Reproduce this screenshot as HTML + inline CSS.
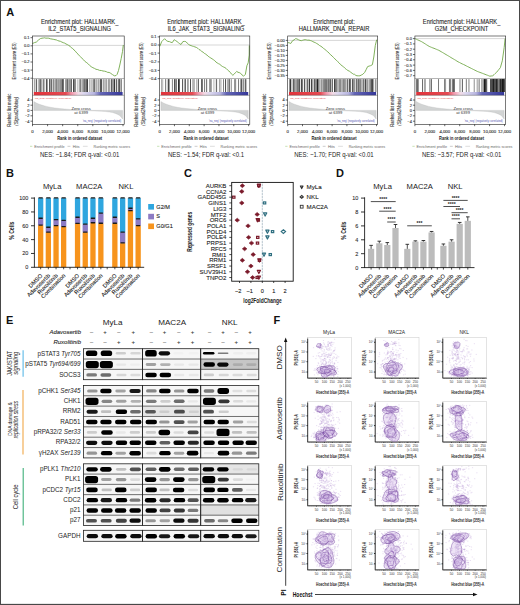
<!DOCTYPE html>
<html><head><meta charset="utf-8"><style>
html,body{margin:0;padding:0;background:#fff;width:520px;height:605px;overflow:hidden}
svg{display:block;font-family:"Liberation Sans", sans-serif}
</style></head><body>
<svg width="520" height="605" viewBox="0 0 520 605" font-family='"Liberation Sans", sans-serif'>
<rect width="520" height="605" fill="#fff"/>
<text x="6.30" y="15.70" font-size="11" text-anchor="start" fill="#111" font-weight="bold" >A</text>
<defs><linearGradient id="rb" x1="0" x2="1" y1="0" y2="0"><stop offset="0" stop-color="#e2323a"/><stop offset="0.36" stop-color="#e64a52"/><stop offset="0.43" stop-color="#f09aae"/><stop offset="0.5" stop-color="#f3dbe6"/><stop offset="0.56" stop-color="#dcd8ef"/><stop offset="0.68" stop-color="#b8b6e0"/><stop offset="0.75" stop-color="#6466b6"/><stop offset="1" stop-color="#35379a"/></linearGradient><filter id="hb" x="-5%" y="-5%" width="110%" height="110%"><feGaussianBlur stdDeviation="0.35"/></filter></defs>
<text x="79.65" y="24.20" font-size="6.6" text-anchor="middle" fill="#222" textLength="77.5" lengthAdjust="spacingAndGlyphs" stroke="#222" stroke-width="0.1" >Enrichment plot: HALLMARK_</text>
<text x="79.65" y="30.90" font-size="6.6" text-anchor="middle" fill="#222" textLength="62.9" lengthAdjust="spacingAndGlyphs" stroke="#222" stroke-width="0.1" >IL2_STAT5_SIGNALING</text>
<line x1="32.50" y1="45.40" x2="124.20" y2="45.40" stroke="#9a9a9a" stroke-width="0.4" />
<line x1="30.50" y1="37.70" x2="32.50" y2="37.70" stroke="#000" stroke-width="0.6" />
<text x="29.50" y="39.10" font-size="4.0" text-anchor="end" fill="#333" stroke="#333" stroke-width="0.1">0.1</text>
<line x1="30.50" y1="45.80" x2="32.50" y2="45.80" stroke="#000" stroke-width="0.6" />
<text x="29.50" y="47.20" font-size="4.0" text-anchor="end" fill="#333" stroke="#333" stroke-width="0.1">0.0</text>
<line x1="30.50" y1="53.90" x2="32.50" y2="53.90" stroke="#000" stroke-width="0.6" />
<text x="29.50" y="55.30" font-size="4.0" text-anchor="end" fill="#333" stroke="#333" stroke-width="0.1">−0.1</text>
<line x1="30.50" y1="62.00" x2="32.50" y2="62.00" stroke="#000" stroke-width="0.6" />
<text x="29.50" y="63.40" font-size="4.0" text-anchor="end" fill="#333" stroke="#333" stroke-width="0.1">−0.2</text>
<line x1="30.50" y1="70.10" x2="32.50" y2="70.10" stroke="#000" stroke-width="0.6" />
<text x="29.50" y="71.50" font-size="4.0" text-anchor="end" fill="#333" stroke="#333" stroke-width="0.1">−0.3</text>
<line x1="30.50" y1="78.20" x2="32.50" y2="78.20" stroke="#000" stroke-width="0.6" />
<text x="29.50" y="79.60" font-size="4.0" text-anchor="end" fill="#333" stroke="#333" stroke-width="0.1">−0.4</text>
<polyline points="32.5,43.5 34.5,42.6 36.3,42.1 38.5,40.0 40.4,38.6 42.0,38.2 43.5,38.0 44.7,37.8 45.9,38.2 47.1,38.1 48.8,38.2 50.5,38.8 52.1,39.1 53.8,39.4 55.0,39.7 56.3,39.9 57.5,40.5 59.0,41.0 60.4,41.3 61.9,42.1 63.3,42.7 64.6,43.1 66.0,44.0 67.3,44.5 68.7,45.4 70.0,46.2 71.3,47.7 72.7,48.5 74.0,50.0 75.4,51.2 76.7,52.9 78.1,54.2 79.4,55.8 80.7,57.0 82.0,58.3 83.4,59.6 84.8,61.3 86.2,62.3 87.8,63.5 89.5,65.3 91.2,66.7 92.9,67.7 94.5,68.4 96.0,69.3 97.8,69.6 99.6,70.4 101.3,70.5 103.0,71.0 104.7,71.2 106.4,71.7 107.7,72.4 109.1,72.4 110.4,73.1 112.5,74.6 114.4,75.8 116.0,75.6 117.1,74.4 118.5,70.5 119.8,65.0 121.2,58.5 122.5,51.5 123.3,45.0" fill="none" stroke="#72a848" stroke-width="0.9" stroke-linejoin="round"/>
<g filter="url(#hb)">
<rect x="33.90" y="79.10" width="0.71" height="12.90" fill="rgb(131,131,131)" stroke="none" stroke-width="0.6" />
<rect x="34.66" y="79.10" width="0.64" height="12.90" fill="rgb(141,141,141)" stroke="none" stroke-width="0.6" />
<rect x="35.96" y="79.10" width="0.90" height="12.90" fill="rgb(76,76,76)" stroke="none" stroke-width="0.6" />
<rect x="37.87" y="79.10" width="0.79" height="12.90" fill="rgb(149,149,149)" stroke="none" stroke-width="0.6" />
<rect x="39.29" y="79.10" width="0.82" height="12.90" fill="rgb(108,108,108)" stroke="none" stroke-width="0.6" />
<rect x="40.22" y="79.10" width="1.02" height="12.90" fill="rgb(73,73,73)" stroke="none" stroke-width="0.6" />
<rect x="41.56" y="79.10" width="0.78" height="12.90" fill="rgb(123,123,123)" stroke="none" stroke-width="0.6" />
<rect x="43.21" y="79.10" width="1.04" height="12.90" fill="rgb(93,93,93)" stroke="none" stroke-width="0.6" />
<rect x="44.31" y="79.10" width="0.64" height="12.90" fill="rgb(175,175,175)" stroke="none" stroke-width="0.6" />
<rect x="45.92" y="79.10" width="1.05" height="12.90" fill="rgb(71,71,71)" stroke="none" stroke-width="0.6" />
<rect x="46.83" y="79.10" width="0.85" height="12.90" fill="rgb(112,112,112)" stroke="none" stroke-width="0.6" />
<rect x="49.16" y="79.10" width="1.06" height="12.90" fill="rgb(59,59,59)" stroke="none" stroke-width="0.6" />
<rect x="50.03" y="79.10" width="1.09" height="12.90" fill="rgb(162,162,162)" stroke="none" stroke-width="0.6" />
<rect x="51.10" y="79.10" width="0.96" height="12.90" fill="rgb(94,94,94)" stroke="none" stroke-width="0.6" />
<rect x="52.73" y="79.10" width="0.64" height="12.90" fill="rgb(108,108,108)" stroke="none" stroke-width="0.6" />
<rect x="53.49" y="79.10" width="0.88" height="12.90" fill="rgb(84,84,84)" stroke="none" stroke-width="0.6" />
<rect x="55.53" y="79.10" width="1.04" height="12.90" fill="rgb(57,57,57)" stroke="none" stroke-width="0.6" />
<rect x="56.44" y="79.10" width="1.20" height="12.90" fill="rgb(123,123,123)" stroke="none" stroke-width="0.6" />
<rect x="58.41" y="79.10" width="1.03" height="12.90" fill="rgb(86,86,86)" stroke="none" stroke-width="0.6" />
<rect x="59.83" y="79.10" width="0.61" height="12.90" fill="rgb(94,94,94)" stroke="none" stroke-width="0.6" />
<rect x="60.66" y="79.10" width="0.97" height="12.90" fill="rgb(71,71,71)" stroke="none" stroke-width="0.6" />
<rect x="62.05" y="79.10" width="1.06" height="12.90" fill="rgb(77,77,77)" stroke="none" stroke-width="0.6" />
<rect x="62.95" y="79.10" width="0.84" height="12.90" fill="rgb(81,81,81)" stroke="none" stroke-width="0.6" />
<rect x="65.25" y="79.10" width="0.65" height="12.90" fill="rgb(113,113,113)" stroke="none" stroke-width="0.6" />
<rect x="66.03" y="79.10" width="0.77" height="12.90" fill="rgb(120,120,120)" stroke="none" stroke-width="0.6" />
<rect x="67.00" y="79.10" width="1.12" height="12.90" fill="rgb(105,105,105)" stroke="none" stroke-width="0.6" />
<rect x="68.51" y="79.10" width="1.19" height="12.90" fill="rgb(103,103,103)" stroke="none" stroke-width="0.6" />
<rect x="70.35" y="79.10" width="1.17" height="12.90" fill="rgb(98,98,98)" stroke="none" stroke-width="0.6" />
<rect x="71.05" y="79.10" width="0.69" height="12.90" fill="rgb(72,72,72)" stroke="none" stroke-width="0.6" />
<rect x="73.01" y="79.10" width="0.89" height="12.90" fill="rgb(51,51,51)" stroke="none" stroke-width="0.6" />
<rect x="74.27" y="79.10" width="0.77" height="12.90" fill="rgb(83,83,83)" stroke="none" stroke-width="0.6" />
<rect x="75.08" y="79.10" width="0.82" height="12.90" fill="rgb(118,118,118)" stroke="none" stroke-width="0.6" />
<rect x="76.93" y="79.10" width="0.68" height="12.90" fill="rgb(171,171,171)" stroke="none" stroke-width="0.6" />
<rect x="78.63" y="79.10" width="0.97" height="12.90" fill="rgb(171,171,171)" stroke="none" stroke-width="0.6" />
<rect x="79.76" y="79.10" width="0.87" height="12.90" fill="rgb(56,56,56)" stroke="none" stroke-width="0.6" />
<rect x="81.34" y="79.10" width="1.12" height="12.90" fill="rgb(171,171,171)" stroke="none" stroke-width="0.6" />
<rect x="82.60" y="79.10" width="0.84" height="12.90" fill="rgb(100,100,100)" stroke="none" stroke-width="0.6" />
<rect x="83.45" y="79.10" width="0.98" height="12.90" fill="rgb(111,111,111)" stroke="none" stroke-width="0.6" />
<rect x="84.40" y="79.10" width="1.19" height="12.90" fill="rgb(58,58,58)" stroke="none" stroke-width="0.6" />
<rect x="86.20" y="79.10" width="0.80" height="12.90" fill="rgb(64,64,64)" stroke="none" stroke-width="0.6" />
<rect x="87.08" y="79.10" width="0.94" height="12.90" fill="rgb(50,50,50)" stroke="none" stroke-width="0.6" />
<rect x="89.01" y="79.10" width="0.82" height="12.90" fill="rgb(171,171,171)" stroke="none" stroke-width="0.6" />
<rect x="89.73" y="79.10" width="0.72" height="12.90" fill="rgb(161,161,161)" stroke="none" stroke-width="0.6" />
<rect x="91.50" y="79.10" width="0.75" height="12.90" fill="rgb(131,131,131)" stroke="none" stroke-width="0.6" />
<rect x="92.82" y="79.10" width="0.88" height="12.90" fill="rgb(96,96,96)" stroke="none" stroke-width="0.6" />
<rect x="93.88" y="79.10" width="1.20" height="12.90" fill="rgb(112,112,112)" stroke="none" stroke-width="0.6" />
<rect x="95.65" y="79.10" width="0.79" height="12.90" fill="rgb(111,111,111)" stroke="none" stroke-width="0.6" />
<rect x="96.61" y="79.10" width="0.81" height="12.90" fill="rgb(145,145,145)" stroke="none" stroke-width="0.6" />
<rect x="98.10" y="79.10" width="1.02" height="12.90" fill="rgb(156,156,156)" stroke="none" stroke-width="0.6" />
<rect x="99.75" y="79.10" width="1.17" height="12.90" fill="rgb(76,76,76)" stroke="none" stroke-width="0.6" />
<rect x="101.11" y="79.10" width="1.01" height="12.90" fill="rgb(68,68,68)" stroke="none" stroke-width="0.6" />
<rect x="102.92" y="79.10" width="0.92" height="12.90" fill="rgb(147,147,147)" stroke="none" stroke-width="0.6" />
<rect x="104.34" y="79.10" width="0.65" height="12.90" fill="rgb(160,160,160)" stroke="none" stroke-width="0.6" />
<rect x="105.53" y="79.10" width="0.82" height="12.90" fill="rgb(116,116,116)" stroke="none" stroke-width="0.6" />
<rect x="106.05" y="79.10" width="0.73" height="12.90" fill="rgb(148,148,148)" stroke="none" stroke-width="0.6" />
<rect x="107.85" y="79.10" width="0.80" height="12.90" fill="rgb(114,114,114)" stroke="none" stroke-width="0.6" />
<rect x="108.81" y="79.10" width="1.07" height="12.90" fill="rgb(153,153,153)" stroke="none" stroke-width="0.6" />
<rect x="110.80" y="79.10" width="1.08" height="12.90" fill="rgb(74,74,74)" stroke="none" stroke-width="0.6" />
<rect x="112.22" y="79.10" width="1.08" height="12.90" fill="rgb(144,144,144)" stroke="none" stroke-width="0.6" />
<rect x="112.82" y="79.10" width="0.81" height="12.90" fill="rgb(113,113,113)" stroke="none" stroke-width="0.6" />
<rect x="113.96" y="79.10" width="1.07" height="12.90" fill="rgb(53,53,53)" stroke="none" stroke-width="0.6" />
<rect x="115.84" y="79.10" width="1.02" height="12.90" fill="rgb(74,74,74)" stroke="none" stroke-width="0.6" />
<rect x="117.77" y="79.10" width="1.09" height="12.90" fill="rgb(107,107,107)" stroke="none" stroke-width="0.6" />
<rect x="118.83" y="79.10" width="1.17" height="12.90" fill="rgb(94,94,94)" stroke="none" stroke-width="0.6" />
<rect x="119.75" y="79.10" width="0.66" height="12.90" fill="rgb(78,78,78)" stroke="none" stroke-width="0.6" />
<rect x="121.22" y="79.10" width="0.72" height="12.90" fill="rgb(93,93,93)" stroke="none" stroke-width="0.6" />
</g>
<rect x="33.80" y="92.00" width="88.80" height="3.30" fill="url(#rb)" stroke="none" stroke-width="0.6" />
<text x="34.80" y="98.50" font-size="2.2" text-anchor="start" fill="#d33" textLength="36.68" lengthAdjust="spacingAndGlyphs" >'na_pos' (positively correlated)</text>
<path d="M33.8,110.4 L33.8,101.5 C39.8,105.5 50.8,108.0 64.6,109.0 L81.4,110.4 L101.3,111.2 C113.2,112 119.6,113.5 122.6,119.0 L122.6,110.4 Z" fill="#d2d4d4" stroke="#b4b4b4" stroke-width="0.3"/>
<text x="81.15" y="109.60" font-size="4.1" text-anchor="middle" fill="#333" >Zero cross</text>
<text x="81.15" y="114.40" font-size="4.1" text-anchor="middle" fill="#333" >at 6399</text>
<text x="121.20" y="122.00" font-size="2.6" text-anchor="end" fill="#5050b0" textLength="38.514" lengthAdjust="spacingAndGlyphs" >'na_neg' (negatively correlated)</text>
<line x1="30.50" y1="100.00" x2="32.50" y2="100.00" stroke="#000" stroke-width="0.6" />
<text x="29.50" y="101.40" font-size="4.0" text-anchor="end" fill="#333" stroke="#333" stroke-width="0.1">4</text>
<line x1="30.50" y1="105.20" x2="32.50" y2="105.20" stroke="#000" stroke-width="0.6" />
<text x="29.50" y="106.60" font-size="4.0" text-anchor="end" fill="#333" stroke="#333" stroke-width="0.1">2</text>
<line x1="30.50" y1="110.40" x2="32.50" y2="110.40" stroke="#000" stroke-width="0.6" />
<text x="29.50" y="111.80" font-size="4.0" text-anchor="end" fill="#333" stroke="#333" stroke-width="0.1">0</text>
<line x1="30.50" y1="115.80" x2="32.50" y2="115.80" stroke="#000" stroke-width="0.6" />
<text x="29.50" y="117.20" font-size="4.0" text-anchor="end" fill="#333" stroke="#333" stroke-width="0.1">−2</text>
<line x1="30.50" y1="121.20" x2="32.50" y2="121.20" stroke="#000" stroke-width="0.6" />
<text x="29.50" y="122.60" font-size="4.0" text-anchor="end" fill="#333" stroke="#333" stroke-width="0.1">−4</text>
<rect x="32.50" y="36.00" width="91.70" height="88.40" fill="none" stroke="#222" stroke-width="0.6" />
<line x1="32.50" y1="78.50" x2="124.20" y2="78.50" stroke="#444" stroke-width="0.4" />
<line x1="32.50" y1="95.30" x2="124.20" y2="95.30" stroke="#444" stroke-width="0.4" />
<line x1="32.50" y1="124.40" x2="32.50" y2="126.20" stroke="#000" stroke-width="0.6" />
<text x="32.50" y="132.60" font-size="4.3" text-anchor="middle" fill="#333" stroke="#333" stroke-width="0.12">0</text>
<line x1="47.58" y1="124.40" x2="47.58" y2="126.20" stroke="#000" stroke-width="0.6" />
<text x="47.58" y="132.60" font-size="4.3" text-anchor="middle" fill="#333" stroke="#333" stroke-width="0.12">2,000</text>
<line x1="62.67" y1="124.40" x2="62.67" y2="126.20" stroke="#000" stroke-width="0.6" />
<text x="62.67" y="132.60" font-size="4.3" text-anchor="middle" fill="#333" stroke="#333" stroke-width="0.12">4,000</text>
<line x1="77.75" y1="124.40" x2="77.75" y2="126.20" stroke="#000" stroke-width="0.6" />
<text x="77.75" y="132.60" font-size="4.3" text-anchor="middle" fill="#333" stroke="#333" stroke-width="0.12">6,000</text>
<line x1="92.84" y1="124.40" x2="92.84" y2="126.20" stroke="#000" stroke-width="0.6" />
<text x="92.84" y="132.60" font-size="4.3" text-anchor="middle" fill="#333" stroke="#333" stroke-width="0.12">8,000</text>
<line x1="107.92" y1="124.40" x2="107.92" y2="126.20" stroke="#000" stroke-width="0.6" />
<text x="107.92" y="132.60" font-size="4.3" text-anchor="middle" fill="#333" stroke="#333" stroke-width="0.12">10,000</text>
<line x1="123.01" y1="124.40" x2="123.01" y2="126.20" stroke="#000" stroke-width="0.6" />
<text x="123.01" y="132.60" font-size="4.3" text-anchor="middle" fill="#333" stroke="#333" stroke-width="0.12">12,000</text>
<text x="79.65" y="139.60" font-size="6.0" text-anchor="middle" fill="#222" font-weight="bold" textLength="45" lengthAdjust="spacingAndGlyphs" >Rank in ordered dataset</text>
<text x="16.20" y="61.00" font-size="5.6" text-anchor="middle" fill="#333" textLength="37" lengthAdjust="spacingAndGlyphs" transform="rotate(-90 16.20 61.00)" stroke="#333" stroke-width="0.1" >Enrichment score (ES)</text>
<text x="11.20" y="110.20" font-size="5.6" text-anchor="middle" fill="#333" textLength="33" lengthAdjust="spacingAndGlyphs" transform="rotate(-90 11.20 110.20)" stroke="#333" stroke-width="0.1" >Ranked list metric</text>
<text x="18.20" y="111.30" font-size="5.4" text-anchor="middle" fill="#333" font-style="italic" textLength="29" lengthAdjust="spacingAndGlyphs" transform="rotate(-90 18.20 111.30)" stroke="#333" stroke-width="0.1" >(Signal2Noise)</text>
<line x1="30.00" y1="146.30" x2="32.30" y2="146.30" stroke="#8cc46a" stroke-width="0.5" />
<text x="34.20" y="147.50" font-size="3.6" text-anchor="start" fill="#666" textLength="30.4" lengthAdjust="spacingAndGlyphs" >Enrichment profile</text>
<line x1="67.50" y1="146.30" x2="70.40" y2="146.30" stroke="#999" stroke-width="0.5" />
<text x="72.70" y="147.50" font-size="3.6" text-anchor="start" fill="#666" textLength="6.9" lengthAdjust="spacingAndGlyphs" >Hits</text>
<line x1="82.90" y1="146.30" x2="87.70" y2="146.30" stroke="#bbb" stroke-width="0.5" />
<text x="93.50" y="147.50" font-size="3.6" text-anchor="start" fill="#666" textLength="36.5" lengthAdjust="spacingAndGlyphs" >Ranking metric scores</text>
<text x="79.65" y="157.00" font-size="7.0" text-anchor="middle" fill="#222" textLength="79.4" lengthAdjust="spacingAndGlyphs" >NES: −1.84; FDR q-val: &lt;0.01</text>
<text x="206.00" y="24.20" font-size="6.6" text-anchor="middle" fill="#222" textLength="77.5" lengthAdjust="spacingAndGlyphs" stroke="#222" stroke-width="0.1" >Enrichment plot: HALLMARK_</text>
<text x="206.00" y="30.90" font-size="6.6" text-anchor="middle" fill="#222" textLength="76.7" lengthAdjust="spacingAndGlyphs" stroke="#222" stroke-width="0.1" >IL6_JAK_STAT3_SIGNALING</text>
<line x1="159.60" y1="45.00" x2="249.80" y2="45.00" stroke="#9a9a9a" stroke-width="0.4" />
<line x1="157.60" y1="36.90" x2="159.60" y2="36.90" stroke="#000" stroke-width="0.6" />
<text x="156.60" y="38.30" font-size="4.0" text-anchor="end" fill="#333" stroke="#333" stroke-width="0.1">0.1</text>
<line x1="157.60" y1="45.00" x2="159.60" y2="45.00" stroke="#000" stroke-width="0.6" />
<text x="156.60" y="46.40" font-size="4.0" text-anchor="end" fill="#333" stroke="#333" stroke-width="0.1">0.0</text>
<line x1="157.60" y1="53.10" x2="159.60" y2="53.10" stroke="#000" stroke-width="0.6" />
<text x="156.60" y="54.50" font-size="4.0" text-anchor="end" fill="#333" stroke="#333" stroke-width="0.1">−0.1</text>
<line x1="157.60" y1="61.90" x2="159.60" y2="61.90" stroke="#000" stroke-width="0.6" />
<text x="156.60" y="63.30" font-size="4.0" text-anchor="end" fill="#333" stroke="#333" stroke-width="0.1">−0.2</text>
<line x1="157.60" y1="70.40" x2="159.60" y2="70.40" stroke="#000" stroke-width="0.6" />
<text x="156.60" y="71.80" font-size="4.0" text-anchor="end" fill="#333" stroke="#333" stroke-width="0.1">−0.3</text>
<line x1="157.60" y1="78.70" x2="159.60" y2="78.70" stroke="#000" stroke-width="0.6" />
<text x="156.60" y="80.10" font-size="4.0" text-anchor="end" fill="#333" stroke="#333" stroke-width="0.1">−0.4</text>
<polyline points="159.8,46.4 161.7,41.6 163.1,40.2 164.6,38.7 166.5,40.7 167.9,41.4 169.4,41.6 170.9,42.3 172.3,42.6 174.2,39.7 175.6,40.6 177.1,41.6 178.4,42.7 179.7,43.7 181.0,44.5 182.9,41.6 184.4,41.4 185.8,41.6 187.2,43.1 188.7,44.5 189.9,45.2 191.1,45.6 192.3,46.1 193.5,46.4 194.9,46.9 196.3,47.4 197.7,48.2 199.0,49.5 200.4,50.2 201.7,51.4 203.1,52.2 204.4,53.4 205.7,54.1 206.9,55.0 208.2,56.3 209.5,57.2 210.8,58.0 212.1,58.8 213.4,59.7 214.7,60.6 215.9,62.0 217.2,62.9 218.5,63.7 219.8,64.3 221.1,65.5 222.3,66.4 223.6,67.0 224.9,67.6 226.2,68.5 227.5,69.9 228.9,71.0 230.2,72.3 231.6,74.2 232.9,75.3 234.2,74.1 235.4,72.7 236.7,71.4 238.0,72.3 239.3,72.6 240.6,73.3 242.1,75.0 243.5,76.2 245.4,74.3 246.9,65.7 248.2,62.8 249.2,55.1 249.3,45.5" fill="none" stroke="#72a848" stroke-width="0.9" stroke-linejoin="round"/>
<g filter="url(#hb)">
<rect x="161.51" y="79.10" width="0.62" height="12.90" fill="rgb(89,89,89)" stroke="none" stroke-width="0.6" />
<rect x="162.44" y="79.10" width="0.74" height="12.90" fill="rgb(163,163,163)" stroke="none" stroke-width="0.6" />
<rect x="165.22" y="79.10" width="0.93" height="12.90" fill="rgb(101,101,101)" stroke="none" stroke-width="0.6" />
<rect x="167.76" y="79.10" width="1.15" height="12.90" fill="rgb(50,50,50)" stroke="none" stroke-width="0.6" />
<rect x="168.94" y="79.10" width="1.00" height="12.90" fill="rgb(152,152,152)" stroke="none" stroke-width="0.6" />
<rect x="171.88" y="79.10" width="1.10" height="12.90" fill="rgb(142,142,142)" stroke="none" stroke-width="0.6" />
<rect x="174.08" y="79.10" width="0.92" height="12.90" fill="rgb(68,68,68)" stroke="none" stroke-width="0.6" />
<rect x="175.49" y="79.10" width="1.12" height="12.90" fill="rgb(39,39,39)" stroke="none" stroke-width="0.6" />
<rect x="178.05" y="79.10" width="1.07" height="12.90" fill="rgb(36,36,36)" stroke="none" stroke-width="0.6" />
<rect x="178.95" y="79.10" width="0.88" height="12.90" fill="rgb(71,71,71)" stroke="none" stroke-width="0.6" />
<rect x="182.11" y="79.10" width="0.80" height="12.90" fill="rgb(50,50,50)" stroke="none" stroke-width="0.6" />
<rect x="183.80" y="79.10" width="1.07" height="12.90" fill="rgb(158,158,158)" stroke="none" stroke-width="0.6" />
<rect x="185.11" y="79.10" width="0.75" height="12.90" fill="rgb(49,49,49)" stroke="none" stroke-width="0.6" />
<rect x="187.50" y="79.10" width="0.90" height="12.90" fill="rgb(60,60,60)" stroke="none" stroke-width="0.6" />
<rect x="190.12" y="79.10" width="0.87" height="12.90" fill="rgb(51,51,51)" stroke="none" stroke-width="0.6" />
<rect x="192.29" y="79.10" width="0.96" height="12.90" fill="rgb(164,164,164)" stroke="none" stroke-width="0.6" />
<rect x="193.59" y="79.10" width="0.87" height="12.90" fill="rgb(105,105,105)" stroke="none" stroke-width="0.6" />
<rect x="196.30" y="79.10" width="0.90" height="12.90" fill="rgb(157,157,157)" stroke="none" stroke-width="0.6" />
<rect x="197.84" y="79.10" width="1.15" height="12.90" fill="rgb(101,101,101)" stroke="none" stroke-width="0.6" />
<rect x="201.13" y="79.10" width="1.10" height="12.90" fill="rgb(86,86,86)" stroke="none" stroke-width="0.6" />
<rect x="201.79" y="79.10" width="0.84" height="12.90" fill="rgb(66,66,66)" stroke="none" stroke-width="0.6" />
<rect x="204.21" y="79.10" width="0.86" height="12.90" fill="rgb(96,96,96)" stroke="none" stroke-width="0.6" />
<rect x="206.09" y="79.10" width="1.07" height="12.90" fill="rgb(112,112,112)" stroke="none" stroke-width="0.6" />
<rect x="209.45" y="79.10" width="1.16" height="12.90" fill="rgb(74,74,74)" stroke="none" stroke-width="0.6" />
<rect x="211.05" y="79.10" width="0.69" height="12.90" fill="rgb(128,128,128)" stroke="none" stroke-width="0.6" />
<rect x="213.58" y="79.10" width="0.73" height="12.90" fill="rgb(154,154,154)" stroke="none" stroke-width="0.6" />
<rect x="215.79" y="79.10" width="1.13" height="12.90" fill="rgb(136,136,136)" stroke="none" stroke-width="0.6" />
<rect x="216.39" y="79.10" width="0.70" height="12.90" fill="rgb(92,92,92)" stroke="none" stroke-width="0.6" />
<rect x="218.97" y="79.10" width="0.80" height="12.90" fill="rgb(138,138,138)" stroke="none" stroke-width="0.6" />
<rect x="220.61" y="79.10" width="0.66" height="12.90" fill="rgb(116,116,116)" stroke="none" stroke-width="0.6" />
<rect x="223.01" y="79.10" width="0.93" height="12.90" fill="rgb(121,121,121)" stroke="none" stroke-width="0.6" />
<rect x="225.22" y="79.10" width="0.83" height="12.90" fill="rgb(39,39,39)" stroke="none" stroke-width="0.6" />
<rect x="227.45" y="79.10" width="0.91" height="12.90" fill="rgb(110,110,110)" stroke="none" stroke-width="0.6" />
<rect x="228.68" y="79.10" width="1.18" height="12.90" fill="rgb(93,93,93)" stroke="none" stroke-width="0.6" />
<rect x="230.83" y="79.10" width="0.76" height="12.90" fill="rgb(102,102,102)" stroke="none" stroke-width="0.6" />
<rect x="234.41" y="79.10" width="0.76" height="12.90" fill="rgb(81,81,81)" stroke="none" stroke-width="0.6" />
<rect x="235.04" y="79.10" width="1.11" height="12.90" fill="rgb(143,143,143)" stroke="none" stroke-width="0.6" />
<rect x="238.14" y="79.10" width="0.84" height="12.90" fill="rgb(101,101,101)" stroke="none" stroke-width="0.6" />
<rect x="239.95" y="79.10" width="1.02" height="12.90" fill="rgb(161,161,161)" stroke="none" stroke-width="0.6" />
<rect x="241.20" y="79.10" width="1.08" height="12.90" fill="rgb(49,49,49)" stroke="none" stroke-width="0.6" />
<rect x="243.45" y="79.10" width="0.76" height="12.90" fill="rgb(53,53,53)" stroke="none" stroke-width="0.6" />
<rect x="245.22" y="79.10" width="1.08" height="12.90" fill="rgb(57,57,57)" stroke="none" stroke-width="0.6" />
</g>
<rect x="160.90" y="92.00" width="87.30" height="3.30" fill="url(#rb)" stroke="none" stroke-width="0.6" />
<text x="161.90" y="98.50" font-size="2.2" text-anchor="start" fill="#d33" textLength="36.080000000000005" lengthAdjust="spacingAndGlyphs" >'na_pos' (positively correlated)</text>
<path d="M160.9,110.4 L160.9,101.5 C166.8,105.5 177.6,108.0 191.2,109.0 L207.7,110.4 L227.2,111.2 C239.0,112 245.3,113.5 248.2,119.0 L248.2,110.4 Z" fill="#d2d4d4" stroke="#b4b4b4" stroke-width="0.3"/>
<text x="207.50" y="109.60" font-size="4.1" text-anchor="middle" fill="#333" >Zero cross</text>
<text x="207.50" y="114.40" font-size="4.1" text-anchor="middle" fill="#333" >at 6399</text>
<text x="246.80" y="122.00" font-size="2.6" text-anchor="end" fill="#5050b0" textLength="37.88400000000001" lengthAdjust="spacingAndGlyphs" >'na_neg' (negatively correlated)</text>
<line x1="157.60" y1="100.00" x2="159.60" y2="100.00" stroke="#000" stroke-width="0.6" />
<text x="156.60" y="101.40" font-size="4.0" text-anchor="end" fill="#333" stroke="#333" stroke-width="0.1">4</text>
<line x1="157.60" y1="105.20" x2="159.60" y2="105.20" stroke="#000" stroke-width="0.6" />
<text x="156.60" y="106.60" font-size="4.0" text-anchor="end" fill="#333" stroke="#333" stroke-width="0.1">2</text>
<line x1="157.60" y1="110.40" x2="159.60" y2="110.40" stroke="#000" stroke-width="0.6" />
<text x="156.60" y="111.80" font-size="4.0" text-anchor="end" fill="#333" stroke="#333" stroke-width="0.1">0</text>
<line x1="157.60" y1="115.80" x2="159.60" y2="115.80" stroke="#000" stroke-width="0.6" />
<text x="156.60" y="117.20" font-size="4.0" text-anchor="end" fill="#333" stroke="#333" stroke-width="0.1">−2</text>
<line x1="157.60" y1="121.20" x2="159.60" y2="121.20" stroke="#000" stroke-width="0.6" />
<text x="156.60" y="122.60" font-size="4.0" text-anchor="end" fill="#333" stroke="#333" stroke-width="0.1">−4</text>
<rect x="159.60" y="36.00" width="90.20" height="88.40" fill="none" stroke="#222" stroke-width="0.6" />
<line x1="159.60" y1="78.50" x2="249.80" y2="78.50" stroke="#444" stroke-width="0.4" />
<line x1="159.60" y1="95.30" x2="249.80" y2="95.30" stroke="#444" stroke-width="0.4" />
<line x1="159.60" y1="124.40" x2="159.60" y2="126.20" stroke="#000" stroke-width="0.6" />
<text x="159.60" y="132.60" font-size="4.3" text-anchor="middle" fill="#333" stroke="#333" stroke-width="0.12">0</text>
<line x1="174.44" y1="124.40" x2="174.44" y2="126.20" stroke="#000" stroke-width="0.6" />
<text x="174.44" y="132.60" font-size="4.3" text-anchor="middle" fill="#333" stroke="#333" stroke-width="0.12">2,000</text>
<line x1="189.28" y1="124.40" x2="189.28" y2="126.20" stroke="#000" stroke-width="0.6" />
<text x="189.28" y="132.60" font-size="4.3" text-anchor="middle" fill="#333" stroke="#333" stroke-width="0.12">4,000</text>
<line x1="204.11" y1="124.40" x2="204.11" y2="126.20" stroke="#000" stroke-width="0.6" />
<text x="204.11" y="132.60" font-size="4.3" text-anchor="middle" fill="#333" stroke="#333" stroke-width="0.12">6,000</text>
<line x1="218.95" y1="124.40" x2="218.95" y2="126.20" stroke="#000" stroke-width="0.6" />
<text x="218.95" y="132.60" font-size="4.3" text-anchor="middle" fill="#333" stroke="#333" stroke-width="0.12">8,000</text>
<line x1="233.79" y1="124.40" x2="233.79" y2="126.20" stroke="#000" stroke-width="0.6" />
<text x="233.79" y="132.60" font-size="4.3" text-anchor="middle" fill="#333" stroke="#333" stroke-width="0.12">10,000</text>
<line x1="248.63" y1="124.40" x2="248.63" y2="126.20" stroke="#000" stroke-width="0.6" />
<text x="248.63" y="132.60" font-size="4.3" text-anchor="middle" fill="#333" stroke="#333" stroke-width="0.12">12,000</text>
<text x="206.00" y="139.60" font-size="6.0" text-anchor="middle" fill="#222" font-weight="bold" textLength="45" lengthAdjust="spacingAndGlyphs" >Rank in ordered dataset</text>
<text x="143.30" y="61.00" font-size="5.6" text-anchor="middle" fill="#333" textLength="37" lengthAdjust="spacingAndGlyphs" transform="rotate(-90 143.30 61.00)" stroke="#333" stroke-width="0.1" >Enrichment score (ES)</text>
<text x="138.30" y="110.20" font-size="5.6" text-anchor="middle" fill="#333" textLength="33" lengthAdjust="spacingAndGlyphs" transform="rotate(-90 138.30 110.20)" stroke="#333" stroke-width="0.1" >Ranked list metric</text>
<text x="145.30" y="111.30" font-size="5.4" text-anchor="middle" fill="#333" font-style="italic" textLength="29" lengthAdjust="spacingAndGlyphs" transform="rotate(-90 145.30 111.30)" stroke="#333" stroke-width="0.1" >(Signal2Noise)</text>
<line x1="157.10" y1="146.30" x2="159.40" y2="146.30" stroke="#8cc46a" stroke-width="0.5" />
<text x="161.30" y="147.50" font-size="3.6" text-anchor="start" fill="#666" textLength="30.4" lengthAdjust="spacingAndGlyphs" >Enrichment profile</text>
<line x1="194.60" y1="146.30" x2="197.50" y2="146.30" stroke="#999" stroke-width="0.5" />
<text x="199.80" y="147.50" font-size="3.6" text-anchor="start" fill="#666" textLength="6.9" lengthAdjust="spacingAndGlyphs" >Hits</text>
<line x1="210.00" y1="146.30" x2="214.80" y2="146.30" stroke="#bbb" stroke-width="0.5" />
<text x="220.60" y="147.50" font-size="3.6" text-anchor="start" fill="#666" textLength="36.5" lengthAdjust="spacingAndGlyphs" >Ranking metric scores</text>
<text x="206.00" y="157.00" font-size="7.0" text-anchor="middle" fill="#222" textLength="76.1" lengthAdjust="spacingAndGlyphs" >NES: −1.54; FDR q-val: &lt;0.1</text>
<text x="334.00" y="24.20" font-size="6.6" text-anchor="middle" fill="#222" textLength="41.6" lengthAdjust="spacingAndGlyphs" stroke="#222" stroke-width="0.1" >Enrichment plot:</text>
<text x="334.00" y="30.90" font-size="6.6" text-anchor="middle" fill="#222" textLength="70.7" lengthAdjust="spacingAndGlyphs" stroke="#222" stroke-width="0.1" >HALLMARK_DNA_REPAIR</text>
<line x1="287.70" y1="40.40" x2="377.70" y2="40.40" stroke="#9a9a9a" stroke-width="0.4" />
<line x1="285.70" y1="40.40" x2="287.70" y2="40.40" stroke="#000" stroke-width="0.6" />
<text x="284.70" y="41.80" font-size="4.0" text-anchor="end" fill="#333" stroke="#333" stroke-width="0.1">0.00</text>
<line x1="285.70" y1="45.40" x2="287.70" y2="45.40" stroke="#000" stroke-width="0.6" />
<text x="284.70" y="46.80" font-size="4.0" text-anchor="end" fill="#333" stroke="#333" stroke-width="0.1">−0.05</text>
<line x1="285.70" y1="50.40" x2="287.70" y2="50.40" stroke="#000" stroke-width="0.6" />
<text x="284.70" y="51.80" font-size="4.0" text-anchor="end" fill="#333" stroke="#333" stroke-width="0.1">−0.10</text>
<line x1="285.70" y1="55.40" x2="287.70" y2="55.40" stroke="#000" stroke-width="0.6" />
<text x="284.70" y="56.80" font-size="4.0" text-anchor="end" fill="#333" stroke="#333" stroke-width="0.1">−0.15</text>
<line x1="285.70" y1="60.40" x2="287.70" y2="60.40" stroke="#000" stroke-width="0.6" />
<text x="284.70" y="61.80" font-size="4.0" text-anchor="end" fill="#333" stroke="#333" stroke-width="0.1">−0.20</text>
<line x1="285.70" y1="65.40" x2="287.70" y2="65.40" stroke="#000" stroke-width="0.6" />
<text x="284.70" y="66.80" font-size="4.0" text-anchor="end" fill="#333" stroke="#333" stroke-width="0.1">−0.25</text>
<line x1="285.70" y1="70.40" x2="287.70" y2="70.40" stroke="#000" stroke-width="0.6" />
<text x="284.70" y="71.80" font-size="4.0" text-anchor="end" fill="#333" stroke="#333" stroke-width="0.1">−0.30</text>
<line x1="285.70" y1="75.40" x2="287.70" y2="75.40" stroke="#000" stroke-width="0.6" />
<text x="284.70" y="76.80" font-size="4.0" text-anchor="end" fill="#333" stroke="#333" stroke-width="0.1">−0.35</text>
<polyline points="287.8,42.6 289.2,42.8 290.7,43.5 292.6,40.7 294.1,39.9 295.5,38.7 296.9,38.9 298.4,39.7 299.9,40.4 301.3,40.7 302.6,40.3 303.8,39.9 305.1,39.7 306.4,39.9 307.7,40.2 309.0,40.1 310.3,40.5 311.5,40.9 312.8,41.6 314.1,42.2 315.4,42.7 316.7,43.5 318.1,44.3 319.5,45.5 320.8,46.2 322.1,47.1 323.4,48.3 324.8,49.3 326.3,50.6 327.8,51.9 329.2,53.2 330.6,54.8 332.0,55.9 333.5,57.5 334.9,58.9 336.3,60.2 337.8,61.7 339.2,63.0 340.7,64.7 342.1,65.8 343.6,66.8 345.1,68.4 346.5,69.5 347.9,70.5 349.4,71.2 350.8,72.3 352.2,73.3 353.4,74.2 354.6,74.3 355.8,75.4 357.0,75.8 358.4,75.8 359.9,75.8 361.4,75.0 362.8,74.3 364.7,72.4 366.1,69.7 367.6,66.6 369.1,66.1 370.5,65.7 372.4,64.7 373.8,57.0 375.3,45.5 376.7,39.7" fill="none" stroke="#72a848" stroke-width="0.9" stroke-linejoin="round"/>
<g filter="url(#hb)">
<rect x="289.01" y="79.10" width="0.73" height="12.90" fill="rgb(118,118,118)" stroke="none" stroke-width="0.6" />
<rect x="289.92" y="79.10" width="1.10" height="12.90" fill="rgb(55,55,55)" stroke="none" stroke-width="0.6" />
<rect x="291.64" y="79.10" width="0.68" height="12.90" fill="rgb(111,111,111)" stroke="none" stroke-width="0.6" />
<rect x="293.16" y="79.10" width="1.10" height="12.90" fill="rgb(36,36,36)" stroke="none" stroke-width="0.6" />
<rect x="293.31" y="79.10" width="1.04" height="12.90" fill="rgb(110,110,110)" stroke="none" stroke-width="0.6" />
<rect x="294.78" y="79.10" width="0.63" height="12.90" fill="rgb(50,50,50)" stroke="none" stroke-width="0.6" />
<rect x="296.44" y="79.10" width="1.12" height="12.90" fill="rgb(78,78,78)" stroke="none" stroke-width="0.6" />
<rect x="297.65" y="79.10" width="0.96" height="12.90" fill="rgb(66,66,66)" stroke="none" stroke-width="0.6" />
<rect x="298.89" y="79.10" width="0.88" height="12.90" fill="rgb(35,35,35)" stroke="none" stroke-width="0.6" />
<rect x="299.51" y="79.10" width="0.60" height="12.90" fill="rgb(87,87,87)" stroke="none" stroke-width="0.6" />
<rect x="300.95" y="79.10" width="1.18" height="12.90" fill="rgb(72,72,72)" stroke="none" stroke-width="0.6" />
<rect x="302.36" y="79.10" width="0.62" height="12.90" fill="rgb(61,61,61)" stroke="none" stroke-width="0.6" />
<rect x="303.93" y="79.10" width="0.81" height="12.90" fill="rgb(57,57,57)" stroke="none" stroke-width="0.6" />
<rect x="304.18" y="79.10" width="0.65" height="12.90" fill="rgb(78,78,78)" stroke="none" stroke-width="0.6" />
<rect x="305.70" y="79.10" width="0.72" height="12.90" fill="rgb(113,113,113)" stroke="none" stroke-width="0.6" />
<rect x="307.15" y="79.10" width="0.65" height="12.90" fill="rgb(30,30,30)" stroke="none" stroke-width="0.6" />
<rect x="308.70" y="79.10" width="0.84" height="12.90" fill="rgb(48,48,48)" stroke="none" stroke-width="0.6" />
<rect x="309.07" y="79.10" width="0.78" height="12.90" fill="rgb(32,32,32)" stroke="none" stroke-width="0.6" />
<rect x="310.92" y="79.10" width="0.95" height="12.90" fill="rgb(40,40,40)" stroke="none" stroke-width="0.6" />
<rect x="312.02" y="79.10" width="0.69" height="12.90" fill="rgb(126,126,126)" stroke="none" stroke-width="0.6" />
<rect x="313.62" y="79.10" width="1.13" height="12.90" fill="rgb(130,130,130)" stroke="none" stroke-width="0.6" />
<rect x="314.28" y="79.10" width="1.03" height="12.90" fill="rgb(71,71,71)" stroke="none" stroke-width="0.6" />
<rect x="315.61" y="79.10" width="1.03" height="12.90" fill="rgb(66,66,66)" stroke="none" stroke-width="0.6" />
<rect x="316.98" y="79.10" width="1.09" height="12.90" fill="rgb(35,35,35)" stroke="none" stroke-width="0.6" />
<rect x="318.27" y="79.10" width="0.98" height="12.90" fill="rgb(95,95,95)" stroke="none" stroke-width="0.6" />
<rect x="319.50" y="79.10" width="0.90" height="12.90" fill="rgb(133,133,133)" stroke="none" stroke-width="0.6" />
<rect x="320.90" y="79.10" width="0.90" height="12.90" fill="rgb(126,126,126)" stroke="none" stroke-width="0.6" />
<rect x="322.03" y="79.10" width="0.61" height="12.90" fill="rgb(132,132,132)" stroke="none" stroke-width="0.6" />
<rect x="323.08" y="79.10" width="1.14" height="12.90" fill="rgb(132,132,132)" stroke="none" stroke-width="0.6" />
<rect x="324.28" y="79.10" width="0.99" height="12.90" fill="rgb(118,118,118)" stroke="none" stroke-width="0.6" />
<rect x="324.84" y="79.10" width="0.68" height="12.90" fill="rgb(35,35,35)" stroke="none" stroke-width="0.6" />
<rect x="326.35" y="79.10" width="0.83" height="12.90" fill="rgb(43,43,43)" stroke="none" stroke-width="0.6" />
<rect x="327.66" y="79.10" width="0.98" height="12.90" fill="rgb(36,36,36)" stroke="none" stroke-width="0.6" />
<rect x="329.06" y="79.10" width="0.75" height="12.90" fill="rgb(117,117,117)" stroke="none" stroke-width="0.6" />
<rect x="329.87" y="79.10" width="1.08" height="12.90" fill="rgb(88,88,88)" stroke="none" stroke-width="0.6" />
<rect x="331.61" y="79.10" width="1.14" height="12.90" fill="rgb(94,94,94)" stroke="none" stroke-width="0.6" />
<rect x="332.11" y="79.10" width="0.64" height="12.90" fill="rgb(97,97,97)" stroke="none" stroke-width="0.6" />
<rect x="334.02" y="79.10" width="1.09" height="12.90" fill="rgb(62,62,62)" stroke="none" stroke-width="0.6" />
<rect x="335.35" y="79.10" width="1.04" height="12.90" fill="rgb(60,60,60)" stroke="none" stroke-width="0.6" />
<rect x="335.86" y="79.10" width="0.99" height="12.90" fill="rgb(124,124,124)" stroke="none" stroke-width="0.6" />
<rect x="337.35" y="79.10" width="0.83" height="12.90" fill="rgb(138,138,138)" stroke="none" stroke-width="0.6" />
<rect x="338.58" y="79.10" width="0.77" height="12.90" fill="rgb(117,117,117)" stroke="none" stroke-width="0.6" />
<rect x="339.31" y="79.10" width="0.99" height="12.90" fill="rgb(110,110,110)" stroke="none" stroke-width="0.6" />
<rect x="340.56" y="79.10" width="0.80" height="12.90" fill="rgb(48,48,48)" stroke="none" stroke-width="0.6" />
<rect x="342.39" y="79.10" width="0.78" height="12.90" fill="rgb(118,118,118)" stroke="none" stroke-width="0.6" />
<rect x="343.51" y="79.10" width="0.89" height="12.90" fill="rgb(31,31,31)" stroke="none" stroke-width="0.6" />
<rect x="344.63" y="79.10" width="0.66" height="12.90" fill="rgb(116,116,116)" stroke="none" stroke-width="0.6" />
<rect x="345.55" y="79.10" width="0.77" height="12.90" fill="rgb(92,92,92)" stroke="none" stroke-width="0.6" />
<rect x="347.08" y="79.10" width="0.88" height="12.90" fill="rgb(89,89,89)" stroke="none" stroke-width="0.6" />
<rect x="348.57" y="79.10" width="0.93" height="12.90" fill="rgb(144,144,144)" stroke="none" stroke-width="0.6" />
<rect x="349.28" y="79.10" width="1.16" height="12.90" fill="rgb(40,40,40)" stroke="none" stroke-width="0.6" />
<rect x="350.17" y="79.10" width="0.65" height="12.90" fill="rgb(88,88,88)" stroke="none" stroke-width="0.6" />
<rect x="351.91" y="79.10" width="1.20" height="12.90" fill="rgb(87,87,87)" stroke="none" stroke-width="0.6" />
<rect x="352.99" y="79.10" width="1.17" height="12.90" fill="rgb(147,147,147)" stroke="none" stroke-width="0.6" />
<rect x="354.01" y="79.10" width="0.65" height="12.90" fill="rgb(104,104,104)" stroke="none" stroke-width="0.6" />
<rect x="355.80" y="79.10" width="1.17" height="12.90" fill="rgb(63,63,63)" stroke="none" stroke-width="0.6" />
<rect x="356.34" y="79.10" width="0.98" height="12.90" fill="rgb(134,134,134)" stroke="none" stroke-width="0.6" />
<rect x="357.71" y="79.10" width="1.02" height="12.90" fill="rgb(44,44,44)" stroke="none" stroke-width="0.6" />
<rect x="358.87" y="79.10" width="1.13" height="12.90" fill="rgb(144,144,144)" stroke="none" stroke-width="0.6" />
<rect x="360.26" y="79.10" width="0.60" height="12.90" fill="rgb(50,50,50)" stroke="none" stroke-width="0.6" />
<rect x="361.57" y="79.10" width="0.84" height="12.90" fill="rgb(87,87,87)" stroke="none" stroke-width="0.6" />
<rect x="363.04" y="79.10" width="0.81" height="12.90" fill="rgb(83,83,83)" stroke="none" stroke-width="0.6" />
<rect x="363.80" y="79.10" width="0.80" height="12.90" fill="rgb(137,137,137)" stroke="none" stroke-width="0.6" />
<rect x="365.02" y="79.10" width="1.10" height="12.90" fill="rgb(73,73,73)" stroke="none" stroke-width="0.6" />
<rect x="366.01" y="79.10" width="0.72" height="12.90" fill="rgb(148,148,148)" stroke="none" stroke-width="0.6" />
<rect x="367.10" y="79.10" width="0.77" height="12.90" fill="rgb(124,124,124)" stroke="none" stroke-width="0.6" />
<rect x="368.70" y="79.10" width="0.83" height="12.90" fill="rgb(80,80,80)" stroke="none" stroke-width="0.6" />
<rect x="370.45" y="79.10" width="0.82" height="12.90" fill="rgb(39,39,39)" stroke="none" stroke-width="0.6" />
<rect x="371.18" y="79.10" width="1.11" height="12.90" fill="rgb(65,65,65)" stroke="none" stroke-width="0.6" />
<rect x="372.23" y="79.10" width="1.10" height="12.90" fill="rgb(36,36,36)" stroke="none" stroke-width="0.6" />
<rect x="373.45" y="79.10" width="0.69" height="12.90" fill="rgb(149,149,149)" stroke="none" stroke-width="0.6" />
<rect x="375.40" y="79.10" width="0.91" height="12.90" fill="rgb(85,85,85)" stroke="none" stroke-width="0.6" />
</g>
<rect x="289.00" y="92.00" width="87.10" height="3.30" fill="url(#rb)" stroke="none" stroke-width="0.6" />
<text x="290.00" y="98.50" font-size="2.2" text-anchor="start" fill="#d33" textLength="36.0" lengthAdjust="spacingAndGlyphs" >'na_pos' (positively correlated)</text>
<path d="M289.0,110.4 L289.0,101.5 C294.9,105.5 305.7,108.0 319.2,109.0 L335.7,110.4 L355.2,111.2 C366.9,112 373.2,113.5 376.1,119.0 L376.1,110.4 Z" fill="#d2d4d4" stroke="#b4b4b4" stroke-width="0.3"/>
<text x="335.50" y="109.60" font-size="4.1" text-anchor="middle" fill="#333" >Zero cross</text>
<text x="335.50" y="114.40" font-size="4.1" text-anchor="middle" fill="#333" >at 6399</text>
<text x="374.70" y="122.00" font-size="2.6" text-anchor="end" fill="#5050b0" textLength="37.8" lengthAdjust="spacingAndGlyphs" >'na_neg' (negatively correlated)</text>
<line x1="285.70" y1="100.00" x2="287.70" y2="100.00" stroke="#000" stroke-width="0.6" />
<text x="284.70" y="101.40" font-size="4.0" text-anchor="end" fill="#333" stroke="#333" stroke-width="0.1">4</text>
<line x1="285.70" y1="105.20" x2="287.70" y2="105.20" stroke="#000" stroke-width="0.6" />
<text x="284.70" y="106.60" font-size="4.0" text-anchor="end" fill="#333" stroke="#333" stroke-width="0.1">2</text>
<line x1="285.70" y1="110.40" x2="287.70" y2="110.40" stroke="#000" stroke-width="0.6" />
<text x="284.70" y="111.80" font-size="4.0" text-anchor="end" fill="#333" stroke="#333" stroke-width="0.1">0</text>
<line x1="285.70" y1="115.80" x2="287.70" y2="115.80" stroke="#000" stroke-width="0.6" />
<text x="284.70" y="117.20" font-size="4.0" text-anchor="end" fill="#333" stroke="#333" stroke-width="0.1">−2</text>
<line x1="285.70" y1="121.20" x2="287.70" y2="121.20" stroke="#000" stroke-width="0.6" />
<text x="284.70" y="122.60" font-size="4.0" text-anchor="end" fill="#333" stroke="#333" stroke-width="0.1">−4</text>
<rect x="287.70" y="36.00" width="90.00" height="88.40" fill="none" stroke="#222" stroke-width="0.6" />
<line x1="287.70" y1="78.50" x2="377.70" y2="78.50" stroke="#444" stroke-width="0.4" />
<line x1="287.70" y1="95.30" x2="377.70" y2="95.30" stroke="#444" stroke-width="0.4" />
<line x1="287.70" y1="124.40" x2="287.70" y2="126.20" stroke="#000" stroke-width="0.6" />
<text x="287.70" y="132.60" font-size="4.3" text-anchor="middle" fill="#333" stroke="#333" stroke-width="0.12">0</text>
<line x1="302.50" y1="124.40" x2="302.50" y2="126.20" stroke="#000" stroke-width="0.6" />
<text x="302.50" y="132.60" font-size="4.3" text-anchor="middle" fill="#333" stroke="#333" stroke-width="0.12">2,000</text>
<line x1="317.31" y1="124.40" x2="317.31" y2="126.20" stroke="#000" stroke-width="0.6" />
<text x="317.31" y="132.60" font-size="4.3" text-anchor="middle" fill="#333" stroke="#333" stroke-width="0.12">4,000</text>
<line x1="332.12" y1="124.40" x2="332.12" y2="126.20" stroke="#000" stroke-width="0.6" />
<text x="332.12" y="132.60" font-size="4.3" text-anchor="middle" fill="#333" stroke="#333" stroke-width="0.12">6,000</text>
<line x1="346.92" y1="124.40" x2="346.92" y2="126.20" stroke="#000" stroke-width="0.6" />
<text x="346.92" y="132.60" font-size="4.3" text-anchor="middle" fill="#333" stroke="#333" stroke-width="0.12">8,000</text>
<line x1="361.73" y1="124.40" x2="361.73" y2="126.20" stroke="#000" stroke-width="0.6" />
<text x="361.73" y="132.60" font-size="4.3" text-anchor="middle" fill="#333" stroke="#333" stroke-width="0.12">10,000</text>
<line x1="376.53" y1="124.40" x2="376.53" y2="126.20" stroke="#000" stroke-width="0.6" />
<text x="376.53" y="132.60" font-size="4.3" text-anchor="middle" fill="#333" stroke="#333" stroke-width="0.12">12,000</text>
<text x="334.00" y="139.60" font-size="6.0" text-anchor="middle" fill="#222" font-weight="bold" textLength="45" lengthAdjust="spacingAndGlyphs" >Rank in ordered dataset</text>
<text x="271.40" y="61.00" font-size="5.6" text-anchor="middle" fill="#333" textLength="37" lengthAdjust="spacingAndGlyphs" transform="rotate(-90 271.40 61.00)" stroke="#333" stroke-width="0.1" >Enrichment score (ES)</text>
<text x="266.40" y="110.20" font-size="5.6" text-anchor="middle" fill="#333" textLength="33" lengthAdjust="spacingAndGlyphs" transform="rotate(-90 266.40 110.20)" stroke="#333" stroke-width="0.1" >Ranked list metric</text>
<text x="273.40" y="111.30" font-size="5.4" text-anchor="middle" fill="#333" font-style="italic" textLength="29" lengthAdjust="spacingAndGlyphs" transform="rotate(-90 273.40 111.30)" stroke="#333" stroke-width="0.1" >(Signal2Noise)</text>
<line x1="285.20" y1="146.30" x2="287.50" y2="146.30" stroke="#8cc46a" stroke-width="0.5" />
<text x="289.40" y="147.50" font-size="3.6" text-anchor="start" fill="#666" textLength="30.4" lengthAdjust="spacingAndGlyphs" >Enrichment profile</text>
<line x1="322.70" y1="146.30" x2="325.60" y2="146.30" stroke="#999" stroke-width="0.5" />
<text x="327.90" y="147.50" font-size="3.6" text-anchor="start" fill="#666" textLength="6.9" lengthAdjust="spacingAndGlyphs" >Hits</text>
<line x1="338.10" y1="146.30" x2="342.90" y2="146.30" stroke="#bbb" stroke-width="0.5" />
<text x="348.70" y="147.50" font-size="3.6" text-anchor="start" fill="#666" textLength="36.5" lengthAdjust="spacingAndGlyphs" >Ranking metric scores</text>
<text x="334.00" y="157.00" font-size="7.0" text-anchor="middle" fill="#222" textLength="79.4" lengthAdjust="spacingAndGlyphs" >NES: −1.70; FDR q-val: &lt;0.01</text>
<text x="461.60" y="24.20" font-size="6.6" text-anchor="middle" fill="#222" textLength="77.5" lengthAdjust="spacingAndGlyphs" stroke="#222" stroke-width="0.1" >Enrichment plot: HALLMARK_</text>
<text x="461.60" y="30.90" font-size="6.6" text-anchor="middle" fill="#222" textLength="53.5" lengthAdjust="spacingAndGlyphs" stroke="#222" stroke-width="0.1" >G2M_CHECKPOINT</text>
<line x1="414.90" y1="38.60" x2="505.70" y2="38.60" stroke="#9a9a9a" stroke-width="0.4" />
<line x1="412.90" y1="38.60" x2="414.90" y2="38.60" stroke="#000" stroke-width="0.6" />
<text x="411.90" y="40.00" font-size="4.0" text-anchor="end" fill="#333" stroke="#333" stroke-width="0.1">0.0</text>
<line x1="412.90" y1="43.90" x2="414.90" y2="43.90" stroke="#000" stroke-width="0.6" />
<text x="411.90" y="45.30" font-size="4.0" text-anchor="end" fill="#333" stroke="#333" stroke-width="0.1">−0.1</text>
<line x1="412.90" y1="49.20" x2="414.90" y2="49.20" stroke="#000" stroke-width="0.6" />
<text x="411.90" y="50.60" font-size="4.0" text-anchor="end" fill="#333" stroke="#333" stroke-width="0.1">−0.2</text>
<line x1="412.90" y1="54.50" x2="414.90" y2="54.50" stroke="#000" stroke-width="0.6" />
<text x="411.90" y="55.90" font-size="4.0" text-anchor="end" fill="#333" stroke="#333" stroke-width="0.1">−0.3</text>
<line x1="412.90" y1="59.80" x2="414.90" y2="59.80" stroke="#000" stroke-width="0.6" />
<text x="411.90" y="61.20" font-size="4.0" text-anchor="end" fill="#333" stroke="#333" stroke-width="0.1">−0.4</text>
<line x1="412.90" y1="65.10" x2="414.90" y2="65.10" stroke="#000" stroke-width="0.6" />
<text x="411.90" y="66.50" font-size="4.0" text-anchor="end" fill="#333" stroke="#333" stroke-width="0.1">−0.5</text>
<line x1="412.90" y1="70.40" x2="414.90" y2="70.40" stroke="#000" stroke-width="0.6" />
<text x="411.90" y="71.80" font-size="4.0" text-anchor="end" fill="#333" stroke="#333" stroke-width="0.1">−0.6</text>
<line x1="412.90" y1="75.70" x2="414.90" y2="75.70" stroke="#000" stroke-width="0.6" />
<text x="411.90" y="77.10" font-size="4.0" text-anchor="end" fill="#333" stroke="#333" stroke-width="0.1">−0.7</text>
<polyline points="415.2,38.7 416.5,39.3 417.7,39.9 419.0,40.4 420.2,41.0 421.5,41.6 422.8,42.4 424.1,43.2 425.4,44.0 426.6,44.8 427.9,45.6 429.2,46.4 430.4,46.9 431.6,47.4 432.8,47.9 434.0,48.3 435.2,48.8 436.4,49.3 437.6,49.8 438.8,50.3 440.0,51.0 441.2,51.7 442.4,52.4 443.6,53.1 444.9,53.9 446.1,54.6 447.3,55.3 448.5,56.0 449.7,56.7 450.9,57.5 452.1,58.2 453.3,58.9 454.5,59.6 455.7,60.3 456.9,61.1 458.1,61.8 459.5,62.5 460.8,63.2 462.2,63.9 463.6,64.5 465.0,65.2 466.3,65.9 467.7,66.6 468.9,67.2 470.1,67.8 471.3,68.4 472.5,69.0 473.7,69.6 474.9,70.2 476.1,70.8 477.3,71.4 478.6,71.9 479.9,72.4 481.1,72.8 482.4,73.3 483.7,73.8 485.0,74.3 486.2,74.8 487.4,75.2 488.6,75.7 489.8,76.2 491.2,76.0 492.7,75.8 494.0,74.7 495.2,73.5 496.5,72.4 497.8,70.8 499.1,69.2 500.4,67.6 502.3,60.8 504.2,47.4 505.1,38.7" fill="none" stroke="#72a848" stroke-width="0.9" stroke-linejoin="round"/>
<g filter="url(#hb)">
<rect x="448.94" y="79.10" width="1.07" height="12.90" fill="rgb(120,120,120)" stroke="none" stroke-width="0.6" />
<rect x="422.22" y="79.10" width="0.83" height="12.90" fill="rgb(71,71,71)" stroke="none" stroke-width="0.6" />
<rect x="444.29" y="79.10" width="1.11" height="12.90" fill="rgb(79,79,79)" stroke="none" stroke-width="0.6" />
<rect x="417.62" y="79.10" width="0.86" height="12.90" fill="rgb(44,44,44)" stroke="none" stroke-width="0.6" />
<rect x="468.51" y="79.10" width="0.89" height="12.90" fill="rgb(115,115,115)" stroke="none" stroke-width="0.6" />
<rect x="476.71" y="79.10" width="0.92" height="12.90" fill="rgb(145,145,145)" stroke="none" stroke-width="0.6" />
<rect x="445.40" y="79.10" width="0.67" height="12.90" fill="rgb(140,140,140)" stroke="none" stroke-width="0.6" />
<rect x="450.18" y="79.10" width="0.67" height="12.90" fill="rgb(127,127,127)" stroke="none" stroke-width="0.6" />
<rect x="461.80" y="79.10" width="1.06" height="12.90" fill="rgb(148,148,148)" stroke="none" stroke-width="0.6" />
<rect x="452.07" y="79.10" width="0.60" height="12.90" fill="rgb(45,45,45)" stroke="none" stroke-width="0.6" />
<rect x="453.24" y="79.10" width="0.99" height="12.90" fill="rgb(44,44,44)" stroke="none" stroke-width="0.6" />
<rect x="424.52" y="79.10" width="0.92" height="12.90" fill="rgb(72,72,72)" stroke="none" stroke-width="0.6" />
<rect x="465.89" y="79.10" width="0.64" height="12.90" fill="rgb(52,52,52)" stroke="none" stroke-width="0.6" />
<rect x="454.11" y="79.10" width="0.76" height="12.90" fill="rgb(89,89,89)" stroke="none" stroke-width="0.6" />
<rect x="416.27" y="79.10" width="0.78" height="12.90" fill="rgb(108,108,108)" stroke="none" stroke-width="0.6" />
<rect x="478.58" y="79.10" width="1.10" height="12.90" fill="rgb(122,122,122)" stroke="none" stroke-width="0.6" />
<rect x="450.43" y="79.10" width="0.75" height="12.90" fill="rgb(110,110,110)" stroke="none" stroke-width="0.6" />
<rect x="462.03" y="79.10" width="0.63" height="12.90" fill="rgb(79,79,79)" stroke="none" stroke-width="0.6" />
<rect x="473.76" y="79.10" width="0.85" height="12.90" fill="rgb(122,122,122)" stroke="none" stroke-width="0.6" />
<rect x="459.61" y="79.10" width="0.74" height="12.90" fill="rgb(87,87,87)" stroke="none" stroke-width="0.6" />
<rect x="438.19" y="79.10" width="0.82" height="12.90" fill="rgb(93,93,93)" stroke="none" stroke-width="0.6" />
<rect x="416.64" y="79.10" width="1.04" height="12.90" fill="rgb(77,77,77)" stroke="none" stroke-width="0.6" />
<rect x="429.55" y="79.10" width="0.79" height="12.90" fill="rgb(65,65,65)" stroke="none" stroke-width="0.6" />
<rect x="431.21" y="79.10" width="0.76" height="12.90" fill="rgb(68,68,68)" stroke="none" stroke-width="0.6" />
<rect x="502.30" y="79.10" width="1.17" height="12.90" fill="rgb(13,13,13)" stroke="none" stroke-width="0.6" />
<rect x="495.23" y="79.10" width="1.14" height="12.90" fill="rgb(23,23,23)" stroke="none" stroke-width="0.6" />
<rect x="495.02" y="79.10" width="0.63" height="12.90" fill="rgb(85,85,85)" stroke="none" stroke-width="0.6" />
<rect x="497.13" y="79.10" width="0.63" height="12.90" fill="rgb(50,50,50)" stroke="none" stroke-width="0.6" />
<rect x="482.91" y="79.10" width="0.69" height="12.90" fill="rgb(76,76,76)" stroke="none" stroke-width="0.6" />
<rect x="484.12" y="79.10" width="0.71" height="12.90" fill="rgb(7,7,7)" stroke="none" stroke-width="0.6" />
<rect x="494.31" y="79.10" width="1.13" height="12.90" fill="rgb(91,91,91)" stroke="none" stroke-width="0.6" />
<rect x="499.63" y="79.10" width="1.16" height="12.90" fill="rgb(10,10,10)" stroke="none" stroke-width="0.6" />
<rect x="491.75" y="79.10" width="0.99" height="12.90" fill="rgb(23,23,23)" stroke="none" stroke-width="0.6" />
<rect x="495.80" y="79.10" width="0.62" height="12.90" fill="rgb(59,59,59)" stroke="none" stroke-width="0.6" />
<rect x="498.41" y="79.10" width="1.10" height="12.90" fill="rgb(48,48,48)" stroke="none" stroke-width="0.6" />
<rect x="503.86" y="79.10" width="0.70" height="12.90" fill="rgb(56,56,56)" stroke="none" stroke-width="0.6" />
<rect x="481.63" y="79.10" width="0.65" height="12.90" fill="rgb(35,35,35)" stroke="none" stroke-width="0.6" />
<rect x="493.70" y="79.10" width="0.94" height="12.90" fill="rgb(15,15,15)" stroke="none" stroke-width="0.6" />
<rect x="500.08" y="79.10" width="0.81" height="12.90" fill="rgb(48,48,48)" stroke="none" stroke-width="0.6" />
<rect x="501.16" y="79.10" width="1.08" height="12.90" fill="rgb(105,105,105)" stroke="none" stroke-width="0.6" />
<rect x="485.41" y="79.10" width="0.88" height="12.90" fill="rgb(90,90,90)" stroke="none" stroke-width="0.6" />
<rect x="492.70" y="79.10" width="0.72" height="12.90" fill="rgb(57,57,57)" stroke="none" stroke-width="0.6" />
<rect x="492.52" y="79.10" width="0.62" height="12.90" fill="rgb(60,60,60)" stroke="none" stroke-width="0.6" />
<rect x="493.51" y="79.10" width="0.98" height="12.90" fill="rgb(103,103,103)" stroke="none" stroke-width="0.6" />
<rect x="493.38" y="79.10" width="0.62" height="12.90" fill="rgb(48,48,48)" stroke="none" stroke-width="0.6" />
<rect x="484.53" y="79.10" width="0.75" height="12.90" fill="rgb(7,7,7)" stroke="none" stroke-width="0.6" />
<rect x="499.88" y="79.10" width="0.80" height="12.90" fill="rgb(77,77,77)" stroke="none" stroke-width="0.6" />
<rect x="490.44" y="79.10" width="0.63" height="12.90" fill="rgb(78,78,78)" stroke="none" stroke-width="0.6" />
<rect x="499.87" y="79.10" width="0.79" height="12.90" fill="rgb(88,88,88)" stroke="none" stroke-width="0.6" />
<rect x="490.52" y="79.10" width="1.03" height="12.90" fill="rgb(0,0,0)" stroke="none" stroke-width="0.6" />
<rect x="497.15" y="79.10" width="0.98" height="12.90" fill="rgb(103,103,103)" stroke="none" stroke-width="0.6" />
<rect x="503.18" y="79.10" width="1.10" height="12.90" fill="rgb(3,3,3)" stroke="none" stroke-width="0.6" />
<rect x="486.04" y="79.10" width="1.17" height="12.90" fill="rgb(91,91,91)" stroke="none" stroke-width="0.6" />
<rect x="503.36" y="79.10" width="1.07" height="12.90" fill="rgb(49,49,49)" stroke="none" stroke-width="0.6" />
<rect x="502.70" y="79.10" width="0.90" height="12.90" fill="rgb(104,104,104)" stroke="none" stroke-width="0.6" />
<rect x="502.94" y="79.10" width="0.61" height="12.90" fill="rgb(23,23,23)" stroke="none" stroke-width="0.6" />
<rect x="502.99" y="79.10" width="1.09" height="12.90" fill="rgb(38,38,38)" stroke="none" stroke-width="0.6" />
<rect x="500.33" y="79.10" width="0.74" height="12.90" fill="rgb(77,77,77)" stroke="none" stroke-width="0.6" />
<rect x="501.83" y="79.10" width="0.82" height="12.90" fill="rgb(58,58,58)" stroke="none" stroke-width="0.6" />
<rect x="500.49" y="79.10" width="0.91" height="12.90" fill="rgb(10,10,10)" stroke="none" stroke-width="0.6" />
<rect x="493.10" y="79.10" width="0.75" height="12.90" fill="rgb(20,20,20)" stroke="none" stroke-width="0.6" />
<rect x="484.61" y="79.10" width="0.89" height="12.90" fill="rgb(4,4,4)" stroke="none" stroke-width="0.6" />
<rect x="496.18" y="79.10" width="1.19" height="12.90" fill="rgb(20,20,20)" stroke="none" stroke-width="0.6" />
<rect x="502.20" y="79.10" width="0.76" height="12.90" fill="rgb(9,9,9)" stroke="none" stroke-width="0.6" />
</g>
<rect x="416.20" y="92.00" width="87.90" height="3.30" fill="url(#rb)" stroke="none" stroke-width="0.6" />
<text x="417.20" y="98.50" font-size="2.2" text-anchor="start" fill="#d33" textLength="36.32000000000001" lengthAdjust="spacingAndGlyphs" >'na_pos' (positively correlated)</text>
<path d="M416.2,110.4 L416.2,101.5 C422.2,105.5 433.1,108.0 446.7,109.0 L463.3,110.4 L483.0,111.2 C494.8,112 501.2,113.5 504.1,119.0 L504.1,110.4 Z" fill="#d2d4d4" stroke="#b4b4b4" stroke-width="0.3"/>
<text x="463.10" y="109.60" font-size="4.1" text-anchor="middle" fill="#333" >Zero cross</text>
<text x="463.10" y="114.40" font-size="4.1" text-anchor="middle" fill="#333" >at 6399</text>
<text x="502.70" y="122.00" font-size="2.6" text-anchor="end" fill="#5050b0" textLength="38.136" lengthAdjust="spacingAndGlyphs" >'na_neg' (negatively correlated)</text>
<line x1="412.90" y1="100.00" x2="414.90" y2="100.00" stroke="#000" stroke-width="0.6" />
<text x="411.90" y="101.40" font-size="4.0" text-anchor="end" fill="#333" stroke="#333" stroke-width="0.1">4</text>
<line x1="412.90" y1="105.20" x2="414.90" y2="105.20" stroke="#000" stroke-width="0.6" />
<text x="411.90" y="106.60" font-size="4.0" text-anchor="end" fill="#333" stroke="#333" stroke-width="0.1">2</text>
<line x1="412.90" y1="110.40" x2="414.90" y2="110.40" stroke="#000" stroke-width="0.6" />
<text x="411.90" y="111.80" font-size="4.0" text-anchor="end" fill="#333" stroke="#333" stroke-width="0.1">0</text>
<line x1="412.90" y1="115.80" x2="414.90" y2="115.80" stroke="#000" stroke-width="0.6" />
<text x="411.90" y="117.20" font-size="4.0" text-anchor="end" fill="#333" stroke="#333" stroke-width="0.1">−2</text>
<line x1="412.90" y1="121.20" x2="414.90" y2="121.20" stroke="#000" stroke-width="0.6" />
<text x="411.90" y="122.60" font-size="4.0" text-anchor="end" fill="#333" stroke="#333" stroke-width="0.1">−4</text>
<rect x="414.90" y="36.00" width="90.80" height="88.40" fill="none" stroke="#222" stroke-width="0.6" />
<line x1="414.90" y1="78.50" x2="505.70" y2="78.50" stroke="#444" stroke-width="0.4" />
<line x1="414.90" y1="95.30" x2="505.70" y2="95.30" stroke="#444" stroke-width="0.4" />
<line x1="414.90" y1="124.40" x2="414.90" y2="126.20" stroke="#000" stroke-width="0.6" />
<text x="414.90" y="132.60" font-size="4.3" text-anchor="middle" fill="#333" stroke="#333" stroke-width="0.12">0</text>
<line x1="429.84" y1="124.40" x2="429.84" y2="126.20" stroke="#000" stroke-width="0.6" />
<text x="429.84" y="132.60" font-size="4.3" text-anchor="middle" fill="#333" stroke="#333" stroke-width="0.12">2,000</text>
<line x1="444.77" y1="124.40" x2="444.77" y2="126.20" stroke="#000" stroke-width="0.6" />
<text x="444.77" y="132.60" font-size="4.3" text-anchor="middle" fill="#333" stroke="#333" stroke-width="0.12">4,000</text>
<line x1="459.71" y1="124.40" x2="459.71" y2="126.20" stroke="#000" stroke-width="0.6" />
<text x="459.71" y="132.60" font-size="4.3" text-anchor="middle" fill="#333" stroke="#333" stroke-width="0.12">6,000</text>
<line x1="474.65" y1="124.40" x2="474.65" y2="126.20" stroke="#000" stroke-width="0.6" />
<text x="474.65" y="132.60" font-size="4.3" text-anchor="middle" fill="#333" stroke="#333" stroke-width="0.12">8,000</text>
<line x1="489.58" y1="124.40" x2="489.58" y2="126.20" stroke="#000" stroke-width="0.6" />
<text x="489.58" y="132.60" font-size="4.3" text-anchor="middle" fill="#333" stroke="#333" stroke-width="0.12">10,000</text>
<line x1="504.52" y1="124.40" x2="504.52" y2="126.20" stroke="#000" stroke-width="0.6" />
<text x="504.52" y="132.60" font-size="4.3" text-anchor="middle" fill="#333" stroke="#333" stroke-width="0.12">12,000</text>
<text x="461.60" y="139.60" font-size="6.0" text-anchor="middle" fill="#222" font-weight="bold" textLength="45" lengthAdjust="spacingAndGlyphs" >Rank in ordered dataset</text>
<text x="398.60" y="61.00" font-size="5.6" text-anchor="middle" fill="#333" textLength="37" lengthAdjust="spacingAndGlyphs" transform="rotate(-90 398.60 61.00)" stroke="#333" stroke-width="0.1" >Enrichment score (ES)</text>
<text x="393.60" y="110.20" font-size="5.6" text-anchor="middle" fill="#333" textLength="33" lengthAdjust="spacingAndGlyphs" transform="rotate(-90 393.60 110.20)" stroke="#333" stroke-width="0.1" >Ranked list metric</text>
<text x="400.60" y="111.30" font-size="5.4" text-anchor="middle" fill="#333" font-style="italic" textLength="29" lengthAdjust="spacingAndGlyphs" transform="rotate(-90 400.60 111.30)" stroke="#333" stroke-width="0.1" >(Signal2Noise)</text>
<line x1="412.40" y1="146.30" x2="414.70" y2="146.30" stroke="#8cc46a" stroke-width="0.5" />
<text x="416.60" y="147.50" font-size="3.6" text-anchor="start" fill="#666" textLength="30.4" lengthAdjust="spacingAndGlyphs" >Enrichment profile</text>
<line x1="449.90" y1="146.30" x2="452.80" y2="146.30" stroke="#999" stroke-width="0.5" />
<text x="455.10" y="147.50" font-size="3.6" text-anchor="start" fill="#666" textLength="6.9" lengthAdjust="spacingAndGlyphs" >Hits</text>
<line x1="465.30" y1="146.30" x2="470.10" y2="146.30" stroke="#bbb" stroke-width="0.5" />
<text x="475.90" y="147.50" font-size="3.6" text-anchor="start" fill="#666" textLength="36.5" lengthAdjust="spacingAndGlyphs" >Ranking metric scores</text>
<text x="461.60" y="157.00" font-size="7.0" text-anchor="middle" fill="#222" textLength="79.4" lengthAdjust="spacingAndGlyphs" >NES: −3.57; FDR q-val: &lt;0.01</text>
<text x="6.10" y="176.60" font-size="11" text-anchor="start" fill="#111" font-weight="bold" >B</text>
<text x="52.30" y="188.80" font-size="7.6" text-anchor="middle" fill="#1a1a1a" >MyLa</text>
<text x="89.20" y="188.80" font-size="7.6" text-anchor="middle" fill="#1a1a1a" >MAC2A</text>
<text x="126.00" y="188.80" font-size="7.6" text-anchor="middle" fill="#1a1a1a" >NKL</text>
<line x1="34.40" y1="197.30" x2="34.40" y2="267.60" stroke="#000" stroke-width="0.8" />
<line x1="31.00" y1="267.30" x2="34.40" y2="267.30" stroke="#000" stroke-width="0.8" />
<text x="28.40" y="269.20" font-size="5.5" text-anchor="end" fill="#333" stroke="#333" stroke-width="0.1" >0</text>
<line x1="31.00" y1="253.46" x2="34.40" y2="253.46" stroke="#000" stroke-width="0.8" />
<text x="28.40" y="255.36" font-size="5.5" text-anchor="end" fill="#333" stroke="#333" stroke-width="0.1" >20</text>
<line x1="31.00" y1="239.62" x2="34.40" y2="239.62" stroke="#000" stroke-width="0.8" />
<text x="28.40" y="241.52" font-size="5.5" text-anchor="end" fill="#333" stroke="#333" stroke-width="0.1" >40</text>
<line x1="31.00" y1="225.78" x2="34.40" y2="225.78" stroke="#000" stroke-width="0.8" />
<text x="28.40" y="227.68" font-size="5.5" text-anchor="end" fill="#333" stroke="#333" stroke-width="0.1" >60</text>
<line x1="31.00" y1="211.94" x2="34.40" y2="211.94" stroke="#000" stroke-width="0.8" />
<text x="28.40" y="213.84" font-size="5.5" text-anchor="end" fill="#333" stroke="#333" stroke-width="0.1" >80</text>
<line x1="31.00" y1="198.10" x2="34.40" y2="198.10" stroke="#000" stroke-width="0.8" />
<text x="28.40" y="200.00" font-size="5.5" text-anchor="end" fill="#333" stroke="#333" stroke-width="0.1" >100</text>
<text x="14.20" y="230.70" font-size="7.0" text-anchor="middle" fill="#222" font-weight="bold" textLength="18.3" lengthAdjust="spacingAndGlyphs" transform="rotate(-90 14.20 230.70)" >% Cells</text>
<rect x="38.00" y="198.10" width="5.30" height="20.41" fill="#2fa6df" stroke="none" stroke-width="0.6" />
<rect x="38.00" y="218.51" width="5.30" height="6.78" fill="#8c7bc4" stroke="none" stroke-width="0.6" />
<rect x="38.00" y="225.30" width="5.30" height="42.00" fill="#f7941d" stroke="none" stroke-width="0.6" />
<rect x="38.40" y="197.20" width="4.50" height="1.30" fill="#1a1a1a" stroke="none" stroke-width="0.6" rx="0.6"/>
<rect x="38.40" y="217.61" width="4.50" height="1.30" fill="#1a1a1a" stroke="none" stroke-width="0.6" rx="0.6"/>
<rect x="38.40" y="224.40" width="4.50" height="1.30" fill="#1a1a1a" stroke="none" stroke-width="0.6" rx="0.6"/>
<rect x="45.70" y="198.10" width="5.30" height="29.41" fill="#2fa6df" stroke="none" stroke-width="0.6" />
<rect x="45.70" y="227.51" width="5.30" height="4.91" fill="#8c7bc4" stroke="none" stroke-width="0.6" />
<rect x="45.70" y="232.42" width="5.30" height="34.88" fill="#f7941d" stroke="none" stroke-width="0.6" />
<rect x="46.10" y="197.20" width="4.50" height="1.30" fill="#1a1a1a" stroke="none" stroke-width="0.6" rx="0.6"/>
<rect x="46.10" y="226.61" width="4.50" height="1.30" fill="#1a1a1a" stroke="none" stroke-width="0.6" rx="0.6"/>
<rect x="46.10" y="231.52" width="4.50" height="1.30" fill="#1a1a1a" stroke="none" stroke-width="0.6" rx="0.6"/>
<rect x="53.40" y="198.10" width="5.30" height="21.80" fill="#2fa6df" stroke="none" stroke-width="0.6" />
<rect x="53.40" y="219.90" width="5.30" height="5.88" fill="#8c7bc4" stroke="none" stroke-width="0.6" />
<rect x="53.40" y="225.78" width="5.30" height="41.52" fill="#f7941d" stroke="none" stroke-width="0.6" />
<rect x="53.80" y="197.20" width="4.50" height="1.30" fill="#1a1a1a" stroke="none" stroke-width="0.6" rx="0.6"/>
<rect x="53.80" y="219.00" width="4.50" height="1.30" fill="#1a1a1a" stroke="none" stroke-width="0.6" rx="0.6"/>
<rect x="53.80" y="224.88" width="4.50" height="1.30" fill="#1a1a1a" stroke="none" stroke-width="0.6" rx="0.6"/>
<rect x="61.00" y="198.10" width="5.30" height="22.49" fill="#2fa6df" stroke="none" stroke-width="0.6" />
<rect x="61.00" y="220.59" width="5.30" height="6.23" fill="#8c7bc4" stroke="none" stroke-width="0.6" />
<rect x="61.00" y="226.82" width="5.30" height="40.48" fill="#f7941d" stroke="none" stroke-width="0.6" />
<rect x="61.40" y="197.20" width="4.50" height="1.30" fill="#1a1a1a" stroke="none" stroke-width="0.6" rx="0.6"/>
<rect x="61.40" y="219.69" width="4.50" height="1.30" fill="#1a1a1a" stroke="none" stroke-width="0.6" rx="0.6"/>
<rect x="61.40" y="225.92" width="4.50" height="1.30" fill="#1a1a1a" stroke="none" stroke-width="0.6" rx="0.6"/>
<rect x="74.90" y="198.10" width="5.30" height="19.38" fill="#2fa6df" stroke="none" stroke-width="0.6" />
<rect x="74.90" y="217.48" width="5.30" height="6.23" fill="#8c7bc4" stroke="none" stroke-width="0.6" />
<rect x="74.90" y="223.70" width="5.30" height="43.60" fill="#f7941d" stroke="none" stroke-width="0.6" />
<rect x="75.30" y="197.20" width="4.50" height="1.30" fill="#1a1a1a" stroke="none" stroke-width="0.6" rx="0.6"/>
<rect x="75.30" y="216.58" width="4.50" height="1.30" fill="#1a1a1a" stroke="none" stroke-width="0.6" rx="0.6"/>
<rect x="75.30" y="222.80" width="4.50" height="1.30" fill="#1a1a1a" stroke="none" stroke-width="0.6" rx="0.6"/>
<rect x="82.60" y="198.10" width="5.30" height="26.30" fill="#2fa6df" stroke="none" stroke-width="0.6" />
<rect x="82.60" y="224.40" width="5.30" height="8.03" fill="#8c7bc4" stroke="none" stroke-width="0.6" />
<rect x="82.60" y="232.42" width="5.30" height="34.88" fill="#f7941d" stroke="none" stroke-width="0.6" />
<rect x="83.00" y="197.20" width="4.50" height="1.30" fill="#1a1a1a" stroke="none" stroke-width="0.6" rx="0.6"/>
<rect x="83.00" y="223.50" width="4.50" height="1.30" fill="#1a1a1a" stroke="none" stroke-width="0.6" rx="0.6"/>
<rect x="83.00" y="231.52" width="4.50" height="1.30" fill="#1a1a1a" stroke="none" stroke-width="0.6" rx="0.6"/>
<rect x="90.30" y="198.10" width="5.30" height="20.41" fill="#2fa6df" stroke="none" stroke-width="0.6" />
<rect x="90.30" y="218.51" width="5.30" height="4.50" fill="#8c7bc4" stroke="none" stroke-width="0.6" />
<rect x="90.30" y="223.01" width="5.30" height="44.29" fill="#f7941d" stroke="none" stroke-width="0.6" />
<rect x="90.70" y="197.20" width="4.50" height="1.30" fill="#1a1a1a" stroke="none" stroke-width="0.6" rx="0.6"/>
<rect x="90.70" y="217.61" width="4.50" height="1.30" fill="#1a1a1a" stroke="none" stroke-width="0.6" rx="0.6"/>
<rect x="90.70" y="222.11" width="4.50" height="1.30" fill="#1a1a1a" stroke="none" stroke-width="0.6" rx="0.6"/>
<rect x="98.20" y="198.10" width="5.30" height="15.22" fill="#2fa6df" stroke="none" stroke-width="0.6" />
<rect x="98.20" y="213.32" width="5.30" height="10.17" fill="#8c7bc4" stroke="none" stroke-width="0.6" />
<rect x="98.20" y="223.50" width="5.30" height="43.80" fill="#f7941d" stroke="none" stroke-width="0.6" />
<rect x="98.60" y="197.20" width="4.50" height="1.30" fill="#1a1a1a" stroke="none" stroke-width="0.6" rx="0.6"/>
<rect x="98.60" y="212.42" width="4.50" height="1.30" fill="#1a1a1a" stroke="none" stroke-width="0.6" rx="0.6"/>
<rect x="98.60" y="222.60" width="4.50" height="1.30" fill="#1a1a1a" stroke="none" stroke-width="0.6" rx="0.6"/>
<rect x="112.20" y="198.10" width="5.30" height="19.38" fill="#2fa6df" stroke="none" stroke-width="0.6" />
<rect x="112.20" y="217.48" width="5.30" height="6.02" fill="#8c7bc4" stroke="none" stroke-width="0.6" />
<rect x="112.20" y="223.50" width="5.30" height="43.80" fill="#f7941d" stroke="none" stroke-width="0.6" />
<rect x="112.60" y="197.20" width="4.50" height="1.30" fill="#1a1a1a" stroke="none" stroke-width="0.6" rx="0.6"/>
<rect x="112.60" y="216.58" width="4.50" height="1.30" fill="#1a1a1a" stroke="none" stroke-width="0.6" rx="0.6"/>
<rect x="112.60" y="222.60" width="4.50" height="1.30" fill="#1a1a1a" stroke="none" stroke-width="0.6" rx="0.6"/>
<rect x="120.00" y="198.10" width="5.30" height="34.32" fill="#2fa6df" stroke="none" stroke-width="0.6" />
<rect x="120.00" y="232.42" width="5.30" height="10.80" fill="#8c7bc4" stroke="none" stroke-width="0.6" />
<rect x="120.00" y="243.22" width="5.30" height="24.08" fill="#f7941d" stroke="none" stroke-width="0.6" />
<rect x="120.40" y="197.20" width="4.50" height="1.30" fill="#1a1a1a" stroke="none" stroke-width="0.6" rx="0.6"/>
<rect x="120.40" y="231.52" width="4.50" height="1.30" fill="#1a1a1a" stroke="none" stroke-width="0.6" rx="0.6"/>
<rect x="120.40" y="242.32" width="4.50" height="1.30" fill="#1a1a1a" stroke="none" stroke-width="0.6" rx="0.6"/>
<rect x="127.80" y="198.10" width="5.30" height="10.38" fill="#2fa6df" stroke="none" stroke-width="0.6" />
<rect x="127.80" y="208.48" width="5.30" height="2.35" fill="#8c7bc4" stroke="none" stroke-width="0.6" />
<rect x="127.80" y="210.83" width="5.30" height="56.47" fill="#f7941d" stroke="none" stroke-width="0.6" />
<rect x="128.20" y="197.20" width="4.50" height="1.30" fill="#1a1a1a" stroke="none" stroke-width="0.6" rx="0.6"/>
<rect x="128.20" y="207.58" width="4.50" height="1.30" fill="#1a1a1a" stroke="none" stroke-width="0.6" rx="0.6"/>
<rect x="128.20" y="209.93" width="4.50" height="1.30" fill="#1a1a1a" stroke="none" stroke-width="0.6" rx="0.6"/>
<rect x="135.50" y="198.10" width="5.30" height="21.11" fill="#2fa6df" stroke="none" stroke-width="0.6" />
<rect x="135.50" y="219.21" width="5.30" height="6.57" fill="#8c7bc4" stroke="none" stroke-width="0.6" />
<rect x="135.50" y="225.78" width="5.30" height="41.52" fill="#f7941d" stroke="none" stroke-width="0.6" />
<rect x="135.90" y="197.20" width="4.50" height="1.30" fill="#1a1a1a" stroke="none" stroke-width="0.6" rx="0.6"/>
<rect x="135.90" y="218.31" width="4.50" height="1.30" fill="#1a1a1a" stroke="none" stroke-width="0.6" rx="0.6"/>
<rect x="135.90" y="224.88" width="4.50" height="1.30" fill="#1a1a1a" stroke="none" stroke-width="0.6" rx="0.6"/>
<line x1="34.40" y1="267.30" x2="144.20" y2="267.30" stroke="#000" stroke-width="0.8" />
<line x1="40.65" y1="267.30" x2="40.65" y2="269.30" stroke="#000" stroke-width="0.7" />
<line x1="48.35" y1="267.30" x2="48.35" y2="269.30" stroke="#000" stroke-width="0.7" />
<line x1="56.05" y1="267.30" x2="56.05" y2="269.30" stroke="#000" stroke-width="0.7" />
<line x1="63.65" y1="267.30" x2="63.65" y2="269.30" stroke="#000" stroke-width="0.7" />
<line x1="77.55" y1="267.30" x2="77.55" y2="269.30" stroke="#000" stroke-width="0.7" />
<line x1="85.25" y1="267.30" x2="85.25" y2="269.30" stroke="#000" stroke-width="0.7" />
<line x1="92.95" y1="267.30" x2="92.95" y2="269.30" stroke="#000" stroke-width="0.7" />
<line x1="100.85" y1="267.30" x2="100.85" y2="269.30" stroke="#000" stroke-width="0.7" />
<line x1="114.85" y1="267.30" x2="114.85" y2="269.30" stroke="#000" stroke-width="0.7" />
<line x1="122.65" y1="267.30" x2="122.65" y2="269.30" stroke="#000" stroke-width="0.7" />
<line x1="130.45" y1="267.30" x2="130.45" y2="269.30" stroke="#000" stroke-width="0.7" />
<line x1="138.15" y1="267.30" x2="138.15" y2="269.30" stroke="#000" stroke-width="0.7" />
<line x1="70.00" y1="267.30" x2="70.00" y2="269.30" stroke="#000" stroke-width="0.7" />
<line x1="107.20" y1="267.30" x2="107.20" y2="269.30" stroke="#000" stroke-width="0.7" />
<text x="42.85" y="276.10" font-size="5.7" text-anchor="end" fill="#222" transform="rotate(-45 42.85 276.10)" stroke="#222" stroke-width="0.1" >DMSO</text>
<text x="50.55" y="276.10" font-size="5.7" text-anchor="end" fill="#222" transform="rotate(-45 50.55 276.10)" stroke="#222" stroke-width="0.1" >Adavosertib</text>
<text x="58.25" y="276.10" font-size="5.7" text-anchor="end" fill="#222" transform="rotate(-45 58.25 276.10)" stroke="#222" stroke-width="0.1" >Ruxolitinib</text>
<text x="65.85" y="276.10" font-size="5.7" text-anchor="end" fill="#222" transform="rotate(-45 65.85 276.10)" stroke="#222" stroke-width="0.1" >Combination</text>
<text x="79.75" y="276.10" font-size="5.7" text-anchor="end" fill="#222" transform="rotate(-45 79.75 276.10)" stroke="#222" stroke-width="0.1" >DMSO</text>
<text x="87.45" y="276.10" font-size="5.7" text-anchor="end" fill="#222" transform="rotate(-45 87.45 276.10)" stroke="#222" stroke-width="0.1" >Adavosertib</text>
<text x="95.15" y="276.10" font-size="5.7" text-anchor="end" fill="#222" transform="rotate(-45 95.15 276.10)" stroke="#222" stroke-width="0.1" >Ruxolitinib</text>
<text x="103.05" y="276.10" font-size="5.7" text-anchor="end" fill="#222" transform="rotate(-45 103.05 276.10)" stroke="#222" stroke-width="0.1" >Combination</text>
<text x="117.05" y="276.10" font-size="5.7" text-anchor="end" fill="#222" transform="rotate(-45 117.05 276.10)" stroke="#222" stroke-width="0.1" >DMSO</text>
<text x="124.85" y="276.10" font-size="5.7" text-anchor="end" fill="#222" transform="rotate(-45 124.85 276.10)" stroke="#222" stroke-width="0.1" >Adavosertib</text>
<text x="132.65" y="276.10" font-size="5.7" text-anchor="end" fill="#222" transform="rotate(-45 132.65 276.10)" stroke="#222" stroke-width="0.1" >Ruxolitinib</text>
<text x="140.35" y="276.10" font-size="5.7" text-anchor="end" fill="#222" transform="rotate(-45 140.35 276.10)" stroke="#222" stroke-width="0.1" >Combination</text>
<rect x="148.20" y="204.00" width="5.80" height="5.60" fill="#2fa6df" stroke="none" stroke-width="0.6" />
<text x="156.30" y="208.60" font-size="5.6" text-anchor="start" fill="#222" stroke="#222" stroke-width="0.1" >G2/M</text>
<rect x="148.20" y="213.80" width="5.80" height="5.60" fill="#8c7bc4" stroke="none" stroke-width="0.6" />
<text x="156.30" y="218.40" font-size="5.6" text-anchor="start" fill="#222" stroke="#222" stroke-width="0.1" >S</text>
<rect x="148.20" y="223.50" width="5.80" height="5.60" fill="#f7941d" stroke="none" stroke-width="0.6" />
<text x="156.30" y="228.10" font-size="5.6" text-anchor="start" fill="#222" stroke="#222" stroke-width="0.1" >G0/G1</text>
<text x="184.00" y="176.60" font-size="11" text-anchor="start" fill="#111" font-weight="bold" >C</text>
<line x1="262.30" y1="182.40" x2="262.30" y2="281.20" stroke="#3b5f78" stroke-width="0.6" stroke-dasharray="0.7,0.8"/>
<line x1="229.30" y1="185.70" x2="231.70" y2="185.70" stroke="#000" stroke-width="0.7" />
<text x="226.30" y="187.80" font-size="6.0" text-anchor="end" fill="#222" stroke="#222" stroke-width="0.1" >AURKB</text>
<line x1="229.30" y1="191.44" x2="231.70" y2="191.44" stroke="#000" stroke-width="0.7" />
<text x="226.30" y="193.54" font-size="6.0" text-anchor="end" fill="#222" stroke="#222" stroke-width="0.1" >CCNA2</text>
<line x1="229.30" y1="197.18" x2="231.70" y2="197.18" stroke="#000" stroke-width="0.7" />
<text x="226.30" y="199.28" font-size="6.0" text-anchor="end" fill="#222" stroke="#222" stroke-width="0.1" >GADD45G</text>
<line x1="229.30" y1="202.92" x2="231.70" y2="202.92" stroke="#000" stroke-width="0.7" />
<text x="226.30" y="205.02" font-size="6.0" text-anchor="end" fill="#222" stroke="#222" stroke-width="0.1" >GINS1</text>
<line x1="229.30" y1="208.66" x2="231.70" y2="208.66" stroke="#000" stroke-width="0.7" />
<text x="226.30" y="210.76" font-size="6.0" text-anchor="end" fill="#222" stroke="#222" stroke-width="0.1" >LIG3</text>
<line x1="229.30" y1="214.40" x2="231.70" y2="214.40" stroke="#000" stroke-width="0.7" />
<text x="226.30" y="216.50" font-size="6.0" text-anchor="end" fill="#222" stroke="#222" stroke-width="0.1" >MTF2</text>
<line x1="229.30" y1="220.14" x2="231.70" y2="220.14" stroke="#000" stroke-width="0.7" />
<text x="226.30" y="222.24" font-size="6.0" text-anchor="end" fill="#222" stroke="#222" stroke-width="0.1" >ORC6</text>
<line x1="229.30" y1="225.88" x2="231.70" y2="225.88" stroke="#000" stroke-width="0.7" />
<text x="226.30" y="227.98" font-size="6.0" text-anchor="end" fill="#222" stroke="#222" stroke-width="0.1" >POLA1</text>
<line x1="229.30" y1="231.62" x2="231.70" y2="231.62" stroke="#000" stroke-width="0.7" />
<text x="226.30" y="233.72" font-size="6.0" text-anchor="end" fill="#222" stroke="#222" stroke-width="0.1" >POLD4</text>
<line x1="229.30" y1="237.36" x2="231.70" y2="237.36" stroke="#000" stroke-width="0.7" />
<text x="226.30" y="239.46" font-size="6.0" text-anchor="end" fill="#222" stroke="#222" stroke-width="0.1" >POLE4</text>
<line x1="229.30" y1="243.10" x2="231.70" y2="243.10" stroke="#000" stroke-width="0.7" />
<text x="226.30" y="245.20" font-size="6.0" text-anchor="end" fill="#222" stroke="#222" stroke-width="0.1" >PRPS1</text>
<line x1="229.30" y1="248.84" x2="231.70" y2="248.84" stroke="#000" stroke-width="0.7" />
<text x="226.30" y="250.94" font-size="6.0" text-anchor="end" fill="#222" stroke="#222" stroke-width="0.1" >RFC5</text>
<line x1="229.30" y1="254.58" x2="231.70" y2="254.58" stroke="#000" stroke-width="0.7" />
<text x="226.30" y="256.68" font-size="6.0" text-anchor="end" fill="#222" stroke="#222" stroke-width="0.1" >RMI1</text>
<line x1="229.30" y1="260.32" x2="231.70" y2="260.32" stroke="#000" stroke-width="0.7" />
<text x="226.30" y="262.42" font-size="6.0" text-anchor="end" fill="#222" stroke="#222" stroke-width="0.1" >RRM1</text>
<line x1="229.30" y1="266.06" x2="231.70" y2="266.06" stroke="#000" stroke-width="0.7" />
<text x="226.30" y="268.16" font-size="6.0" text-anchor="end" fill="#222" stroke="#222" stroke-width="0.1" >SRSF1</text>
<line x1="229.30" y1="271.80" x2="231.70" y2="271.80" stroke="#000" stroke-width="0.7" />
<text x="226.30" y="273.90" font-size="6.0" text-anchor="end" fill="#222" stroke="#222" stroke-width="0.1" >SUV39H1</text>
<line x1="229.30" y1="277.54" x2="231.70" y2="277.54" stroke="#000" stroke-width="0.7" />
<text x="226.30" y="279.64" font-size="6.0" text-anchor="end" fill="#222" stroke="#222" stroke-width="0.1" >TNPO2</text>
<path d="M242.35,183.74 L244.65,185.70 L242.35,187.66 L240.05,185.70 Z" fill="#7a1a2a" stroke="#7a1a2a" stroke-width="0.6"/>
<path d="M257.28,184.20 L260.48,184.20 L258.88,187.40 Z" fill="none" stroke="#7a1a2a" stroke-width="1.2" stroke-linejoin="round"/>
<rect x="257.73" y="184.70" width="2.30" height="2.00" fill="none" stroke="#7a1a2a" stroke-width="1.2"/>
<path d="M241.78,189.48 L244.08,191.44 L241.78,193.40 L239.48,191.44 Z" fill="#7a1a2a" stroke="#7a1a2a" stroke-width="0.6"/>
<rect x="232.65" y="196.18" width="2.30" height="2.00" fill="none" stroke="#7a1a2a" stroke-width="1.2"/>
<path d="M241.78,200.96 L244.08,202.92 L241.78,204.88 L239.48,202.92 Z" fill="#7a1a2a" stroke="#7a1a2a" stroke-width="0.6"/>
<rect x="263.43" y="201.92" width="2.30" height="2.00" fill="none" stroke="#2f6f80" stroke-width="1.2"/>
<path d="M257.17,212.44 L259.47,214.40 L257.17,216.35 L254.87,214.40 Z" fill="#7a1a2a" stroke="#7a1a2a" stroke-width="0.6"/>
<path d="M263.55,212.90 L266.75,212.90 L265.15,216.10 Z" fill="none" stroke="#2f6f80" stroke-width="1.2" stroke-linejoin="round"/>
<path d="M237.22,218.18 L239.52,220.14 L237.22,222.09 L234.92,220.14 Z" fill="#7a1a2a" stroke="#7a1a2a" stroke-width="0.6"/>
<path d="M256.14,218.64 L259.34,218.64 L257.74,221.84 Z" fill="none" stroke="#7a1a2a" stroke-width="1.2" stroke-linejoin="round"/>
<rect x="257.16" y="219.14" width="2.30" height="2.00" fill="none" stroke="#7a1a2a" stroke-width="1.2"/>
<path d="M248.05,223.92 L250.35,225.88 L248.05,227.84 L245.75,225.88 Z" fill="#7a1a2a" stroke="#7a1a2a" stroke-width="0.6"/>
<path d="M265.83,230.12 L269.03,230.12 L267.43,233.32 Z" fill="none" stroke="#2f6f80" stroke-width="1.2" stroke-linejoin="round"/>
<rect x="271.41" y="230.62" width="2.30" height="2.00" fill="none" stroke="#2f6f80" stroke-width="1.2"/>
<path d="M283.39,229.75 L285.59,231.62 L283.39,233.49 L281.19,231.62 Z" fill="none" stroke="#2f6f80" stroke-width="1.1"/>
<path d="M248.62,235.40 L250.92,237.36 L248.62,239.31 L246.32,237.36 Z" fill="#7a1a2a" stroke="#7a1a2a" stroke-width="0.6"/>
<rect x="256.59" y="236.36" width="2.30" height="2.00" fill="none" stroke="#7a1a2a" stroke-width="1.2"/>
<path d="M265.83,235.86 L269.03,235.86 L267.43,239.06 Z" fill="none" stroke="#2f6f80" stroke-width="1.2" stroke-linejoin="round"/>
<path d="M251.47,241.14 L253.77,243.10 L251.47,245.06 L249.17,243.10 Z" fill="#7a1a2a" stroke="#7a1a2a" stroke-width="0.6"/>
<rect x="256.36" y="242.10" width="2.30" height="2.00" fill="none" stroke="#7a1a2a" stroke-width="1.2"/>
<path d="M244.63,246.88 L246.93,248.84 L244.63,250.79 L242.33,248.84 Z" fill="#7a1a2a" stroke="#7a1a2a" stroke-width="0.6"/>
<path d="M253.18,252.62 L255.48,254.58 L253.18,256.53 L250.88,254.58 Z" fill="#7a1a2a" stroke="#7a1a2a" stroke-width="0.6"/>
<path d="M262.41,253.08 L265.61,253.08 L264.01,256.28 Z" fill="none" stroke="#2f6f80" stroke-width="1.2" stroke-linejoin="round"/>
<rect x="269.13" y="253.58" width="2.30" height="2.00" fill="none" stroke="#2f6f80" stroke-width="1.2"/>
<path d="M242.35,258.37 L244.65,260.32 L242.35,262.27 L240.05,260.32 Z" fill="#7a1a2a" stroke="#7a1a2a" stroke-width="0.6"/>
<path d="M257.85,258.82 L261.05,258.82 L259.45,262.02 Z" fill="none" stroke="#7a1a2a" stroke-width="1.2" stroke-linejoin="round"/>
<rect x="258.30" y="259.32" width="2.30" height="2.00" fill="none" stroke="#7a1a2a" stroke-width="1.2"/>
<path d="M250.90,264.11 L253.20,266.06 L250.90,268.01 L248.60,266.06 Z" fill="#7a1a2a" stroke="#7a1a2a" stroke-width="0.6"/>
<path d="M247.48,269.85 L249.78,271.80 L247.48,273.75 L245.18,271.80 Z" fill="#7a1a2a" stroke="#7a1a2a" stroke-width="0.6"/>
<path d="M257.28,270.30 L260.48,270.30 L258.88,273.50 Z" fill="none" stroke="#7a1a2a" stroke-width="1.2" stroke-linejoin="round"/>
<path d="M252.61,275.58 L254.91,277.54 L252.61,279.49 L250.31,277.54 Z" fill="#7a1a2a" stroke="#7a1a2a" stroke-width="0.6"/>
<rect x="256.02" y="276.54" width="2.30" height="2.00" fill="none" stroke="#7a1a2a" stroke-width="1.2"/>
<path d="M257.28,276.04 L260.48,276.04 L258.88,279.24 Z" fill="none" stroke="#7a1a2a" stroke-width="1.2" stroke-linejoin="round"/>
<rect x="231.70" y="182.40" width="61.50" height="98.80" fill="none" stroke="#111" stroke-width="0.9" />
<line x1="239.50" y1="281.20" x2="239.50" y2="283.00" stroke="#000" stroke-width="0.7" />
<text x="238.30" y="292.60" font-size="5.6" text-anchor="middle" fill="#222" stroke="#222" stroke-width="0.1" >−2</text>
<line x1="250.90" y1="281.20" x2="250.90" y2="283.00" stroke="#000" stroke-width="0.7" />
<text x="249.70" y="292.60" font-size="5.6" text-anchor="middle" fill="#222" stroke="#222" stroke-width="0.1" >−1</text>
<line x1="262.30" y1="281.20" x2="262.30" y2="283.00" stroke="#000" stroke-width="0.7" />
<text x="262.30" y="292.60" font-size="5.6" text-anchor="middle" fill="#222" stroke="#222" stroke-width="0.1" >0</text>
<line x1="273.70" y1="281.20" x2="273.70" y2="283.00" stroke="#000" stroke-width="0.7" />
<text x="273.70" y="292.60" font-size="5.6" text-anchor="middle" fill="#222" stroke="#222" stroke-width="0.1" >1</text>
<line x1="285.10" y1="281.20" x2="285.10" y2="283.00" stroke="#000" stroke-width="0.7" />
<text x="285.10" y="292.60" font-size="5.6" text-anchor="middle" fill="#222" stroke="#222" stroke-width="0.1" >2</text>
<text x="262.50" y="303.20" font-size="7.0" text-anchor="middle" fill="#222" font-weight="bold" textLength="38.4" lengthAdjust="spacingAndGlyphs" >log2FoldChange</text>
<text x="191.80" y="231.80" font-size="7.2" text-anchor="middle" fill="#222" font-weight="bold" textLength="40" lengthAdjust="spacingAndGlyphs" transform="rotate(-90 191.80 231.80)" >Repressed genes</text>
<path d="M300.40,186.00 L303.00,186.00 L301.70,188.60 Z" fill="none" stroke="#333" stroke-width="1.2" stroke-linejoin="round"/>
<text x="306.60" y="189.00" font-size="6.2" text-anchor="start" fill="#222" stroke="#222" stroke-width="0.1" >MyLa</text>
<path d="M301.70,195.54 L303.30,196.90 L301.70,198.26 L300.10,196.90 Z" fill="none" stroke="#333" stroke-width="1.1"/>
<text x="306.60" y="198.80" font-size="6.2" text-anchor="start" fill="#222" stroke="#222" stroke-width="0.1" >NKL</text>
<rect x="300.30" y="205.30" width="2.8" height="2.8" fill="none" stroke="#333" stroke-width="0.9"/>
<text x="306.60" y="208.60" font-size="6.2" text-anchor="start" fill="#222" stroke="#222" stroke-width="0.1" >MAC2A</text>
<text x="336.00" y="176.50" font-size="11" text-anchor="start" fill="#111" font-weight="bold" >D</text>
<text x="382.60" y="188.90" font-size="7.6" text-anchor="middle" fill="#1a1a1a" >MyLa</text>
<text x="419.70" y="188.90" font-size="7.6" text-anchor="middle" fill="#1a1a1a" >MAC2A</text>
<text x="455.20" y="188.90" font-size="7.6" text-anchor="middle" fill="#1a1a1a" >NKL</text>
<line x1="364.60" y1="197.30" x2="364.60" y2="267.90" stroke="#000" stroke-width="0.8" />
<line x1="361.00" y1="267.60" x2="364.60" y2="267.60" stroke="#000" stroke-width="0.8" />
<text x="358.30" y="269.50" font-size="5.5" text-anchor="end" fill="#333" stroke="#333" stroke-width="0.1" >0</text>
<line x1="361.00" y1="253.70" x2="364.60" y2="253.70" stroke="#000" stroke-width="0.8" />
<text x="358.30" y="255.60" font-size="5.5" text-anchor="end" fill="#333" stroke="#333" stroke-width="0.1" >2</text>
<line x1="361.00" y1="239.80" x2="364.60" y2="239.80" stroke="#000" stroke-width="0.8" />
<text x="358.30" y="241.70" font-size="5.5" text-anchor="end" fill="#333" stroke="#333" stroke-width="0.1" >4</text>
<line x1="361.00" y1="225.90" x2="364.60" y2="225.90" stroke="#000" stroke-width="0.8" />
<text x="358.30" y="227.80" font-size="5.5" text-anchor="end" fill="#333" stroke="#333" stroke-width="0.1" >6</text>
<line x1="361.00" y1="212.00" x2="364.60" y2="212.00" stroke="#000" stroke-width="0.8" />
<text x="358.30" y="213.90" font-size="5.5" text-anchor="end" fill="#333" stroke="#333" stroke-width="0.1" >8</text>
<line x1="361.00" y1="198.10" x2="364.60" y2="198.10" stroke="#000" stroke-width="0.8" />
<text x="358.30" y="200.00" font-size="5.5" text-anchor="end" fill="#333" stroke="#333" stroke-width="0.1" >10</text>
<text x="346.00" y="230.70" font-size="7.0" text-anchor="middle" fill="#222" font-weight="bold" textLength="18.3" lengthAdjust="spacingAndGlyphs" transform="rotate(-90 346.00 230.70)" >% Cells</text>
<rect x="368.00" y="248.84" width="6.20" height="18.77" fill="#bcbcbc" stroke="none" stroke-width="0.6" />
<line x1="371.10" y1="248.84" x2="371.10" y2="245.36" stroke="#222" stroke-width="0.8" />
<line x1="369.30" y1="245.36" x2="372.90" y2="245.36" stroke="#222" stroke-width="0.9" />
<rect x="376.20" y="243.28" width="6.20" height="24.33" fill="#bcbcbc" stroke="none" stroke-width="0.6" />
<line x1="379.30" y1="243.28" x2="379.30" y2="241.19" stroke="#222" stroke-width="0.8" />
<line x1="377.50" y1="241.19" x2="381.10" y2="241.19" stroke="#222" stroke-width="0.9" />
<rect x="384.20" y="245.01" width="6.20" height="22.59" fill="#bcbcbc" stroke="none" stroke-width="0.6" />
<line x1="387.30" y1="245.01" x2="387.30" y2="242.58" stroke="#222" stroke-width="0.8" />
<line x1="385.50" y1="242.58" x2="389.10" y2="242.58" stroke="#222" stroke-width="0.9" />
<rect x="392.40" y="227.99" width="6.20" height="39.62" fill="#bcbcbc" stroke="none" stroke-width="0.6" />
<line x1="395.50" y1="227.99" x2="395.50" y2="224.51" stroke="#222" stroke-width="0.8" />
<line x1="393.70" y1="224.51" x2="397.30" y2="224.51" stroke="#222" stroke-width="0.9" />
<rect x="404.20" y="248.84" width="6.20" height="18.77" fill="#bcbcbc" stroke="none" stroke-width="0.6" />
<line x1="407.30" y1="248.84" x2="407.30" y2="244.32" stroke="#222" stroke-width="0.8" />
<line x1="405.50" y1="244.32" x2="409.10" y2="244.32" stroke="#222" stroke-width="0.9" />
<rect x="412.30" y="241.61" width="6.20" height="25.99" fill="#bcbcbc" stroke="none" stroke-width="0.6" />
<line x1="415.40" y1="241.61" x2="415.40" y2="240.84" stroke="#222" stroke-width="0.8" />
<line x1="413.60" y1="240.84" x2="417.20" y2="240.84" stroke="#222" stroke-width="0.9" />
<rect x="420.30" y="241.61" width="6.20" height="25.99" fill="#bcbcbc" stroke="none" stroke-width="0.6" />
<line x1="423.40" y1="241.61" x2="423.40" y2="240.50" stroke="#222" stroke-width="0.8" />
<line x1="421.60" y1="240.50" x2="425.20" y2="240.50" stroke="#222" stroke-width="0.9" />
<rect x="428.50" y="232.43" width="6.20" height="35.17" fill="#bcbcbc" stroke="none" stroke-width="0.6" />
<line x1="431.60" y1="232.43" x2="431.60" y2="231.46" stroke="#222" stroke-width="0.8" />
<line x1="429.80" y1="231.46" x2="433.40" y2="231.46" stroke="#222" stroke-width="0.9" />
<rect x="440.30" y="245.78" width="6.20" height="21.82" fill="#bcbcbc" stroke="none" stroke-width="0.6" />
<line x1="443.40" y1="245.78" x2="443.40" y2="243.97" stroke="#222" stroke-width="0.8" />
<line x1="441.60" y1="243.97" x2="445.20" y2="243.97" stroke="#222" stroke-width="0.9" />
<rect x="448.50" y="241.61" width="6.20" height="25.99" fill="#bcbcbc" stroke="none" stroke-width="0.6" />
<line x1="451.60" y1="241.61" x2="451.60" y2="239.80" stroke="#222" stroke-width="0.8" />
<line x1="449.80" y1="239.80" x2="453.40" y2="239.80" stroke="#222" stroke-width="0.9" />
<rect x="456.60" y="223.88" width="6.20" height="43.72" fill="#bcbcbc" stroke="none" stroke-width="0.6" />
<line x1="459.70" y1="223.88" x2="459.70" y2="222.43" stroke="#222" stroke-width="0.8" />
<line x1="457.90" y1="222.43" x2="461.50" y2="222.43" stroke="#222" stroke-width="0.9" />
<rect x="464.70" y="220.83" width="6.20" height="46.77" fill="#bcbcbc" stroke="none" stroke-width="0.6" />
<line x1="467.80" y1="220.83" x2="467.80" y2="216.87" stroke="#222" stroke-width="0.8" />
<line x1="466.00" y1="216.87" x2="469.60" y2="216.87" stroke="#222" stroke-width="0.9" />
<line x1="364.60" y1="267.60" x2="474.50" y2="267.60" stroke="#000" stroke-width="0.8" />
<line x1="371.10" y1="267.60" x2="371.10" y2="269.60" stroke="#000" stroke-width="0.7" />
<line x1="379.30" y1="267.60" x2="379.30" y2="269.60" stroke="#000" stroke-width="0.7" />
<line x1="387.30" y1="267.60" x2="387.30" y2="269.60" stroke="#000" stroke-width="0.7" />
<line x1="395.50" y1="267.60" x2="395.50" y2="269.60" stroke="#000" stroke-width="0.7" />
<line x1="407.30" y1="267.60" x2="407.30" y2="269.60" stroke="#000" stroke-width="0.7" />
<line x1="415.40" y1="267.60" x2="415.40" y2="269.60" stroke="#000" stroke-width="0.7" />
<line x1="423.40" y1="267.60" x2="423.40" y2="269.60" stroke="#000" stroke-width="0.7" />
<line x1="431.60" y1="267.60" x2="431.60" y2="269.60" stroke="#000" stroke-width="0.7" />
<line x1="443.40" y1="267.60" x2="443.40" y2="269.60" stroke="#000" stroke-width="0.7" />
<line x1="451.60" y1="267.60" x2="451.60" y2="269.60" stroke="#000" stroke-width="0.7" />
<line x1="459.70" y1="267.60" x2="459.70" y2="269.60" stroke="#000" stroke-width="0.7" />
<line x1="467.80" y1="267.60" x2="467.80" y2="269.60" stroke="#000" stroke-width="0.7" />
<line x1="401.20" y1="267.60" x2="401.20" y2="269.60" stroke="#000" stroke-width="0.7" />
<line x1="437.30" y1="267.60" x2="437.30" y2="269.60" stroke="#000" stroke-width="0.7" />
<text x="373.30" y="276.40" font-size="5.7" text-anchor="end" fill="#222" transform="rotate(-45 373.30 276.40)" stroke="#222" stroke-width="0.1" >DMSO</text>
<text x="381.50" y="276.40" font-size="5.7" text-anchor="end" fill="#222" transform="rotate(-45 381.50 276.40)" stroke="#222" stroke-width="0.1" >Adavosertib</text>
<text x="389.50" y="276.40" font-size="5.7" text-anchor="end" fill="#222" transform="rotate(-45 389.50 276.40)" stroke="#222" stroke-width="0.1" >Ruxolitinib</text>
<text x="397.70" y="276.40" font-size="5.7" text-anchor="end" fill="#222" transform="rotate(-45 397.70 276.40)" stroke="#222" stroke-width="0.1" >Combination</text>
<text x="409.50" y="276.40" font-size="5.7" text-anchor="end" fill="#222" transform="rotate(-45 409.50 276.40)" stroke="#222" stroke-width="0.1" >DMSO</text>
<text x="417.60" y="276.40" font-size="5.7" text-anchor="end" fill="#222" transform="rotate(-45 417.60 276.40)" stroke="#222" stroke-width="0.1" >Adavosertib</text>
<text x="425.60" y="276.40" font-size="5.7" text-anchor="end" fill="#222" transform="rotate(-45 425.60 276.40)" stroke="#222" stroke-width="0.1" >Ruxolitinib</text>
<text x="433.80" y="276.40" font-size="5.7" text-anchor="end" fill="#222" transform="rotate(-45 433.80 276.40)" stroke="#222" stroke-width="0.1" >Combination</text>
<text x="445.60" y="276.40" font-size="5.7" text-anchor="end" fill="#222" transform="rotate(-45 445.60 276.40)" stroke="#222" stroke-width="0.1" >DMSO</text>
<text x="453.80" y="276.40" font-size="5.7" text-anchor="end" fill="#222" transform="rotate(-45 453.80 276.40)" stroke="#222" stroke-width="0.1" >Adavosertib</text>
<text x="461.90" y="276.40" font-size="5.7" text-anchor="end" fill="#222" transform="rotate(-45 461.90 276.40)" stroke="#222" stroke-width="0.1" >Ruxolitinib</text>
<text x="470.00" y="276.40" font-size="5.7" text-anchor="end" fill="#222" transform="rotate(-45 470.00 276.40)" stroke="#222" stroke-width="0.1" >Combination</text>
<line x1="370.80" y1="201.60" x2="395.70" y2="201.60" stroke="#222" stroke-width="0.8" />
<text x="383.25" y="201.00" font-size="5.0" text-anchor="middle" fill="#222" font-weight="bold" >****</text>
<line x1="379.20" y1="211.20" x2="395.70" y2="211.20" stroke="#222" stroke-width="0.8" />
<text x="387.45" y="210.60" font-size="5.0" text-anchor="middle" fill="#222" font-weight="bold" >****</text>
<line x1="387.20" y1="222.00" x2="395.70" y2="222.00" stroke="#222" stroke-width="0.8" />
<text x="391.45" y="221.40" font-size="5.0" text-anchor="middle" fill="#222" font-weight="bold" >****</text>
<line x1="407.20" y1="225.80" x2="431.80" y2="225.80" stroke="#222" stroke-width="0.8" />
<text x="419.50" y="225.20" font-size="5.0" text-anchor="middle" fill="#222" font-weight="bold" >***</text>
<line x1="443.40" y1="200.40" x2="467.70" y2="200.40" stroke="#222" stroke-width="0.8" />
<text x="455.55" y="199.80" font-size="5.0" text-anchor="middle" fill="#222" font-weight="bold" >****</text>
<line x1="443.40" y1="206.50" x2="460.00" y2="206.50" stroke="#222" stroke-width="0.8" />
<text x="451.70" y="205.90" font-size="5.0" text-anchor="middle" fill="#222" font-weight="bold" >****</text>
<line x1="451.50" y1="212.70" x2="467.70" y2="212.70" stroke="#222" stroke-width="0.8" />
<text x="459.60" y="212.10" font-size="5.0" text-anchor="middle" fill="#222" font-weight="bold" >****</text>
<line x1="451.50" y1="218.80" x2="460.00" y2="218.80" stroke="#222" stroke-width="0.8" />
<text x="455.75" y="218.20" font-size="5.0" text-anchor="middle" fill="#222" font-weight="bold" >****</text>
<text x="6.10" y="323.70" font-size="11" text-anchor="start" fill="#111" font-weight="bold" >E</text>
<text x="112.60" y="324.60" font-size="8.1" text-anchor="middle" fill="#1a1a1a" >MyLa</text>
<text x="172.10" y="324.60" font-size="8.1" text-anchor="middle" fill="#1a1a1a" >MAC2A</text>
<text x="229.70" y="324.60" font-size="8.1" text-anchor="middle" fill="#1a1a1a" >NKL</text>
<text x="81.00" y="334.30" font-size="6.0" text-anchor="end" fill="#222" font-style="italic" textLength="31.5" lengthAdjust="spacingAndGlyphs" stroke="#222" stroke-width="0.1" >Adavosertib</text>
<text x="81.00" y="343.80" font-size="6.0" text-anchor="end" fill="#222" font-style="italic" textLength="27.5" lengthAdjust="spacingAndGlyphs" stroke="#222" stroke-width="0.1" >Ruxolitinib</text>
<text x="91.50" y="334.00" font-size="5.6" text-anchor="middle" fill="#333" stroke="#333" stroke-width="0.1" >–</text>
<text x="91.50" y="343.50" font-size="5.6" text-anchor="middle" fill="#333" stroke="#333" stroke-width="0.1" >–</text>
<text x="105.00" y="334.00" font-size="6.0" text-anchor="middle" fill="#333" stroke="#333" stroke-width="0.1" >+</text>
<text x="105.00" y="343.50" font-size="5.6" text-anchor="middle" fill="#333" stroke="#333" stroke-width="0.1" >–</text>
<text x="118.80" y="334.00" font-size="5.6" text-anchor="middle" fill="#333" stroke="#333" stroke-width="0.1" >–</text>
<text x="118.80" y="343.50" font-size="6.0" text-anchor="middle" fill="#333" stroke="#333" stroke-width="0.1" >+</text>
<text x="133.30" y="334.00" font-size="6.0" text-anchor="middle" fill="#333" stroke="#333" stroke-width="0.1" >+</text>
<text x="133.30" y="343.50" font-size="6.0" text-anchor="middle" fill="#333" stroke="#333" stroke-width="0.1" >+</text>
<text x="151.20" y="334.00" font-size="5.6" text-anchor="middle" fill="#333" stroke="#333" stroke-width="0.1" >–</text>
<text x="151.20" y="343.50" font-size="5.6" text-anchor="middle" fill="#333" stroke="#333" stroke-width="0.1" >–</text>
<text x="164.50" y="334.00" font-size="6.0" text-anchor="middle" fill="#333" stroke="#333" stroke-width="0.1" >+</text>
<text x="164.50" y="343.50" font-size="5.6" text-anchor="middle" fill="#333" stroke="#333" stroke-width="0.1" >–</text>
<text x="178.70" y="334.00" font-size="5.6" text-anchor="middle" fill="#333" stroke="#333" stroke-width="0.1" >–</text>
<text x="178.70" y="343.50" font-size="6.0" text-anchor="middle" fill="#333" stroke="#333" stroke-width="0.1" >+</text>
<text x="192.50" y="334.00" font-size="6.0" text-anchor="middle" fill="#333" stroke="#333" stroke-width="0.1" >+</text>
<text x="192.50" y="343.50" font-size="6.0" text-anchor="middle" fill="#333" stroke="#333" stroke-width="0.1" >+</text>
<text x="209.50" y="334.00" font-size="5.6" text-anchor="middle" fill="#333" stroke="#333" stroke-width="0.1" >–</text>
<text x="209.50" y="343.50" font-size="5.6" text-anchor="middle" fill="#333" stroke="#333" stroke-width="0.1" >–</text>
<text x="223.00" y="334.00" font-size="6.0" text-anchor="middle" fill="#333" stroke="#333" stroke-width="0.1" >+</text>
<text x="223.00" y="343.50" font-size="5.6" text-anchor="middle" fill="#333" stroke="#333" stroke-width="0.1" >–</text>
<text x="236.20" y="334.00" font-size="5.6" text-anchor="middle" fill="#333" stroke="#333" stroke-width="0.1" >–</text>
<text x="236.20" y="343.50" font-size="6.0" text-anchor="middle" fill="#333" stroke="#333" stroke-width="0.1" >+</text>
<text x="250.00" y="334.00" font-size="6.0" text-anchor="middle" fill="#333" stroke="#333" stroke-width="0.1" >+</text>
<text x="250.00" y="343.50" font-size="6.0" text-anchor="middle" fill="#333" stroke="#333" stroke-width="0.1" >+</text>
<defs><filter id="bl" x="-30%" y="-60%" width="160%" height="220%"><feGaussianBlur stdDeviation="0.65"/></filter><filter id="bl2" x="-30%" y="-60%" width="160%" height="220%"><feGaussianBlur stdDeviation="1.1"/></filter></defs>
<rect x="83.50" y="348.70" width="59.10" height="10.33" fill="rgb(246,246,246)" stroke="none" stroke-width="0.6" />
<rect x="142.60" y="348.70" width="58.10" height="10.33" fill="rgb(246,246,246)" stroke="none" stroke-width="0.6" />
<rect x="200.70" y="348.70" width="58.10" height="10.33" fill="rgb(246,246,246)" stroke="none" stroke-width="0.6" />
<rect x="83.50" y="359.03" width="59.10" height="10.33" fill="rgb(246,246,246)" stroke="none" stroke-width="0.6" />
<rect x="142.60" y="359.03" width="58.10" height="10.33" fill="rgb(246,246,246)" stroke="none" stroke-width="0.6" />
<rect x="200.70" y="359.03" width="58.10" height="10.33" fill="rgb(198,198,198)" stroke="none" stroke-width="0.6" />
<rect x="83.50" y="369.36" width="59.10" height="10.33" fill="rgb(246,246,246)" stroke="none" stroke-width="0.6" />
<rect x="142.60" y="369.36" width="58.10" height="10.33" fill="rgb(246,246,246)" stroke="none" stroke-width="0.6" />
<rect x="200.70" y="369.36" width="58.10" height="10.33" fill="rgb(246,246,246)" stroke="none" stroke-width="0.6" />
<g filter="url(#bl)">
<rect x="85.87" y="350.42" width="11.44" height="5.68" rx="2.60" fill="#000" opacity="1.00"/>
<rect x="100.73" y="350.42" width="11.44" height="5.68" rx="2.60" fill="#000" opacity="1.00"/>
<rect x="115.72" y="351.94" width="10.24" height="2.64" rx="1.32" fill="#000" opacity="0.17"/>
<rect x="130.43" y="351.98" width="10.19" height="2.58" rx="1.29" fill="#000" opacity="0.13"/>
<rect x="145.15" y="350.04" width="11.60" height="6.44" rx="2.60" fill="#000" opacity="1.00"/>
<rect x="158.70" y="351.14" width="11.36" height="4.25" rx="2.13" fill="#000" opacity="0.95"/>
<rect x="173.40" y="352.09" width="10.03" height="2.35" rx="1.17" fill="#000" opacity="0.02"/>
<rect x="188.59" y="352.09" width="10.03" height="2.35" rx="1.17" fill="#000" opacity="0.02"/>
<rect x="202.99" y="351.95" width="11.44" height="2.62" rx="1.31" fill="#000" opacity="1.00"/>
<rect x="217.72" y="352.43" width="10.72" height="1.67" rx="0.83" fill="#000" opacity="0.50"/>
<rect x="233.17" y="352.08" width="10.05" height="2.37" rx="1.18" fill="#000" opacity="0.03"/>
<rect x="246.14" y="352.08" width="10.05" height="2.37" rx="1.18" fill="#000" opacity="0.03"/>
<rect x="85.80" y="360.99" width="13.00" height="7.20" rx="2.60" fill="#000" opacity="1.00"/>
<rect x="99.87" y="360.99" width="13.00" height="7.20" rx="2.60" fill="#000" opacity="1.00"/>
<rect x="116.13" y="363.39" width="10.08" height="2.42" rx="1.21" fill="#000" opacity="0.06"/>
<rect x="129.96" y="363.41" width="10.05" height="2.37" rx="1.18" fill="#000" opacity="0.03"/>
<rect x="145.72" y="363.10" width="10.48" height="2.99" rx="1.49" fill="#000" opacity="0.34"/>
<rect x="160.14" y="363.16" width="10.40" height="2.88" rx="1.44" fill="#000" opacity="0.28"/>
<rect x="173.99" y="363.39" width="10.08" height="2.42" rx="1.21" fill="#000" opacity="0.06"/>
<rect x="188.45" y="363.39" width="10.08" height="2.42" rx="1.21" fill="#000" opacity="0.06"/>
<rect x="203.45" y="362.35" width="11.52" height="4.48" rx="2.24" fill="#000" opacity="1.00"/>
<rect x="217.20" y="362.47" width="11.36" height="4.25" rx="2.13" fill="#000" opacity="0.95"/>
<rect x="232.81" y="363.31" width="10.19" height="2.58" rx="1.29" fill="#000" opacity="0.13"/>
<rect x="246.21" y="363.31" width="10.19" height="2.58" rx="1.29" fill="#000" opacity="0.13"/>
<rect x="86.30" y="373.26" width="10.72" height="3.33" rx="1.67" fill="#000" opacity="0.50"/>
<rect x="100.44" y="373.20" width="10.80" height="3.45" rx="1.72" fill="#000" opacity="0.56"/>
<rect x="116.34" y="373.64" width="10.19" height="2.58" rx="1.29" fill="#000" opacity="0.13"/>
<rect x="130.29" y="373.66" width="10.16" height="2.53" rx="1.26" fill="#000" opacity="0.11"/>
<rect x="145.30" y="372.68" width="11.52" height="4.48" rx="2.24" fill="#000" opacity="1.00"/>
<rect x="159.59" y="372.68" width="11.52" height="4.48" rx="2.24" fill="#000" opacity="1.00"/>
<rect x="174.22" y="373.72" width="10.08" height="2.42" rx="1.21" fill="#000" opacity="0.06"/>
<rect x="188.67" y="373.72" width="10.08" height="2.42" rx="1.21" fill="#000" opacity="0.06"/>
<rect x="203.75" y="373.60" width="10.24" height="2.64" rx="1.32" fill="#000" opacity="0.17"/>
<rect x="218.67" y="373.64" width="10.19" height="2.58" rx="1.29" fill="#000" opacity="0.13"/>
<rect x="232.45" y="373.66" width="10.16" height="2.53" rx="1.26" fill="#000" opacity="0.11"/>
<rect x="246.64" y="373.66" width="10.16" height="2.53" rx="1.26" fill="#000" opacity="0.11"/>
</g>
<rect x="83.50" y="348.70" width="59.10" height="30.99" fill="none" stroke="#222" stroke-width="0.8" />
<line x1="83.50" y1="359.03" x2="142.60" y2="359.03" stroke="#333" stroke-width="0.7" />
<line x1="83.50" y1="369.36" x2="142.60" y2="369.36" stroke="#333" stroke-width="0.7" />
<rect x="142.60" y="348.70" width="58.10" height="30.99" fill="none" stroke="#222" stroke-width="0.8" />
<line x1="142.60" y1="359.03" x2="200.70" y2="359.03" stroke="#333" stroke-width="0.7" />
<line x1="142.60" y1="369.36" x2="200.70" y2="369.36" stroke="#333" stroke-width="0.7" />
<rect x="200.70" y="348.70" width="58.10" height="30.99" fill="none" stroke="#222" stroke-width="0.8" />
<line x1="200.70" y1="359.03" x2="258.80" y2="359.03" stroke="#333" stroke-width="0.7" />
<line x1="200.70" y1="369.36" x2="258.80" y2="369.36" stroke="#333" stroke-width="0.7" />
<text x="80.5" y="355.97" font-size="6.3" text-anchor="end" fill="#262626">pSTAT3 <tspan font-style="italic">Tyr705</tspan></text>
<text x="80.5" y="366.30" font-size="6.3" text-anchor="end" fill="#262626">pSTAT5 <tspan font-style="italic">Tyr694/699</tspan></text>
<text x="80.50" y="376.63" font-size="6.3" text-anchor="end" fill="#262626" >SOCS3</text>
<rect x="83.50" y="385.40" width="59.10" height="10.36" fill="rgb(246,246,246)" stroke="none" stroke-width="0.6" />
<rect x="142.60" y="385.40" width="58.10" height="10.36" fill="rgb(246,246,246)" stroke="none" stroke-width="0.6" />
<rect x="200.70" y="385.40" width="58.10" height="10.36" fill="rgb(246,246,246)" stroke="none" stroke-width="0.6" />
<rect x="83.50" y="395.76" width="59.10" height="10.36" fill="rgb(246,246,246)" stroke="none" stroke-width="0.6" />
<rect x="142.60" y="395.76" width="58.10" height="10.36" fill="rgb(246,246,246)" stroke="none" stroke-width="0.6" />
<rect x="200.70" y="395.76" width="58.10" height="10.36" fill="rgb(246,246,246)" stroke="none" stroke-width="0.6" />
<rect x="83.50" y="406.12" width="59.10" height="10.36" fill="rgb(246,246,246)" stroke="none" stroke-width="0.6" />
<rect x="142.60" y="406.12" width="58.10" height="10.36" fill="rgb(229,229,229)" stroke="none" stroke-width="0.6" />
<rect x="200.70" y="406.12" width="58.10" height="10.36" fill="rgb(246,246,246)" stroke="none" stroke-width="0.6" />
<rect x="83.50" y="416.48" width="59.10" height="10.36" fill="rgb(246,246,246)" stroke="none" stroke-width="0.6" />
<rect x="142.60" y="416.48" width="58.10" height="10.36" fill="rgb(246,246,246)" stroke="none" stroke-width="0.6" />
<rect x="200.70" y="416.48" width="58.10" height="10.36" fill="rgb(246,246,246)" stroke="none" stroke-width="0.6" />
<rect x="83.50" y="426.84" width="59.10" height="10.36" fill="rgb(246,246,246)" stroke="none" stroke-width="0.6" />
<rect x="142.60" y="426.84" width="58.10" height="10.36" fill="rgb(246,246,246)" stroke="none" stroke-width="0.6" />
<rect x="200.70" y="426.84" width="58.10" height="10.36" fill="rgb(246,246,246)" stroke="none" stroke-width="0.6" />
<rect x="83.50" y="437.20" width="59.10" height="10.36" fill="rgb(246,246,246)" stroke="none" stroke-width="0.6" />
<rect x="142.60" y="437.20" width="58.10" height="10.36" fill="rgb(246,246,246)" stroke="none" stroke-width="0.6" />
<rect x="200.70" y="437.20" width="58.10" height="10.36" fill="rgb(246,246,246)" stroke="none" stroke-width="0.6" />
<rect x="83.50" y="447.56" width="59.10" height="10.36" fill="rgb(246,246,246)" stroke="none" stroke-width="0.6" />
<rect x="142.60" y="447.56" width="58.10" height="10.36" fill="rgb(246,246,246)" stroke="none" stroke-width="0.6" />
<rect x="200.70" y="447.56" width="58.10" height="10.36" fill="rgb(246,246,246)" stroke="none" stroke-width="0.6" />
<g filter="url(#bl)">
<rect x="87.07" y="389.43" width="10.56" height="3.10" rx="1.55" fill="#000" opacity="0.39"/>
<rect x="100.20" y="388.79" width="11.44" height="4.37" rx="2.18" fill="#000" opacity="1.00"/>
<rect x="115.32" y="389.48" width="10.48" height="2.99" rx="1.49" fill="#000" opacity="0.34"/>
<rect x="129.42" y="388.91" width="11.28" height="4.14" rx="2.07" fill="#000" opacity="0.90"/>
<rect x="146.04" y="389.37" width="10.64" height="3.22" rx="1.61" fill="#000" opacity="0.45"/>
<rect x="159.02" y="388.68" width="11.60" height="4.60" rx="2.30" fill="#000" opacity="1.00"/>
<rect x="173.87" y="389.43" width="10.56" height="3.10" rx="1.55" fill="#000" opacity="0.39"/>
<rect x="187.16" y="388.68" width="11.60" height="4.60" rx="2.30" fill="#000" opacity="1.00"/>
<rect x="203.65" y="389.31" width="10.72" height="3.33" rx="1.67" fill="#000" opacity="0.50"/>
<rect x="217.46" y="387.99" width="11.60" height="5.98" rx="2.60" fill="#000" opacity="1.00"/>
<rect x="232.36" y="389.74" width="10.13" height="2.48" rx="1.24" fill="#000" opacity="0.09"/>
<rect x="246.22" y="389.71" width="10.16" height="2.53" rx="1.26" fill="#000" opacity="0.11"/>
<rect x="85.50" y="397.74" width="13.00" height="7.20" rx="2.60" fill="#000" opacity="1.00"/>
<rect x="101.57" y="399.73" width="10.64" height="3.22" rx="1.61" fill="#000" opacity="0.45"/>
<rect x="115.98" y="399.84" width="10.48" height="2.99" rx="1.49" fill="#000" opacity="0.34"/>
<rect x="130.71" y="399.90" width="10.40" height="2.88" rx="1.44" fill="#000" opacity="0.28"/>
<rect x="145.87" y="399.67" width="10.72" height="3.33" rx="1.67" fill="#000" opacity="0.50"/>
<rect x="160.37" y="400.02" width="10.24" height="2.64" rx="1.32" fill="#000" opacity="0.17"/>
<rect x="173.81" y="399.61" width="10.80" height="3.45" rx="1.72" fill="#000" opacity="0.56"/>
<rect x="187.76" y="400.13" width="10.08" height="2.42" rx="1.21" fill="#000" opacity="0.06"/>
<rect x="202.97" y="397.80" width="12.92" height="7.08" rx="2.60" fill="#000" opacity="1.00"/>
<rect x="218.40" y="399.38" width="11.12" height="3.91" rx="1.95" fill="#000" opacity="0.78"/>
<rect x="233.01" y="400.07" width="10.16" height="2.53" rx="1.26" fill="#000" opacity="0.11"/>
<rect x="246.24" y="400.13" width="10.08" height="2.42" rx="1.21" fill="#000" opacity="0.06"/>
<rect x="86.52" y="409.63" width="11.28" height="4.14" rx="2.07" fill="#000" opacity="0.90"/>
<rect x="100.89" y="410.32" width="10.32" height="2.76" rx="1.38" fill="#000" opacity="0.22"/>
<rect x="115.68" y="409.51" width="11.44" height="4.37" rx="2.18" fill="#000" opacity="1.00"/>
<rect x="130.09" y="409.97" width="10.80" height="3.45" rx="1.72" fill="#000" opacity="0.56"/>
<rect x="145.10" y="409.92" width="10.88" height="3.56" rx="1.78" fill="#000" opacity="0.62"/>
<rect x="159.30" y="410.44" width="10.16" height="2.53" rx="1.26" fill="#000" opacity="0.11"/>
<rect x="173.94" y="409.86" width="10.96" height="3.68" rx="1.84" fill="#000" opacity="0.67"/>
<rect x="188.72" y="410.46" width="10.13" height="2.48" rx="1.24" fill="#000" opacity="0.09"/>
<rect x="203.03" y="409.86" width="10.96" height="3.68" rx="1.84" fill="#000" opacity="0.67"/>
<rect x="218.64" y="410.38" width="10.24" height="2.64" rx="1.32" fill="#000" opacity="0.17"/>
<rect x="86.03" y="419.82" width="11.52" height="4.48" rx="2.24" fill="#000" opacity="1.00"/>
<rect x="100.26" y="419.87" width="11.44" height="4.37" rx="2.18" fill="#000" opacity="1.00"/>
<rect x="114.99" y="419.82" width="11.52" height="4.48" rx="2.24" fill="#000" opacity="1.00"/>
<rect x="129.96" y="419.82" width="11.52" height="4.48" rx="2.24" fill="#000" opacity="1.00"/>
<rect x="145.49" y="419.82" width="11.52" height="4.48" rx="2.24" fill="#000" opacity="1.00"/>
<rect x="159.07" y="420.51" width="10.56" height="3.10" rx="1.55" fill="#000" opacity="0.39"/>
<rect x="173.66" y="420.22" width="10.96" height="3.68" rx="1.84" fill="#000" opacity="0.67"/>
<rect x="187.41" y="420.56" width="10.48" height="2.99" rx="1.49" fill="#000" opacity="0.34"/>
<rect x="203.50" y="419.82" width="11.52" height="4.48" rx="2.24" fill="#000" opacity="1.00"/>
<rect x="217.48" y="419.87" width="11.44" height="4.37" rx="2.18" fill="#000" opacity="1.00"/>
<rect x="232.82" y="420.56" width="10.48" height="2.99" rx="1.49" fill="#000" opacity="0.34"/>
<rect x="246.70" y="420.79" width="10.16" height="2.53" rx="1.26" fill="#000" opacity="0.11"/>
<rect x="86.79" y="431.10" width="10.24" height="2.64" rx="1.32" fill="#000" opacity="0.17"/>
<rect x="101.24" y="430.18" width="11.52" height="4.48" rx="2.24" fill="#000" opacity="1.00"/>
<rect x="115.73" y="431.21" width="10.08" height="2.42" rx="1.21" fill="#000" opacity="0.06"/>
<rect x="129.77" y="431.10" width="10.24" height="2.64" rx="1.32" fill="#000" opacity="0.17"/>
<rect x="145.80" y="431.10" width="10.24" height="2.64" rx="1.32" fill="#000" opacity="0.17"/>
<rect x="158.54" y="429.66" width="11.60" height="5.52" rx="2.60" fill="#000" opacity="1.00"/>
<rect x="173.56" y="431.15" width="10.16" height="2.53" rx="1.26" fill="#000" opacity="0.11"/>
<rect x="187.57" y="430.52" width="11.04" height="3.79" rx="1.90" fill="#000" opacity="0.73"/>
<rect x="204.05" y="431.15" width="10.16" height="2.53" rx="1.26" fill="#000" opacity="0.11"/>
<rect x="216.49" y="428.82" width="13.00" height="7.20" rx="2.60" fill="#000" opacity="1.00"/>
<rect x="231.89" y="431.04" width="10.32" height="2.76" rx="1.38" fill="#000" opacity="0.22"/>
<rect x="246.48" y="431.04" width="10.32" height="2.76" rx="1.38" fill="#000" opacity="0.22"/>
<rect x="86.00" y="440.65" width="11.36" height="4.25" rx="2.13" fill="#000" opacity="0.95"/>
<rect x="101.27" y="440.65" width="11.36" height="4.25" rx="2.13" fill="#000" opacity="0.95"/>
<rect x="115.76" y="440.59" width="11.44" height="4.37" rx="2.18" fill="#000" opacity="1.00"/>
<rect x="129.53" y="440.59" width="11.44" height="4.37" rx="2.18" fill="#000" opacity="1.00"/>
<rect x="144.99" y="440.54" width="11.52" height="4.48" rx="2.24" fill="#000" opacity="1.00"/>
<rect x="159.48" y="441.00" width="10.88" height="3.56" rx="1.78" fill="#000" opacity="0.62"/>
<rect x="173.41" y="440.54" width="11.52" height="4.48" rx="2.24" fill="#000" opacity="1.00"/>
<rect x="187.71" y="440.77" width="11.20" height="4.02" rx="2.01" fill="#000" opacity="0.84"/>
<rect x="203.31" y="440.54" width="11.52" height="4.48" rx="2.24" fill="#000" opacity="1.00"/>
<rect x="217.82" y="440.59" width="11.44" height="4.37" rx="2.18" fill="#000" opacity="1.00"/>
<rect x="232.41" y="440.59" width="11.44" height="4.37" rx="2.18" fill="#000" opacity="1.00"/>
<rect x="245.49" y="440.59" width="11.44" height="4.37" rx="2.18" fill="#000" opacity="1.00"/>
<rect x="86.54" y="451.59" width="10.56" height="3.10" rx="1.55" fill="#000" opacity="0.39"/>
<rect x="100.94" y="450.95" width="11.44" height="4.37" rx="2.18" fill="#000" opacity="1.00"/>
<rect x="115.45" y="451.64" width="10.48" height="2.99" rx="1.49" fill="#000" opacity="0.34"/>
<rect x="129.40" y="450.90" width="11.52" height="4.48" rx="2.24" fill="#000" opacity="1.00"/>
<rect x="146.29" y="451.87" width="10.16" height="2.53" rx="1.26" fill="#000" opacity="0.11"/>
<rect x="159.21" y="450.95" width="11.44" height="4.37" rx="2.18" fill="#000" opacity="1.00"/>
<rect x="173.82" y="451.64" width="10.48" height="2.99" rx="1.49" fill="#000" opacity="0.34"/>
<rect x="186.81" y="450.84" width="11.60" height="4.60" rx="2.30" fill="#000" opacity="1.00"/>
<rect x="203.86" y="451.93" width="10.08" height="2.42" rx="1.21" fill="#000" opacity="0.06"/>
<rect x="217.70" y="450.84" width="11.60" height="4.60" rx="2.30" fill="#000" opacity="1.00"/>
<rect x="231.74" y="451.59" width="10.56" height="3.10" rx="1.55" fill="#000" opacity="0.39"/>
<rect x="245.98" y="451.47" width="10.72" height="3.33" rx="1.67" fill="#000" opacity="0.50"/>
</g>
<rect x="83.50" y="385.40" width="59.10" height="72.52" fill="none" stroke="#222" stroke-width="0.8" />
<line x1="83.50" y1="395.76" x2="142.60" y2="395.76" stroke="#333" stroke-width="0.7" />
<line x1="83.50" y1="406.12" x2="142.60" y2="406.12" stroke="#333" stroke-width="0.7" />
<line x1="83.50" y1="416.48" x2="142.60" y2="416.48" stroke="#333" stroke-width="0.7" />
<line x1="83.50" y1="426.84" x2="142.60" y2="426.84" stroke="#333" stroke-width="0.7" />
<line x1="83.50" y1="437.20" x2="142.60" y2="437.20" stroke="#333" stroke-width="0.7" />
<line x1="83.50" y1="447.56" x2="142.60" y2="447.56" stroke="#333" stroke-width="0.7" />
<rect x="142.60" y="385.40" width="58.10" height="72.52" fill="none" stroke="#222" stroke-width="0.8" />
<line x1="142.60" y1="395.76" x2="200.70" y2="395.76" stroke="#333" stroke-width="0.7" />
<line x1="142.60" y1="406.12" x2="200.70" y2="406.12" stroke="#333" stroke-width="0.7" />
<line x1="142.60" y1="416.48" x2="200.70" y2="416.48" stroke="#333" stroke-width="0.7" />
<line x1="142.60" y1="426.84" x2="200.70" y2="426.84" stroke="#333" stroke-width="0.7" />
<line x1="142.60" y1="437.20" x2="200.70" y2="437.20" stroke="#333" stroke-width="0.7" />
<line x1="142.60" y1="447.56" x2="200.70" y2="447.56" stroke="#333" stroke-width="0.7" />
<rect x="200.70" y="385.40" width="58.10" height="72.52" fill="none" stroke="#222" stroke-width="0.8" />
<line x1="200.70" y1="395.76" x2="258.80" y2="395.76" stroke="#333" stroke-width="0.7" />
<line x1="200.70" y1="406.12" x2="258.80" y2="406.12" stroke="#333" stroke-width="0.7" />
<line x1="200.70" y1="416.48" x2="258.80" y2="416.48" stroke="#333" stroke-width="0.7" />
<line x1="200.70" y1="426.84" x2="258.80" y2="426.84" stroke="#333" stroke-width="0.7" />
<line x1="200.70" y1="437.20" x2="258.80" y2="437.20" stroke="#333" stroke-width="0.7" />
<line x1="200.70" y1="447.56" x2="258.80" y2="447.56" stroke="#333" stroke-width="0.7" />
<text x="80.5" y="392.68" font-size="6.3" text-anchor="end" fill="#262626">pCHK1 <tspan font-style="italic">Ser345</tspan></text>
<text x="80.50" y="403.04" font-size="6.3" text-anchor="end" fill="#262626" >CHK1</text>
<text x="80.50" y="413.40" font-size="6.3" text-anchor="end" fill="#262626" >RRM2</text>
<text x="80.50" y="423.76" font-size="6.3" text-anchor="end" fill="#262626" >RAD51</text>
<text x="80.5" y="434.12" font-size="6.3" text-anchor="end" fill="#262626">pRPA32/2 <tspan font-style="italic">Ser33</tspan></text>
<text x="80.50" y="444.48" font-size="6.3" text-anchor="end" fill="#262626" >RPA32/2</text>
<text x="80.5" y="454.84" font-size="6.3" text-anchor="end" fill="#262626">γH2AX <tspan font-style="italic">Ser139</tspan></text>
<rect x="83.50" y="463.80" width="59.10" height="10.28" fill="rgb(246,246,246)" stroke="none" stroke-width="0.6" />
<rect x="142.60" y="463.80" width="58.10" height="10.28" fill="rgb(246,246,246)" stroke="none" stroke-width="0.6" />
<rect x="200.70" y="463.80" width="58.10" height="10.28" fill="rgb(229,229,229)" stroke="none" stroke-width="0.6" />
<rect x="83.50" y="474.08" width="59.10" height="10.28" fill="rgb(246,246,246)" stroke="none" stroke-width="0.6" />
<rect x="142.60" y="474.08" width="58.10" height="10.28" fill="rgb(246,246,246)" stroke="none" stroke-width="0.6" />
<rect x="200.70" y="474.08" width="58.10" height="10.28" fill="rgb(246,246,246)" stroke="none" stroke-width="0.6" />
<rect x="83.50" y="484.36" width="59.10" height="10.28" fill="rgb(246,246,246)" stroke="none" stroke-width="0.6" />
<rect x="142.60" y="484.36" width="58.10" height="10.28" fill="rgb(246,246,246)" stroke="none" stroke-width="0.6" />
<rect x="200.70" y="484.36" width="58.10" height="10.28" fill="rgb(246,246,246)" stroke="none" stroke-width="0.6" />
<rect x="83.50" y="494.64" width="59.10" height="10.28" fill="rgb(246,246,246)" stroke="none" stroke-width="0.6" />
<rect x="142.60" y="494.64" width="58.10" height="10.28" fill="rgb(246,246,246)" stroke="none" stroke-width="0.6" />
<rect x="200.70" y="494.64" width="58.10" height="10.28" fill="rgb(246,246,246)" stroke="none" stroke-width="0.6" />
<rect x="83.50" y="504.92" width="59.10" height="10.28" fill="rgb(246,246,246)" stroke="none" stroke-width="0.6" />
<rect x="142.60" y="504.92" width="58.10" height="10.28" fill="rgb(246,246,246)" stroke="none" stroke-width="0.6" />
<rect x="200.70" y="504.92" width="58.10" height="10.28" fill="rgb(224,224,224)" stroke="none" stroke-width="0.6" />
<rect x="83.50" y="515.20" width="59.10" height="10.28" fill="rgb(246,246,246)" stroke="none" stroke-width="0.6" />
<rect x="142.60" y="515.20" width="58.10" height="10.28" fill="rgb(246,246,246)" stroke="none" stroke-width="0.6" />
<rect x="200.70" y="515.20" width="58.10" height="10.28" fill="rgb(246,246,246)" stroke="none" stroke-width="0.6" />
<g filter="url(#bl)">
<rect x="86.34" y="467.15" width="11.44" height="4.37" rx="2.18" fill="#000" opacity="1.00"/>
<rect x="100.07" y="467.04" width="11.60" height="4.60" rx="2.30" fill="#000" opacity="1.00"/>
<rect x="115.99" y="467.96" width="10.32" height="2.76" rx="1.38" fill="#000" opacity="0.22"/>
<rect x="129.88" y="467.50" width="10.96" height="3.68" rx="1.84" fill="#000" opacity="0.67"/>
<rect x="145.58" y="467.56" width="10.88" height="3.56" rx="1.78" fill="#000" opacity="0.62"/>
<rect x="158.92" y="467.04" width="11.60" height="4.60" rx="2.30" fill="#000" opacity="1.00"/>
<rect x="173.85" y="467.61" width="10.80" height="3.45" rx="1.72" fill="#000" opacity="0.56"/>
<rect x="188.05" y="467.56" width="10.88" height="3.56" rx="1.78" fill="#000" opacity="0.62"/>
<rect x="202.71" y="467.15" width="11.44" height="4.37" rx="2.18" fill="#000" opacity="1.00"/>
<rect x="217.15" y="467.15" width="11.44" height="4.37" rx="2.18" fill="#000" opacity="1.00"/>
<rect x="232.77" y="468.13" width="10.08" height="2.42" rx="1.21" fill="#000" opacity="0.06"/>
<rect x="246.72" y="468.13" width="10.08" height="2.42" rx="1.21" fill="#000" opacity="0.06"/>
<rect x="85.10" y="476.02" width="13.00" height="7.20" rx="2.60" fill="#000" opacity="1.00"/>
<rect x="101.11" y="478.12" width="10.48" height="2.99" rx="1.49" fill="#000" opacity="0.34"/>
<rect x="115.83" y="478.07" width="10.56" height="3.10" rx="1.55" fill="#000" opacity="0.39"/>
<rect x="130.10" y="478.35" width="10.16" height="2.53" rx="1.26" fill="#000" opacity="0.11"/>
<rect x="144.84" y="477.32" width="11.60" height="4.60" rx="2.30" fill="#000" opacity="1.00"/>
<rect x="159.40" y="478.07" width="10.56" height="3.10" rx="1.55" fill="#000" opacity="0.39"/>
<rect x="173.04" y="477.32" width="11.60" height="4.60" rx="2.30" fill="#000" opacity="1.00"/>
<rect x="188.03" y="478.07" width="10.56" height="3.10" rx="1.55" fill="#000" opacity="0.39"/>
<rect x="202.26" y="476.02" width="13.00" height="7.20" rx="2.60" fill="#000" opacity="1.00"/>
<rect x="217.69" y="477.66" width="11.12" height="3.91" rx="1.95" fill="#000" opacity="0.78"/>
<rect x="232.85" y="478.35" width="10.16" height="2.53" rx="1.26" fill="#000" opacity="0.11"/>
<rect x="245.62" y="478.45" width="10.03" height="2.35" rx="1.17" fill="#000" opacity="0.02"/>
<rect x="86.18" y="487.60" width="11.60" height="4.60" rx="2.30" fill="#000" opacity="1.00"/>
<rect x="101.52" y="488.52" width="10.32" height="2.76" rx="1.38" fill="#000" opacity="0.22"/>
<rect x="114.97" y="487.60" width="11.60" height="4.60" rx="2.30" fill="#000" opacity="1.00"/>
<rect x="129.95" y="488.58" width="10.24" height="2.64" rx="1.32" fill="#000" opacity="0.17"/>
<rect x="145.36" y="487.60" width="11.60" height="4.60" rx="2.30" fill="#000" opacity="1.00"/>
<rect x="159.43" y="488.52" width="10.32" height="2.76" rx="1.38" fill="#000" opacity="0.22"/>
<rect x="172.86" y="487.66" width="11.52" height="4.48" rx="2.24" fill="#000" opacity="1.00"/>
<rect x="188.04" y="488.63" width="10.16" height="2.53" rx="1.26" fill="#000" opacity="0.11"/>
<rect x="203.44" y="487.60" width="11.60" height="4.60" rx="2.30" fill="#000" opacity="1.00"/>
<rect x="217.20" y="487.71" width="11.44" height="4.37" rx="2.18" fill="#000" opacity="1.00"/>
<rect x="231.95" y="488.12" width="10.88" height="3.56" rx="1.78" fill="#000" opacity="0.62"/>
<rect x="245.96" y="488.69" width="10.08" height="2.42" rx="1.21" fill="#000" opacity="0.06"/>
<rect x="86.58" y="497.99" width="11.44" height="4.37" rx="2.18" fill="#000" opacity="1.00"/>
<rect x="100.69" y="498.11" width="11.28" height="4.14" rx="2.07" fill="#000" opacity="0.90"/>
<rect x="115.71" y="497.99" width="11.44" height="4.37" rx="2.18" fill="#000" opacity="1.00"/>
<rect x="129.64" y="498.51" width="10.72" height="3.33" rx="1.67" fill="#000" opacity="0.50"/>
<rect x="144.84" y="497.94" width="11.52" height="4.48" rx="2.24" fill="#000" opacity="1.00"/>
<rect x="159.48" y="498.17" width="11.20" height="4.02" rx="2.01" fill="#000" opacity="0.84"/>
<rect x="173.74" y="497.99" width="11.44" height="4.37" rx="2.18" fill="#000" opacity="1.00"/>
<rect x="187.66" y="498.34" width="10.96" height="3.68" rx="1.84" fill="#000" opacity="0.67"/>
<rect x="202.91" y="497.94" width="11.52" height="4.48" rx="2.24" fill="#000" opacity="1.00"/>
<rect x="217.19" y="497.94" width="11.52" height="4.48" rx="2.24" fill="#000" opacity="1.00"/>
<rect x="231.92" y="497.99" width="11.44" height="4.37" rx="2.18" fill="#000" opacity="1.00"/>
<rect x="245.19" y="498.11" width="11.28" height="4.14" rx="2.07" fill="#000" opacity="0.90"/>
<rect x="86.51" y="508.22" width="11.52" height="4.48" rx="2.24" fill="#000" opacity="1.00"/>
<rect x="101.01" y="508.16" width="11.60" height="4.60" rx="2.30" fill="#000" opacity="1.00"/>
<rect x="114.90" y="508.27" width="11.44" height="4.37" rx="2.18" fill="#000" opacity="1.00"/>
<rect x="129.41" y="508.27" width="11.44" height="4.37" rx="2.18" fill="#000" opacity="1.00"/>
<rect x="145.45" y="508.27" width="11.44" height="4.37" rx="2.18" fill="#000" opacity="1.00"/>
<rect x="159.55" y="508.56" width="11.04" height="3.79" rx="1.90" fill="#000" opacity="0.73"/>
<rect x="173.81" y="508.50" width="11.12" height="3.91" rx="1.95" fill="#000" opacity="0.78"/>
<rect x="187.65" y="508.79" width="10.72" height="3.33" rx="1.67" fill="#000" opacity="0.50"/>
<rect x="85.98" y="518.90" width="10.96" height="3.68" rx="1.84" fill="#000" opacity="0.67"/>
<rect x="100.67" y="518.90" width="10.96" height="3.68" rx="1.84" fill="#000" opacity="0.67"/>
<rect x="115.83" y="518.84" width="11.04" height="3.79" rx="1.90" fill="#000" opacity="0.73"/>
<rect x="129.45" y="518.61" width="11.36" height="4.25" rx="2.13" fill="#000" opacity="0.95"/>
<rect x="145.34" y="519.19" width="10.56" height="3.10" rx="1.55" fill="#000" opacity="0.39"/>
<rect x="159.56" y="519.25" width="10.48" height="2.99" rx="1.49" fill="#000" opacity="0.34"/>
<rect x="173.22" y="518.61" width="11.36" height="4.25" rx="2.13" fill="#000" opacity="0.95"/>
<rect x="187.53" y="518.78" width="11.12" height="3.91" rx="1.95" fill="#000" opacity="0.78"/>
<rect x="204.10" y="519.01" width="10.80" height="3.45" rx="1.72" fill="#000" opacity="0.56"/>
<rect x="217.67" y="519.13" width="10.64" height="3.22" rx="1.61" fill="#000" opacity="0.45"/>
<rect x="231.29" y="518.56" width="11.44" height="4.37" rx="2.18" fill="#000" opacity="1.00"/>
<rect x="246.01" y="518.56" width="11.44" height="4.37" rx="2.18" fill="#000" opacity="1.00"/>
</g>
<rect x="83.50" y="463.80" width="59.10" height="61.68" fill="none" stroke="#222" stroke-width="0.8" />
<line x1="83.50" y1="474.08" x2="142.60" y2="474.08" stroke="#333" stroke-width="0.7" />
<line x1="83.50" y1="484.36" x2="142.60" y2="484.36" stroke="#333" stroke-width="0.7" />
<line x1="83.50" y1="494.64" x2="142.60" y2="494.64" stroke="#333" stroke-width="0.7" />
<line x1="83.50" y1="504.92" x2="142.60" y2="504.92" stroke="#333" stroke-width="0.7" />
<line x1="83.50" y1="515.20" x2="142.60" y2="515.20" stroke="#333" stroke-width="0.7" />
<rect x="142.60" y="463.80" width="58.10" height="61.68" fill="none" stroke="#222" stroke-width="0.8" />
<line x1="142.60" y1="474.08" x2="200.70" y2="474.08" stroke="#333" stroke-width="0.7" />
<line x1="142.60" y1="484.36" x2="200.70" y2="484.36" stroke="#333" stroke-width="0.7" />
<line x1="142.60" y1="494.64" x2="200.70" y2="494.64" stroke="#333" stroke-width="0.7" />
<line x1="142.60" y1="504.92" x2="200.70" y2="504.92" stroke="#333" stroke-width="0.7" />
<line x1="142.60" y1="515.20" x2="200.70" y2="515.20" stroke="#333" stroke-width="0.7" />
<rect x="200.70" y="463.80" width="58.10" height="61.68" fill="none" stroke="#222" stroke-width="0.8" />
<line x1="200.70" y1="474.08" x2="258.80" y2="474.08" stroke="#333" stroke-width="0.7" />
<line x1="200.70" y1="484.36" x2="258.80" y2="484.36" stroke="#333" stroke-width="0.7" />
<line x1="200.70" y1="494.64" x2="258.80" y2="494.64" stroke="#333" stroke-width="0.7" />
<line x1="200.70" y1="504.92" x2="258.80" y2="504.92" stroke="#333" stroke-width="0.7" />
<line x1="200.70" y1="515.20" x2="258.80" y2="515.20" stroke="#333" stroke-width="0.7" />
<text x="80.5" y="471.04" font-size="6.3" text-anchor="end" fill="#262626">pPLK1 <tspan font-style="italic">Thr210</tspan></text>
<text x="80.50" y="481.32" font-size="6.3" text-anchor="end" fill="#262626" >PLK1</text>
<text x="80.5" y="491.60" font-size="6.3" text-anchor="end" fill="#262626">pCDC2 <tspan font-style="italic">Tyr15</tspan></text>
<text x="80.50" y="501.88" font-size="6.3" text-anchor="end" fill="#262626" >CDC2</text>
<text x="80.50" y="512.16" font-size="6.3" text-anchor="end" fill="#262626" >p21</text>
<text x="80.50" y="522.44" font-size="6.3" text-anchor="end" fill="#262626" >p27</text>
<rect x="83.50" y="530.30" width="59.10" height="11.00" fill="rgb(246,246,246)" stroke="none" stroke-width="0.6" />
<rect x="142.60" y="530.30" width="58.10" height="11.00" fill="rgb(246,246,246)" stroke="none" stroke-width="0.6" />
<rect x="200.70" y="530.30" width="58.10" height="11.00" fill="rgb(246,246,246)" stroke="none" stroke-width="0.6" />
<g filter="url(#bl)">
<rect x="86.68" y="534.07" width="11.36" height="4.25" rx="2.13" fill="#000" opacity="0.95"/>
<rect x="101.30" y="534.07" width="11.36" height="4.25" rx="2.13" fill="#000" opacity="0.95"/>
<rect x="115.20" y="534.01" width="11.44" height="4.37" rx="2.18" fill="#000" opacity="1.00"/>
<rect x="130.26" y="534.07" width="11.36" height="4.25" rx="2.13" fill="#000" opacity="0.95"/>
<rect x="145.59" y="534.01" width="11.44" height="4.37" rx="2.18" fill="#000" opacity="1.00"/>
<rect x="158.93" y="534.13" width="11.28" height="4.14" rx="2.07" fill="#000" opacity="0.90"/>
<rect x="173.57" y="534.01" width="11.44" height="4.37" rx="2.18" fill="#000" opacity="1.00"/>
<rect x="187.96" y="534.13" width="11.28" height="4.14" rx="2.07" fill="#000" opacity="0.90"/>
<rect x="203.52" y="534.07" width="11.36" height="4.25" rx="2.13" fill="#000" opacity="0.95"/>
<rect x="217.74" y="534.07" width="11.36" height="4.25" rx="2.13" fill="#000" opacity="0.95"/>
<rect x="231.67" y="534.07" width="11.36" height="4.25" rx="2.13" fill="#000" opacity="0.95"/>
<rect x="245.37" y="534.13" width="11.28" height="4.14" rx="2.07" fill="#000" opacity="0.90"/>
</g>
<rect x="83.50" y="530.30" width="59.10" height="11.00" fill="none" stroke="#222" stroke-width="0.8" />
<rect x="142.60" y="530.30" width="58.10" height="11.00" fill="none" stroke="#222" stroke-width="0.8" />
<rect x="200.70" y="530.30" width="58.10" height="11.00" fill="none" stroke="#222" stroke-width="0.8" />
<text x="80.50" y="537.90" font-size="6.3" text-anchor="end" fill="#262626" >GAPDH</text>
<line x1="23.10" y1="350.30" x2="23.10" y2="376.70" stroke="#5bb8e6" stroke-width="1.1" />
<line x1="23.00" y1="389.90" x2="23.00" y2="454.60" stroke="#f0a848" stroke-width="1.1" />
<line x1="23.20" y1="468.00" x2="23.20" y2="525.60" stroke="#3fb07a" stroke-width="1.1" />
<text x="12.20" y="363.30" font-size="6.6" text-anchor="middle" fill="#262626" textLength="24.8" lengthAdjust="spacingAndGlyphs" transform="rotate(-90 12.20 363.30)" >JAK/STAT</text>
<text x="18.40" y="363.30" font-size="6.3" text-anchor="middle" fill="#262626" font-style="italic" textLength="22.8" lengthAdjust="spacingAndGlyphs" transform="rotate(-90 18.40 363.30)" >signaling</text>
<text x="11.80" y="419.00" font-size="6.2" text-anchor="middle" fill="#262626" textLength="33.5" lengthAdjust="spacingAndGlyphs" transform="rotate(-90 11.80 419.00)" >DNA damage &amp;</text>
<text x="17.80" y="419.70" font-size="6.6" text-anchor="middle" fill="#262626" font-style="italic" textLength="37.3" lengthAdjust="spacingAndGlyphs" transform="rotate(-90 17.80 419.70)" >replication stress</text>
<text x="18.40" y="496.80" font-size="6.3" text-anchor="middle" fill="#262626" textLength="24.8" lengthAdjust="spacingAndGlyphs" transform="rotate(-90 18.40 496.80)" >Cell cycle</text>
<text x="273.40" y="323.70" font-size="11" text-anchor="start" fill="#111" font-weight="bold" >F</text>
<text x="329.10" y="334.30" font-size="4.9" text-anchor="middle" fill="#222" >MyLa</text>
<text x="396.60" y="334.30" font-size="4.9" text-anchor="middle" fill="#222" >MAC2A</text>
<text x="464.20" y="334.30" font-size="4.9" text-anchor="middle" fill="#222" >NKL</text>
<text x="282.50" y="357.45" font-size="8.1" text-anchor="middle" fill="#222" transform="rotate(-90 282.50 357.45)" >DMSO</text>
<text x="282.50" y="418.55" font-size="8.1" text-anchor="middle" fill="#222" transform="rotate(-90 282.50 418.55)" >Adavosertib</text>
<text x="282.50" y="482.25" font-size="8.1" text-anchor="middle" fill="#222" transform="rotate(-90 282.50 482.25)" >Ruxolitinib</text>
<text x="282.50" y="549.65" font-size="8.1" text-anchor="middle" fill="#222" transform="rotate(-90 282.50 549.65)" >Combination</text>
<line x1="285.70" y1="340.50" x2="285.70" y2="585.80" stroke="#111" stroke-width="0.8" />
<path d="M285.7,337.5 L284.0,342.0 L287.4,342.0 Z" fill="#111"/>
<line x1="315.00" y1="594.50" x2="474.00" y2="594.50" stroke="#111" stroke-width="0.8" />
<path d="M477.5,594.5 L473.0,592.8 L473.0,596.2 Z" fill="#111"/>
<text x="292.80" y="596.50" font-size="7.4" text-anchor="start" fill="#111" font-weight="bold" textLength="19.5" lengthAdjust="spacingAndGlyphs" >Hoechst</text>
<text x="285.80" y="592.50" font-size="6.6" text-anchor="middle" fill="#111" font-weight="bold" transform="rotate(-90 285.80 592.50)" >PI</text>
<rect x="307.70" y="337.60" width="43.80" height="40.50" fill="none" stroke="#c8c8c8" stroke-width="0.5" />
<line x1="307.70" y1="338.60" x2="307.70" y2="378.10" stroke="#222" stroke-width="0.9" />
<line x1="307.70" y1="378.10" x2="351.50" y2="378.10" stroke="#222" stroke-width="0.9" />
<line x1="306.50" y1="342.26" x2="307.70" y2="342.26" stroke="#000" stroke-width="0.8" />
<text x="305.90" y="343.26" font-size="3.0" text-anchor="end" fill="#333" >10⁶</text>
<line x1="306.50" y1="351.98" x2="307.70" y2="351.98" stroke="#000" stroke-width="0.8" />
<text x="305.90" y="352.98" font-size="3.0" text-anchor="end" fill="#333" >10⁵</text>
<line x1="306.50" y1="361.70" x2="307.70" y2="361.70" stroke="#000" stroke-width="0.8" />
<text x="305.90" y="362.70" font-size="3.0" text-anchor="end" fill="#333" >10⁴</text>
<line x1="306.50" y1="372.03" x2="307.70" y2="372.03" stroke="#000" stroke-width="0.8" />
<text x="305.90" y="373.03" font-size="3.0" text-anchor="end" fill="#333" >10³</text>
<line x1="316.46" y1="378.10" x2="316.46" y2="379.00" stroke="#000" stroke-width="0.5" />
<text x="316.46" y="383.30" font-size="3.2" text-anchor="middle" fill="#333" >50</text>
<line x1="324.34" y1="378.10" x2="324.34" y2="379.00" stroke="#000" stroke-width="0.5" />
<text x="324.34" y="383.30" font-size="3.2" text-anchor="middle" fill="#333" >100</text>
<line x1="332.23" y1="378.10" x2="332.23" y2="379.00" stroke="#000" stroke-width="0.5" />
<text x="332.23" y="383.30" font-size="3.2" text-anchor="middle" fill="#333" >150</text>
<line x1="340.11" y1="378.10" x2="340.11" y2="379.00" stroke="#000" stroke-width="0.5" />
<text x="340.11" y="383.30" font-size="3.2" text-anchor="middle" fill="#333" >200</text>
<line x1="348.00" y1="378.10" x2="348.00" y2="379.00" stroke="#000" stroke-width="0.5" />
<text x="348.00" y="383.30" font-size="3.2" text-anchor="middle" fill="#333" >250</text>
<line x1="307.70" y1="378.10" x2="307.70" y2="378.70" stroke="#000" stroke-width="0.3" />
<line x1="309.79" y1="378.10" x2="309.79" y2="378.70" stroke="#000" stroke-width="0.3" />
<line x1="311.87" y1="378.10" x2="311.87" y2="378.70" stroke="#000" stroke-width="0.3" />
<line x1="313.96" y1="378.10" x2="313.96" y2="378.70" stroke="#000" stroke-width="0.3" />
<line x1="316.04" y1="378.10" x2="316.04" y2="378.70" stroke="#000" stroke-width="0.3" />
<line x1="318.13" y1="378.10" x2="318.13" y2="378.70" stroke="#000" stroke-width="0.3" />
<line x1="320.21" y1="378.10" x2="320.21" y2="378.70" stroke="#000" stroke-width="0.3" />
<line x1="322.30" y1="378.10" x2="322.30" y2="378.70" stroke="#000" stroke-width="0.3" />
<line x1="324.39" y1="378.10" x2="324.39" y2="378.70" stroke="#000" stroke-width="0.3" />
<line x1="326.47" y1="378.10" x2="326.47" y2="378.70" stroke="#000" stroke-width="0.3" />
<line x1="328.56" y1="378.10" x2="328.56" y2="378.70" stroke="#000" stroke-width="0.3" />
<line x1="330.64" y1="378.10" x2="330.64" y2="378.70" stroke="#000" stroke-width="0.3" />
<line x1="332.73" y1="378.10" x2="332.73" y2="378.70" stroke="#000" stroke-width="0.3" />
<line x1="334.81" y1="378.10" x2="334.81" y2="378.70" stroke="#000" stroke-width="0.3" />
<line x1="336.90" y1="378.10" x2="336.90" y2="378.70" stroke="#000" stroke-width="0.3" />
<line x1="338.99" y1="378.10" x2="338.99" y2="378.70" stroke="#000" stroke-width="0.3" />
<line x1="341.07" y1="378.10" x2="341.07" y2="378.70" stroke="#000" stroke-width="0.3" />
<line x1="343.16" y1="378.10" x2="343.16" y2="378.70" stroke="#000" stroke-width="0.3" />
<line x1="345.24" y1="378.10" x2="345.24" y2="378.70" stroke="#000" stroke-width="0.3" />
<line x1="347.33" y1="378.10" x2="347.33" y2="378.70" stroke="#000" stroke-width="0.3" />
<line x1="349.41" y1="378.10" x2="349.41" y2="378.70" stroke="#000" stroke-width="0.3" />
<line x1="351.50" y1="378.10" x2="351.50" y2="378.70" stroke="#000" stroke-width="0.3" />
<text x="351.00" y="386.60" font-size="2.9" text-anchor="end" fill="#333" >(x 1,000)</text>
<text x="332.60" y="393.90" font-size="4.6" text-anchor="middle" fill="#222" font-weight="bold" textLength="33" lengthAdjust="spacingAndGlyphs" >Hoechst blue (355)-A</text>
<text x="298.30" y="357.85" font-size="4.6" text-anchor="middle" fill="#222" font-weight="bold" textLength="15.5" lengthAdjust="spacingAndGlyphs" transform="rotate(-90 298.30 357.85)" >PI (561)-A</text>
<polygon points="334.8,370.8 336.3,372.0 336.7,373.5 335.5,374.6 333.3,375.1 330.8,374.8 329.3,375.1 328.0,376.1 326.0,377.2 323.6,377.3 321.9,376.4 321.3,374.8 321.3,373.4 320.8,372.6 319.2,371.9 317.7,370.8 316.6,369.5 317.6,368.2 318.9,367.2 321.1,366.7 323.2,366.6 324.6,366.2 326.3,366.1 328.0,365.6 330.0,365.4 331.9,365.7 334.0,366.1 335.1,367.3 334.6,368.8 334.4,369.9" fill="#eee4f6" stroke="none"/>
<polygon points="320.7,345.6 320.6,345.9 320.7,346.3 320.7,346.8 320.7,347.4 320.3,347.8 319.7,347.9 319.2,347.8 318.7,347.4 318.4,347.2 318.0,347.1 317.6,346.9 317.0,346.9 316.6,346.6 316.4,346.1 316.5,345.6 316.8,345.2 317.0,344.8 317.2,344.4 317.5,344.1 317.7,343.7 318.2,343.6 318.7,343.7 319.1,343.8 319.6,343.7 320.2,343.6 320.8,343.7 321.1,344.1 321.1,344.7 321.0,345.2" fill="#eee4f6" stroke="none"/>
<path d="M326.2 370.7h.4M335.3 371.1h.4M334.4 370.0h.4M323.9 369.2h.4M323.8 369.3h.4M323.9 375.3h.4M329.0 374.0h.4M333.1 368.5h.4M338.1 371.6h.4M327.3 369.1h.4M326.2 375.3h.4M329.6 366.4h.4M328.8 371.8h.4M327.5 369.8h.4M327.7 373.0h.4M324.5 373.5h.4M317.2 368.0h.4M334.2 363.8h.4M321.7 368.2h.4M322.9 367.8h.4M316.8 373.2h.4M328.8 373.4h.4M325.8 372.3h.4M325.9 373.5h.4M325.0 371.7h.4M326.8 369.7h.4M326.2 372.4h.4M322.2 369.1h.4M329.3 370.5h.4M332.9 374.1h.4M330.7 369.5h.4M331.8 366.5h.4M323.3 376.4h.4M325.8 372.1h.4M320.9 369.2h.4M321.6 375.6h.4M327.6 369.1h.4M331.1 373.1h.4M331.1 371.3h.4M325.4 368.9h.4M329.9 374.2h.4M332.1 361.2h.4M334.7 373.7h.4M327.7 372.8h.4M324.7 371.6h.4M322.5 369.7h.4M334.7 367.9h.4M325.7 368.4h.4M329.7 371.8h.4M333.5 370.6h.4M328.3 372.4h.4M333.9 374.6h.4M327.3 370.0h.4M317.9 369.7h.4M328.4 374.2h.4M326.2 375.2h.4M335.9 370.5h.4M324.8 369.5h.4M321.7 371.4h.4M327.7 369.3h.4M321.5 368.5h.4M319.6 368.8h.4M320.9 372.4h.4M321.8 364.5h.4M335.9 360.6h.4M319.5 365.7h.4M314.8 368.6h.4M334.7 370.9h.4M326.4 367.8h.4M323.7 374.2h.4M331.6 367.5h.4M329.4 373.2h.4M324.3 375.5h.4M317.3 371.7h.4M314.9 369.9h.4M329.1 371.3h.4M323.8 375.8h.4M316.6 372.7h.4M329.8 364.4h.4M321.6 371.4h.4M321.8 373.3h.4M328.8 370.9h.4M328.3 366.8h.4M324.8 369.8h.4M318.6 373.0h.4M314.3 374.9h.4M334.5 363.4h.4M323.5 369.1h.4M327.2 370.1h.4M333.0 367.1h.4M324.3 374.6h.4M323.5 373.9h.4M325.8 376.6h.4M327.3 367.4h.4M324.2 371.9h.4M330.1 369.7h.4M325.9 367.7h.4M332.2 369.3h.4M333.5 375.9h.4M324.8 369.8h.4M323.5 365.0h.4M325.7 371.3h.4M320.8 371.4h.4M333.9 374.0h.4M333.6 371.2h.4M329.7 372.7h.4M324.2 366.1h.4M329.6 375.9h.4M327.0 369.1h.4M334.1 372.5h.4M317.3 365.6h.4M318.4 363.7h.4M325.5 368.0h.4M334.3 364.0h.4M323.2 372.4h.4M326.2 362.5h.4M329.2 370.4h.4M337.7 362.4h.4M331.6 371.4h.4M324.2 372.1h.4M321.9 374.2h.4M337.4 368.7h.4M330.4 371.2h.4M332.8 371.3h.4M316.8 367.8h.4M327.7 376.2h.4M332.1 367.6h.4M320.1 370.5h.4M313.9 370.3h.4M333.3 376.0h.4M324.6 371.2h.4M328.0 371.3h.4M323.9 371.6h.4M335.5 369.0h.4M321.6 372.0h.4M316.0 370.7h.4M324.7 372.8h.4M324.9 371.9h.4M324.8 367.8h.4M330.9 376.1h.4M327.1 373.7h.4M324.1 369.6h.4M334.2 370.7h.4M325.3 363.7h.4M326.5 367.9h.4M322.0 363.6h.4M326.8 372.4h.4M320.8 371.7h.4M325.5 368.2h.4M330.1 371.0h.4M323.4 377.0h.4M322.1 369.7h.4M324.7 369.9h.4M322.1 370.0h.4M324.4 371.9h.4M329.2 372.2h.4M322.7 370.5h.4M328.6 373.5h.4M321.1 365.1h.4M322.3 368.7h.4M325.7 369.0h.4M324.9 373.8h.4M332.8 368.7h.4M325.1 373.5h.4M326.6 375.2h.4M322.3 367.6h.4M326.0 370.9h.4M337.5 369.0h.4M321.8 371.7h.4M328.7 370.2h.4M327.5 372.0h.4M332.0 373.5h.4M331.2 374.8h.4M329.6 369.7h.4M323.7 371.6h.4M331.2 369.9h.4M321.7 370.2h.4M325.0 369.6h.4M326.7 367.9h.4M329.3 367.5h.4M322.9 371.1h.4M337.5 376.5h.4M324.3 374.8h.4M318.7 373.1h.4M331.7 372.7h.4M332.9 369.6h.4M320.4 373.2h.4M330.7 371.0h.4M326.5 370.5h.4M317.7 374.7h.4M325.1 367.2h.4M326.4 367.6h.4M332.0 367.1h.4M327.3 371.9h.4M330.2 371.7h.4M324.0 370.3h.4M333.6 365.3h.4M326.7 369.4h.4M329.3 368.6h.4M330.8 373.6h.4M327.1 372.1h.4M332.9 369.5h.4M325.9 363.6h.4M325.5 374.1h.4M323.9 369.9h.4M328.4 371.8h.4M321.7 372.7h.4M322.4 369.6h.4M320.7 366.7h.4M327.7 374.3h.4M320.4 370.6h.4M332.0 369.7h.4M330.4 373.6h.4M329.3 369.1h.4M323.3 373.2h.4M336.7 370.3h.4M334.5 370.0h.4M337.7 374.5h.4M331.2 369.1h.4M324.9 371.8h.4M330.7 370.7h.4M323.8 368.5h.4M328.9 369.6h.4M323.5 369.7h.4M318.9 372.7h.4M323.0 372.5h.4M321.7 366.6h.4M333.8 376.7h.4M329.3 372.9h.4M327.4 372.6h.4M321.0 372.3h.4M325.3 364.9h.4M323.2 371.4h.4M323.7 363.8h.4M333.8 371.6h.4M330.0 368.4h.4M326.2 365.7h.4M327.0 373.3h.4M335.6 374.0h.4M326.6 365.0h.4M330.5 368.4h.4M334.2 372.3h.4M322.7 366.6h.4M318.3 369.1h.4M321.3 372.1h.4M326.4 374.3h.4M325.7 371.4h.4M331.1 371.6h.4M326.4 371.0h.4M331.6 371.9h.4M327.8 375.0h.4M323.1 369.8h.4M329.1 374.8h.4M324.8 369.8h.4M323.8 374.3h.4M329.7 369.1h.4M323.2 370.3h.4M321.9 346.9h.4M318.1 347.6h.4M319.5 347.7h.4M319.0 347.1h.4M318.4 346.6h.4M320.2 345.1h.4M319.0 347.1h.4M321.1 345.8h.4M316.8 346.7h.4M318.2 346.4h.4M319.0 345.9h.4M319.7 348.0h.4M321.1 347.8h.4M319.9 347.3h.4M320.2 344.3h.4M320.5 344.9h.4M320.5 345.5h.4M320.0 348.0h.4M319.3 346.8h.4M320.2 345.7h.4M321.0 344.7h.4M320.0 343.8h.4M319.8 344.3h.4M317.7 346.1h.4M319.5 345.9h.4M321.2 348.2h.4M330.0 362.5h.4M329.6 370.5h.4M328.0 355.8h.4M322.0 354.1h.4M332.3 358.0h.4M325.4 375.0h.4M323.9 353.7h.4M326.0 346.9h.4M325.7 367.5h.4M329.0 354.3h.4M325.8 361.9h.4M323.2 361.8h.4M324.9 353.9h.4M333.6 356.7h.4M322.4 363.5h.4M331.5 342.0h.4M329.2 359.6h.4M330.2 355.6h.4M330.6 371.4h.4M318.4 356.1h.4M331.2 354.8h.4M330.0 359.8h.4M322.0 362.4h.4M331.6 362.2h.4M333.7 350.8h.4M334.4 357.4h.4M322.9 356.2h.4M333.9 353.4h.4M333.0 368.6h.4M330.5 344.7h.4M319.5 352.6h.4M329.9 357.7h.4M324.6 358.6h.4M325.6 361.4h.4M330.8 354.1h.4M323.9 366.9h.4M327.4 370.4h.4M323.6 346.5h.4M328.1 362.4h.4M327.9 357.0h.4M325.8 354.7h.4M324.1 350.8h.4M325.5 356.0h.4M327.5 357.0h.4M331.8 353.6h.4M329.5 349.8h.4M325.9 352.4h.4M332.5 352.1h.4M330.3 360.7h.4M322.4 346.3h.4M328.6 348.5h.4M338.5 356.8h.4M318.1 353.1h.4M335.6 354.4h.4M327.8 346.4h.4M336.8 368.4h.4M330.3 363.4h.4M321.8 348.4h.4M331.8 346.3h.4M330.7 344.1h.4M330.1 343.0h.4M333.7 342.7h.4M331.9 342.5h.4M330.8 342.3h.4M329.2 342.4h.4M330.1 343.2h.4M327.7 342.3h.4M329.2 343.4h.4M328.1 345.4h.4M327.8 344.9h.4M331.2 342.8h.4M328.0 345.1h.4M327.6 344.1h.4M331.1 345.4h.4M320.3 371.5h.4M327.1 357.3h.4M321.1 356.5h.4M324.5 358.3h.4M318.5 355.6h.4M327.7 356.8h.4M323.6 360.6h.4M325.0 360.2h.4M325.9 371.3h.4M336.5 357.4h.4M326.7 347.1h.4M317.3 368.9h.4M326.1 362.3h.4M337.1 356.0h.4M330.4 355.5h.4M322.6 348.1h.4M328.7 354.1h.4M328.5 354.1h.4M332.6 344.3h.4M324.4 356.4h.4M329.2 364.7h.4M324.8 365.0h.4M319.9 358.1h.4M322.7 360.1h.4M328.0 346.6h.4M320.9 360.8h.4M335.9 358.7h.4M333.7 350.8h.4M323.6 352.0h.4M324.3 355.6h.4M330.7 355.0h.4M329.7 348.3h.4M334.2 362.8h.4M313.3 347.7h.4M320.9 349.6h.4M321.2 364.2h.4M325.7 359.2h.4M328.1 341.6h.4M325.2 364.6h.4M320.8 356.5h.4M320.8 369.5h.4M323.0 359.9h.4M333.4 358.2h.4M328.2 344.3h.4M327.3 349.2h.4M324.5 358.4h.4M333.5 351.2h.4M329.2 343.5h.4M330.8 352.9h.4M329.7 357.2h.4M328.1 365.7h.4M325.7 356.2h.4M325.4 346.3h.4M326.3 363.5h.4M326.4 348.6h.4M322.1 354.9h.4M323.3 340.5h.4M334.9 347.9h.4M329.3 361.2h.4M324.0 359.0h.4M320.6 361.8h.4M325.2 367.3h.4M326.4 349.5h.4M323.6 364.6h.4M315.7 358.6h.4M327.9 366.4h.4M318.1 362.8h.4M321.7 345.7h.4M329.7 347.3h.4M321.2 367.0h.4M321.5 355.0h.4M328.8 349.8h.4M329.0 355.6h.4M336.8 366.6h.4M324.6 360.4h.4M324.2 344.8h.4M320.9 359.2h.4M334.4 339.3h.4M332.1 359.3h.4M322.0 351.0h.4M328.3 361.8h.4M331.0 349.9h.4M332.8 373.9h.4M334.2 350.4h.4M324.0 343.9h.4M325.2 347.1h.4M330.3 345.6h.4M324.1 349.5h.4M330.8 372.3h.4M327.1 354.5h.4M328.3 364.1h.4M327.8 350.3h.4M323.3 342.8h.4M319.4 356.8h.4M334.8 349.8h.4M322.7 359.5h.4M323.5 353.7h.4M313.1 356.4h.4M329.9 372.6h.4M317.5 347.4h.4M316.5 355.9h.4M328.9 355.3h.4M326.4 354.8h.4M332.5 363.2h.4M336.7 358.1h.4M332.8 365.3h.4" stroke="#b592d4" stroke-width="0.55" stroke-linecap="round" opacity="0.55" fill="none"/>
<polygon points="334.8,370.8 336.3,372.0 336.7,373.5 335.5,374.6 333.3,375.1 330.8,374.8 329.3,375.1 328.0,376.1 326.0,377.2 323.6,377.3 321.9,376.4 321.3,374.8 321.3,373.4 320.8,372.6 319.2,371.9 317.7,370.8 316.6,369.5 317.6,368.2 318.9,367.2 321.1,366.7 323.2,366.6 324.6,366.2 326.3,366.1 328.0,365.6 330.0,365.4 331.9,365.7 334.0,366.1 335.1,367.3 334.6,368.8 334.4,369.9" fill="none" stroke="#6e3f9c" stroke-width="0.5" stroke-opacity="0.85" stroke-linejoin="round"/>
<polygon points="335.3,370.7 335.8,371.9 334.7,372.8 332.4,373.1 330.9,373.4 330.2,374.2 329.4,375.3 327.8,375.6 326.3,374.9 325.5,373.6 324.9,373.0 323.3,373.3 320.6,373.6 318.7,373.0 318.7,371.8 320.2,370.7 320.8,369.9 320.5,368.9 320.3,367.7 321.3,366.8 323.3,366.8 325.2,367.4 326.5,367.8 327.6,367.2 329.4,366.2 331.1,366.3 332.1,367.2 332.0,368.5 332.1,369.3 333.3,369.9" fill="none" stroke="#6e3f9c" stroke-width="0.5" stroke-opacity="0.85" stroke-linejoin="round"/>
<polygon points="331.2,370.0 330.6,370.7 330.5,371.4 329.8,371.9 328.9,372.2 327.9,372.4 326.8,372.1 326.1,372.5 325.1,373.3 323.8,373.7 322.4,373.6 322.0,372.5 322.2,371.6 322.4,370.9 321.8,370.6 320.7,370.0 320.1,369.3 320.5,368.6 322.0,368.4 323.0,368.2 323.3,367.5 324.0,366.9 325.1,366.5 326.3,366.7 327.2,367.3 327.7,367.9 328.2,368.3 329.5,368.4 330.5,368.7 331.1,369.3" fill="none" stroke="#6e3f9c" stroke-width="0.5" stroke-opacity="0.85" stroke-linejoin="round"/>
<polygon points="330.4,371.3 330.1,371.7 329.6,372.0 329.0,372.2 328.5,372.3 328.5,372.8 328.1,373.2 327.4,373.3 326.7,373.1 326.2,372.9 325.6,372.9 324.8,372.9 324.0,372.7 323.8,372.2 324.2,371.7 324.8,371.3 325.0,371.0 324.8,370.7 324.6,370.2 325.0,369.9 325.6,369.8 326.3,369.8 326.7,369.5 327.4,369.2 328.2,369.2 328.8,369.4 329.0,370.0 329.1,370.4 329.3,370.7 329.8,370.9" fill="none" stroke="#6e3f9c" stroke-width="0.5" stroke-opacity="0.85" stroke-linejoin="round"/>
<polygon points="320.7,345.6 320.6,345.9 320.7,346.3 320.7,346.8 320.7,347.4 320.3,347.8 319.7,347.9 319.2,347.8 318.7,347.4 318.4,347.2 318.0,347.1 317.6,346.9 317.0,346.9 316.6,346.6 316.4,346.1 316.5,345.6 316.8,345.2 317.0,344.8 317.2,344.4 317.5,344.1 317.7,343.7 318.2,343.6 318.7,343.7 319.1,343.8 319.6,343.7 320.2,343.6 320.8,343.7 321.1,344.1 321.1,344.7 321.0,345.2" fill="none" stroke="#6e3f9c" stroke-width="0.5" stroke-opacity="0.85" stroke-linejoin="round"/>
<rect x="375.20" y="337.60" width="43.80" height="40.50" fill="none" stroke="#c8c8c8" stroke-width="0.5" />
<line x1="375.20" y1="338.60" x2="375.20" y2="378.10" stroke="#222" stroke-width="0.9" />
<line x1="375.20" y1="378.10" x2="419.00" y2="378.10" stroke="#222" stroke-width="0.9" />
<line x1="374.00" y1="342.26" x2="375.20" y2="342.26" stroke="#000" stroke-width="0.8" />
<text x="373.40" y="343.26" font-size="3.0" text-anchor="end" fill="#333" >10⁶</text>
<line x1="374.00" y1="351.98" x2="375.20" y2="351.98" stroke="#000" stroke-width="0.8" />
<text x="373.40" y="352.98" font-size="3.0" text-anchor="end" fill="#333" >10⁵</text>
<line x1="374.00" y1="361.70" x2="375.20" y2="361.70" stroke="#000" stroke-width="0.8" />
<text x="373.40" y="362.70" font-size="3.0" text-anchor="end" fill="#333" >10⁴</text>
<line x1="374.00" y1="372.03" x2="375.20" y2="372.03" stroke="#000" stroke-width="0.8" />
<text x="373.40" y="373.03" font-size="3.0" text-anchor="end" fill="#333" >10³</text>
<line x1="383.96" y1="378.10" x2="383.96" y2="379.00" stroke="#000" stroke-width="0.5" />
<text x="383.96" y="383.30" font-size="3.2" text-anchor="middle" fill="#333" >50</text>
<line x1="391.84" y1="378.10" x2="391.84" y2="379.00" stroke="#000" stroke-width="0.5" />
<text x="391.84" y="383.30" font-size="3.2" text-anchor="middle" fill="#333" >100</text>
<line x1="399.73" y1="378.10" x2="399.73" y2="379.00" stroke="#000" stroke-width="0.5" />
<text x="399.73" y="383.30" font-size="3.2" text-anchor="middle" fill="#333" >150</text>
<line x1="407.61" y1="378.10" x2="407.61" y2="379.00" stroke="#000" stroke-width="0.5" />
<text x="407.61" y="383.30" font-size="3.2" text-anchor="middle" fill="#333" >200</text>
<line x1="415.50" y1="378.10" x2="415.50" y2="379.00" stroke="#000" stroke-width="0.5" />
<text x="415.50" y="383.30" font-size="3.2" text-anchor="middle" fill="#333" >250</text>
<line x1="375.20" y1="378.10" x2="375.20" y2="378.70" stroke="#000" stroke-width="0.3" />
<line x1="377.29" y1="378.10" x2="377.29" y2="378.70" stroke="#000" stroke-width="0.3" />
<line x1="379.37" y1="378.10" x2="379.37" y2="378.70" stroke="#000" stroke-width="0.3" />
<line x1="381.46" y1="378.10" x2="381.46" y2="378.70" stroke="#000" stroke-width="0.3" />
<line x1="383.54" y1="378.10" x2="383.54" y2="378.70" stroke="#000" stroke-width="0.3" />
<line x1="385.63" y1="378.10" x2="385.63" y2="378.70" stroke="#000" stroke-width="0.3" />
<line x1="387.71" y1="378.10" x2="387.71" y2="378.70" stroke="#000" stroke-width="0.3" />
<line x1="389.80" y1="378.10" x2="389.80" y2="378.70" stroke="#000" stroke-width="0.3" />
<line x1="391.89" y1="378.10" x2="391.89" y2="378.70" stroke="#000" stroke-width="0.3" />
<line x1="393.97" y1="378.10" x2="393.97" y2="378.70" stroke="#000" stroke-width="0.3" />
<line x1="396.06" y1="378.10" x2="396.06" y2="378.70" stroke="#000" stroke-width="0.3" />
<line x1="398.14" y1="378.10" x2="398.14" y2="378.70" stroke="#000" stroke-width="0.3" />
<line x1="400.23" y1="378.10" x2="400.23" y2="378.70" stroke="#000" stroke-width="0.3" />
<line x1="402.31" y1="378.10" x2="402.31" y2="378.70" stroke="#000" stroke-width="0.3" />
<line x1="404.40" y1="378.10" x2="404.40" y2="378.70" stroke="#000" stroke-width="0.3" />
<line x1="406.49" y1="378.10" x2="406.49" y2="378.70" stroke="#000" stroke-width="0.3" />
<line x1="408.57" y1="378.10" x2="408.57" y2="378.70" stroke="#000" stroke-width="0.3" />
<line x1="410.66" y1="378.10" x2="410.66" y2="378.70" stroke="#000" stroke-width="0.3" />
<line x1="412.74" y1="378.10" x2="412.74" y2="378.70" stroke="#000" stroke-width="0.3" />
<line x1="414.83" y1="378.10" x2="414.83" y2="378.70" stroke="#000" stroke-width="0.3" />
<line x1="416.91" y1="378.10" x2="416.91" y2="378.70" stroke="#000" stroke-width="0.3" />
<line x1="419.00" y1="378.10" x2="419.00" y2="378.70" stroke="#000" stroke-width="0.3" />
<text x="418.50" y="386.60" font-size="2.9" text-anchor="end" fill="#333" >(x 1,000)</text>
<text x="400.10" y="393.90" font-size="4.6" text-anchor="middle" fill="#222" font-weight="bold" textLength="33" lengthAdjust="spacingAndGlyphs" >Hoechst blue (355)-A</text>
<text x="365.80" y="357.85" font-size="4.6" text-anchor="middle" fill="#222" font-weight="bold" textLength="15.5" lengthAdjust="spacingAndGlyphs" transform="rotate(-90 365.80 357.85)" >PI (561)-A</text>
<polygon points="401.8,368.6 400.1,370.1 399.5,371.4 399.2,373.0 398.3,374.3 397.3,375.8 395.4,376.1 393.6,375.4 392.1,375.2 390.4,375.4 388.6,375.4 387.4,374.2 386.5,372.8 385.8,371.5 385.2,370.1 384.0,368.6 383.2,366.8 383.8,364.9 385.6,363.8 387.7,363.4 389.4,363.2 390.7,362.6 392.0,362.0 393.6,362.0 395.2,361.8 396.6,362.6 398.3,363.0 399.9,363.9 401.9,364.9 402.5,366.7" fill="#eee4f6" stroke="none"/>
<polygon points="388.6,344.7 388.6,345.0 388.6,345.4 388.6,345.8 388.3,346.1 387.9,346.3 387.4,346.4 387.0,346.4 386.5,346.3 386.1,346.3 385.7,346.2 385.1,346.1 384.7,345.9 384.4,345.5 384.3,345.1 384.3,344.7 384.7,344.4 385.1,344.2 385.5,344.0 385.7,343.8 385.9,343.5 386.1,343.2 386.5,342.9 387.0,342.7 387.6,342.6 388.2,342.9 388.5,343.3 388.7,343.7 388.7,344.1 388.6,344.4" fill="#eee4f6" stroke="none"/>
<path d="M394.6 369.4h.4M395.1 373.6h.4M391.6 372.8h.4M388.4 368.7h.4M390.8 370.6h.4M393.5 361.8h.4M385.7 369.2h.4M392.6 364.9h.4M388.1 371.2h.4M394.8 368.6h.4M393.7 370.3h.4M382.7 363.5h.4M397.5 371.4h.4M381.2 364.4h.4M389.4 371.6h.4M389.7 368.3h.4M393.9 367.5h.4M395.9 369.8h.4M391.4 368.3h.4M384.3 373.1h.4M392.8 366.0h.4M393.5 363.0h.4M394.8 372.9h.4M390.9 366.4h.4M395.0 364.8h.4M400.6 367.0h.4M383.5 366.6h.4M384.8 366.6h.4M390.8 371.6h.4M391.6 369.7h.4M394.6 358.9h.4M391.4 364.9h.4M388.3 371.6h.4M395.9 370.3h.4M387.8 365.9h.4M392.1 376.6h.4M393.8 359.5h.4M395.7 365.1h.4M390.2 371.0h.4M392.9 371.7h.4M386.4 375.1h.4M398.9 372.8h.4M397.4 371.9h.4M390.2 371.5h.4M393.4 368.5h.4M395.4 376.1h.4M382.5 364.0h.4M392.1 370.8h.4M385.4 363.6h.4M394.9 370.5h.4M393.8 364.6h.4M391.9 367.9h.4M400.1 369.2h.4M388.6 372.7h.4M393.5 367.2h.4M392.8 364.9h.4M384.9 368.4h.4M393.2 371.1h.4M398.1 375.7h.4M389.5 375.4h.4M395.4 363.6h.4M394.4 370.9h.4M384.7 366.8h.4M393.7 360.7h.4M386.9 364.1h.4M381.1 365.3h.4M395.3 368.5h.4M390.3 374.1h.4M401.2 371.4h.4M392.2 376.5h.4M389.9 364.4h.4M388.8 370.2h.4M386.5 370.8h.4M401.2 369.4h.4M394.7 373.3h.4M395.1 358.8h.4M393.0 368.7h.4M389.8 363.3h.4M389.9 367.4h.4M395.9 368.4h.4M389.3 367.7h.4M396.8 371.5h.4M393.9 372.3h.4M400.5 362.5h.4M398.3 366.1h.4M392.7 372.6h.4M387.4 358.5h.4M391.1 364.9h.4M386.1 364.2h.4M384.7 359.0h.4M392.6 362.4h.4M388.1 372.7h.4M392.9 365.9h.4M390.8 372.4h.4M389.3 367.9h.4M390.4 364.0h.4M394.2 369.9h.4M387.5 365.5h.4M390.1 370.6h.4M381.8 373.5h.4M390.5 361.1h.4M387.2 368.9h.4M389.0 365.5h.4M395.5 364.2h.4M397.9 368.6h.4M395.2 370.6h.4M398.4 373.1h.4M403.4 374.9h.4M398.6 367.6h.4M399.2 367.4h.4M400.2 373.1h.4M401.7 365.2h.4M383.6 374.7h.4M385.8 371.1h.4M388.7 369.0h.4M386.7 371.1h.4M398.0 365.3h.4M391.2 373.1h.4M380.7 364.7h.4M385.8 367.7h.4M404.8 371.1h.4M392.2 372.2h.4M393.3 371.0h.4M393.3 372.4h.4M392.5 360.4h.4M383.0 371.7h.4M393.9 366.7h.4M388.9 372.4h.4M394.4 370.9h.4M394.4 366.7h.4M395.9 359.8h.4M398.2 369.7h.4M396.1 369.1h.4M388.5 362.4h.4M390.9 367.4h.4M385.9 374.5h.4M385.4 371.4h.4M392.3 364.9h.4M397.5 373.8h.4M388.5 373.3h.4M387.9 374.9h.4M389.9 367.8h.4M396.2 366.6h.4M377.4 363.7h.4M387.0 363.4h.4M391.5 361.6h.4M387.4 365.6h.4M399.1 366.1h.4M399.5 368.2h.4M385.3 370.9h.4M394.0 373.9h.4M389.3 363.5h.4M396.3 368.0h.4M382.6 360.4h.4M388.1 357.7h.4M405.1 374.2h.4M391.8 369.7h.4M391.6 366.2h.4M392.9 364.4h.4M391.7 371.6h.4M399.5 372.2h.4M402.7 369.4h.4M393.5 364.4h.4M390.4 365.3h.4M388.4 369.6h.4M394.8 373.4h.4M391.8 370.8h.4M390.5 367.9h.4M396.8 370.8h.4M396.0 374.8h.4M393.2 370.5h.4M389.5 366.1h.4M390.1 373.9h.4M392.4 372.8h.4M398.8 371.7h.4M398.0 365.3h.4M386.0 369.9h.4M395.9 369.9h.4M390.6 353.9h.4M387.8 367.3h.4M391.8 364.3h.4M387.6 371.8h.4M391.7 374.9h.4M391.3 365.4h.4M389.3 366.7h.4M387.1 361.4h.4M395.4 365.5h.4M402.1 364.3h.4M392.1 372.3h.4M399.1 372.0h.4M396.4 364.5h.4M382.3 363.7h.4M389.3 369.5h.4M393.9 359.5h.4M388.2 370.2h.4M390.1 370.1h.4M394.0 375.3h.4M395.2 370.1h.4M393.5 368.4h.4M392.4 367.9h.4M392.2 362.0h.4M386.2 369.0h.4M390.4 359.6h.4M385.4 371.1h.4M391.0 374.9h.4M393.7 371.6h.4M392.6 373.6h.4M392.1 356.8h.4M392.4 372.4h.4M387.5 367.5h.4M388.5 369.8h.4M389.7 368.8h.4M392.5 370.5h.4M392.6 368.8h.4M382.0 369.9h.4M394.4 365.8h.4M393.0 371.3h.4M395.2 363.0h.4M392.4 367.7h.4M384.6 374.7h.4M386.1 367.3h.4M392.0 370.6h.4M389.7 365.7h.4M398.0 369.3h.4M389.6 368.4h.4M399.7 365.6h.4M389.2 370.0h.4M389.5 368.8h.4M390.4 376.9h.4M393.9 373.3h.4M390.2 371.9h.4M391.6 375.1h.4M392.2 374.7h.4M392.8 366.1h.4M385.3 371.8h.4M383.9 359.8h.4M397.1 365.6h.4M384.7 367.1h.4M381.5 366.5h.4M395.5 370.3h.4M382.2 361.1h.4M394.8 370.0h.4M393.4 369.7h.4M393.5 373.3h.4M398.7 370.6h.4M397.0 366.0h.4M389.9 368.8h.4M391.1 370.9h.4M399.0 370.1h.4M398.5 364.2h.4M396.3 365.9h.4M391.7 365.3h.4M386.1 345.4h.4M385.3 346.4h.4M387.1 344.8h.4M386.1 343.7h.4M385.7 344.8h.4M385.9 344.1h.4M387.0 343.5h.4M387.0 346.7h.4M384.8 344.4h.4M387.3 343.8h.4M387.8 345.8h.4M384.5 344.3h.4M387.1 343.4h.4M385.8 344.5h.4M390.2 344.1h.4M386.1 343.8h.4M385.3 345.1h.4M385.6 344.8h.4M387.2 344.8h.4M386.6 343.3h.4M393.9 343.2h.4M394.6 344.2h.4M394.7 342.9h.4M395.7 343.4h.4M394.6 341.5h.4M393.6 342.5h.4M394.6 343.7h.4M393.5 343.9h.4M392.9 344.0h.4M396.4 343.4h.4M395.3 343.0h.4M392.3 342.9h.4M390.5 360.4h.4M387.7 353.4h.4M396.8 355.2h.4M388.5 359.6h.4M387.9 352.6h.4M389.7 355.8h.4M390.5 360.1h.4M391.7 358.0h.4M391.4 341.5h.4M385.9 348.2h.4M395.8 354.6h.4M390.0 351.8h.4M394.7 359.0h.4M386.2 346.6h.4M391.2 351.7h.4M392.7 349.6h.4M386.3 359.2h.4M393.8 351.7h.4M391.4 351.8h.4M391.8 362.6h.4M392.6 353.2h.4M387.3 357.5h.4M392.5 353.8h.4M389.2 356.1h.4M395.7 341.8h.4M390.2 356.3h.4M387.2 354.6h.4M391.5 354.1h.4M387.4 351.0h.4M387.3 352.8h.4M384.3 370.3h.4M399.4 356.4h.4M388.9 347.6h.4M384.2 353.0h.4M379.4 354.3h.4M388.1 365.5h.4M383.7 340.5h.4M389.8 361.9h.4M398.0 350.7h.4M385.8 354.9h.4M387.7 353.1h.4M398.1 364.9h.4M400.3 369.7h.4M398.2 356.8h.4M400.0 358.4h.4M392.7 355.8h.4M389.2 361.3h.4M388.1 345.4h.4M396.2 358.3h.4M394.1 358.3h.4M393.0 364.9h.4M395.3 345.4h.4M399.9 345.6h.4M385.1 368.2h.4M390.2 358.4h.4M395.9 350.0h.4M401.1 369.1h.4M399.6 355.0h.4M398.3 355.1h.4M389.3 361.3h.4M386.6 374.8h.4M396.1 374.2h.4M399.5 355.0h.4M391.6 359.3h.4M394.5 362.7h.4M393.2 353.7h.4M399.5 370.6h.4M400.8 365.4h.4M393.8 358.5h.4M379.9 367.6h.4M397.7 359.8h.4M391.9 359.2h.4M385.5 341.3h.4M392.7 344.5h.4M398.7 345.2h.4M402.9 357.4h.4M398.4 372.4h.4M393.1 355.2h.4M395.6 370.3h.4M395.7 354.4h.4M384.8 362.2h.4M387.5 358.0h.4M388.1 351.6h.4M398.6 367.8h.4M392.5 352.7h.4M393.1 372.5h.4M400.6 353.5h.4M399.5 348.6h.4M398.6 339.5h.4M395.7 345.8h.4M395.4 354.7h.4M394.1 343.5h.4M386.3 373.1h.4M393.1 354.9h.4M389.9 352.5h.4M395.9 355.5h.4M388.7 357.5h.4M393.7 362.9h.4M393.3 367.0h.4M384.5 343.8h.4M404.5 363.9h.4M378.8 356.6h.4M392.7 368.0h.4M391.1 367.6h.4M385.3 357.9h.4M393.8 363.4h.4M394.2 343.3h.4M387.7 353.1h.4M397.9 366.4h.4M390.3 357.0h.4M395.6 370.0h.4M390.5 358.4h.4M400.8 348.9h.4M395.0 370.3h.4M394.5 355.3h.4M395.0 361.8h.4M386.9 353.8h.4M390.8 351.4h.4M388.6 371.4h.4M398.6 342.9h.4M395.5 372.3h.4M392.0 370.1h.4M396.7 352.4h.4M392.4 349.3h.4M397.7 363.5h.4M403.5 370.3h.4M398.6 367.0h.4M392.1 361.1h.4M398.8 357.8h.4M393.6 368.8h.4M392.0 360.6h.4M398.9 354.0h.4M391.8 344.4h.4M398.1 362.3h.4M406.4 358.8h.4M396.5 356.7h.4M403.2 350.5h.4M393.1 353.3h.4M398.0 354.7h.4M400.4 364.2h.4M392.5 347.8h.4M381.1 368.0h.4M392.2 363.8h.4M392.5 362.4h.4M391.2 355.3h.4M394.4 376.8h.4M393.4 359.6h.4M379.3 352.7h.4" stroke="#b592d4" stroke-width="0.55" stroke-linecap="round" opacity="0.55" fill="none"/>
<polygon points="401.8,368.6 400.1,370.1 399.5,371.4 399.2,373.0 398.3,374.3 397.3,375.8 395.4,376.1 393.6,375.4 392.1,375.2 390.4,375.4 388.6,375.4 387.4,374.2 386.5,372.8 385.8,371.5 385.2,370.1 384.0,368.6 383.2,366.8 383.8,364.9 385.6,363.8 387.7,363.4 389.4,363.2 390.7,362.6 392.0,362.0 393.6,362.0 395.2,361.8 396.6,362.6 398.3,363.0 399.9,363.9 401.9,364.9 402.5,366.7" fill="none" stroke="#6e3f9c" stroke-width="0.5" stroke-opacity="0.85" stroke-linejoin="round"/>
<polygon points="397.7,367.8 397.5,368.9 397.3,369.9 397.1,371.1 396.6,372.3 395.5,373.0 394.2,373.3 392.9,373.7 391.5,374.6 389.7,375.0 388.1,374.4 387.6,372.7 387.8,370.9 387.9,369.6 387.8,368.7 387.0,367.8 386.4,366.7 386.6,365.5 387.4,364.6 388.1,363.5 388.8,362.3 389.8,360.9 391.4,360.4 393.0,361.3 394.1,362.6 395.1,363.3 396.1,363.9 397.7,364.2 398.8,365.2 398.6,366.6" fill="none" stroke="#6e3f9c" stroke-width="0.5" stroke-opacity="0.85" stroke-linejoin="round"/>
<polygon points="396.4,368.9 396.5,369.8 396.4,370.8 395.2,371.2 393.9,371.1 393.4,371.4 393.0,372.4 392.3,373.4 391.2,374.0 390.2,373.4 389.7,372.3 389.2,371.5 388.4,371.1 387.2,370.8 386.2,370.0 386.3,368.9 387.2,368.0 388.2,367.4 388.2,366.5 388.7,365.7 389.3,365.0 390.5,365.3 391.4,365.9 392.1,366.2 392.9,365.6 394.4,364.6 395.8,364.8 396.4,365.8 396.2,367.1 396.0,368.1" fill="none" stroke="#6e3f9c" stroke-width="0.5" stroke-opacity="0.85" stroke-linejoin="round"/>
<polygon points="393.9,369.6 393.5,370.1 393.2,370.4 393.0,370.8 392.8,371.3 392.7,372.0 392.3,372.6 391.6,372.7 390.9,372.1 390.5,371.6 390.2,371.2 389.8,371.1 389.1,371.0 388.3,370.8 388.0,370.2 388.3,369.6 388.7,369.1 388.9,368.6 389.1,368.2 389.4,367.7 389.9,367.4 390.4,367.2 391.0,367.3 391.5,367.3 392.1,367.2 392.6,367.3 393.1,367.7 393.6,368.0 393.8,368.5 394.1,369.0" fill="none" stroke="#6e3f9c" stroke-width="0.5" stroke-opacity="0.85" stroke-linejoin="round"/>
<polygon points="388.6,344.7 388.6,345.0 388.6,345.4 388.6,345.8 388.3,346.1 387.9,346.3 387.4,346.4 387.0,346.4 386.5,346.3 386.1,346.3 385.7,346.2 385.1,346.1 384.7,345.9 384.4,345.5 384.3,345.1 384.3,344.7 384.7,344.4 385.1,344.2 385.5,344.0 385.7,343.8 385.9,343.5 386.1,343.2 386.5,342.9 387.0,342.7 387.6,342.6 388.2,342.9 388.5,343.3 388.7,343.7 388.7,344.1 388.6,344.4" fill="none" stroke="#6e3f9c" stroke-width="0.5" stroke-opacity="0.85" stroke-linejoin="round"/>
<rect x="442.80" y="337.60" width="43.80" height="40.50" fill="none" stroke="#c8c8c8" stroke-width="0.5" />
<line x1="442.80" y1="338.60" x2="442.80" y2="378.10" stroke="#222" stroke-width="0.9" />
<line x1="442.80" y1="378.10" x2="486.60" y2="378.10" stroke="#222" stroke-width="0.9" />
<line x1="441.60" y1="342.26" x2="442.80" y2="342.26" stroke="#000" stroke-width="0.8" />
<text x="441.00" y="343.26" font-size="3.0" text-anchor="end" fill="#333" >10⁶</text>
<line x1="441.60" y1="351.98" x2="442.80" y2="351.98" stroke="#000" stroke-width="0.8" />
<text x="441.00" y="352.98" font-size="3.0" text-anchor="end" fill="#333" >10⁵</text>
<line x1="441.60" y1="361.70" x2="442.80" y2="361.70" stroke="#000" stroke-width="0.8" />
<text x="441.00" y="362.70" font-size="3.0" text-anchor="end" fill="#333" >10⁴</text>
<line x1="441.60" y1="372.03" x2="442.80" y2="372.03" stroke="#000" stroke-width="0.8" />
<text x="441.00" y="373.03" font-size="3.0" text-anchor="end" fill="#333" >10³</text>
<line x1="451.56" y1="378.10" x2="451.56" y2="379.00" stroke="#000" stroke-width="0.5" />
<text x="451.56" y="383.30" font-size="3.2" text-anchor="middle" fill="#333" >50</text>
<line x1="459.44" y1="378.10" x2="459.44" y2="379.00" stroke="#000" stroke-width="0.5" />
<text x="459.44" y="383.30" font-size="3.2" text-anchor="middle" fill="#333" >100</text>
<line x1="467.33" y1="378.10" x2="467.33" y2="379.00" stroke="#000" stroke-width="0.5" />
<text x="467.33" y="383.30" font-size="3.2" text-anchor="middle" fill="#333" >150</text>
<line x1="475.21" y1="378.10" x2="475.21" y2="379.00" stroke="#000" stroke-width="0.5" />
<text x="475.21" y="383.30" font-size="3.2" text-anchor="middle" fill="#333" >200</text>
<line x1="483.10" y1="378.10" x2="483.10" y2="379.00" stroke="#000" stroke-width="0.5" />
<text x="483.10" y="383.30" font-size="3.2" text-anchor="middle" fill="#333" >250</text>
<line x1="442.80" y1="378.10" x2="442.80" y2="378.70" stroke="#000" stroke-width="0.3" />
<line x1="444.89" y1="378.10" x2="444.89" y2="378.70" stroke="#000" stroke-width="0.3" />
<line x1="446.97" y1="378.10" x2="446.97" y2="378.70" stroke="#000" stroke-width="0.3" />
<line x1="449.06" y1="378.10" x2="449.06" y2="378.70" stroke="#000" stroke-width="0.3" />
<line x1="451.14" y1="378.10" x2="451.14" y2="378.70" stroke="#000" stroke-width="0.3" />
<line x1="453.23" y1="378.10" x2="453.23" y2="378.70" stroke="#000" stroke-width="0.3" />
<line x1="455.31" y1="378.10" x2="455.31" y2="378.70" stroke="#000" stroke-width="0.3" />
<line x1="457.40" y1="378.10" x2="457.40" y2="378.70" stroke="#000" stroke-width="0.3" />
<line x1="459.49" y1="378.10" x2="459.49" y2="378.70" stroke="#000" stroke-width="0.3" />
<line x1="461.57" y1="378.10" x2="461.57" y2="378.70" stroke="#000" stroke-width="0.3" />
<line x1="463.66" y1="378.10" x2="463.66" y2="378.70" stroke="#000" stroke-width="0.3" />
<line x1="465.74" y1="378.10" x2="465.74" y2="378.70" stroke="#000" stroke-width="0.3" />
<line x1="467.83" y1="378.10" x2="467.83" y2="378.70" stroke="#000" stroke-width="0.3" />
<line x1="469.91" y1="378.10" x2="469.91" y2="378.70" stroke="#000" stroke-width="0.3" />
<line x1="472.00" y1="378.10" x2="472.00" y2="378.70" stroke="#000" stroke-width="0.3" />
<line x1="474.09" y1="378.10" x2="474.09" y2="378.70" stroke="#000" stroke-width="0.3" />
<line x1="476.17" y1="378.10" x2="476.17" y2="378.70" stroke="#000" stroke-width="0.3" />
<line x1="478.26" y1="378.10" x2="478.26" y2="378.70" stroke="#000" stroke-width="0.3" />
<line x1="480.34" y1="378.10" x2="480.34" y2="378.70" stroke="#000" stroke-width="0.3" />
<line x1="482.43" y1="378.10" x2="482.43" y2="378.70" stroke="#000" stroke-width="0.3" />
<line x1="484.51" y1="378.10" x2="484.51" y2="378.70" stroke="#000" stroke-width="0.3" />
<line x1="486.60" y1="378.10" x2="486.60" y2="378.70" stroke="#000" stroke-width="0.3" />
<text x="486.10" y="386.60" font-size="2.9" text-anchor="end" fill="#333" >(x 1,000)</text>
<text x="467.70" y="393.90" font-size="4.6" text-anchor="middle" fill="#222" font-weight="bold" textLength="33" lengthAdjust="spacingAndGlyphs" >Hoechst blue (355)-A</text>
<text x="433.40" y="357.85" font-size="4.6" text-anchor="middle" fill="#222" font-weight="bold" textLength="15.5" lengthAdjust="spacingAndGlyphs" transform="rotate(-90 433.40 357.85)" >PI (561)-A</text>
<polygon points="468.1,372.2 468.1,373.2 467.5,374.0 466.5,374.8 465.4,375.6 464.0,376.3 462.3,376.8 460.3,376.9 458.3,376.7 456.8,376.1 455.6,375.4 454.1,375.1 452.8,374.6 451.0,374.1 449.6,373.2 449.1,372.2 449.4,371.2 450.9,370.3 452.5,369.7 453.8,369.2 455.3,368.8 456.8,368.4 458.3,367.6 460.3,367.4 462.3,367.5 464.2,368.0 465.5,368.8 466.6,369.6 467.1,370.5 468.1,371.3" fill="#eee4f6" stroke="none"/>
<polygon points="459.8,345.2 459.5,345.9 459.3,346.4 459.3,347.1 458.9,347.7 458.4,348.1 457.9,348.5 457.3,348.7 456.6,348.8 455.9,348.8 455.4,348.3 455.0,347.8 454.7,347.1 454.5,346.5 454.4,345.8 454.0,345.2 453.8,344.4 453.8,343.6 454.2,342.9 454.8,342.4 455.4,342.2 456.1,342.3 456.7,342.3 457.2,342.2 457.8,342.3 458.4,342.2 459.2,342.4 459.6,342.9 460.0,343.6 459.8,344.5" fill="#eee4f6" stroke="none"/>
<path d="M462.1 373.4h.4M459.9 374.3h.4M453.6 372.0h.4M456.7 375.9h.4M467.7 371.5h.4M453.7 373.7h.4M458.0 372.0h.4M453.9 374.0h.4M460.4 373.5h.4M461.1 370.1h.4M447.7 371.7h.4M456.1 371.0h.4M464.5 372.2h.4M467.4 372.9h.4M463.1 373.8h.4M463.7 369.1h.4M465.2 372.7h.4M454.3 374.0h.4M461.3 375.8h.4M463.3 373.4h.4M450.9 376.8h.4M467.3 374.5h.4M461.9 375.6h.4M454.9 374.3h.4M459.6 369.8h.4M461.4 373.4h.4M468.4 374.9h.4M451.0 367.3h.4M459.0 371.9h.4M454.5 368.6h.4M458.4 369.4h.4M455.8 374.7h.4M460.7 370.4h.4M453.5 371.9h.4M468.6 371.1h.4M468.5 370.4h.4M458.3 374.3h.4M455.4 372.6h.4M452.3 374.2h.4M465.5 370.7h.4M460.4 371.4h.4M462.7 374.6h.4M461.5 372.9h.4M471.9 367.6h.4M457.8 371.3h.4M458.3 374.3h.4M455.6 368.9h.4M453.5 373.6h.4M464.4 374.6h.4M467.8 371.1h.4M464.7 374.2h.4M458.6 370.4h.4M464.1 370.6h.4M457.9 369.9h.4M468.6 372.3h.4M456.8 371.8h.4M458.2 372.7h.4M450.5 369.4h.4M462.1 375.3h.4M454.1 372.7h.4M456.4 366.4h.4M457.8 369.6h.4M464.0 371.9h.4M459.2 368.6h.4M460.2 367.3h.4M460.6 376.1h.4M453.1 374.7h.4M466.8 371.9h.4M465.3 372.6h.4M456.8 367.1h.4M453.8 368.5h.4M472.0 373.1h.4M458.5 368.9h.4M468.5 369.4h.4M467.2 375.3h.4M459.8 370.7h.4M459.2 368.9h.4M462.9 376.9h.4M464.1 375.2h.4M455.8 373.2h.4M454.0 371.2h.4M459.8 372.5h.4M449.5 372.9h.4M454.6 368.7h.4M451.6 372.8h.4M457.3 374.2h.4M458.2 372.4h.4M467.2 374.5h.4M463.5 376.3h.4M460.6 369.8h.4M455.2 368.3h.4M461.3 371.4h.4M462.1 374.6h.4M455.2 372.9h.4M466.1 372.6h.4M464.4 371.9h.4M454.4 371.8h.4M449.5 374.3h.4M456.7 376.0h.4M452.9 372.8h.4M461.2 371.9h.4M461.5 370.4h.4M453.8 368.7h.4M456.4 370.3h.4M460.7 371.5h.4M455.9 370.5h.4M449.4 371.5h.4M461.6 368.9h.4M458.1 374.2h.4M455.8 372.9h.4M466.9 375.6h.4M455.8 374.2h.4M458.6 373.4h.4M456.4 372.9h.4M455.4 373.2h.4M468.8 368.8h.4M452.4 373.8h.4M463.7 371.4h.4M462.6 373.6h.4M462.4 376.1h.4M456.0 374.2h.4M460.5 370.6h.4M462.1 369.0h.4M451.5 375.3h.4M453.5 377.0h.4M465.0 371.0h.4M454.7 366.5h.4M459.0 368.0h.4M467.8 367.9h.4M459.8 365.1h.4M457.5 376.0h.4M457.0 370.2h.4M456.9 373.4h.4M464.2 371.8h.4M448.4 373.2h.4M460.3 372.9h.4M456.5 374.4h.4M468.9 369.7h.4M459.9 369.6h.4M455.7 371.9h.4M462.1 370.2h.4M457.8 376.1h.4M462.1 374.3h.4M461.5 371.9h.4M461.7 373.8h.4M459.4 375.2h.4M459.4 374.8h.4M459.5 374.4h.4M455.8 370.9h.4M453.2 375.7h.4M462.2 373.0h.4M462.7 370.2h.4M459.9 371.0h.4M449.4 371.7h.4M454.7 376.3h.4M455.4 370.7h.4M464.7 372.4h.4M452.2 373.0h.4M455.4 377.0h.4M453.7 370.4h.4M444.7 370.6h.4M469.5 372.1h.4M454.2 373.2h.4M457.8 372.3h.4M468.0 376.9h.4M454.5 367.1h.4M463.4 373.5h.4M459.7 372.1h.4M463.3 373.9h.4M460.8 373.7h.4M458.3 371.4h.4M466.9 371.8h.4M470.1 374.2h.4M459.8 375.4h.4M456.8 371.9h.4M457.6 372.4h.4M462.2 369.6h.4M455.0 367.5h.4M463.3 374.8h.4M461.2 373.4h.4M462.3 373.6h.4M462.9 373.0h.4M454.1 375.0h.4M466.6 368.0h.4M458.2 369.4h.4M462.2 371.6h.4M467.1 375.4h.4M456.9 371.1h.4M456.3 374.0h.4M454.4 373.6h.4M451.9 375.2h.4M462.0 369.3h.4M455.2 372.8h.4M460.9 364.7h.4M460.5 376.5h.4M457.0 368.8h.4M466.0 373.1h.4M460.5 374.1h.4M452.8 370.6h.4M453.3 369.4h.4M457.7 369.6h.4M468.1 373.8h.4M463.9 367.9h.4M458.2 372.0h.4M460.3 373.6h.4M455.1 369.9h.4M470.6 371.7h.4M455.2 372.9h.4M458.2 370.4h.4M465.0 370.5h.4M454.8 373.9h.4M458.4 369.6h.4M458.0 371.3h.4M458.2 370.4h.4M462.5 371.5h.4M456.2 375.3h.4M454.4 374.4h.4M462.6 371.6h.4M460.6 368.4h.4M460.7 369.6h.4M454.8 373.1h.4M455.5 372.8h.4M461.6 375.2h.4M461.5 375.2h.4M455.4 371.4h.4M462.9 375.6h.4M461.8 371.0h.4M453.7 369.9h.4M465.4 369.8h.4M458.2 374.1h.4M461.7 370.5h.4M459.5 346.0h.4M456.4 347.4h.4M455.4 347.1h.4M455.7 343.9h.4M454.2 346.5h.4M456.1 345.4h.4M455.1 345.2h.4M457.3 347.9h.4M455.5 346.2h.4M452.6 343.3h.4M454.7 343.8h.4M457.2 341.4h.4M456.8 347.1h.4M459.8 344.7h.4M456.7 348.7h.4M457.6 343.8h.4M455.3 343.3h.4M456.1 347.1h.4M458.3 346.8h.4M457.5 347.9h.4M454.5 347.1h.4M457.7 345.3h.4M454.2 346.0h.4M456.2 347.1h.4M452.8 344.9h.4M459.5 348.3h.4M455.7 345.1h.4M455.5 343.7h.4M455.1 345.6h.4M453.8 345.5h.4M456.4 343.1h.4M455.1 342.5h.4M456.0 346.1h.4M455.0 345.8h.4M456.9 347.1h.4M453.6 345.0h.4M453.4 341.8h.4M457.7 347.2h.4M458.2 347.3h.4M455.1 346.1h.4M453.4 365.8h.4M449.4 358.8h.4M453.4 361.1h.4M457.3 351.2h.4M457.6 363.8h.4M451.2 369.2h.4M452.0 345.9h.4M456.7 350.5h.4M455.1 355.5h.4M452.4 367.5h.4M457.9 356.4h.4M458.1 355.8h.4M455.2 353.6h.4M451.7 353.3h.4M452.5 358.8h.4M455.0 351.6h.4M457.4 358.6h.4M458.6 353.0h.4M453.8 350.4h.4M455.1 354.6h.4M454.7 368.7h.4M456.4 351.3h.4M455.5 353.9h.4M454.0 354.3h.4M454.8 360.5h.4M456.9 356.1h.4M452.8 355.8h.4M454.2 353.9h.4M452.0 354.8h.4M450.6 365.1h.4M456.2 361.3h.4M452.6 357.6h.4M457.4 354.3h.4M452.3 355.0h.4M449.7 362.7h.4M455.6 345.8h.4M456.2 364.2h.4M456.0 360.7h.4M458.0 357.5h.4M457.7 354.4h.4M453.1 353.5h.4M452.3 358.7h.4M453.1 358.5h.4M455.3 367.8h.4M458.5 351.8h.4M454.2 354.6h.4M453.3 369.0h.4M457.3 354.3h.4M451.6 351.2h.4M454.7 367.3h.4M451.8 366.4h.4M451.5 358.4h.4M452.1 352.7h.4M449.4 360.2h.4M454.7 348.2h.4M450.0 355.3h.4M454.6 345.2h.4M455.7 354.9h.4M452.1 349.9h.4M449.2 361.1h.4M467.2 356.1h.4M453.4 347.7h.4M459.3 349.9h.4M462.9 350.0h.4M466.7 368.4h.4M457.5 350.5h.4M463.4 349.3h.4M468.0 351.7h.4M453.9 365.1h.4M463.9 339.3h.4M456.8 346.3h.4M459.8 359.3h.4M458.3 359.1h.4M466.6 354.9h.4M453.3 349.0h.4M466.2 373.1h.4M460.0 361.1h.4M456.2 352.5h.4M467.0 353.1h.4M462.2 358.8h.4M468.2 359.8h.4M460.8 355.0h.4M457.8 366.8h.4M474.2 343.7h.4M467.4 348.9h.4M457.3 355.0h.4M458.4 354.4h.4M457.4 373.7h.4M452.2 351.9h.4M456.3 359.4h.4M453.2 357.6h.4M461.8 375.0h.4M465.0 357.2h.4M461.7 374.1h.4M460.4 351.6h.4M457.3 354.5h.4M466.5 348.9h.4M457.6 357.5h.4M455.4 363.5h.4M458.7 362.1h.4M464.2 371.0h.4M471.7 350.0h.4M453.1 347.4h.4M464.0 362.4h.4M461.1 357.4h.4M470.4 365.6h.4M462.5 363.2h.4M451.9 368.2h.4M473.7 359.0h.4M458.5 368.8h.4M458.1 358.6h.4M464.9 356.4h.4M465.5 340.6h.4M446.3 364.3h.4M464.4 359.8h.4M458.8 358.2h.4M463.9 347.7h.4M462.7 350.9h.4M473.9 361.0h.4M462.8 366.8h.4M466.9 366.3h.4M457.2 359.2h.4M466.6 359.8h.4M461.9 352.8h.4M462.3 370.1h.4M453.9 345.8h.4M453.9 344.1h.4M469.0 374.5h.4M464.2 358.7h.4M469.6 367.2h.4M447.4 357.3h.4M476.1 354.4h.4M456.9 352.4h.4M470.8 354.0h.4M463.8 368.5h.4M462.3 358.1h.4M454.9 347.0h.4M467.8 346.4h.4M467.7 368.9h.4M470.3 356.3h.4M456.1 358.8h.4M469.1 362.7h.4M464.1 356.8h.4M466.8 340.7h.4M454.1 371.6h.4M464.1 364.1h.4M449.7 350.4h.4M458.6 357.0h.4M468.4 352.9h.4M462.0 351.5h.4M459.8 361.2h.4M463.7 366.7h.4M453.6 364.8h.4M464.0 350.9h.4M469.2 352.0h.4M459.0 362.6h.4M469.8 354.3h.4M470.2 361.5h.4M456.6 364.3h.4M461.6 351.5h.4M460.3 368.9h.4M463.3 355.7h.4M466.1 345.6h.4M465.2 369.6h.4M454.2 348.2h.4M456.0 356.1h.4M456.7 357.7h.4M455.2 360.4h.4M464.7 361.9h.4" stroke="#b592d4" stroke-width="0.55" stroke-linecap="round" opacity="0.55" fill="none"/>
<polygon points="468.1,372.2 468.1,373.2 467.5,374.0 466.5,374.8 465.4,375.6 464.0,376.3 462.3,376.8 460.3,376.9 458.3,376.7 456.8,376.1 455.6,375.4 454.1,375.1 452.8,374.6 451.0,374.1 449.6,373.2 449.1,372.2 449.4,371.2 450.9,370.3 452.5,369.7 453.8,369.2 455.3,368.8 456.8,368.4 458.3,367.6 460.3,367.4 462.3,367.5 464.2,368.0 465.5,368.8 466.6,369.6 467.1,370.5 468.1,371.3" fill="none" stroke="#6e3f9c" stroke-width="0.5" stroke-opacity="0.85" stroke-linejoin="round"/>
<polygon points="466.9,372.1 467.1,372.8 466.9,373.6 466.4,374.3 465.4,375.0 464.0,375.3 462.5,375.4 461.0,375.4 459.7,375.3 458.2,375.4 456.7,375.3 455.2,375.0 453.9,374.5 453.7,373.6 454.2,372.8 454.5,372.1 454.1,371.5 453.7,370.7 453.7,369.7 455.0,369.2 456.8,369.1 458.4,369.1 459.7,369.1 461.0,368.9 462.5,368.7 464.1,368.8 465.6,369.2 466.3,369.9 466.0,370.9 466.5,371.5" fill="none" stroke="#6e3f9c" stroke-width="0.5" stroke-opacity="0.85" stroke-linejoin="round"/>
<polygon points="463.8,372.2 463.6,372.7 462.6,373.1 462.0,373.5 461.0,373.6 460.6,374.0 459.7,374.2 458.9,374.5 457.9,374.7 456.9,374.5 455.9,374.3 454.9,374.1 454.2,373.7 453.6,373.2 452.7,372.8 453.0,372.2 453.5,371.6 454.2,371.2 454.9,370.9 455.6,370.6 456.4,370.4 457.1,370.1 457.9,369.8 458.9,369.7 460.0,369.7 461.0,369.9 462.0,370.2 462.8,370.6 463.6,371.0 464.0,371.6" fill="none" stroke="#6e3f9c" stroke-width="0.5" stroke-opacity="0.85" stroke-linejoin="round"/>
<polygon points="459.8,345.2 459.5,345.9 459.3,346.4 459.3,347.1 458.9,347.7 458.4,348.1 457.9,348.5 457.3,348.7 456.6,348.8 455.9,348.8 455.4,348.3 455.0,347.8 454.7,347.1 454.5,346.5 454.4,345.8 454.0,345.2 453.8,344.4 453.8,343.6 454.2,342.9 454.8,342.4 455.4,342.2 456.1,342.3 456.7,342.3 457.2,342.2 457.8,342.3 458.4,342.2 459.2,342.4 459.6,342.9 460.0,343.6 459.8,344.5" fill="none" stroke="#6e3f9c" stroke-width="0.5" stroke-opacity="0.85" stroke-linejoin="round"/>
<rect x="307.70" y="401.50" width="43.80" height="40.50" fill="none" stroke="#c8c8c8" stroke-width="0.5" />
<line x1="307.70" y1="402.50" x2="307.70" y2="442.00" stroke="#222" stroke-width="0.9" />
<line x1="307.70" y1="442.00" x2="351.50" y2="442.00" stroke="#222" stroke-width="0.9" />
<line x1="306.50" y1="406.16" x2="307.70" y2="406.16" stroke="#000" stroke-width="0.8" />
<text x="305.90" y="407.16" font-size="3.0" text-anchor="end" fill="#333" >10⁶</text>
<line x1="306.50" y1="415.88" x2="307.70" y2="415.88" stroke="#000" stroke-width="0.8" />
<text x="305.90" y="416.88" font-size="3.0" text-anchor="end" fill="#333" >10⁵</text>
<line x1="306.50" y1="425.60" x2="307.70" y2="425.60" stroke="#000" stroke-width="0.8" />
<text x="305.90" y="426.60" font-size="3.0" text-anchor="end" fill="#333" >10⁴</text>
<line x1="306.50" y1="435.93" x2="307.70" y2="435.93" stroke="#000" stroke-width="0.8" />
<text x="305.90" y="436.93" font-size="3.0" text-anchor="end" fill="#333" >10³</text>
<line x1="316.46" y1="442.00" x2="316.46" y2="442.90" stroke="#000" stroke-width="0.5" />
<text x="316.46" y="447.20" font-size="3.2" text-anchor="middle" fill="#333" >50</text>
<line x1="324.34" y1="442.00" x2="324.34" y2="442.90" stroke="#000" stroke-width="0.5" />
<text x="324.34" y="447.20" font-size="3.2" text-anchor="middle" fill="#333" >100</text>
<line x1="332.23" y1="442.00" x2="332.23" y2="442.90" stroke="#000" stroke-width="0.5" />
<text x="332.23" y="447.20" font-size="3.2" text-anchor="middle" fill="#333" >150</text>
<line x1="340.11" y1="442.00" x2="340.11" y2="442.90" stroke="#000" stroke-width="0.5" />
<text x="340.11" y="447.20" font-size="3.2" text-anchor="middle" fill="#333" >200</text>
<line x1="348.00" y1="442.00" x2="348.00" y2="442.90" stroke="#000" stroke-width="0.5" />
<text x="348.00" y="447.20" font-size="3.2" text-anchor="middle" fill="#333" >250</text>
<line x1="307.70" y1="442.00" x2="307.70" y2="442.60" stroke="#000" stroke-width="0.3" />
<line x1="309.79" y1="442.00" x2="309.79" y2="442.60" stroke="#000" stroke-width="0.3" />
<line x1="311.87" y1="442.00" x2="311.87" y2="442.60" stroke="#000" stroke-width="0.3" />
<line x1="313.96" y1="442.00" x2="313.96" y2="442.60" stroke="#000" stroke-width="0.3" />
<line x1="316.04" y1="442.00" x2="316.04" y2="442.60" stroke="#000" stroke-width="0.3" />
<line x1="318.13" y1="442.00" x2="318.13" y2="442.60" stroke="#000" stroke-width="0.3" />
<line x1="320.21" y1="442.00" x2="320.21" y2="442.60" stroke="#000" stroke-width="0.3" />
<line x1="322.30" y1="442.00" x2="322.30" y2="442.60" stroke="#000" stroke-width="0.3" />
<line x1="324.39" y1="442.00" x2="324.39" y2="442.60" stroke="#000" stroke-width="0.3" />
<line x1="326.47" y1="442.00" x2="326.47" y2="442.60" stroke="#000" stroke-width="0.3" />
<line x1="328.56" y1="442.00" x2="328.56" y2="442.60" stroke="#000" stroke-width="0.3" />
<line x1="330.64" y1="442.00" x2="330.64" y2="442.60" stroke="#000" stroke-width="0.3" />
<line x1="332.73" y1="442.00" x2="332.73" y2="442.60" stroke="#000" stroke-width="0.3" />
<line x1="334.81" y1="442.00" x2="334.81" y2="442.60" stroke="#000" stroke-width="0.3" />
<line x1="336.90" y1="442.00" x2="336.90" y2="442.60" stroke="#000" stroke-width="0.3" />
<line x1="338.99" y1="442.00" x2="338.99" y2="442.60" stroke="#000" stroke-width="0.3" />
<line x1="341.07" y1="442.00" x2="341.07" y2="442.60" stroke="#000" stroke-width="0.3" />
<line x1="343.16" y1="442.00" x2="343.16" y2="442.60" stroke="#000" stroke-width="0.3" />
<line x1="345.24" y1="442.00" x2="345.24" y2="442.60" stroke="#000" stroke-width="0.3" />
<line x1="347.33" y1="442.00" x2="347.33" y2="442.60" stroke="#000" stroke-width="0.3" />
<line x1="349.41" y1="442.00" x2="349.41" y2="442.60" stroke="#000" stroke-width="0.3" />
<line x1="351.50" y1="442.00" x2="351.50" y2="442.60" stroke="#000" stroke-width="0.3" />
<text x="351.00" y="450.50" font-size="2.9" text-anchor="end" fill="#333" >(x 1,000)</text>
<text x="332.60" y="457.80" font-size="4.6" text-anchor="middle" fill="#222" font-weight="bold" textLength="33" lengthAdjust="spacingAndGlyphs" >Hoechst blue (355)-A</text>
<text x="298.30" y="421.75" font-size="4.6" text-anchor="middle" fill="#222" font-weight="bold" textLength="15.5" lengthAdjust="spacingAndGlyphs" transform="rotate(-90 298.30 421.75)" >PI (561)-A</text>
<polygon points="328.0,436.9 327.3,437.9 326.3,438.5 325.6,439.2 325.3,440.1 324.8,441.1 323.7,441.2 322.5,441.2 321.2,441.2 320.1,441.2 318.6,441.2 317.1,441.2 316.2,440.3 316.1,439.0 316.5,437.8 316.6,436.9 316.3,436.0 315.8,434.8 316.6,433.9 317.8,433.3 319.0,433.0 320.3,433.2 321.3,432.9 322.4,432.7 323.5,432.7 324.9,432.6 326.3,432.9 327.3,433.7 328.3,434.6 328.7,435.7" fill="#eee4f6" stroke="none"/>
<polygon points="336.2,432.5 336.8,433.7 336.6,435.0 335.4,435.9 333.9,436.4 333.0,437.3 331.8,438.0 330.4,438.4 328.9,438.4 327.6,437.6 326.7,436.7 325.7,436.1 324.4,435.6 323.4,434.7 323.2,433.6 323.4,432.5 323.5,431.4 323.4,430.2 323.6,428.9 324.3,427.6 325.8,427.0 327.6,427.2 329.0,427.6 330.3,427.7 331.7,427.2 333.2,427.4 334.2,428.3 334.5,429.6 334.6,430.7 335.3,431.5" fill="#eee4f6" stroke="none"/>
<polygon points="323.6,409.3 323.4,410.0 322.9,410.6 322.9,411.4 322.6,412.2 322.0,412.8 321.1,412.9 320.2,412.6 319.5,412.1 319.0,411.8 318.4,411.6 317.6,411.6 316.7,411.4 316.2,410.8 315.6,410.1 315.7,409.3 315.9,408.5 316.1,407.8 316.4,407.0 317.0,406.4 317.8,406.2 318.7,406.0 319.5,406.6 320.1,407.0 320.7,406.9 321.4,406.9 322.3,406.8 323.4,406.9 324.1,407.6 324.0,408.5" fill="#eee4f6" stroke="none"/>
<polygon points="330.5,409.3 330.6,409.9 330.5,410.6 330.2,411.2 329.7,411.7 329.1,412.2 328.5,412.6 327.7,412.8 326.9,412.9 326.1,412.7 325.4,412.4 324.6,412.0 324.2,411.4 324.0,410.6 323.9,409.9 323.9,409.3 324.0,408.6 324.3,408.0 324.7,407.5 325.0,406.9 325.4,406.3 326.1,405.8 326.9,405.5 327.8,405.3 328.6,405.5 329.4,405.9 330.0,406.5 330.3,407.2 330.4,408.0 330.6,408.6" fill="#eee4f6" stroke="none"/>
<path d="M319.5 433.2h.4M323.0 433.8h.4M320.0 434.7h.4M323.1 439.5h.4M325.6 436.6h.4M313.7 437.8h.4M323.6 431.6h.4M318.1 439.5h.4M323.1 438.6h.4M317.8 438.0h.4M320.5 437.9h.4M315.8 435.4h.4M312.8 433.2h.4M319.0 435.4h.4M318.9 434.0h.4M322.6 435.4h.4M315.8 437.0h.4M325.0 435.3h.4M316.4 439.3h.4M322.6 429.8h.4M320.5 434.5h.4M328.9 435.6h.4M316.1 437.6h.4M324.8 430.5h.4M320.6 434.7h.4M323.9 437.0h.4M317.9 436.6h.4M320.8 431.1h.4M316.5 438.5h.4M320.9 437.6h.4M315.7 439.7h.4M316.5 433.4h.4M322.3 433.4h.4M330.9 433.8h.4M315.2 434.9h.4M323.7 432.9h.4M324.3 439.0h.4M314.2 437.5h.4M321.0 436.3h.4M321.8 437.5h.4M319.1 437.2h.4M318.5 439.2h.4M323.1 438.6h.4M320.6 436.1h.4M318.9 433.0h.4M322.0 430.2h.4M326.1 437.3h.4M313.9 437.4h.4M325.8 439.5h.4M319.4 436.5h.4M313.9 437.3h.4M323.9 437.2h.4M321.2 436.1h.4M322.9 432.7h.4M314.1 433.3h.4M328.1 439.4h.4M321.0 430.4h.4M322.2 433.3h.4M332.9 437.4h.4M317.1 432.6h.4M319.9 433.7h.4M318.7 433.3h.4M321.4 439.2h.4M317.9 436.4h.4M320.8 429.7h.4M320.2 435.6h.4M316.1 434.8h.4M322.0 433.7h.4M321.2 438.7h.4M324.1 440.1h.4M325.3 436.5h.4M321.3 435.3h.4M318.7 440.5h.4M324.7 436.5h.4M323.4 436.5h.4M326.1 436.4h.4M317.7 436.7h.4M316.2 438.0h.4M320.7 437.6h.4M325.8 437.0h.4M319.5 434.1h.4M311.6 435.2h.4M315.0 436.7h.4M318.2 438.8h.4M321.8 431.6h.4M318.4 434.6h.4M324.6 437.1h.4M320.3 433.3h.4M320.3 432.8h.4M325.0 437.5h.4M317.9 435.2h.4M316.0 433.6h.4M326.3 437.1h.4M323.0 438.7h.4M318.1 437.7h.4M321.4 434.1h.4M327.3 434.1h.4M313.7 436.2h.4M313.4 434.0h.4M311.2 436.5h.4M320.6 431.8h.4M326.2 435.8h.4M321.0 440.0h.4M322.6 438.5h.4M320.2 434.2h.4M318.6 436.9h.4M318.7 437.0h.4M318.9 430.8h.4M315.3 436.5h.4M321.0 430.8h.4M322.5 432.0h.4M320.4 431.4h.4M314.7 435.2h.4M322.9 440.1h.4M318.0 433.2h.4M314.6 432.1h.4M322.2 431.7h.4M326.6 432.6h.4M317.6 440.9h.4M324.3 433.5h.4M322.8 435.1h.4M321.7 433.9h.4M317.5 437.9h.4M317.1 437.5h.4M321.9 436.5h.4M320.4 433.7h.4M319.9 440.3h.4M321.0 432.4h.4M322.2 433.5h.4M324.7 433.3h.4M324.5 431.7h.4M318.4 429.8h.4M320.9 432.8h.4M323.5 437.9h.4M320.3 435.5h.4M317.9 434.3h.4M319.6 436.1h.4M325.3 437.9h.4M320.6 437.6h.4M321.6 435.2h.4M318.9 430.9h.4M324.9 433.4h.4M324.4 436.9h.4M323.4 433.9h.4M315.2 434.9h.4M317.9 434.7h.4M325.0 431.1h.4M328.0 434.2h.4M327.8 436.0h.4M330.5 432.9h.4M328.7 436.2h.4M324.8 433.8h.4M328.4 434.9h.4M326.5 432.4h.4M335.4 433.2h.4M329.0 430.0h.4M330.4 431.8h.4M333.6 430.2h.4M328.1 432.2h.4M328.9 431.1h.4M323.9 432.2h.4M331.8 434.1h.4M334.5 430.4h.4M333.9 435.2h.4M331.3 427.2h.4M324.8 428.9h.4M328.9 438.7h.4M326.5 429.3h.4M328.1 437.9h.4M333.2 434.3h.4M326.8 430.6h.4M327.6 432.4h.4M326.4 436.3h.4M331.0 429.5h.4M332.2 431.8h.4M332.8 430.4h.4M326.3 433.5h.4M332.0 428.0h.4M326.1 434.9h.4M328.2 436.0h.4M335.2 436.5h.4M326.5 433.9h.4M327.7 431.3h.4M329.0 432.9h.4M323.4 431.6h.4M327.3 434.9h.4M333.0 430.5h.4M327.9 431.3h.4M337.3 433.5h.4M329.2 434.1h.4M329.6 429.0h.4M333.7 433.5h.4M319.8 432.7h.4M326.8 432.1h.4M323.7 429.0h.4M332.1 432.5h.4M327.6 432.6h.4M330.8 432.6h.4M324.3 427.9h.4M317.9 434.2h.4M324.5 435.4h.4M329.2 432.6h.4M333.7 428.3h.4M331.8 437.4h.4M328.3 435.2h.4M322.5 432.7h.4M326.1 435.1h.4M329.6 437.3h.4M321.9 429.8h.4M329.0 432.7h.4M330.0 434.5h.4M327.8 438.4h.4M322.4 433.4h.4M330.8 430.5h.4M331.5 433.1h.4M324.9 430.3h.4M330.6 438.3h.4M331.0 433.4h.4M323.4 432.6h.4M332.1 431.5h.4M330.4 429.7h.4M325.6 440.7h.4M322.5 433.2h.4M326.6 439.6h.4M327.5 433.2h.4M332.1 434.3h.4M327.0 433.8h.4M331.7 429.7h.4M334.1 431.6h.4M329.5 431.2h.4M331.5 433.7h.4M327.6 433.6h.4M331.7 431.9h.4M329.0 432.1h.4M330.8 430.7h.4M323.3 432.7h.4M326.2 431.3h.4M328.6 436.3h.4M328.6 433.1h.4M328.9 434.3h.4M331.8 428.7h.4M331.6 428.9h.4M332.1 433.7h.4M332.0 430.6h.4M327.7 434.8h.4M330.2 432.3h.4M326.5 435.3h.4M323.1 427.7h.4M328.1 424.7h.4M327.3 438.3h.4M328.4 432.0h.4M321.5 430.1h.4M331.5 433.5h.4M323.5 432.1h.4M320.9 431.2h.4M324.5 436.4h.4M321.7 431.4h.4M321.9 437.7h.4M332.4 428.8h.4M333.7 430.7h.4M326.0 441.0h.4M326.6 435.5h.4M325.5 430.4h.4M332.8 433.0h.4M332.7 431.6h.4M329.5 437.1h.4M327.2 430.7h.4M325.1 431.3h.4M330.2 433.2h.4M324.3 436.5h.4M334.2 440.1h.4M327.5 434.3h.4M332.2 439.8h.4M332.0 429.1h.4M334.0 434.8h.4M331.6 433.4h.4M334.1 435.1h.4M330.0 430.8h.4M333.7 433.0h.4M330.3 431.4h.4M330.3 428.7h.4M334.6 435.7h.4M329.1 429.9h.4M328.6 434.4h.4M326.1 431.4h.4M329.2 436.6h.4M332.7 436.5h.4M327.2 435.5h.4M324.9 434.5h.4M326.0 434.1h.4M328.9 426.2h.4M322.9 431.0h.4M329.9 430.6h.4M332.2 430.0h.4M317.7 407.7h.4M321.4 408.0h.4M319.1 408.1h.4M321.0 411.7h.4M320.1 408.6h.4M319.3 408.0h.4M322.6 412.0h.4M321.7 410.4h.4M317.6 407.0h.4M319.6 408.7h.4M320.8 410.9h.4M322.1 406.0h.4M318.0 410.4h.4M317.8 408.2h.4M322.5 409.9h.4M322.4 408.3h.4M319.4 408.8h.4M315.6 406.5h.4M319.3 411.4h.4M319.5 412.3h.4M317.1 412.9h.4M318.3 407.3h.4M319.6 408.2h.4M319.5 411.7h.4M317.7 410.9h.4M321.5 409.5h.4M321.9 406.5h.4M318.6 411.4h.4M322.9 410.0h.4M318.2 409.7h.4M321.5 408.3h.4M319.7 411.9h.4M320.3 410.9h.4M317.6 407.3h.4M322.3 411.6h.4M319.9 407.1h.4M317.2 407.8h.4M320.1 406.4h.4M320.1 407.2h.4M318.3 409.8h.4M325.9 407.0h.4M327.8 406.7h.4M326.7 409.6h.4M325.5 407.1h.4M328.5 410.7h.4M326.3 409.8h.4M328.3 409.6h.4M326.0 405.7h.4M329.7 410.5h.4M321.8 411.6h.4M330.2 409.0h.4M327.4 405.5h.4M328.2 410.2h.4M324.4 406.2h.4M326.2 405.3h.4M328.3 411.0h.4M328.4 411.9h.4M328.8 409.2h.4M325.1 410.4h.4M325.6 409.1h.4M327.3 409.6h.4M330.1 409.6h.4M329.8 411.3h.4M325.4 410.7h.4M326.1 413.5h.4M325.0 413.0h.4M330.2 410.8h.4M329.4 413.8h.4M331.4 410.6h.4M327.6 407.6h.4M330.6 410.8h.4M326.8 406.1h.4M325.7 406.2h.4M324.9 411.4h.4M328.9 408.6h.4M327.7 411.3h.4M331.6 410.0h.4M327.5 409.8h.4M327.2 411.9h.4M329.1 408.5h.4M331.9 410.4h.4M331.0 420.3h.4M322.2 414.5h.4M326.8 411.9h.4M328.8 424.7h.4M328.0 415.9h.4M327.2 409.6h.4M326.2 411.2h.4M322.6 427.2h.4M327.7 415.4h.4M324.0 420.1h.4M320.5 423.7h.4M327.6 426.0h.4M335.4 428.3h.4M329.7 428.4h.4M323.9 437.9h.4M328.7 415.2h.4M325.3 423.7h.4M321.7 423.4h.4M327.5 434.4h.4M323.6 418.9h.4M321.4 422.1h.4M326.7 413.3h.4M330.6 421.7h.4M321.8 421.5h.4M322.1 422.8h.4M327.7 424.7h.4M326.8 420.9h.4M317.9 416.1h.4M328.4 415.9h.4M324.0 414.2h.4M322.9 419.5h.4M328.6 411.1h.4M324.6 429.2h.4M327.4 431.2h.4M327.2 423.9h.4M321.4 422.0h.4M323.1 422.1h.4M324.5 417.5h.4M329.7 425.2h.4M328.2 413.0h.4M324.8 416.3h.4M321.3 427.2h.4M323.8 426.4h.4M325.5 418.4h.4M323.0 416.9h.4M324.5 432.0h.4M325.9 418.9h.4M328.7 424.1h.4M321.0 423.2h.4M322.6 416.3h.4M326.7 437.4h.4M333.3 420.7h.4M332.1 406.9h.4M326.5 413.3h.4M328.1 422.2h.4M321.0 417.1h.4M325.6 420.1h.4M323.7 422.1h.4M324.4 426.7h.4M324.5 410.8h.4M323.7 414.8h.4M318.0 419.6h.4M324.3 417.2h.4M330.4 412.4h.4M324.2 412.3h.4M322.5 419.9h.4M326.9 422.1h.4M328.2 422.0h.4M331.0 420.7h.4M337.8 421.8h.4M332.0 424.9h.4M321.7 418.7h.4M330.6 414.3h.4M316.3 409.3h.4M320.8 435.1h.4M326.3 410.7h.4M319.9 424.6h.4M322.8 417.4h.4M321.3 423.5h.4M322.9 420.1h.4M335.4 424.4h.4M326.1 423.2h.4M332.4 434.7h.4M340.0 411.7h.4M320.6 427.5h.4M314.6 409.9h.4M325.7 404.9h.4M332.5 428.0h.4M323.9 415.9h.4M324.3 424.1h.4M326.5 410.6h.4M333.6 432.0h.4M332.7 418.5h.4M332.9 414.8h.4M321.9 429.6h.4M338.2 417.7h.4M318.6 426.6h.4M320.1 436.7h.4M328.7 414.6h.4M317.3 439.2h.4M323.9 420.8h.4M333.9 435.4h.4M329.0 419.7h.4M327.4 418.7h.4M323.0 430.2h.4M331.3 415.5h.4M320.7 429.1h.4M332.7 425.7h.4M326.4 426.9h.4M338.2 428.4h.4M326.9 435.1h.4M321.1 427.0h.4M328.3 415.7h.4M319.7 424.6h.4M324.7 423.5h.4M334.2 427.3h.4M325.8 419.8h.4M333.7 419.9h.4M326.6 423.4h.4M323.3 425.4h.4M329.1 419.2h.4M323.8 412.7h.4M332.4 417.2h.4M321.0 429.8h.4M316.4 425.6h.4M326.1 425.7h.4M327.2 409.6h.4M319.6 423.6h.4M329.4 415.8h.4M324.5 438.8h.4M321.9 437.3h.4M331.2 424.4h.4M321.9 437.8h.4M326.9 408.1h.4M321.8 430.9h.4M319.8 418.1h.4M330.3 426.7h.4M321.0 421.4h.4M321.5 419.0h.4M328.0 416.6h.4M323.4 407.5h.4M336.5 417.5h.4M322.0 421.0h.4M333.7 425.0h.4M330.7 410.9h.4M314.0 412.6h.4M324.6 408.9h.4M332.3 413.3h.4M326.9 421.3h.4M326.3 414.7h.4M338.9 419.2h.4M330.7 406.3h.4M326.6 422.2h.4M325.0 423.0h.4M328.6 421.1h.4M323.7 428.0h.4M315.1 418.2h.4M331.9 425.6h.4M332.1 430.2h.4M322.9 420.7h.4M324.8 416.6h.4M331.9 434.7h.4M331.8 430.7h.4M325.6 417.6h.4M329.6 416.0h.4M320.8 417.7h.4M339.1 420.1h.4M322.5 427.6h.4M336.9 412.2h.4M332.0 404.0h.4M330.7 421.3h.4M333.5 417.6h.4M320.4 420.7h.4M329.2 408.9h.4M339.4 423.2h.4" stroke="#b592d4" stroke-width="0.55" stroke-linecap="round" opacity="0.55" fill="none"/>
<polygon points="328.0,436.9 327.3,437.9 326.3,438.5 325.6,439.2 325.3,440.1 324.8,441.1 323.7,441.2 322.5,441.2 321.2,441.2 320.1,441.2 318.6,441.2 317.1,441.2 316.2,440.3 316.1,439.0 316.5,437.8 316.6,436.9 316.3,436.0 315.8,434.8 316.6,433.9 317.8,433.3 319.0,433.0 320.3,433.2 321.3,432.9 322.4,432.7 323.5,432.7 324.9,432.6 326.3,432.9 327.3,433.7 328.3,434.6 328.7,435.7" fill="none" stroke="#6e3f9c" stroke-width="0.5" stroke-opacity="0.85" stroke-linejoin="round"/>
<polygon points="325.4,435.2 325.1,436.1 324.1,436.8 323.2,437.2 322.4,437.4 321.7,437.8 321.2,438.3 320.4,438.7 319.4,439.2 318.3,439.4 317.2,439.1 316.3,438.6 315.8,437.7 315.8,436.8 316.0,435.9 316.2,435.2 316.2,434.6 316.3,433.9 316.1,433.0 316.6,432.3 317.4,431.6 318.4,431.4 319.5,431.4 320.4,431.6 321.2,432.1 322.1,432.3 322.9,432.6 323.6,433.1 324.6,433.6 325.3,434.3" fill="none" stroke="#6e3f9c" stroke-width="0.5" stroke-opacity="0.85" stroke-linejoin="round"/>
<polygon points="323.7,436.9 323.1,437.3 323.2,437.8 323.5,438.5 323.1,439.0 322.3,439.1 321.6,439.0 321.0,439.2 320.3,439.7 319.5,440.0 318.7,439.8 318.4,438.9 318.6,438.1 318.6,437.6 317.9,437.4 317.0,436.9 316.7,436.2 317.3,435.7 318.1,435.4 318.7,435.1 319.1,434.7 319.6,434.1 320.3,433.8 321.0,434.3 321.5,434.9 322.0,435.1 322.9,434.9 323.9,435.0 324.7,435.4 324.5,436.2" fill="none" stroke="#6e3f9c" stroke-width="0.5" stroke-opacity="0.85" stroke-linejoin="round"/>
<polygon points="336.2,432.5 336.8,433.7 336.6,435.0 335.4,435.9 333.9,436.4 333.0,437.3 331.8,438.0 330.4,438.4 328.9,438.4 327.6,437.6 326.7,436.7 325.7,436.1 324.4,435.6 323.4,434.7 323.2,433.6 323.4,432.5 323.5,431.4 323.4,430.2 323.6,428.9 324.3,427.6 325.8,427.0 327.6,427.2 329.0,427.6 330.3,427.7 331.7,427.2 333.2,427.4 334.2,428.3 334.5,429.6 334.6,430.7 335.3,431.5" fill="none" stroke="#6e3f9c" stroke-width="0.5" stroke-opacity="0.85" stroke-linejoin="round"/>
<polygon points="333.8,433.0 332.7,433.8 332.5,434.4 332.6,435.4 332.7,436.7 331.9,437.6 330.5,437.6 329.2,437.2 328.2,436.7 327.1,436.9 326.0,436.8 325.3,436.1 324.5,435.6 323.9,434.8 323.2,434.0 323.0,433.0 323.5,432.1 324.4,431.5 325.3,431.0 325.7,430.4 325.9,429.1 326.7,428.0 328.0,428.0 329.2,428.6 330.0,429.6 330.5,430.4 331.7,430.2 333.4,430.2 334.9,430.8 334.9,432.0" fill="none" stroke="#6e3f9c" stroke-width="0.5" stroke-opacity="0.85" stroke-linejoin="round"/>
<polygon points="333.3,432.7 333.3,433.4 333.0,434.0 332.8,434.6 332.2,435.0 331.4,435.2 330.8,435.5 330.1,435.7 329.3,435.8 328.5,435.7 327.8,435.5 327.2,435.0 327.1,434.3 326.7,433.8 326.5,433.3 326.0,432.7 325.5,432.0 325.4,431.2 325.9,430.5 326.9,430.2 327.9,430.3 328.8,430.4 329.4,430.4 330.0,430.4 330.7,430.1 331.6,430.0 332.6,430.1 333.0,430.8 333.4,431.4 333.4,432.1" fill="none" stroke="#6e3f9c" stroke-width="0.5" stroke-opacity="0.85" stroke-linejoin="round"/>
<polygon points="323.6,409.3 323.4,410.0 322.9,410.6 322.9,411.4 322.6,412.2 322.0,412.8 321.1,412.9 320.2,412.6 319.5,412.1 319.0,411.8 318.4,411.6 317.6,411.6 316.7,411.4 316.2,410.8 315.6,410.1 315.7,409.3 315.9,408.5 316.1,407.8 316.4,407.0 317.0,406.4 317.8,406.2 318.7,406.0 319.5,406.6 320.1,407.0 320.7,406.9 321.4,406.9 322.3,406.8 323.4,406.9 324.1,407.6 324.0,408.5" fill="none" stroke="#6e3f9c" stroke-width="0.5" stroke-opacity="0.85" stroke-linejoin="round"/>
<polygon points="322.1,409.2 322.2,409.7 322.1,410.2 321.9,410.6 321.5,411.0 321.1,411.4 320.6,411.7 320.0,412.1 319.4,412.2 318.6,412.2 318.1,411.7 317.7,411.2 317.4,410.7 317.1,410.2 317.0,409.7 317.2,409.2 317.3,408.7 317.4,408.2 317.7,407.8 317.8,407.2 318.2,406.8 318.7,406.4 319.4,406.2 320.0,406.2 320.7,406.3 321.3,406.7 321.8,407.0 322.2,407.5 322.3,408.1 322.3,408.7" fill="none" stroke="#6e3f9c" stroke-width="0.5" stroke-opacity="0.85" stroke-linejoin="round"/>
<polygon points="330.5,409.3 330.6,409.9 330.5,410.6 330.2,411.2 329.7,411.7 329.1,412.2 328.5,412.6 327.7,412.8 326.9,412.9 326.1,412.7 325.4,412.4 324.6,412.0 324.2,411.4 324.0,410.6 323.9,409.9 323.9,409.3 324.0,408.6 324.3,408.0 324.7,407.5 325.0,406.9 325.4,406.3 326.1,405.8 326.9,405.5 327.8,405.3 328.6,405.5 329.4,405.9 330.0,406.5 330.3,407.2 330.4,408.0 330.6,408.6" fill="none" stroke="#6e3f9c" stroke-width="0.5" stroke-opacity="0.85" stroke-linejoin="round"/>
<rect x="375.20" y="401.50" width="43.80" height="40.50" fill="none" stroke="#c8c8c8" stroke-width="0.5" />
<line x1="375.20" y1="402.50" x2="375.20" y2="442.00" stroke="#222" stroke-width="0.9" />
<line x1="375.20" y1="442.00" x2="419.00" y2="442.00" stroke="#222" stroke-width="0.9" />
<line x1="374.00" y1="406.16" x2="375.20" y2="406.16" stroke="#000" stroke-width="0.8" />
<text x="373.40" y="407.16" font-size="3.0" text-anchor="end" fill="#333" >10⁶</text>
<line x1="374.00" y1="415.88" x2="375.20" y2="415.88" stroke="#000" stroke-width="0.8" />
<text x="373.40" y="416.88" font-size="3.0" text-anchor="end" fill="#333" >10⁵</text>
<line x1="374.00" y1="425.60" x2="375.20" y2="425.60" stroke="#000" stroke-width="0.8" />
<text x="373.40" y="426.60" font-size="3.0" text-anchor="end" fill="#333" >10⁴</text>
<line x1="374.00" y1="435.93" x2="375.20" y2="435.93" stroke="#000" stroke-width="0.8" />
<text x="373.40" y="436.93" font-size="3.0" text-anchor="end" fill="#333" >10³</text>
<line x1="383.96" y1="442.00" x2="383.96" y2="442.90" stroke="#000" stroke-width="0.5" />
<text x="383.96" y="447.20" font-size="3.2" text-anchor="middle" fill="#333" >50</text>
<line x1="391.84" y1="442.00" x2="391.84" y2="442.90" stroke="#000" stroke-width="0.5" />
<text x="391.84" y="447.20" font-size="3.2" text-anchor="middle" fill="#333" >100</text>
<line x1="399.73" y1="442.00" x2="399.73" y2="442.90" stroke="#000" stroke-width="0.5" />
<text x="399.73" y="447.20" font-size="3.2" text-anchor="middle" fill="#333" >150</text>
<line x1="407.61" y1="442.00" x2="407.61" y2="442.90" stroke="#000" stroke-width="0.5" />
<text x="407.61" y="447.20" font-size="3.2" text-anchor="middle" fill="#333" >200</text>
<line x1="415.50" y1="442.00" x2="415.50" y2="442.90" stroke="#000" stroke-width="0.5" />
<text x="415.50" y="447.20" font-size="3.2" text-anchor="middle" fill="#333" >250</text>
<line x1="375.20" y1="442.00" x2="375.20" y2="442.60" stroke="#000" stroke-width="0.3" />
<line x1="377.29" y1="442.00" x2="377.29" y2="442.60" stroke="#000" stroke-width="0.3" />
<line x1="379.37" y1="442.00" x2="379.37" y2="442.60" stroke="#000" stroke-width="0.3" />
<line x1="381.46" y1="442.00" x2="381.46" y2="442.60" stroke="#000" stroke-width="0.3" />
<line x1="383.54" y1="442.00" x2="383.54" y2="442.60" stroke="#000" stroke-width="0.3" />
<line x1="385.63" y1="442.00" x2="385.63" y2="442.60" stroke="#000" stroke-width="0.3" />
<line x1="387.71" y1="442.00" x2="387.71" y2="442.60" stroke="#000" stroke-width="0.3" />
<line x1="389.80" y1="442.00" x2="389.80" y2="442.60" stroke="#000" stroke-width="0.3" />
<line x1="391.89" y1="442.00" x2="391.89" y2="442.60" stroke="#000" stroke-width="0.3" />
<line x1="393.97" y1="442.00" x2="393.97" y2="442.60" stroke="#000" stroke-width="0.3" />
<line x1="396.06" y1="442.00" x2="396.06" y2="442.60" stroke="#000" stroke-width="0.3" />
<line x1="398.14" y1="442.00" x2="398.14" y2="442.60" stroke="#000" stroke-width="0.3" />
<line x1="400.23" y1="442.00" x2="400.23" y2="442.60" stroke="#000" stroke-width="0.3" />
<line x1="402.31" y1="442.00" x2="402.31" y2="442.60" stroke="#000" stroke-width="0.3" />
<line x1="404.40" y1="442.00" x2="404.40" y2="442.60" stroke="#000" stroke-width="0.3" />
<line x1="406.49" y1="442.00" x2="406.49" y2="442.60" stroke="#000" stroke-width="0.3" />
<line x1="408.57" y1="442.00" x2="408.57" y2="442.60" stroke="#000" stroke-width="0.3" />
<line x1="410.66" y1="442.00" x2="410.66" y2="442.60" stroke="#000" stroke-width="0.3" />
<line x1="412.74" y1="442.00" x2="412.74" y2="442.60" stroke="#000" stroke-width="0.3" />
<line x1="414.83" y1="442.00" x2="414.83" y2="442.60" stroke="#000" stroke-width="0.3" />
<line x1="416.91" y1="442.00" x2="416.91" y2="442.60" stroke="#000" stroke-width="0.3" />
<line x1="419.00" y1="442.00" x2="419.00" y2="442.60" stroke="#000" stroke-width="0.3" />
<text x="418.50" y="450.50" font-size="2.9" text-anchor="end" fill="#333" >(x 1,000)</text>
<text x="400.10" y="457.80" font-size="4.6" text-anchor="middle" fill="#222" font-weight="bold" textLength="33" lengthAdjust="spacingAndGlyphs" >Hoechst blue (355)-A</text>
<text x="365.80" y="421.75" font-size="4.6" text-anchor="middle" fill="#222" font-weight="bold" textLength="15.5" lengthAdjust="spacingAndGlyphs" transform="rotate(-90 365.80 421.75)" >PI (561)-A</text>
<polygon points="398.9,410.2 398.6,410.9 398.8,411.7 397.7,412.3 395.7,412.6 393.7,412.6 392.0,412.5 390.7,412.6 389.3,413.1 387.4,413.4 385.3,413.3 383.8,412.8 383.2,412.1 382.7,411.5 382.5,410.8 382.2,410.2 382.8,409.6 383.4,409.1 384.2,408.6 384.6,407.9 385.5,407.2 387.0,406.7 389.0,406.4 391.0,406.9 392.4,407.5 393.5,408.0 394.6,408.3 396.1,408.6 397.5,409.0 398.2,409.6" fill="#eee4f6" stroke="none"/>
<polygon points="395.9,419.5 395.4,421.3 395.0,423.1 394.6,424.9 393.7,426.4 392.5,426.9 391.3,426.8 390.3,426.1 389.4,425.3 388.6,425.2 387.7,425.3 386.4,425.5 385.4,424.5 384.5,423.2 384.1,421.4 383.4,419.5 383.4,417.3 383.9,415.3 385.3,414.2 386.4,413.4 387.7,413.7 388.5,413.0 389.4,412.4 390.3,412.1 391.3,412.4 392.2,413.0 393.2,413.6 394.3,414.3 395.1,415.7 395.9,417.4" fill="#eee4f6" stroke="none"/>
<polygon points="399.2,433.0 399.3,434.6 399.4,436.4 399.0,438.2 398.2,439.9 396.9,441.2 394.8,441.2 392.9,441.2 391.3,440.3 389.9,439.7 388.8,438.7 388.0,437.7 387.1,436.7 386.8,435.4 386.2,434.3 385.2,433.0 384.8,431.5 384.6,429.7 384.9,427.8 386.0,426.2 387.7,425.4 389.4,424.9 391.1,424.2 392.9,424.8 394.3,426.1 395.3,427.3 395.8,428.9 396.6,429.7 397.3,430.7 398.4,431.7" fill="#eee4f6" stroke="none"/>
<path d="M386.4 413.2h.4M393.7 408.3h.4M395.5 410.6h.4M383.1 408.6h.4M389.8 409.6h.4M391.6 409.0h.4M391.9 408.5h.4M386.6 412.4h.4M392.7 410.4h.4M383.3 409.3h.4M394.9 407.2h.4M396.3 408.9h.4M392.9 409.4h.4M392.0 411.8h.4M389.0 412.5h.4M387.2 407.9h.4M394.4 407.7h.4M389.2 411.3h.4M396.8 406.4h.4M393.4 413.0h.4M396.7 409.2h.4M388.1 409.1h.4M385.4 409.1h.4M390.1 409.3h.4M396.7 409.2h.4M383.9 411.5h.4M385.8 408.8h.4M390.3 409.0h.4M386.1 409.1h.4M401.5 408.5h.4M390.3 411.6h.4M394.6 411.0h.4M395.1 406.0h.4M386.8 409.8h.4M393.4 412.0h.4M393.2 409.2h.4M391.2 409.2h.4M392.2 410.8h.4M389.3 408.1h.4M386.8 411.6h.4M397.1 411.4h.4M395.1 411.1h.4M391.0 410.8h.4M385.9 409.2h.4M387.4 410.9h.4M388.2 409.4h.4M392.9 412.1h.4M387.2 407.9h.4M394.9 407.6h.4M393.1 408.6h.4M390.5 406.3h.4M394.4 408.7h.4M386.6 413.4h.4M394.4 416.0h.4M392.9 409.0h.4M391.5 412.5h.4M390.8 410.4h.4M393.5 407.9h.4M391.6 408.7h.4M385.0 411.2h.4M394.2 409.7h.4M386.6 405.9h.4M393.3 409.4h.4M382.9 409.5h.4M383.6 409.6h.4M391.7 410.2h.4M392.0 409.9h.4M385.5 408.9h.4M388.5 409.2h.4M392.3 410.7h.4M398.8 404.9h.4M392.9 409.2h.4M401.9 411.3h.4M383.0 410.3h.4M388.5 411.4h.4M385.9 409.4h.4M390.3 409.4h.4M388.2 406.3h.4M393.2 411.4h.4M390.6 407.7h.4M391.9 410.6h.4M390.1 409.6h.4M397.8 407.6h.4M388.3 406.1h.4M387.6 408.3h.4M386.3 408.3h.4M399.6 409.2h.4M390.4 413.6h.4M390.7 406.4h.4M392.9 407.9h.4M398.9 407.3h.4M388.2 406.7h.4M391.4 407.7h.4M390.7 408.9h.4M388.0 411.3h.4M395.5 409.7h.4M386.6 407.6h.4M392.3 414.0h.4M388.8 408.2h.4M387.6 407.6h.4M386.3 409.2h.4M397.9 409.6h.4M388.5 406.7h.4M392.0 409.6h.4M385.1 407.6h.4M390.8 411.4h.4M394.0 410.0h.4M389.4 410.2h.4M390.9 413.6h.4M385.5 408.9h.4M397.1 409.1h.4M397.8 409.5h.4M391.7 408.9h.4M384.3 407.8h.4M401.6 410.8h.4M393.9 411.3h.4M393.7 411.5h.4M389.7 409.2h.4M395.7 409.0h.4M384.6 409.2h.4M388.9 422.7h.4M388.3 414.6h.4M389.5 427.3h.4M390.4 420.5h.4M390.6 421.2h.4M393.4 426.5h.4M385.5 426.3h.4M390.5 418.2h.4M397.9 418.9h.4M396.5 424.4h.4M387.4 422.1h.4M392.8 419.1h.4M383.4 418.1h.4M389.9 414.3h.4M396.1 418.5h.4M389.3 418.3h.4M388.1 416.0h.4M390.8 421.2h.4M389.0 419.3h.4M386.3 422.3h.4M388.2 420.8h.4M387.7 417.2h.4M391.2 413.8h.4M398.1 419.5h.4M390.3 416.2h.4M395.4 426.5h.4M391.4 413.1h.4M389.0 422.7h.4M389.0 414.0h.4M386.9 416.0h.4M390.6 416.6h.4M390.6 433.3h.4M396.0 414.7h.4M391.6 420.1h.4M390.1 424.8h.4M389.5 418.1h.4M389.4 419.2h.4M394.5 423.5h.4M386.4 417.6h.4M388.1 423.7h.4M391.2 424.0h.4M390.3 410.4h.4M391.9 420.8h.4M392.1 413.4h.4M390.8 416.4h.4M388.4 421.4h.4M391.6 415.4h.4M385.3 407.7h.4M388.8 425.2h.4M390.4 408.8h.4M387.9 421.8h.4M395.7 425.4h.4M391.7 420.7h.4M387.3 417.5h.4M389.5 416.0h.4M390.7 417.8h.4M391.6 426.7h.4M392.8 421.8h.4M389.8 412.3h.4M390.2 422.4h.4M387.4 425.8h.4M389.5 421.5h.4M389.5 413.6h.4M396.9 414.1h.4M393.3 417.0h.4M391.4 415.8h.4M389.3 424.2h.4M396.5 415.6h.4M390.6 424.3h.4M388.6 423.2h.4M388.1 422.7h.4M391.9 425.6h.4M391.6 413.9h.4M392.6 414.4h.4M392.8 427.1h.4M392.4 417.0h.4M394.2 420.5h.4M386.7 418.0h.4M394.9 418.2h.4M390.9 418.1h.4M383.6 430.0h.4M392.5 433.2h.4M390.2 422.8h.4M396.3 435.5h.4M395.5 438.1h.4M389.0 429.6h.4M392.3 439.7h.4M383.6 431.3h.4M387.8 434.8h.4M397.4 431.0h.4M385.5 432.5h.4M389.7 425.4h.4M394.8 429.9h.4M394.0 426.4h.4M395.8 425.9h.4M395.6 424.2h.4M397.0 430.6h.4M384.2 431.2h.4M392.4 427.9h.4M388.8 433.5h.4M390.2 418.6h.4M389.1 434.2h.4M392.3 436.8h.4M394.5 433.7h.4M395.7 436.5h.4M391.4 429.5h.4M395.5 434.2h.4M382.7 427.4h.4M393.0 432.8h.4M392.2 435.1h.4M391.6 439.3h.4M388.4 430.5h.4M392.4 435.6h.4M394.4 438.9h.4M388.9 437.5h.4M393.0 427.6h.4M394.4 430.2h.4M380.5 429.0h.4M387.9 432.6h.4M401.1 435.6h.4M392.3 428.1h.4M385.8 431.4h.4M389.2 429.5h.4M395.9 432.6h.4M385.6 438.0h.4M389.6 426.4h.4M392.4 434.5h.4M389.5 435.4h.4M394.6 428.3h.4M382.0 421.6h.4M390.4 437.8h.4M395.4 438.5h.4M399.1 432.4h.4M395.6 425.5h.4M394.0 434.0h.4M390.6 430.3h.4M386.1 432.9h.4M396.6 430.6h.4M393.3 429.3h.4M392.1 427.8h.4M392.6 431.3h.4M392.3 429.6h.4M385.8 430.8h.4M395.5 439.3h.4M389.5 435.8h.4M394.3 434.0h.4M384.2 433.7h.4M386.7 437.5h.4M394.4 435.0h.4M379.9 435.0h.4M394.0 426.6h.4M395.2 432.6h.4M390.2 429.1h.4M386.5 430.3h.4M404.5 433.2h.4M391.9 429.4h.4M388.3 429.8h.4M387.1 436.2h.4M389.8 436.1h.4M385.9 436.4h.4M390.8 435.3h.4M390.5 428.3h.4M396.3 430.3h.4M390.3 428.3h.4M391.9 430.5h.4M392.2 433.8h.4M388.0 426.0h.4M392.9 436.4h.4M394.0 427.2h.4M393.6 434.0h.4M392.2 434.2h.4M389.5 433.2h.4M395.0 430.0h.4M384.7 431.8h.4M391.8 424.1h.4M388.0 434.9h.4M390.3 432.7h.4M385.5 436.3h.4M398.7 431.4h.4M387.8 427.1h.4M394.9 432.7h.4M387.5 437.7h.4M394.3 435.0h.4M383.3 431.8h.4M393.7 426.8h.4M395.0 438.7h.4M395.5 429.1h.4M387.9 436.5h.4M395.3 437.8h.4M396.2 431.8h.4M389.2 424.0h.4M388.9 430.2h.4M393.8 433.9h.4M385.0 429.1h.4M387.8 436.1h.4M399.4 440.7h.4M397.2 439.5h.4M385.6 430.7h.4M387.8 431.0h.4M402.4 424.8h.4M393.4 426.8h.4M396.8 438.1h.4M391.3 438.1h.4M392.3 429.8h.4M389.3 431.8h.4M393.7 432.8h.4M401.3 431.4h.4M388.9 429.1h.4M387.6 425.9h.4M386.7 436.3h.4M391.2 431.5h.4M392.5 437.0h.4M393.7 435.7h.4M388.5 431.1h.4M387.6 431.8h.4M387.4 430.6h.4M390.2 431.3h.4M389.8 430.1h.4M396.7 430.8h.4M386.5 433.1h.4M386.2 427.5h.4M391.3 424.9h.4M376.9 433.6h.4M395.5 424.8h.4M387.0 434.9h.4M382.3 428.4h.4M385.7 431.4h.4M382.3 436.3h.4M390.3 433.6h.4M389.5 422.8h.4M390.3 426.3h.4M391.0 428.5h.4M389.6 431.3h.4M394.4 435.7h.4M386.6 432.2h.4M397.4 434.5h.4M387.8 431.7h.4M389.4 436.5h.4M391.1 434.0h.4M400.7 426.1h.4M386.5 424.6h.4M384.0 436.1h.4M392.2 439.5h.4M382.3 428.4h.4M397.3 436.9h.4M394.8 436.2h.4M391.1 432.2h.4M391.1 436.0h.4M390.3 433.7h.4M397.3 427.3h.4M387.7 434.8h.4M389.8 431.6h.4M400.2 434.1h.4M389.1 437.2h.4M402.0 427.3h.4M388.0 432.8h.4M393.3 430.5h.4M393.1 428.7h.4M388.3 432.8h.4M401.4 422.3h.4M392.8 438.3h.4M394.2 440.8h.4M392.9 432.9h.4M390.4 428.5h.4M398.1 427.0h.4M390.4 429.9h.4M387.5 422.4h.4M389.3 432.9h.4M391.6 436.0h.4M390.3 429.4h.4M392.3 435.2h.4M387.0 425.5h.4M386.5 437.0h.4M399.7 413.9h.4M394.3 429.2h.4M401.7 415.9h.4M392.1 434.3h.4M408.4 435.4h.4M386.6 425.7h.4M391.8 421.2h.4M389.5 417.5h.4M393.5 437.8h.4M397.9 425.6h.4M393.8 415.1h.4M392.2 432.8h.4M398.7 439.2h.4M395.2 421.6h.4M383.7 425.3h.4M383.0 435.3h.4M389.7 421.8h.4M385.3 417.3h.4M387.9 431.8h.4M395.1 411.2h.4M381.8 421.1h.4M390.6 411.9h.4M397.2 420.1h.4M394.3 416.5h.4M390.1 417.7h.4M383.8 427.4h.4M396.1 406.4h.4M394.2 432.0h.4M395.0 433.3h.4M392.0 421.8h.4M385.6 413.7h.4M382.4 413.8h.4M395.1 426.4h.4M400.7 422.9h.4M387.5 425.6h.4M392.7 437.6h.4M405.6 430.3h.4M386.6 417.1h.4M394.8 415.4h.4M396.8 427.9h.4M398.7 423.8h.4M388.2 414.2h.4M392.8 433.6h.4M403.3 430.5h.4M395.8 427.8h.4M398.6 433.3h.4M398.8 408.1h.4M399.4 425.2h.4M390.8 426.4h.4M395.4 421.3h.4M383.2 422.7h.4M397.0 421.3h.4M383.9 425.8h.4M398.0 423.4h.4M396.2 418.6h.4M389.6 426.4h.4M391.4 423.4h.4M413.6 428.1h.4M394.4 407.3h.4M394.2 428.5h.4M389.3 419.6h.4M379.8 426.7h.4M389.9 427.8h.4M402.0 420.3h.4M399.6 424.0h.4M392.3 419.2h.4M388.4 433.2h.4M399.0 412.8h.4M398.8 415.2h.4M384.4 432.4h.4M385.7 432.3h.4M394.8 429.8h.4M396.7 432.0h.4M395.7 426.9h.4M395.1 431.5h.4M391.2 430.8h.4M402.8 421.2h.4M396.3 417.2h.4M391.8 424.1h.4M391.5 413.9h.4M393.4 423.5h.4M395.6 428.1h.4M382.7 434.3h.4M392.5 414.9h.4M391.3 425.7h.4M398.9 418.5h.4M394.6 407.5h.4M394.6 420.8h.4M391.0 429.6h.4M404.6 431.0h.4M388.8 435.4h.4M391.6 421.4h.4M390.0 425.8h.4M397.0 423.0h.4M392.3 420.5h.4M391.1 430.4h.4M390.4 420.4h.4M392.3 415.1h.4M392.2 408.7h.4M396.1 426.6h.4M391.8 435.6h.4M388.6 426.7h.4M396.5 417.0h.4M392.1 429.7h.4M394.0 424.3h.4M402.1 423.7h.4M383.4 415.2h.4M398.7 420.6h.4M387.0 404.2h.4M395.6 435.1h.4" stroke="#b592d4" stroke-width="0.55" stroke-linecap="round" opacity="0.55" fill="none"/>
<polygon points="398.9,410.2 398.6,410.9 398.8,411.7 397.7,412.3 395.7,412.6 393.7,412.6 392.0,412.5 390.7,412.6 389.3,413.1 387.4,413.4 385.3,413.3 383.8,412.8 383.2,412.1 382.7,411.5 382.5,410.8 382.2,410.2 382.8,409.6 383.4,409.1 384.2,408.6 384.6,407.9 385.5,407.2 387.0,406.7 389.0,406.4 391.0,406.9 392.4,407.5 393.5,408.0 394.6,408.3 396.1,408.6 397.5,409.0 398.2,409.6" fill="none" stroke="#6e3f9c" stroke-width="0.5" stroke-opacity="0.85" stroke-linejoin="round"/>
<polygon points="398.7,408.7 398.1,409.3 396.6,409.7 395.0,409.9 393.8,410.0 393.0,410.2 392.2,410.4 391.2,410.5 390.2,410.7 389.0,410.8 387.6,410.8 385.7,410.8 384.3,410.5 382.9,410.1 382.6,409.4 383.2,408.7 383.9,408.2 385.2,407.8 386.1,407.5 387.4,407.3 388.4,407.2 389.5,407.2 390.3,407.1 391.3,406.7 392.7,406.5 394.2,406.5 396.0,406.5 397.1,407.0 398.0,407.5 398.8,408.1" fill="none" stroke="#6e3f9c" stroke-width="0.5" stroke-opacity="0.85" stroke-linejoin="round"/>
<polygon points="395.4,409.8 395.5,410.2 395.2,410.6 394.5,410.9 393.9,411.3 393.1,411.6 391.9,411.5 390.8,411.4 390.0,411.2 389.3,411.1 388.5,411.1 387.5,411.0 386.5,410.9 386.3,410.5 386.7,410.1 386.3,409.8 385.6,409.4 385.2,408.9 385.5,408.5 386.7,408.3 388.2,408.3 389.2,408.4 390.0,408.4 390.8,408.2 391.8,408.2 392.7,408.3 393.1,408.7 393.3,409.0 393.9,409.2 394.9,409.4" fill="none" stroke="#6e3f9c" stroke-width="0.5" stroke-opacity="0.85" stroke-linejoin="round"/>
<polygon points="395.9,419.5 395.4,421.3 395.0,423.1 394.6,424.9 393.7,426.4 392.5,426.9 391.3,426.8 390.3,426.1 389.4,425.3 388.6,425.2 387.7,425.3 386.4,425.5 385.4,424.5 384.5,423.2 384.1,421.4 383.4,419.5 383.4,417.3 383.9,415.3 385.3,414.2 386.4,413.4 387.7,413.7 388.5,413.0 389.4,412.4 390.3,412.1 391.3,412.4 392.2,413.0 393.2,413.6 394.3,414.3 395.1,415.7 395.9,417.4" fill="none" stroke="#6e3f9c" stroke-width="0.5" stroke-opacity="0.85" stroke-linejoin="round"/>
<polygon points="399.2,433.0 399.3,434.6 399.4,436.4 399.0,438.2 398.2,439.9 396.9,441.2 394.8,441.2 392.9,441.2 391.3,440.3 389.9,439.7 388.8,438.7 388.0,437.7 387.1,436.7 386.8,435.4 386.2,434.3 385.2,433.0 384.8,431.5 384.6,429.7 384.9,427.8 386.0,426.2 387.7,425.4 389.4,424.9 391.1,424.2 392.9,424.8 394.3,426.1 395.3,427.3 395.8,428.9 396.6,429.7 397.3,430.7 398.4,431.7" fill="none" stroke="#6e3f9c" stroke-width="0.5" stroke-opacity="0.85" stroke-linejoin="round"/>
<polygon points="395.2,432.2 395.9,433.4 396.3,434.9 396.0,436.4 394.8,437.3 393.3,437.6 392.0,437.8 390.8,437.8 389.7,437.5 388.6,437.4 387.5,437.1 386.3,436.7 385.9,435.4 385.2,434.5 384.9,433.3 384.7,432.2 384.2,430.9 384.7,429.7 385.4,428.6 386.3,427.7 387.5,427.4 388.5,426.7 389.7,426.5 390.9,426.2 392.2,426.2 393.5,426.5 394.2,427.7 394.5,429.1 394.5,430.2 394.8,431.2" fill="none" stroke="#6e3f9c" stroke-width="0.5" stroke-opacity="0.85" stroke-linejoin="round"/>
<polygon points="396.1,432.3 395.5,433.2 394.6,433.8 394.2,434.4 394.0,435.2 393.4,435.9 392.8,436.8 391.9,436.8 391.0,436.4 390.1,436.4 389.1,436.4 388.1,436.1 387.7,435.1 387.8,434.0 388.0,433.0 388.1,432.3 387.7,431.5 387.6,430.6 387.7,429.6 388.6,429.1 389.3,428.7 390.1,428.3 390.9,427.9 391.9,427.6 392.8,428.1 393.5,428.6 393.9,429.4 394.5,430.0 395.2,430.6 396.0,431.3" fill="none" stroke="#6e3f9c" stroke-width="0.5" stroke-opacity="0.85" stroke-linejoin="round"/>
<rect x="442.80" y="401.50" width="43.80" height="40.50" fill="none" stroke="#c8c8c8" stroke-width="0.5" />
<line x1="442.80" y1="402.50" x2="442.80" y2="442.00" stroke="#222" stroke-width="0.9" />
<line x1="442.80" y1="442.00" x2="486.60" y2="442.00" stroke="#222" stroke-width="0.9" />
<line x1="441.60" y1="406.16" x2="442.80" y2="406.16" stroke="#000" stroke-width="0.8" />
<text x="441.00" y="407.16" font-size="3.0" text-anchor="end" fill="#333" >10⁶</text>
<line x1="441.60" y1="415.88" x2="442.80" y2="415.88" stroke="#000" stroke-width="0.8" />
<text x="441.00" y="416.88" font-size="3.0" text-anchor="end" fill="#333" >10⁵</text>
<line x1="441.60" y1="425.60" x2="442.80" y2="425.60" stroke="#000" stroke-width="0.8" />
<text x="441.00" y="426.60" font-size="3.0" text-anchor="end" fill="#333" >10⁴</text>
<line x1="441.60" y1="435.93" x2="442.80" y2="435.93" stroke="#000" stroke-width="0.8" />
<text x="441.00" y="436.93" font-size="3.0" text-anchor="end" fill="#333" >10³</text>
<line x1="451.56" y1="442.00" x2="451.56" y2="442.90" stroke="#000" stroke-width="0.5" />
<text x="451.56" y="447.20" font-size="3.2" text-anchor="middle" fill="#333" >50</text>
<line x1="459.44" y1="442.00" x2="459.44" y2="442.90" stroke="#000" stroke-width="0.5" />
<text x="459.44" y="447.20" font-size="3.2" text-anchor="middle" fill="#333" >100</text>
<line x1="467.33" y1="442.00" x2="467.33" y2="442.90" stroke="#000" stroke-width="0.5" />
<text x="467.33" y="447.20" font-size="3.2" text-anchor="middle" fill="#333" >150</text>
<line x1="475.21" y1="442.00" x2="475.21" y2="442.90" stroke="#000" stroke-width="0.5" />
<text x="475.21" y="447.20" font-size="3.2" text-anchor="middle" fill="#333" >200</text>
<line x1="483.10" y1="442.00" x2="483.10" y2="442.90" stroke="#000" stroke-width="0.5" />
<text x="483.10" y="447.20" font-size="3.2" text-anchor="middle" fill="#333" >250</text>
<line x1="442.80" y1="442.00" x2="442.80" y2="442.60" stroke="#000" stroke-width="0.3" />
<line x1="444.89" y1="442.00" x2="444.89" y2="442.60" stroke="#000" stroke-width="0.3" />
<line x1="446.97" y1="442.00" x2="446.97" y2="442.60" stroke="#000" stroke-width="0.3" />
<line x1="449.06" y1="442.00" x2="449.06" y2="442.60" stroke="#000" stroke-width="0.3" />
<line x1="451.14" y1="442.00" x2="451.14" y2="442.60" stroke="#000" stroke-width="0.3" />
<line x1="453.23" y1="442.00" x2="453.23" y2="442.60" stroke="#000" stroke-width="0.3" />
<line x1="455.31" y1="442.00" x2="455.31" y2="442.60" stroke="#000" stroke-width="0.3" />
<line x1="457.40" y1="442.00" x2="457.40" y2="442.60" stroke="#000" stroke-width="0.3" />
<line x1="459.49" y1="442.00" x2="459.49" y2="442.60" stroke="#000" stroke-width="0.3" />
<line x1="461.57" y1="442.00" x2="461.57" y2="442.60" stroke="#000" stroke-width="0.3" />
<line x1="463.66" y1="442.00" x2="463.66" y2="442.60" stroke="#000" stroke-width="0.3" />
<line x1="465.74" y1="442.00" x2="465.74" y2="442.60" stroke="#000" stroke-width="0.3" />
<line x1="467.83" y1="442.00" x2="467.83" y2="442.60" stroke="#000" stroke-width="0.3" />
<line x1="469.91" y1="442.00" x2="469.91" y2="442.60" stroke="#000" stroke-width="0.3" />
<line x1="472.00" y1="442.00" x2="472.00" y2="442.60" stroke="#000" stroke-width="0.3" />
<line x1="474.09" y1="442.00" x2="474.09" y2="442.60" stroke="#000" stroke-width="0.3" />
<line x1="476.17" y1="442.00" x2="476.17" y2="442.60" stroke="#000" stroke-width="0.3" />
<line x1="478.26" y1="442.00" x2="478.26" y2="442.60" stroke="#000" stroke-width="0.3" />
<line x1="480.34" y1="442.00" x2="480.34" y2="442.60" stroke="#000" stroke-width="0.3" />
<line x1="482.43" y1="442.00" x2="482.43" y2="442.60" stroke="#000" stroke-width="0.3" />
<line x1="484.51" y1="442.00" x2="484.51" y2="442.60" stroke="#000" stroke-width="0.3" />
<line x1="486.60" y1="442.00" x2="486.60" y2="442.60" stroke="#000" stroke-width="0.3" />
<text x="486.10" y="450.50" font-size="2.9" text-anchor="end" fill="#333" >(x 1,000)</text>
<text x="467.70" y="457.80" font-size="4.6" text-anchor="middle" fill="#222" font-weight="bold" textLength="33" lengthAdjust="spacingAndGlyphs" >Hoechst blue (355)-A</text>
<text x="433.40" y="421.75" font-size="4.6" text-anchor="middle" fill="#222" font-weight="bold" textLength="15.5" lengthAdjust="spacingAndGlyphs" transform="rotate(-90 433.40 421.75)" >PI (561)-A</text>
<polygon points="464.9,410.7 464.1,411.7 463.2,412.4 463.1,413.4 462.3,414.2 461.5,415.4 459.8,415.6 458.2,415.7 456.6,415.3 455.2,415.0 453.7,414.8 452.7,414.1 451.5,413.5 450.1,412.8 449.8,411.8 449.8,410.7 449.7,409.7 450.6,408.8 452.0,408.2 452.8,407.4 453.7,406.7 454.9,405.8 456.5,405.4 458.2,405.8 459.6,406.4 460.5,407.3 461.7,407.6 463.6,407.8 464.9,408.6 465.6,409.6" fill="#eee4f6" stroke="none"/>
<polygon points="462.0,421.4 462.0,423.0 461.9,424.6 461.9,426.5 461.8,428.9 461.1,430.5 460.1,430.7 459.2,430.1 458.4,429.4 457.7,428.7 456.9,428.5 456.3,427.5 455.9,426.0 455.7,424.4 455.7,422.9 455.4,421.4 455.3,419.8 455.3,418.0 455.4,416.1 456.0,414.7 456.6,413.2 457.4,412.4 458.3,412.5 459.1,413.2 459.8,414.1 460.4,415.1 461.0,415.8 461.5,417.0 461.9,418.3 462.1,419.8" fill="#eee4f6" stroke="none"/>
<polygon points="467.2,435.6 466.0,436.3 466.5,437.2 466.9,438.4 466.5,439.6 465.0,440.4 462.7,440.4 460.7,440.5 458.8,440.2 456.9,440.3 455.2,439.9 453.6,439.2 452.8,438.3 451.9,437.4 451.4,436.5 450.2,435.6 449.9,434.4 451.2,433.5 453.6,433.2 455.0,432.7 455.9,432.0 457.1,431.1 458.7,430.1 460.9,429.9 463.0,430.2 464.6,431.1 466.2,431.7 467.4,432.6 468.4,433.5 467.8,434.7" fill="#eee4f6" stroke="none"/>
<path d="M457.8 413.4h.4M460.1 405.3h.4M458.3 410.1h.4M455.1 407.0h.4M463.5 408.3h.4M452.3 406.0h.4M463.1 409.9h.4M450.5 407.8h.4M453.9 408.1h.4M454.0 413.9h.4M461.1 406.0h.4M452.3 413.0h.4M456.5 411.3h.4M459.2 406.3h.4M459.7 410.3h.4M460.9 412.7h.4M459.6 412.1h.4M458.0 411.8h.4M453.6 411.4h.4M454.1 411.8h.4M451.1 407.7h.4M463.1 406.9h.4M452.2 415.4h.4M453.2 407.4h.4M460.9 411.4h.4M456.7 414.0h.4M460.7 406.8h.4M454.0 411.2h.4M449.8 417.6h.4M461.5 413.0h.4M453.1 410.5h.4M460.7 413.7h.4M456.6 412.9h.4M450.5 414.8h.4M466.3 407.0h.4M455.9 409.8h.4M450.7 406.2h.4M462.9 409.0h.4M450.8 406.7h.4M459.7 412.4h.4M463.5 410.2h.4M461.0 411.1h.4M449.2 409.2h.4M448.6 409.5h.4M459.9 413.2h.4M460.4 411.7h.4M458.1 408.4h.4M463.4 412.2h.4M458.6 412.5h.4M459.4 411.8h.4M460.2 414.7h.4M456.4 411.8h.4M452.6 410.7h.4M454.6 411.9h.4M459.6 409.3h.4M450.8 407.7h.4M450.9 410.8h.4M455.4 405.0h.4M454.9 412.8h.4M458.4 411.3h.4M455.5 408.3h.4M455.5 408.3h.4M450.6 410.9h.4M451.6 409.9h.4M459.2 413.1h.4M458.4 409.0h.4M452.1 411.4h.4M457.3 412.4h.4M458.3 406.9h.4M453.5 410.2h.4M459.6 411.4h.4M459.5 408.1h.4M453.9 410.0h.4M465.1 409.0h.4M457.8 409.0h.4M459.5 415.7h.4M459.8 411.7h.4M462.6 411.2h.4M452.5 411.6h.4M446.0 409.5h.4M449.5 408.1h.4M460.7 411.3h.4M461.6 410.3h.4M458.3 409.4h.4M448.0 408.6h.4M449.8 411.8h.4M464.5 409.6h.4M456.8 410.6h.4M452.7 410.3h.4M459.8 412.4h.4M463.2 412.3h.4M456.6 412.8h.4M456.2 412.6h.4M452.9 410.1h.4M463.0 412.5h.4M460.7 411.1h.4M463.8 409.4h.4M453.6 413.8h.4M458.2 409.2h.4M457.8 409.4h.4M461.8 414.4h.4M454.6 410.4h.4M448.3 408.6h.4M449.6 417.0h.4M457.7 409.9h.4M460.2 412.9h.4M453.5 411.1h.4M458.9 412.3h.4M461.9 410.6h.4M457.5 408.5h.4M467.0 408.6h.4M455.0 412.3h.4M454.1 408.6h.4M456.5 411.0h.4M454.4 415.8h.4M453.2 407.9h.4M463.4 410.6h.4M455.0 409.8h.4M462.4 405.0h.4M457.6 414.0h.4M459.5 411.7h.4M459.3 420.4h.4M461.5 420.0h.4M458.3 406.3h.4M460.6 421.4h.4M458.5 423.2h.4M459.0 426.4h.4M457.0 427.6h.4M460.5 421.4h.4M456.8 412.0h.4M460.5 416.5h.4M460.1 415.3h.4M454.6 422.1h.4M459.3 424.6h.4M460.8 418.4h.4M457.0 424.6h.4M460.3 431.9h.4M460.8 427.3h.4M455.1 420.3h.4M459.6 421.5h.4M457.7 419.0h.4M458.5 423.6h.4M453.7 423.8h.4M457.7 422.4h.4M455.9 413.0h.4M460.6 429.9h.4M457.3 420.4h.4M457.8 420.8h.4M457.5 414.3h.4M456.3 416.6h.4M461.0 423.2h.4M460.7 415.3h.4M461.7 430.0h.4M460.1 417.5h.4M461.4 421.5h.4M459.2 432.8h.4M462.4 420.1h.4M463.1 419.9h.4M455.6 421.1h.4M455.5 420.7h.4M458.6 426.6h.4M453.9 418.5h.4M455.8 420.0h.4M461.5 423.0h.4M456.0 423.5h.4M461.6 420.2h.4M458.9 415.6h.4M457.0 415.3h.4M459.7 422.0h.4M456.4 420.7h.4M457.7 421.0h.4M456.6 415.5h.4M460.7 414.2h.4M454.7 421.2h.4M459.8 423.0h.4M455.1 427.0h.4M458.9 421.7h.4M458.8 422.2h.4M458.7 417.1h.4M457.9 426.1h.4M461.1 418.5h.4M454.9 425.0h.4M461.4 426.1h.4M460.3 414.1h.4M457.3 424.6h.4M457.9 423.5h.4M457.8 424.9h.4M456.2 431.9h.4M459.0 416.3h.4M458.0 423.8h.4M457.8 436.9h.4M454.6 437.2h.4M450.2 434.6h.4M464.1 430.4h.4M460.8 433.1h.4M470.4 438.4h.4M467.4 435.1h.4M463.6 433.4h.4M447.5 433.6h.4M460.4 436.1h.4M462.4 439.0h.4M452.1 434.2h.4M472.1 435.0h.4M462.1 433.2h.4M464.4 437.1h.4M456.9 437.6h.4M460.0 437.0h.4M459.8 436.4h.4M458.3 437.7h.4M462.2 438.7h.4M462.8 440.7h.4M467.6 435.5h.4M470.7 436.3h.4M459.9 436.8h.4M462.5 432.0h.4M460.0 435.4h.4M453.3 440.0h.4M458.1 437.2h.4M457.9 436.5h.4M467.0 430.6h.4M451.0 433.9h.4M463.3 439.6h.4M459.4 433.4h.4M467.3 438.7h.4M457.3 440.4h.4M461.4 435.6h.4M466.2 437.1h.4M460.6 438.4h.4M464.8 436.1h.4M453.2 434.8h.4M463.4 434.0h.4M464.6 438.2h.4M461.7 434.9h.4M464.9 433.9h.4M456.8 433.6h.4M462.3 433.7h.4M454.2 435.3h.4M456.8 436.9h.4M457.6 436.2h.4M460.5 436.3h.4M446.6 437.6h.4M461.9 433.8h.4M452.7 433.2h.4M460.8 435.4h.4M450.7 436.2h.4M453.8 431.4h.4M468.4 435.5h.4M458.7 434.5h.4M469.7 432.7h.4M465.8 433.9h.4M459.0 437.5h.4M457.3 436.6h.4M466.5 434.7h.4M463.1 434.4h.4M449.9 431.4h.4M456.7 437.2h.4M458.5 436.3h.4M458.4 434.9h.4M457.0 433.0h.4M464.9 438.2h.4M469.1 436.9h.4M448.8 434.6h.4M470.3 436.8h.4M455.2 437.2h.4M467.1 434.6h.4M467.2 430.5h.4M465.0 436.6h.4M462.0 438.6h.4M455.5 435.1h.4M462.3 438.5h.4M459.2 437.2h.4M465.0 439.7h.4M451.8 432.4h.4M463.7 435.6h.4M461.7 437.1h.4M468.8 437.7h.4M465.9 439.9h.4M461.0 433.2h.4M453.2 435.8h.4M453.5 434.7h.4M453.1 437.7h.4M466.2 440.0h.4M452.8 437.3h.4M461.8 433.7h.4M462.6 440.1h.4M454.0 437.8h.4M461.3 436.5h.4M459.3 436.3h.4M464.1 435.0h.4M460.5 436.8h.4M453.0 432.3h.4M458.2 431.3h.4M459.1 435.4h.4M456.1 439.2h.4M464.5 436.1h.4M464.0 430.0h.4M466.3 435.4h.4M464.4 438.4h.4M467.4 435.8h.4M472.5 437.4h.4M462.9 433.6h.4M461.6 429.7h.4M450.8 433.6h.4M459.1 433.5h.4M461.4 439.1h.4M468.5 433.8h.4M463.6 432.4h.4M470.9 430.6h.4M468.4 437.8h.4M463.4 436.7h.4M466.9 440.3h.4M456.4 437.1h.4M467.7 434.1h.4M461.5 434.8h.4M454.2 437.3h.4M462.8 437.6h.4M463.8 435.5h.4M465.7 435.0h.4M459.0 434.3h.4M452.0 434.7h.4M460.4 438.4h.4M465.0 434.1h.4M456.2 436.0h.4M467.7 431.9h.4M454.1 435.4h.4M461.2 439.8h.4M460.0 436.3h.4M465.3 433.2h.4M463.3 431.8h.4M463.1 438.8h.4M454.5 433.2h.4M463.0 435.8h.4M457.6 435.5h.4M451.4 421.3h.4M455.3 427.6h.4M457.2 428.0h.4M458.9 409.2h.4M461.1 413.5h.4M461.9 420.7h.4M468.7 417.5h.4M460.9 423.8h.4M451.5 418.8h.4M454.5 427.3h.4M471.8 417.0h.4M466.9 432.3h.4M460.4 406.2h.4M454.7 421.3h.4M464.5 427.6h.4M455.0 416.1h.4M476.5 422.8h.4M466.3 405.5h.4M466.3 410.5h.4M451.2 421.9h.4M463.4 435.0h.4M448.1 424.3h.4M455.4 432.7h.4M453.1 420.4h.4M463.8 414.9h.4M466.9 426.7h.4M466.3 428.7h.4M468.4 423.9h.4M449.1 425.2h.4M455.7 418.0h.4M469.5 405.4h.4M460.3 411.9h.4M454.0 413.4h.4M460.6 414.8h.4M457.5 411.3h.4M445.8 419.9h.4M461.4 408.0h.4M454.6 429.7h.4M469.6 414.9h.4M465.4 425.1h.4M468.0 438.4h.4M462.2 432.3h.4M461.8 419.4h.4M452.8 423.0h.4M462.3 432.9h.4M459.6 434.4h.4M456.5 419.6h.4M463.9 405.7h.4M458.7 426.2h.4M470.6 422.7h.4M462.7 420.1h.4M462.3 412.7h.4M452.9 422.3h.4M467.7 421.7h.4M464.5 416.9h.4M462.1 423.6h.4M454.1 425.9h.4M452.4 434.6h.4M454.9 421.4h.4M459.8 417.5h.4M464.7 411.8h.4M454.9 412.6h.4M458.0 421.4h.4M456.5 416.5h.4M462.2 428.5h.4M460.3 425.8h.4M461.0 423.2h.4M468.3 425.1h.4M465.4 424.6h.4M459.4 424.2h.4M455.1 431.6h.4M457.3 418.1h.4M472.5 418.2h.4M463.0 435.7h.4M452.4 419.5h.4M458.8 421.4h.4M456.9 416.0h.4M447.8 413.2h.4M460.3 424.4h.4M462.9 406.8h.4M468.3 413.2h.4M470.1 424.9h.4M456.2 420.2h.4M465.6 427.2h.4M470.5 431.4h.4M459.4 428.2h.4M460.8 418.9h.4M464.7 417.8h.4M459.0 410.9h.4M455.8 426.1h.4M455.8 411.5h.4M463.2 423.9h.4M458.3 421.1h.4M461.0 420.7h.4M452.3 424.3h.4M468.2 424.2h.4M461.2 421.1h.4M452.8 417.7h.4M464.0 432.6h.4M467.8 410.5h.4M457.6 422.6h.4M466.8 421.0h.4M463.0 413.5h.4M458.0 430.1h.4M449.8 414.0h.4M460.3 415.4h.4M455.2 432.2h.4M466.8 427.1h.4" stroke="#b592d4" stroke-width="0.55" stroke-linecap="round" opacity="0.55" fill="none"/>
<polygon points="464.9,410.7 464.1,411.7 463.2,412.4 463.1,413.4 462.3,414.2 461.5,415.4 459.8,415.6 458.2,415.7 456.6,415.3 455.2,415.0 453.7,414.8 452.7,414.1 451.5,413.5 450.1,412.8 449.8,411.8 449.8,410.7 449.7,409.7 450.6,408.8 452.0,408.2 452.8,407.4 453.7,406.7 454.9,405.8 456.5,405.4 458.2,405.8 459.6,406.4 460.5,407.3 461.7,407.6 463.6,407.8 464.9,408.6 465.6,409.6" fill="none" stroke="#6e3f9c" stroke-width="0.5" stroke-opacity="0.85" stroke-linejoin="round"/>
<polygon points="462.2,410.0 462.6,410.8 462.7,411.7 462.5,412.6 461.5,413.2 459.8,413.2 458.5,413.0 457.5,413.0 456.5,413.1 455.2,413.7 453.4,414.0 452.4,413.3 452.0,412.4 452.1,411.5 452.0,410.7 451.8,410.0 451.4,409.3 451.5,408.5 452.5,407.9 453.7,407.6 454.6,407.3 455.3,406.7 456.3,405.9 457.7,405.5 459.2,405.7 460.2,406.4 460.9,407.2 461.2,408.0 461.3,408.8 462.1,409.3" fill="none" stroke="#6e3f9c" stroke-width="0.5" stroke-opacity="0.85" stroke-linejoin="round"/>
<polygon points="461.1,409.9 461.7,410.5 461.7,411.2 460.9,411.6 460.2,412.0 459.4,412.3 458.7,412.7 457.8,413.0 456.8,413.0 455.9,412.6 455.6,411.7 455.4,411.2 455.0,411.0 453.9,410.9 452.9,410.5 452.4,409.9 452.7,409.3 453.3,408.8 454.1,408.4 454.5,407.9 455.0,407.4 455.9,407.1 456.8,407.0 457.7,407.0 458.6,407.2 459.3,407.6 459.7,408.2 459.8,408.7 459.9,409.1 460.6,409.4" fill="none" stroke="#6e3f9c" stroke-width="0.5" stroke-opacity="0.85" stroke-linejoin="round"/>
<polygon points="462.0,421.4 462.0,423.0 461.9,424.6 461.9,426.5 461.8,428.9 461.1,430.5 460.1,430.7 459.2,430.1 458.4,429.4 457.7,428.7 456.9,428.5 456.3,427.5 455.9,426.0 455.7,424.4 455.7,422.9 455.4,421.4 455.3,419.8 455.3,418.0 455.4,416.1 456.0,414.7 456.6,413.2 457.4,412.4 458.3,412.5 459.1,413.2 459.8,414.1 460.4,415.1 461.0,415.8 461.5,417.0 461.9,418.3 462.1,419.8" fill="none" stroke="#6e3f9c" stroke-width="0.5" stroke-opacity="0.85" stroke-linejoin="round"/>
<polygon points="467.2,435.6 466.0,436.3 466.5,437.2 466.9,438.4 466.5,439.6 465.0,440.4 462.7,440.4 460.7,440.5 458.8,440.2 456.9,440.3 455.2,439.9 453.6,439.2 452.8,438.3 451.9,437.4 451.4,436.5 450.2,435.6 449.9,434.4 451.2,433.5 453.6,433.2 455.0,432.7 455.9,432.0 457.1,431.1 458.7,430.1 460.9,429.9 463.0,430.2 464.6,431.1 466.2,431.7 467.4,432.6 468.4,433.5 467.8,434.7" fill="none" stroke="#6e3f9c" stroke-width="0.5" stroke-opacity="0.85" stroke-linejoin="round"/>
<polygon points="468.8,435.7 468.9,436.7 467.6,437.4 465.7,437.7 464.3,437.9 463.3,438.3 462.5,439.0 461.4,439.9 459.7,440.1 458.1,439.7 457.3,438.8 456.6,438.1 455.5,437.7 453.8,437.3 452.7,436.6 452.7,435.7 454.4,435.0 455.7,434.5 456.1,434.0 455.9,432.9 456.5,432.0 458.0,431.5 459.7,431.3 461.3,431.8 462.5,432.4 463.5,433.0 464.7,433.2 465.5,433.7 466.5,434.3 467.9,434.9" fill="none" stroke="#6e3f9c" stroke-width="0.5" stroke-opacity="0.85" stroke-linejoin="round"/>
<polygon points="465.4,436.0 466.7,436.7 466.7,437.4 465.8,437.9 464.3,438.0 462.9,437.9 462.0,437.8 461.3,438.1 460.4,438.7 459.1,439.0 458.0,438.7 457.4,438.1 457.1,437.5 457.1,436.9 456.6,436.5 456.2,436.0 455.2,435.4 455.7,434.8 456.6,434.3 457.8,434.2 459.0,434.3 459.8,434.1 460.4,433.5 461.5,432.9 462.9,432.8 464.1,433.0 464.4,433.9 464.1,434.8 464.2,435.2 464.5,435.6" fill="none" stroke="#6e3f9c" stroke-width="0.5" stroke-opacity="0.85" stroke-linejoin="round"/>
<rect x="307.70" y="465.30" width="43.80" height="40.50" fill="none" stroke="#c8c8c8" stroke-width="0.5" />
<line x1="307.70" y1="466.30" x2="307.70" y2="505.80" stroke="#222" stroke-width="0.9" />
<line x1="307.70" y1="505.80" x2="351.50" y2="505.80" stroke="#222" stroke-width="0.9" />
<line x1="306.50" y1="469.96" x2="307.70" y2="469.96" stroke="#000" stroke-width="0.8" />
<text x="305.90" y="470.96" font-size="3.0" text-anchor="end" fill="#333" >10⁶</text>
<line x1="306.50" y1="479.68" x2="307.70" y2="479.68" stroke="#000" stroke-width="0.8" />
<text x="305.90" y="480.68" font-size="3.0" text-anchor="end" fill="#333" >10⁵</text>
<line x1="306.50" y1="489.40" x2="307.70" y2="489.40" stroke="#000" stroke-width="0.8" />
<text x="305.90" y="490.40" font-size="3.0" text-anchor="end" fill="#333" >10⁴</text>
<line x1="306.50" y1="499.73" x2="307.70" y2="499.73" stroke="#000" stroke-width="0.8" />
<text x="305.90" y="500.73" font-size="3.0" text-anchor="end" fill="#333" >10³</text>
<line x1="316.46" y1="505.80" x2="316.46" y2="506.70" stroke="#000" stroke-width="0.5" />
<text x="316.46" y="511.00" font-size="3.2" text-anchor="middle" fill="#333" >50</text>
<line x1="324.34" y1="505.80" x2="324.34" y2="506.70" stroke="#000" stroke-width="0.5" />
<text x="324.34" y="511.00" font-size="3.2" text-anchor="middle" fill="#333" >100</text>
<line x1="332.23" y1="505.80" x2="332.23" y2="506.70" stroke="#000" stroke-width="0.5" />
<text x="332.23" y="511.00" font-size="3.2" text-anchor="middle" fill="#333" >150</text>
<line x1="340.11" y1="505.80" x2="340.11" y2="506.70" stroke="#000" stroke-width="0.5" />
<text x="340.11" y="511.00" font-size="3.2" text-anchor="middle" fill="#333" >200</text>
<line x1="348.00" y1="505.80" x2="348.00" y2="506.70" stroke="#000" stroke-width="0.5" />
<text x="348.00" y="511.00" font-size="3.2" text-anchor="middle" fill="#333" >250</text>
<line x1="307.70" y1="505.80" x2="307.70" y2="506.40" stroke="#000" stroke-width="0.3" />
<line x1="309.79" y1="505.80" x2="309.79" y2="506.40" stroke="#000" stroke-width="0.3" />
<line x1="311.87" y1="505.80" x2="311.87" y2="506.40" stroke="#000" stroke-width="0.3" />
<line x1="313.96" y1="505.80" x2="313.96" y2="506.40" stroke="#000" stroke-width="0.3" />
<line x1="316.04" y1="505.80" x2="316.04" y2="506.40" stroke="#000" stroke-width="0.3" />
<line x1="318.13" y1="505.80" x2="318.13" y2="506.40" stroke="#000" stroke-width="0.3" />
<line x1="320.21" y1="505.80" x2="320.21" y2="506.40" stroke="#000" stroke-width="0.3" />
<line x1="322.30" y1="505.80" x2="322.30" y2="506.40" stroke="#000" stroke-width="0.3" />
<line x1="324.39" y1="505.80" x2="324.39" y2="506.40" stroke="#000" stroke-width="0.3" />
<line x1="326.47" y1="505.80" x2="326.47" y2="506.40" stroke="#000" stroke-width="0.3" />
<line x1="328.56" y1="505.80" x2="328.56" y2="506.40" stroke="#000" stroke-width="0.3" />
<line x1="330.64" y1="505.80" x2="330.64" y2="506.40" stroke="#000" stroke-width="0.3" />
<line x1="332.73" y1="505.80" x2="332.73" y2="506.40" stroke="#000" stroke-width="0.3" />
<line x1="334.81" y1="505.80" x2="334.81" y2="506.40" stroke="#000" stroke-width="0.3" />
<line x1="336.90" y1="505.80" x2="336.90" y2="506.40" stroke="#000" stroke-width="0.3" />
<line x1="338.99" y1="505.80" x2="338.99" y2="506.40" stroke="#000" stroke-width="0.3" />
<line x1="341.07" y1="505.80" x2="341.07" y2="506.40" stroke="#000" stroke-width="0.3" />
<line x1="343.16" y1="505.80" x2="343.16" y2="506.40" stroke="#000" stroke-width="0.3" />
<line x1="345.24" y1="505.80" x2="345.24" y2="506.40" stroke="#000" stroke-width="0.3" />
<line x1="347.33" y1="505.80" x2="347.33" y2="506.40" stroke="#000" stroke-width="0.3" />
<line x1="349.41" y1="505.80" x2="349.41" y2="506.40" stroke="#000" stroke-width="0.3" />
<line x1="351.50" y1="505.80" x2="351.50" y2="506.40" stroke="#000" stroke-width="0.3" />
<text x="351.00" y="514.30" font-size="2.9" text-anchor="end" fill="#333" >(x 1,000)</text>
<text x="332.60" y="521.60" font-size="4.6" text-anchor="middle" fill="#222" font-weight="bold" textLength="33" lengthAdjust="spacingAndGlyphs" >Hoechst blue (355)-A</text>
<text x="298.30" y="485.55" font-size="4.6" text-anchor="middle" fill="#222" font-weight="bold" textLength="15.5" lengthAdjust="spacingAndGlyphs" transform="rotate(-90 298.30 485.55)" >PI (561)-A</text>
<polygon points="337.1,497.6 337.6,499.1 337.4,500.7 335.7,501.7 333.9,502.5 332.1,503.0 330.2,503.4 328.4,503.4 326.6,503.3 324.7,503.5 323.1,502.9 321.6,502.1 320.6,501.1 319.9,500.0 320.0,498.7 319.7,497.6 320.0,496.5 319.9,495.2 320.0,493.8 320.4,492.1 321.9,490.8 324.2,490.5 326.5,490.6 328.4,491.5 330.0,492.2 331.0,493.5 331.8,494.3 333.2,494.8 334.6,495.4 336.0,496.3" fill="#eee4f6" stroke="none"/>
<polygon points="322.5,474.1 322.0,474.8 322.1,475.5 322.2,476.5 322.2,477.7 321.7,478.6 320.9,478.5 320.2,478.2 319.6,477.7 319.1,477.3 318.4,477.6 317.7,477.5 317.1,477.0 316.7,476.1 316.8,475.0 317.1,474.1 317.5,473.4 317.6,472.8 317.7,471.9 317.7,470.9 318.1,469.8 318.7,469.4 319.5,469.8 320.1,470.4 320.5,471.3 321.1,471.3 321.8,471.1 322.8,471.2 323.2,472.1 323.1,473.2" fill="#eee4f6" stroke="none"/>
<path d="M321.6 498.3h.4M326.8 504.4h.4M329.3 502.0h.4M327.7 495.8h.4M323.9 500.8h.4M328.5 496.4h.4M333.0 499.7h.4M325.1 497.7h.4M333.6 492.1h.4M324.4 497.1h.4M330.1 504.2h.4M324.3 494.1h.4M328.0 497.3h.4M322.5 491.4h.4M327.6 496.2h.4M324.6 493.2h.4M324.4 496.2h.4M340.0 495.5h.4M331.5 500.8h.4M321.0 496.8h.4M324.5 500.0h.4M325.8 493.4h.4M320.6 499.0h.4M327.0 494.9h.4M324.2 501.9h.4M319.0 491.9h.4M328.2 497.1h.4M327.1 497.2h.4M318.6 494.8h.4M328.2 500.1h.4M331.6 499.4h.4M326.6 497.6h.4M326.7 494.1h.4M332.7 495.9h.4M322.3 498.4h.4M329.9 494.4h.4M324.0 492.6h.4M328.4 494.9h.4M329.2 499.1h.4M324.6 496.4h.4M331.3 498.4h.4M324.8 495.7h.4M325.8 499.5h.4M338.0 496.7h.4M334.0 497.3h.4M323.5 499.7h.4M321.6 503.0h.4M323.8 497.2h.4M334.2 492.9h.4M328.8 497.8h.4M320.6 497.6h.4M328.2 495.5h.4M331.4 497.3h.4M327.3 491.3h.4M324.6 501.6h.4M328.4 496.4h.4M333.7 498.6h.4M313.8 497.2h.4M331.5 497.1h.4M326.5 496.9h.4M325.4 493.8h.4M324.7 500.4h.4M320.9 498.4h.4M326.1 498.5h.4M327.6 497.9h.4M329.7 494.6h.4M315.2 499.7h.4M334.9 501.1h.4M330.8 495.2h.4M326.2 496.9h.4M325.8 498.1h.4M325.3 488.1h.4M332.3 495.7h.4M329.7 492.7h.4M331.1 497.8h.4M331.0 500.0h.4M325.9 498.4h.4M329.2 497.8h.4M317.3 495.0h.4M319.6 492.0h.4M327.0 500.4h.4M325.1 498.7h.4M323.9 497.4h.4M335.8 500.5h.4M326.5 501.7h.4M325.0 498.0h.4M336.7 499.5h.4M334.0 494.5h.4M323.3 498.2h.4M330.0 501.4h.4M328.1 502.7h.4M339.0 497.2h.4M326.7 500.4h.4M338.1 499.8h.4M336.2 496.3h.4M325.5 492.8h.4M330.5 496.2h.4M314.8 498.1h.4M322.6 495.6h.4M327.9 500.5h.4M331.1 493.9h.4M324.2 490.9h.4M325.8 493.2h.4M335.1 500.0h.4M326.9 500.0h.4M332.6 498.6h.4M324.8 496.4h.4M331.1 500.2h.4M322.8 497.4h.4M331.2 495.5h.4M326.6 504.2h.4M327.4 494.6h.4M323.3 500.8h.4M336.9 500.8h.4M327.6 500.1h.4M325.5 493.7h.4M324.8 496.0h.4M319.4 489.9h.4M327.7 497.6h.4M328.8 499.7h.4M321.1 495.5h.4M322.5 498.0h.4M331.1 500.3h.4M327.7 503.0h.4M329.3 497.5h.4M336.1 492.5h.4M325.6 498.3h.4M324.3 500.0h.4M324.1 487.8h.4M330.1 497.1h.4M327.3 501.5h.4M326.4 503.0h.4M326.0 497.3h.4M327.0 501.6h.4M318.9 500.6h.4M328.5 498.5h.4M323.9 499.1h.4M336.4 504.6h.4M325.9 496.7h.4M326.5 495.9h.4M329.9 496.8h.4M325.8 498.7h.4M326.9 499.7h.4M324.0 489.0h.4M329.6 499.5h.4M329.9 493.6h.4M328.9 495.0h.4M331.7 499.4h.4M324.2 498.6h.4M320.7 493.3h.4M319.2 495.4h.4M325.7 490.4h.4M325.3 494.7h.4M334.4 492.5h.4M333.5 491.1h.4M337.1 497.9h.4M329.2 494.9h.4M331.1 503.3h.4M330.1 494.8h.4M329.4 498.3h.4M324.1 502.8h.4M327.0 496.0h.4M333.2 500.0h.4M320.5 499.0h.4M327.3 497.4h.4M323.7 494.7h.4M323.2 496.9h.4M328.8 494.4h.4M319.2 498.3h.4M324.1 498.7h.4M323.7 497.5h.4M318.6 498.2h.4M331.2 494.7h.4M320.1 496.8h.4M322.9 496.6h.4M325.1 498.6h.4M334.5 500.9h.4M327.6 498.5h.4M329.3 497.4h.4M328.7 498.9h.4M319.9 498.4h.4M326.2 504.0h.4M327.5 493.7h.4M327.7 499.5h.4M329.1 496.1h.4M330.7 495.9h.4M331.1 497.0h.4M326.2 496.6h.4M322.3 503.1h.4M335.3 493.1h.4M338.1 493.6h.4M324.5 494.0h.4M329.7 502.4h.4M327.6 493.1h.4M328.9 502.5h.4M322.8 494.8h.4M329.8 503.3h.4M327.4 498.6h.4M323.7 493.3h.4M330.9 497.2h.4M320.6 503.4h.4M318.1 493.2h.4M329.5 492.9h.4M326.9 502.0h.4M327.3 497.6h.4M320.5 491.0h.4M325.1 493.7h.4M322.6 494.4h.4M329.7 496.3h.4M334.7 500.8h.4M319.8 498.6h.4M333.3 495.1h.4M328.7 497.3h.4M324.5 496.6h.4M330.7 494.1h.4M326.6 493.8h.4M329.3 500.1h.4M319.2 495.3h.4M335.2 495.1h.4M328.7 490.7h.4M321.9 501.2h.4M328.8 500.8h.4M328.3 495.1h.4M327.6 500.9h.4M330.8 497.8h.4M330.5 500.8h.4M328.5 504.4h.4M318.3 495.8h.4M324.5 502.2h.4M338.1 497.3h.4M319.5 499.5h.4M324.4 496.2h.4M329.6 495.5h.4M324.4 497.8h.4M319.0 471.0h.4M320.9 474.1h.4M320.0 475.4h.4M322.6 475.8h.4M319.2 476.0h.4M318.0 474.4h.4M319.9 474.3h.4M320.8 471.4h.4M320.8 473.9h.4M319.3 474.0h.4M319.4 473.3h.4M321.7 475.4h.4M321.8 472.3h.4M320.2 470.9h.4M318.2 470.4h.4M320.9 474.8h.4M320.0 475.1h.4M320.0 474.2h.4M320.9 474.1h.4M318.0 474.4h.4M318.1 473.0h.4M319.6 475.5h.4M319.8 474.1h.4M318.7 470.2h.4M320.1 474.8h.4M317.8 477.8h.4M319.9 475.8h.4M318.2 470.2h.4M319.4 480.8h.4M321.5 474.7h.4M316.4 476.1h.4M321.7 474.2h.4M319.6 471.2h.4M322.0 477.8h.4M320.6 475.9h.4M323.1 472.2h.4M319.0 472.0h.4M319.1 476.6h.4M320.0 474.9h.4M321.5 476.2h.4M316.0 471.8h.4M320.7 472.6h.4M321.8 476.3h.4M319.8 472.9h.4M323.0 480.0h.4M318.8 472.6h.4M319.5 473.7h.4M319.3 479.9h.4M316.9 475.8h.4M319.6 471.0h.4M326.2 474.2h.4M324.6 473.7h.4M327.0 473.4h.4M325.5 473.9h.4M325.8 472.7h.4M324.2 473.4h.4M327.4 472.4h.4M330.4 474.2h.4M327.2 473.3h.4M325.0 473.6h.4M329.0 473.3h.4M328.7 474.4h.4M329.5 475.2h.4M331.5 476.4h.4M329.9 473.6h.4M328.7 473.4h.4M327.1 474.0h.4M325.5 472.3h.4M326.3 475.0h.4M325.1 472.8h.4M326.4 480.3h.4M321.4 475.9h.4M320.3 488.9h.4M327.1 484.7h.4M320.3 492.4h.4M327.6 485.5h.4M324.9 483.3h.4M326.0 491.5h.4M323.3 490.6h.4M320.8 477.2h.4M320.7 480.7h.4M331.2 486.1h.4M324.2 482.9h.4M322.4 485.8h.4M328.8 486.9h.4M319.6 476.9h.4M323.1 486.8h.4M323.3 491.3h.4M331.8 492.6h.4M321.9 496.7h.4M321.2 494.6h.4M321.5 486.9h.4M323.0 480.5h.4M318.5 494.0h.4M317.8 483.2h.4M326.7 475.7h.4M330.6 475.7h.4M328.1 488.5h.4M320.8 480.2h.4M326.1 492.1h.4M328.0 484.7h.4M323.6 494.5h.4M324.7 477.2h.4M329.7 475.7h.4M319.2 491.4h.4M326.7 482.9h.4M329.9 489.5h.4M325.1 482.1h.4M323.6 478.3h.4M324.4 486.6h.4M329.2 493.1h.4M329.0 493.9h.4M325.7 489.0h.4M325.7 481.5h.4M319.6 488.9h.4M326.0 485.8h.4M320.6 484.9h.4M319.4 494.1h.4M326.9 489.1h.4M314.9 483.6h.4M324.4 478.7h.4M332.3 484.9h.4M326.7 474.8h.4M325.6 481.8h.4M320.7 485.6h.4M324.0 487.9h.4M326.4 486.1h.4M330.3 491.6h.4M326.6 477.8h.4M321.8 481.7h.4M336.6 499.9h.4M326.8 480.3h.4M322.9 480.4h.4M329.6 491.9h.4M322.4 473.7h.4M320.1 470.5h.4M333.5 481.5h.4M330.3 485.3h.4M331.2 480.6h.4M317.6 485.6h.4M319.7 486.5h.4M322.7 488.1h.4M334.9 497.5h.4M327.0 499.2h.4M319.4 493.5h.4M323.1 474.6h.4M335.6 481.1h.4M323.9 481.5h.4M317.2 495.0h.4M316.7 478.3h.4M324.2 498.7h.4M326.9 493.1h.4M320.5 485.6h.4M328.7 494.3h.4M335.8 489.3h.4M320.8 497.5h.4M325.7 473.6h.4M313.3 486.8h.4M323.6 485.9h.4M324.6 477.3h.4M329.9 471.2h.4M321.9 475.3h.4M325.7 497.9h.4M336.8 498.0h.4M326.6 488.4h.4M325.1 478.4h.4M333.3 472.7h.4M320.6 485.5h.4M329.3 483.9h.4M322.8 498.0h.4M335.3 493.4h.4M318.0 477.4h.4M328.7 486.4h.4M328.0 482.2h.4M324.4 488.0h.4M319.3 483.6h.4M321.7 479.7h.4M331.1 496.2h.4M331.7 496.4h.4M325.8 469.2h.4M317.1 488.4h.4M324.0 498.8h.4M330.0 479.0h.4M317.4 488.0h.4M331.2 480.7h.4M331.5 493.1h.4M323.5 472.2h.4M332.2 467.7h.4M324.6 487.3h.4M334.4 486.1h.4M319.9 501.4h.4M332.1 474.5h.4M330.7 485.9h.4M330.5 485.4h.4M331.5 487.9h.4M319.5 486.3h.4M328.9 481.4h.4M321.7 482.5h.4M321.3 480.6h.4M325.8 480.2h.4M325.4 494.9h.4M338.9 494.3h.4M314.2 477.2h.4M320.0 468.2h.4M322.3 471.4h.4M320.9 482.5h.4M320.1 476.6h.4M320.7 494.8h.4M323.1 472.4h.4M323.0 487.1h.4M323.0 483.4h.4M331.0 483.6h.4M326.4 474.3h.4M322.6 495.1h.4M322.3 474.4h.4M331.6 488.1h.4M317.1 500.5h.4M326.5 479.2h.4M334.7 484.5h.4M317.1 492.7h.4M328.9 496.1h.4M323.7 495.7h.4M327.4 481.9h.4M340.4 491.4h.4M330.5 483.1h.4M330.6 492.3h.4M328.9 476.7h.4M329.1 472.2h.4M333.2 485.1h.4M321.5 487.4h.4M333.6 495.9h.4M328.5 467.3h.4M323.7 481.2h.4M338.4 480.7h.4M333.8 485.6h.4M328.8 481.0h.4M326.3 470.5h.4M337.7 472.3h.4" stroke="#b592d4" stroke-width="0.55" stroke-linecap="round" opacity="0.55" fill="none"/>
<polygon points="337.1,497.6 337.6,499.1 337.4,500.7 335.7,501.7 333.9,502.5 332.1,503.0 330.2,503.4 328.4,503.4 326.6,503.3 324.7,503.5 323.1,502.9 321.6,502.1 320.6,501.1 319.9,500.0 320.0,498.7 319.7,497.6 320.0,496.5 319.9,495.2 320.0,493.8 320.4,492.1 321.9,490.8 324.2,490.5 326.5,490.6 328.4,491.5 330.0,492.2 331.0,493.5 331.8,494.3 333.2,494.8 334.6,495.4 336.0,496.3" fill="none" stroke="#6e3f9c" stroke-width="0.5" stroke-opacity="0.85" stroke-linejoin="round"/>
<polygon points="333.3,497.7 333.4,498.7 332.5,499.5 331.5,500.1 331.3,501.3 330.4,502.1 329.3,503.2 327.6,503.1 326.0,502.8 324.6,502.3 323.3,502.0 321.5,501.8 320.4,500.9 319.8,499.9 320.7,498.6 321.3,497.7 321.5,497.0 321.5,496.1 321.3,495.0 322.4,494.4 323.6,493.9 324.8,493.4 326.0,492.4 327.7,491.9 329.5,491.9 330.8,492.9 331.4,494.2 331.6,495.3 331.7,496.2 332.5,496.9" fill="none" stroke="#6e3f9c" stroke-width="0.5" stroke-opacity="0.85" stroke-linejoin="round"/>
<polygon points="333.4,498.0 333.0,498.8 332.3,499.5 331.5,500.1 330.5,500.4 329.8,500.8 328.8,501.0 327.8,500.7 327.0,500.6 326.1,500.7 324.9,501.0 323.6,500.9 322.5,500.5 321.8,499.7 322.2,498.8 322.4,498.0 322.9,497.3 322.9,496.6 323.4,496.0 324.3,495.6 325.1,495.2 326.0,495.0 326.8,494.5 327.9,494.3 329.0,494.6 329.8,495.0 330.3,495.8 331.0,496.2 331.8,496.6 332.7,497.2" fill="none" stroke="#6e3f9c" stroke-width="0.5" stroke-opacity="0.85" stroke-linejoin="round"/>
<polygon points="328.5,496.8 328.3,497.1 328.1,497.4 328.3,497.9 328.2,498.4 327.8,498.9 327.1,499.1 326.4,499.0 325.8,498.7 325.2,498.6 324.7,498.4 324.0,498.4 323.6,498.0 323.1,497.7 323.2,497.2 323.4,496.8 323.6,496.4 323.6,496.0 323.7,495.6 323.9,495.1 324.5,494.9 325.2,494.9 325.8,494.9 326.3,495.1 326.9,494.9 327.5,495.0 328.4,495.0 328.9,495.3 329.1,495.9 328.8,496.4" fill="none" stroke="#6e3f9c" stroke-width="0.5" stroke-opacity="0.85" stroke-linejoin="round"/>
<polygon points="322.5,474.1 322.0,474.8 322.1,475.5 322.2,476.5 322.2,477.7 321.7,478.6 320.9,478.5 320.2,478.2 319.6,477.7 319.1,477.3 318.4,477.6 317.7,477.5 317.1,477.0 316.7,476.1 316.8,475.0 317.1,474.1 317.5,473.4 317.6,472.8 317.7,471.9 317.7,470.9 318.1,469.8 318.7,469.4 319.5,469.8 320.1,470.4 320.5,471.3 321.1,471.3 321.8,471.1 322.8,471.2 323.2,472.1 323.1,473.2" fill="none" stroke="#6e3f9c" stroke-width="0.5" stroke-opacity="0.85" stroke-linejoin="round"/>
<polygon points="322.4,475.0 322.5,475.9 322.0,476.6 321.3,476.9 320.8,477.1 320.5,477.5 320.2,478.1 319.7,478.7 319.2,478.5 318.8,478.0 318.6,477.2 318.4,476.7 318.0,476.5 317.4,476.3 316.8,475.8 316.6,475.0 316.7,474.2 317.2,473.6 317.5,473.1 318.0,472.7 318.4,472.4 318.8,472.2 319.2,471.9 319.7,471.7 320.2,472.0 320.5,472.6 320.7,473.1 320.9,473.6 321.3,473.9 322.0,474.3" fill="none" stroke="#6e3f9c" stroke-width="0.5" stroke-opacity="0.85" stroke-linejoin="round"/>
<rect x="375.20" y="465.30" width="43.80" height="40.50" fill="none" stroke="#c8c8c8" stroke-width="0.5" />
<line x1="375.20" y1="466.30" x2="375.20" y2="505.80" stroke="#222" stroke-width="0.9" />
<line x1="375.20" y1="505.80" x2="419.00" y2="505.80" stroke="#222" stroke-width="0.9" />
<line x1="374.00" y1="469.96" x2="375.20" y2="469.96" stroke="#000" stroke-width="0.8" />
<text x="373.40" y="470.96" font-size="3.0" text-anchor="end" fill="#333" >10⁶</text>
<line x1="374.00" y1="479.68" x2="375.20" y2="479.68" stroke="#000" stroke-width="0.8" />
<text x="373.40" y="480.68" font-size="3.0" text-anchor="end" fill="#333" >10⁵</text>
<line x1="374.00" y1="489.40" x2="375.20" y2="489.40" stroke="#000" stroke-width="0.8" />
<text x="373.40" y="490.40" font-size="3.0" text-anchor="end" fill="#333" >10⁴</text>
<line x1="374.00" y1="499.73" x2="375.20" y2="499.73" stroke="#000" stroke-width="0.8" />
<text x="373.40" y="500.73" font-size="3.0" text-anchor="end" fill="#333" >10³</text>
<line x1="383.96" y1="505.80" x2="383.96" y2="506.70" stroke="#000" stroke-width="0.5" />
<text x="383.96" y="511.00" font-size="3.2" text-anchor="middle" fill="#333" >50</text>
<line x1="391.84" y1="505.80" x2="391.84" y2="506.70" stroke="#000" stroke-width="0.5" />
<text x="391.84" y="511.00" font-size="3.2" text-anchor="middle" fill="#333" >100</text>
<line x1="399.73" y1="505.80" x2="399.73" y2="506.70" stroke="#000" stroke-width="0.5" />
<text x="399.73" y="511.00" font-size="3.2" text-anchor="middle" fill="#333" >150</text>
<line x1="407.61" y1="505.80" x2="407.61" y2="506.70" stroke="#000" stroke-width="0.5" />
<text x="407.61" y="511.00" font-size="3.2" text-anchor="middle" fill="#333" >200</text>
<line x1="415.50" y1="505.80" x2="415.50" y2="506.70" stroke="#000" stroke-width="0.5" />
<text x="415.50" y="511.00" font-size="3.2" text-anchor="middle" fill="#333" >250</text>
<line x1="375.20" y1="505.80" x2="375.20" y2="506.40" stroke="#000" stroke-width="0.3" />
<line x1="377.29" y1="505.80" x2="377.29" y2="506.40" stroke="#000" stroke-width="0.3" />
<line x1="379.37" y1="505.80" x2="379.37" y2="506.40" stroke="#000" stroke-width="0.3" />
<line x1="381.46" y1="505.80" x2="381.46" y2="506.40" stroke="#000" stroke-width="0.3" />
<line x1="383.54" y1="505.80" x2="383.54" y2="506.40" stroke="#000" stroke-width="0.3" />
<line x1="385.63" y1="505.80" x2="385.63" y2="506.40" stroke="#000" stroke-width="0.3" />
<line x1="387.71" y1="505.80" x2="387.71" y2="506.40" stroke="#000" stroke-width="0.3" />
<line x1="389.80" y1="505.80" x2="389.80" y2="506.40" stroke="#000" stroke-width="0.3" />
<line x1="391.89" y1="505.80" x2="391.89" y2="506.40" stroke="#000" stroke-width="0.3" />
<line x1="393.97" y1="505.80" x2="393.97" y2="506.40" stroke="#000" stroke-width="0.3" />
<line x1="396.06" y1="505.80" x2="396.06" y2="506.40" stroke="#000" stroke-width="0.3" />
<line x1="398.14" y1="505.80" x2="398.14" y2="506.40" stroke="#000" stroke-width="0.3" />
<line x1="400.23" y1="505.80" x2="400.23" y2="506.40" stroke="#000" stroke-width="0.3" />
<line x1="402.31" y1="505.80" x2="402.31" y2="506.40" stroke="#000" stroke-width="0.3" />
<line x1="404.40" y1="505.80" x2="404.40" y2="506.40" stroke="#000" stroke-width="0.3" />
<line x1="406.49" y1="505.80" x2="406.49" y2="506.40" stroke="#000" stroke-width="0.3" />
<line x1="408.57" y1="505.80" x2="408.57" y2="506.40" stroke="#000" stroke-width="0.3" />
<line x1="410.66" y1="505.80" x2="410.66" y2="506.40" stroke="#000" stroke-width="0.3" />
<line x1="412.74" y1="505.80" x2="412.74" y2="506.40" stroke="#000" stroke-width="0.3" />
<line x1="414.83" y1="505.80" x2="414.83" y2="506.40" stroke="#000" stroke-width="0.3" />
<line x1="416.91" y1="505.80" x2="416.91" y2="506.40" stroke="#000" stroke-width="0.3" />
<line x1="419.00" y1="505.80" x2="419.00" y2="506.40" stroke="#000" stroke-width="0.3" />
<text x="418.50" y="514.30" font-size="2.9" text-anchor="end" fill="#333" >(x 1,000)</text>
<text x="400.10" y="521.60" font-size="4.6" text-anchor="middle" fill="#222" font-weight="bold" textLength="33" lengthAdjust="spacingAndGlyphs" >Hoechst blue (355)-A</text>
<text x="365.80" y="485.55" font-size="4.6" text-anchor="middle" fill="#222" font-weight="bold" textLength="15.5" lengthAdjust="spacingAndGlyphs" transform="rotate(-90 365.80 485.55)" >PI (561)-A</text>
<polygon points="395.3,473.3 395.4,473.9 395.3,474.6 394.7,475.3 393.7,475.8 392.7,476.3 391.4,476.6 390.0,476.9 388.5,477.0 387.0,476.9 386.1,476.1 385.3,475.5 384.4,475.1 383.0,474.7 382.4,474.0 381.8,473.3 382.9,472.6 383.5,471.9 384.5,471.4 384.8,470.7 385.5,469.9 387.0,469.6 388.6,470.0 389.9,470.3 391.0,470.6 392.5,470.4 394.0,470.6 395.5,470.9 396.3,471.6 396.1,472.5" fill="#eee4f6" stroke="none"/>
<polygon points="395.7,484.6 396.1,486.1 396.9,488.3 396.9,490.6 395.8,491.8 394.3,491.6 393.1,491.5 392.2,492.3 391.1,493.8 389.7,494.3 388.7,492.8 388.3,490.6 388.5,488.3 387.9,487.3 387.0,486.2 386.1,484.6 386.1,482.8 387.2,481.5 388.1,480.5 388.4,478.8 388.6,476.2 389.5,474.1 391.0,474.1 392.2,476.5 393.0,478.4 393.7,479.2 395.1,478.7 396.1,479.6 396.8,481.1 396.4,483.1" fill="#eee4f6" stroke="none"/>
<polygon points="397.8,495.9 397.9,497.3 398.5,499.0 398.1,500.7 396.7,501.8 395.0,502.5 393.1,501.9 391.6,501.2 390.4,500.7 389.2,500.9 387.6,501.4 385.5,501.6 383.5,500.9 382.7,499.3 383.1,497.5 383.3,495.9 383.9,494.5 384.5,493.3 385.0,491.9 386.1,491.0 387.2,489.9 388.8,489.8 390.2,489.4 391.6,489.8 393.2,489.6 394.7,489.9 396.4,490.4 397.3,491.7 397.6,493.2 397.8,494.6" fill="#eee4f6" stroke="none"/>
<path d="M387.7 475.3h.4M392.5 472.6h.4M383.3 474.5h.4M387.9 474.6h.4M386.0 474.5h.4M392.1 478.2h.4M395.4 474.2h.4M394.0 472.1h.4M393.0 473.7h.4M393.6 474.1h.4M387.4 472.0h.4M393.3 473.5h.4M391.1 474.4h.4M380.3 474.6h.4M386.9 474.2h.4M390.2 469.8h.4M387.1 473.3h.4M389.9 475.3h.4M385.7 472.9h.4M390.8 469.7h.4M395.6 471.5h.4M393.5 473.7h.4M395.7 475.5h.4M388.2 470.0h.4M388.9 474.1h.4M390.5 470.9h.4M385.1 471.8h.4M389.4 471.7h.4M387.9 475.3h.4M386.7 476.1h.4M389.5 472.9h.4M392.6 474.4h.4M387.2 472.2h.4M388.2 474.1h.4M392.8 473.9h.4M385.9 470.7h.4M389.3 474.2h.4M392.8 472.3h.4M383.3 475.1h.4M387.7 471.0h.4M394.9 475.2h.4M388.6 474.0h.4M385.4 475.4h.4M386.7 472.5h.4M387.2 471.1h.4M392.4 476.8h.4M391.3 469.3h.4M387.2 472.1h.4M389.8 469.1h.4M379.9 472.5h.4M392.2 473.0h.4M397.0 471.7h.4M388.5 473.1h.4M385.1 475.6h.4M383.2 471.3h.4M386.9 472.4h.4M392.8 472.3h.4M390.3 472.5h.4M393.4 473.4h.4M389.4 470.1h.4M391.1 472.1h.4M391.8 474.4h.4M390.5 475.7h.4M389.8 471.6h.4M389.0 473.7h.4M383.7 474.6h.4M394.1 473.9h.4M388.8 474.3h.4M392.7 472.3h.4M392.1 471.9h.4M390.4 474.4h.4M383.3 474.7h.4M389.2 470.1h.4M386.6 472.1h.4M384.9 474.2h.4M385.2 473.5h.4M384.1 472.9h.4M395.5 474.2h.4M382.3 471.5h.4M387.8 470.1h.4M392.2 473.3h.4M388.1 473.5h.4M385.7 471.1h.4M389.3 474.8h.4M387.6 469.7h.4M387.0 473.5h.4M383.3 476.2h.4M384.0 473.4h.4M384.1 475.2h.4M387.1 481.2h.4M394.4 479.5h.4M389.3 488.2h.4M392.1 477.1h.4M392.8 484.1h.4M394.7 477.2h.4M393.3 487.5h.4M389.8 483.5h.4M392.1 482.2h.4M389.9 481.8h.4M391.4 488.8h.4M386.1 485.7h.4M391.9 492.8h.4M388.7 491.6h.4M389.6 487.9h.4M391.6 486.8h.4M389.9 480.8h.4M395.5 492.6h.4M390.6 484.7h.4M390.3 479.1h.4M387.6 487.5h.4M393.9 484.4h.4M388.1 480.3h.4M389.1 488.9h.4M391.1 478.6h.4M387.4 487.1h.4M391.9 494.0h.4M395.3 486.4h.4M388.9 486.5h.4M387.5 482.2h.4M394.0 488.5h.4M393.8 493.0h.4M389.7 489.4h.4M391.2 487.0h.4M391.6 488.1h.4M386.7 478.9h.4M391.2 487.9h.4M389.5 485.0h.4M386.7 490.2h.4M392.3 492.8h.4M389.7 485.1h.4M391.2 492.1h.4M392.7 487.4h.4M386.0 481.4h.4M386.5 484.6h.4M393.6 485.8h.4M388.2 495.3h.4M387.6 492.2h.4M394.5 486.8h.4M395.1 480.3h.4M389.3 484.1h.4M392.1 484.7h.4M396.1 483.7h.4M390.3 479.7h.4M392.4 489.4h.4M388.7 479.5h.4M386.7 491.1h.4M393.4 486.9h.4M393.3 487.9h.4M392.3 477.7h.4M392.5 488.9h.4M394.4 490.2h.4M388.9 486.8h.4M386.7 492.5h.4M386.8 488.9h.4M388.6 481.6h.4M388.2 483.9h.4M392.1 490.9h.4M390.0 489.6h.4M393.6 495.5h.4M389.1 487.0h.4M393.1 486.2h.4M392.9 482.3h.4M389.9 482.5h.4M389.0 481.2h.4M390.6 479.6h.4M389.2 488.3h.4M386.2 480.4h.4M389.7 480.4h.4M387.9 494.6h.4M393.2 495.0h.4M388.6 490.6h.4M386.8 487.5h.4M394.2 494.8h.4M395.7 496.8h.4M383.1 504.5h.4M394.0 500.4h.4M389.4 494.6h.4M391.0 504.1h.4M386.3 492.5h.4M394.0 488.9h.4M398.2 492.2h.4M396.9 496.2h.4M390.3 492.2h.4M398.1 495.8h.4M386.0 499.4h.4M391.2 498.9h.4M390.0 498.3h.4M393.8 496.9h.4M384.7 498.8h.4M397.8 498.6h.4M395.8 500.0h.4M390.5 501.1h.4M390.8 492.8h.4M386.3 501.0h.4M394.9 499.4h.4M389.4 489.6h.4M395.2 496.5h.4M389.2 494.4h.4M389.3 489.4h.4M394.5 499.7h.4M395.6 495.4h.4M386.4 491.4h.4M390.5 503.9h.4M395.8 497.0h.4M393.9 500.1h.4M392.1 497.8h.4M392.7 494.5h.4M386.9 494.6h.4M396.8 490.5h.4M389.9 495.2h.4M392.0 495.1h.4M395.2 495.4h.4M391.8 499.7h.4M385.7 501.2h.4M396.3 491.6h.4M391.4 493.9h.4M390.2 500.0h.4M383.7 500.2h.4M393.7 496.8h.4M401.4 494.9h.4M385.3 498.4h.4M392.4 494.3h.4M382.6 489.3h.4M398.9 490.8h.4M397.8 500.1h.4M382.3 497.6h.4M394.6 501.3h.4M397.6 501.9h.4M391.7 495.9h.4M391.0 499.0h.4M387.8 492.6h.4M401.8 500.7h.4M396.5 495.9h.4M388.1 495.2h.4M388.4 494.4h.4M385.1 499.3h.4M393.3 500.0h.4M392.1 494.0h.4M400.6 500.6h.4M394.3 500.4h.4M390.5 499.8h.4M388.6 500.9h.4M395.9 500.2h.4M393.5 497.4h.4M392.8 499.8h.4M389.9 499.7h.4M395.2 491.8h.4M384.4 498.1h.4M390.3 493.6h.4M386.4 492.4h.4M384.7 495.4h.4M385.1 490.0h.4M391.3 502.9h.4M397.2 496.2h.4M393.5 495.9h.4M391.3 493.8h.4M391.9 492.6h.4M388.6 496.2h.4M388.0 492.4h.4M394.6 499.1h.4M394.7 496.3h.4M385.3 495.4h.4M386.3 496.6h.4M399.3 495.6h.4M392.2 501.2h.4M386.0 499.9h.4M390.3 494.1h.4M390.2 492.9h.4M395.5 497.2h.4M389.8 498.8h.4M385.3 485.8h.4M397.5 494.5h.4M395.0 493.2h.4M383.9 492.4h.4M395.7 498.3h.4M389.0 499.5h.4M390.5 497.5h.4M387.1 487.7h.4M392.1 499.5h.4M387.9 503.1h.4M392.9 503.8h.4M394.6 501.7h.4M390.7 490.9h.4M401.3 502.0h.4M394.7 493.1h.4M395.6 492.6h.4M394.0 500.4h.4M393.9 492.8h.4M394.4 497.5h.4M394.1 501.8h.4M388.9 493.4h.4M382.6 502.8h.4M388.2 501.9h.4M393.3 501.6h.4M392.8 498.7h.4M390.7 498.6h.4M387.2 500.9h.4M384.4 494.7h.4M390.0 497.1h.4M391.2 492.8h.4M392.0 485.9h.4M388.6 496.4h.4M388.6 500.6h.4M391.0 498.6h.4M386.7 500.4h.4M394.8 490.6h.4M397.7 492.0h.4M386.5 500.0h.4M399.2 499.3h.4M390.9 493.8h.4M388.4 497.4h.4M393.1 492.8h.4M393.8 487.9h.4M392.6 493.0h.4M394.2 495.4h.4M386.8 502.3h.4M392.0 493.6h.4M381.3 500.3h.4M394.8 498.6h.4M386.9 489.3h.4M396.5 495.4h.4M394.8 486.4h.4M390.3 499.4h.4M391.4 504.0h.4M395.4 500.8h.4M394.5 495.7h.4M388.1 493.3h.4M397.0 495.9h.4M382.4 497.4h.4M391.9 494.6h.4M393.3 493.0h.4M402.9 494.9h.4M387.3 497.1h.4M392.4 500.1h.4M392.6 499.3h.4M391.7 495.6h.4M387.0 493.7h.4M391.3 491.7h.4M395.0 495.4h.4M396.7 499.8h.4M397.7 494.0h.4M393.5 494.3h.4M387.6 497.3h.4M389.5 500.1h.4M385.5 497.7h.4M397.2 497.7h.4M404.8 502.4h.4M385.8 481.8h.4M389.8 498.3h.4M390.3 466.6h.4M389.3 482.1h.4M392.2 483.5h.4M393.4 477.9h.4M393.0 480.9h.4M390.5 482.4h.4M398.3 487.1h.4M397.1 478.3h.4M382.9 483.3h.4M398.3 484.6h.4M389.9 471.0h.4M395.1 477.6h.4M383.0 488.1h.4M393.6 495.8h.4M385.6 472.6h.4M394.0 498.7h.4M394.3 490.6h.4M384.8 487.4h.4M384.1 468.8h.4M397.5 495.0h.4M388.9 486.4h.4M396.6 483.1h.4M393.5 488.1h.4M388.0 475.3h.4M390.9 481.1h.4M404.8 479.3h.4M388.8 502.0h.4M397.5 491.6h.4M380.3 496.4h.4M391.8 493.9h.4M396.6 501.4h.4M398.4 501.3h.4M389.4 495.0h.4M397.0 480.6h.4M385.0 483.3h.4M388.1 481.3h.4M390.4 479.4h.4M394.1 486.5h.4M387.3 478.4h.4M394.7 480.6h.4M390.5 476.9h.4M382.2 482.9h.4M387.1 484.4h.4M391.5 481.6h.4M398.8 477.8h.4M400.4 488.2h.4M409.6 477.2h.4M389.3 488.7h.4M398.2 482.7h.4M398.2 486.3h.4M384.6 488.0h.4M398.6 488.8h.4M392.8 477.4h.4M397.9 498.1h.4M384.9 490.9h.4M382.4 487.2h.4M377.0 483.7h.4M397.4 472.4h.4M385.2 486.3h.4M391.9 488.0h.4M401.9 474.8h.4M394.9 468.0h.4M376.6 489.7h.4M398.8 489.8h.4M383.4 478.4h.4M382.9 483.5h.4M387.1 495.1h.4M396.0 474.0h.4M402.5 487.3h.4M398.8 485.6h.4M401.4 495.5h.4M398.4 497.9h.4M397.3 488.2h.4M388.9 466.5h.4M401.2 490.9h.4M386.8 493.0h.4M394.6 486.3h.4M405.0 494.5h.4M385.2 486.3h.4M399.8 495.6h.4M396.9 482.1h.4M395.9 468.6h.4M401.5 485.0h.4M390.1 479.1h.4M394.6 478.0h.4M387.5 476.8h.4M404.4 484.5h.4M396.7 488.7h.4M389.8 492.5h.4M392.6 478.8h.4M387.3 482.0h.4M390.6 497.6h.4M377.9 495.6h.4M402.6 499.4h.4M389.2 478.1h.4M401.4 491.6h.4M395.5 477.7h.4M391.8 474.9h.4M403.8 495.0h.4M390.9 495.0h.4M394.5 467.4h.4M397.2 478.8h.4M395.6 481.3h.4M387.4 482.5h.4M400.1 474.9h.4" stroke="#b592d4" stroke-width="0.55" stroke-linecap="round" opacity="0.55" fill="none"/>
<polygon points="395.3,473.3 395.4,473.9 395.3,474.6 394.7,475.3 393.7,475.8 392.7,476.3 391.4,476.6 390.0,476.9 388.5,477.0 387.0,476.9 386.1,476.1 385.3,475.5 384.4,475.1 383.0,474.7 382.4,474.0 381.8,473.3 382.9,472.6 383.5,471.9 384.5,471.4 384.8,470.7 385.5,469.9 387.0,469.6 388.6,470.0 389.9,470.3 391.0,470.6 392.5,470.4 394.0,470.6 395.5,470.9 396.3,471.6 396.1,472.5" fill="none" stroke="#6e3f9c" stroke-width="0.5" stroke-opacity="0.85" stroke-linejoin="round"/>
<polygon points="395.0,474.1 394.1,474.8 392.2,475.1 390.8,475.2 390.9,475.8 391.0,476.9 390.0,477.4 388.4,477.0 387.4,476.0 386.8,475.6 385.9,475.8 383.9,476.3 382.3,476.1 382.3,475.3 383.7,474.5 384.0,474.1 382.9,473.5 381.8,472.7 382.0,471.9 383.5,471.6 385.7,472.2 386.8,472.4 387.4,472.0 388.4,471.2 389.8,470.9 390.6,471.6 390.3,472.7 390.6,473.0 391.8,473.2 394.2,473.4" fill="none" stroke="#6e3f9c" stroke-width="0.5" stroke-opacity="0.85" stroke-linejoin="round"/>
<polygon points="395.7,484.6 396.1,486.1 396.9,488.3 396.9,490.6 395.8,491.8 394.3,491.6 393.1,491.5 392.2,492.3 391.1,493.8 389.7,494.3 388.7,492.8 388.3,490.6 388.5,488.3 387.9,487.3 387.0,486.2 386.1,484.6 386.1,482.8 387.2,481.5 388.1,480.5 388.4,478.8 388.6,476.2 389.5,474.1 391.0,474.1 392.2,476.5 393.0,478.4 393.7,479.2 395.1,478.7 396.1,479.6 396.8,481.1 396.4,483.1" fill="none" stroke="#6e3f9c" stroke-width="0.5" stroke-opacity="0.85" stroke-linejoin="round"/>
<polygon points="397.8,495.9 397.9,497.3 398.5,499.0 398.1,500.7 396.7,501.8 395.0,502.5 393.1,501.9 391.6,501.2 390.4,500.7 389.2,500.9 387.6,501.4 385.5,501.6 383.5,500.9 382.7,499.3 383.1,497.5 383.3,495.9 383.9,494.5 384.5,493.3 385.0,491.9 386.1,491.0 387.2,489.9 388.8,489.8 390.2,489.4 391.6,489.8 393.2,489.6 394.7,489.9 396.4,490.4 397.3,491.7 397.6,493.2 397.8,494.6" fill="none" stroke="#6e3f9c" stroke-width="0.5" stroke-opacity="0.85" stroke-linejoin="round"/>
<polygon points="397.9,496.3 397.5,497.3 397.1,498.2 396.5,499.0 395.9,499.9 395.0,500.5 394.2,501.3 393.0,501.6 391.8,501.8 390.5,501.6 389.3,501.3 388.2,500.6 386.9,500.0 386.2,498.8 386.1,497.5 386.8,496.3 387.6,495.3 387.9,494.4 388.5,493.6 388.8,492.6 389.4,491.5 390.7,491.4 391.9,491.4 393.0,491.3 394.2,491.2 395.6,491.1 397.1,491.4 397.9,492.6 398.1,493.9 397.9,495.2" fill="none" stroke="#6e3f9c" stroke-width="0.5" stroke-opacity="0.85" stroke-linejoin="round"/>
<polygon points="395.6,497.1 395.4,497.9 395.5,498.7 395.2,499.5 394.8,500.4 393.8,500.7 392.8,500.6 392.0,500.4 391.2,500.7 390.3,500.7 389.5,500.5 388.8,499.9 388.6,499.1 388.3,498.5 387.8,497.9 386.9,497.1 387.0,496.2 387.7,495.5 388.5,495.0 389.0,494.4 389.4,493.7 390.2,493.1 391.1,492.7 392.0,493.4 392.7,494.1 393.3,494.4 394.0,494.6 395.1,494.8 395.6,495.5 395.8,496.3" fill="none" stroke="#6e3f9c" stroke-width="0.5" stroke-opacity="0.85" stroke-linejoin="round"/>
<rect x="442.80" y="465.30" width="43.80" height="40.50" fill="none" stroke="#c8c8c8" stroke-width="0.5" />
<line x1="442.80" y1="466.30" x2="442.80" y2="505.80" stroke="#222" stroke-width="0.9" />
<line x1="442.80" y1="505.80" x2="486.60" y2="505.80" stroke="#222" stroke-width="0.9" />
<line x1="441.60" y1="469.96" x2="442.80" y2="469.96" stroke="#000" stroke-width="0.8" />
<text x="441.00" y="470.96" font-size="3.0" text-anchor="end" fill="#333" >10⁶</text>
<line x1="441.60" y1="479.68" x2="442.80" y2="479.68" stroke="#000" stroke-width="0.8" />
<text x="441.00" y="480.68" font-size="3.0" text-anchor="end" fill="#333" >10⁵</text>
<line x1="441.60" y1="489.40" x2="442.80" y2="489.40" stroke="#000" stroke-width="0.8" />
<text x="441.00" y="490.40" font-size="3.0" text-anchor="end" fill="#333" >10⁴</text>
<line x1="441.60" y1="499.73" x2="442.80" y2="499.73" stroke="#000" stroke-width="0.8" />
<text x="441.00" y="500.73" font-size="3.0" text-anchor="end" fill="#333" >10³</text>
<line x1="451.56" y1="505.80" x2="451.56" y2="506.70" stroke="#000" stroke-width="0.5" />
<text x="451.56" y="511.00" font-size="3.2" text-anchor="middle" fill="#333" >50</text>
<line x1="459.44" y1="505.80" x2="459.44" y2="506.70" stroke="#000" stroke-width="0.5" />
<text x="459.44" y="511.00" font-size="3.2" text-anchor="middle" fill="#333" >100</text>
<line x1="467.33" y1="505.80" x2="467.33" y2="506.70" stroke="#000" stroke-width="0.5" />
<text x="467.33" y="511.00" font-size="3.2" text-anchor="middle" fill="#333" >150</text>
<line x1="475.21" y1="505.80" x2="475.21" y2="506.70" stroke="#000" stroke-width="0.5" />
<text x="475.21" y="511.00" font-size="3.2" text-anchor="middle" fill="#333" >200</text>
<line x1="483.10" y1="505.80" x2="483.10" y2="506.70" stroke="#000" stroke-width="0.5" />
<text x="483.10" y="511.00" font-size="3.2" text-anchor="middle" fill="#333" >250</text>
<line x1="442.80" y1="505.80" x2="442.80" y2="506.40" stroke="#000" stroke-width="0.3" />
<line x1="444.89" y1="505.80" x2="444.89" y2="506.40" stroke="#000" stroke-width="0.3" />
<line x1="446.97" y1="505.80" x2="446.97" y2="506.40" stroke="#000" stroke-width="0.3" />
<line x1="449.06" y1="505.80" x2="449.06" y2="506.40" stroke="#000" stroke-width="0.3" />
<line x1="451.14" y1="505.80" x2="451.14" y2="506.40" stroke="#000" stroke-width="0.3" />
<line x1="453.23" y1="505.80" x2="453.23" y2="506.40" stroke="#000" stroke-width="0.3" />
<line x1="455.31" y1="505.80" x2="455.31" y2="506.40" stroke="#000" stroke-width="0.3" />
<line x1="457.40" y1="505.80" x2="457.40" y2="506.40" stroke="#000" stroke-width="0.3" />
<line x1="459.49" y1="505.80" x2="459.49" y2="506.40" stroke="#000" stroke-width="0.3" />
<line x1="461.57" y1="505.80" x2="461.57" y2="506.40" stroke="#000" stroke-width="0.3" />
<line x1="463.66" y1="505.80" x2="463.66" y2="506.40" stroke="#000" stroke-width="0.3" />
<line x1="465.74" y1="505.80" x2="465.74" y2="506.40" stroke="#000" stroke-width="0.3" />
<line x1="467.83" y1="505.80" x2="467.83" y2="506.40" stroke="#000" stroke-width="0.3" />
<line x1="469.91" y1="505.80" x2="469.91" y2="506.40" stroke="#000" stroke-width="0.3" />
<line x1="472.00" y1="505.80" x2="472.00" y2="506.40" stroke="#000" stroke-width="0.3" />
<line x1="474.09" y1="505.80" x2="474.09" y2="506.40" stroke="#000" stroke-width="0.3" />
<line x1="476.17" y1="505.80" x2="476.17" y2="506.40" stroke="#000" stroke-width="0.3" />
<line x1="478.26" y1="505.80" x2="478.26" y2="506.40" stroke="#000" stroke-width="0.3" />
<line x1="480.34" y1="505.80" x2="480.34" y2="506.40" stroke="#000" stroke-width="0.3" />
<line x1="482.43" y1="505.80" x2="482.43" y2="506.40" stroke="#000" stroke-width="0.3" />
<line x1="484.51" y1="505.80" x2="484.51" y2="506.40" stroke="#000" stroke-width="0.3" />
<line x1="486.60" y1="505.80" x2="486.60" y2="506.40" stroke="#000" stroke-width="0.3" />
<text x="486.10" y="514.30" font-size="2.9" text-anchor="end" fill="#333" >(x 1,000)</text>
<text x="467.70" y="521.60" font-size="4.6" text-anchor="middle" fill="#222" font-weight="bold" textLength="33" lengthAdjust="spacingAndGlyphs" >Hoechst blue (355)-A</text>
<text x="433.40" y="485.55" font-size="4.6" text-anchor="middle" fill="#222" font-weight="bold" textLength="15.5" lengthAdjust="spacingAndGlyphs" transform="rotate(-90 433.40 485.55)" >PI (561)-A</text>
<polygon points="458.1,475.5 458.3,476.7 457.9,477.7 457.2,478.3 456.8,478.9 456.1,479.1 455.6,479.4 455.1,479.8 454.5,480.4 453.8,480.5 453.1,480.5 452.5,479.8 452.1,478.7 452.3,477.3 452.4,476.3 452.5,475.5 452.3,474.6 451.9,473.3 452.1,472.2 452.5,471.2 453.2,470.9 454.0,471.1 454.6,471.3 455.2,470.8 455.8,470.7 456.4,471.2 456.7,472.1 457.1,472.9 457.2,473.8 457.8,474.5" fill="#eee4f6" stroke="none"/>
<polygon points="468.3,500.4 468.9,501.4 469.2,502.5 468.0,503.4 466.2,503.8 464.4,503.7 463.1,504.0 461.8,504.1 460.4,504.7 458.5,505.0 456.7,505.0 455.5,504.2 455.8,502.7 456.1,501.8 455.7,501.1 454.1,500.4 452.9,499.3 452.8,498.2 454.1,497.3 456.3,497.1 458.1,497.2 459.5,497.2 460.5,496.3 462.1,495.4 463.8,495.5 465.4,496.0 466.3,497.0 466.6,498.1 467.0,498.8 467.7,499.6" fill="#eee4f6" stroke="none"/>
<path d="M455.7 476.3h.4M457.8 470.3h.4M457.5 478.6h.4M456.4 468.9h.4M455.4 476.6h.4M453.9 475.6h.4M453.6 475.8h.4M455.0 478.5h.4M457.8 471.4h.4M453.2 475.1h.4M453.9 474.3h.4M455.9 470.4h.4M452.8 473.6h.4M454.6 476.7h.4M455.9 477.6h.4M454.1 476.1h.4M452.7 477.6h.4M454.9 476.1h.4M452.8 469.4h.4M452.6 476.0h.4M453.1 476.5h.4M455.8 472.2h.4M455.3 478.8h.4M455.4 474.1h.4M456.2 470.7h.4M456.6 476.4h.4M455.0 472.5h.4M456.7 478.0h.4M456.3 478.9h.4M452.4 473.7h.4M455.6 479.4h.4M454.5 471.5h.4M454.0 469.8h.4M453.7 471.9h.4M455.2 471.8h.4M454.8 472.7h.4M454.7 478.7h.4M454.4 476.9h.4M458.5 476.5h.4M453.6 473.3h.4M451.5 475.9h.4M455.5 474.5h.4M454.6 472.0h.4M451.4 479.8h.4M456.1 477.4h.4M452.1 474.5h.4M457.1 477.9h.4M450.7 474.3h.4M454.0 475.4h.4M451.7 474.5h.4M462.4 469.4h.4M463.5 469.3h.4M458.2 469.4h.4M455.8 468.8h.4M460.2 469.7h.4M463.0 470.2h.4M458.6 468.5h.4M458.6 468.7h.4M457.5 470.3h.4M457.3 470.4h.4M460.1 468.5h.4M457.8 469.0h.4M464.6 469.4h.4M463.8 469.2h.4M468.6 468.9h.4M460.5 469.1h.4M466.0 468.1h.4M459.9 470.1h.4M458.2 469.0h.4M459.8 468.8h.4M456.9 487.2h.4M458.1 486.6h.4M458.1 488.5h.4M457.3 484.7h.4M456.8 480.2h.4M457.1 486.7h.4M456.7 486.1h.4M458.1 490.5h.4M458.9 477.5h.4M457.7 485.5h.4M456.7 486.5h.4M456.8 487.7h.4M457.3 487.8h.4M457.8 485.4h.4M456.1 489.7h.4M456.5 485.9h.4M456.6 482.0h.4M457.2 490.7h.4M455.0 479.7h.4M457.8 490.5h.4M458.2 494.6h.4M457.5 475.5h.4M456.0 495.9h.4M458.0 473.0h.4M456.1 487.6h.4M456.7 485.3h.4M457.6 495.2h.4M457.5 486.0h.4M456.2 485.9h.4M457.5 494.1h.4M459.4 481.2h.4M457.6 489.7h.4M458.6 480.0h.4M456.3 479.4h.4M458.6 493.6h.4M457.6 488.0h.4M457.6 469.6h.4M458.4 480.8h.4M455.6 501.2h.4M456.3 479.6h.4M458.7 497.1h.4M462.2 503.8h.4M463.8 501.8h.4M462.3 500.9h.4M456.7 494.9h.4M454.0 497.6h.4M460.6 501.4h.4M469.2 503.3h.4M461.1 499.6h.4M457.2 497.4h.4M461.2 497.4h.4M457.9 496.2h.4M461.5 498.5h.4M460.9 502.4h.4M467.5 502.4h.4M453.8 501.8h.4M457.0 500.0h.4M464.7 499.8h.4M462.7 500.4h.4M460.7 499.5h.4M466.2 499.1h.4M458.1 501.7h.4M456.1 499.8h.4M458.0 498.6h.4M462.6 503.6h.4M467.8 501.6h.4M463.0 497.8h.4M464.5 495.6h.4M459.3 493.5h.4M456.4 504.8h.4M455.7 503.8h.4M460.4 502.5h.4M459.8 502.1h.4M458.6 499.6h.4M461.9 499.0h.4M463.0 501.8h.4M464.4 503.8h.4M456.7 496.1h.4M455.0 500.9h.4M450.2 502.5h.4M453.7 501.5h.4M463.3 499.8h.4M460.1 502.2h.4M467.0 504.4h.4M457.5 498.3h.4M459.6 502.8h.4M467.8 494.8h.4M458.5 501.2h.4M456.1 500.6h.4M464.8 502.3h.4M470.0 504.4h.4M460.6 497.7h.4M461.5 494.9h.4M465.2 498.3h.4M468.4 498.6h.4M464.5 500.3h.4M459.4 501.6h.4M460.3 500.8h.4M460.9 502.6h.4M468.5 500.9h.4M456.0 501.8h.4M461.0 496.2h.4M454.0 498.1h.4M455.4 499.9h.4M465.1 502.4h.4M465.4 500.8h.4M461.9 501.2h.4M462.9 500.4h.4M459.4 495.6h.4M458.6 499.8h.4M454.5 500.1h.4M463.4 501.0h.4M460.5 502.2h.4M460.5 500.8h.4M457.6 501.5h.4M459.5 503.7h.4M459.6 498.4h.4M462.4 499.7h.4M460.8 501.2h.4M453.4 497.2h.4M465.3 500.1h.4M458.8 498.5h.4M455.3 499.9h.4M451.3 498.9h.4M460.5 501.6h.4M461.8 499.8h.4M452.1 497.3h.4M460.9 496.6h.4M460.9 504.5h.4M452.9 504.2h.4M460.9 501.4h.4M465.0 503.9h.4M460.7 502.3h.4M459.8 499.7h.4M460.3 495.5h.4M461.2 500.9h.4M460.8 500.9h.4M465.0 497.9h.4M466.5 497.3h.4M467.9 502.7h.4M461.6 496.4h.4M459.4 503.1h.4M459.6 499.1h.4M463.1 503.5h.4M457.0 496.4h.4M453.3 496.3h.4M465.3 498.3h.4M456.1 501.9h.4M465.3 496.9h.4M464.2 498.7h.4M467.8 504.0h.4M465.2 499.0h.4M458.0 499.7h.4M459.4 503.2h.4M460.7 498.2h.4M455.2 502.3h.4M462.4 496.2h.4M458.3 500.9h.4M453.4 500.2h.4M453.3 496.3h.4M461.1 503.7h.4M458.1 499.6h.4M459.2 498.5h.4M452.9 499.5h.4M466.3 504.3h.4M456.3 501.5h.4M462.2 502.5h.4M467.5 501.7h.4M459.9 498.3h.4M463.8 499.5h.4M463.1 498.1h.4M464.7 503.8h.4M462.9 501.7h.4M455.7 500.0h.4M470.1 503.1h.4M460.6 500.5h.4M454.5 501.9h.4M458.3 502.1h.4M469.6 501.5h.4M460.6 498.6h.4M454.2 495.2h.4M460.9 504.6h.4M457.4 499.9h.4M459.7 501.2h.4M458.3 497.9h.4M461.8 500.1h.4M455.3 501.4h.4M466.3 499.8h.4M462.1 493.7h.4M459.8 500.1h.4M463.3 499.5h.4M458.8 499.5h.4M471.4 500.8h.4M462.2 500.2h.4M458.3 496.3h.4M467.9 501.4h.4M462.2 498.5h.4M457.5 498.6h.4M468.7 502.1h.4M461.1 501.3h.4M454.6 499.7h.4M469.2 498.0h.4M456.8 484.3h.4M468.1 480.1h.4M456.6 474.4h.4M476.7 472.8h.4M450.4 471.6h.4M465.0 471.8h.4M458.1 494.6h.4M467.3 492.1h.4M467.9 491.9h.4M462.7 485.8h.4M461.0 486.3h.4M460.0 501.3h.4M458.6 478.0h.4M457.7 480.7h.4M452.9 489.2h.4M469.2 484.8h.4M462.8 485.5h.4M470.7 487.4h.4M456.9 480.2h.4M468.4 478.4h.4M456.7 471.3h.4M461.6 466.6h.4M471.7 492.3h.4M452.7 503.0h.4M472.3 467.7h.4M467.8 477.2h.4M454.0 483.8h.4M459.0 490.8h.4M468.8 503.1h.4M465.9 487.5h.4M461.4 488.4h.4M468.5 486.3h.4M452.1 474.7h.4M455.3 486.4h.4M463.7 489.2h.4M455.3 470.1h.4M461.9 485.0h.4M460.9 494.1h.4M461.3 479.4h.4M462.3 486.6h.4M460.3 483.0h.4M448.3 494.0h.4M460.7 490.6h.4M462.7 488.1h.4M458.9 475.2h.4M465.6 480.2h.4M458.6 498.5h.4M460.0 499.4h.4M451.0 483.3h.4M448.7 483.2h.4M462.5 486.0h.4M454.1 501.6h.4M465.9 497.6h.4M463.2 487.2h.4M470.8 492.9h.4M458.2 483.5h.4M456.5 483.9h.4M467.7 478.2h.4M464.5 476.3h.4M450.2 486.6h.4M457.8 471.0h.4M462.6 488.5h.4M465.0 490.4h.4M464.9 493.5h.4M464.5 493.8h.4M467.5 497.9h.4M459.8 486.6h.4M453.5 487.2h.4M461.7 494.8h.4M459.4 486.4h.4M456.3 476.3h.4M467.4 485.2h.4M471.9 504.5h.4M459.7 483.4h.4M471.7 485.9h.4M455.3 493.0h.4M469.8 490.8h.4M463.2 494.2h.4M453.4 485.5h.4M456.1 479.1h.4M458.7 477.9h.4M463.7 492.5h.4M464.6 477.5h.4M463.5 486.9h.4M463.6 498.1h.4M467.1 484.7h.4M468.3 493.2h.4M466.9 494.2h.4M460.6 479.8h.4M474.5 478.7h.4M469.6 481.8h.4M460.0 482.1h.4M456.8 500.3h.4M454.3 490.9h.4M457.8 479.4h.4M459.3 498.7h.4M455.0 484.5h.4M467.9 485.5h.4M463.1 476.8h.4M461.8 476.0h.4M466.3 479.6h.4M468.5 466.3h.4M460.2 495.0h.4M452.7 491.9h.4M464.2 481.5h.4M465.2 489.6h.4M455.3 495.7h.4M463.0 492.0h.4M464.8 481.8h.4" stroke="#b592d4" stroke-width="0.55" stroke-linecap="round" opacity="0.55" fill="none"/>
<polygon points="458.1,475.5 458.3,476.7 457.9,477.7 457.2,478.3 456.8,478.9 456.1,479.1 455.6,479.4 455.1,479.8 454.5,480.4 453.8,480.5 453.1,480.5 452.5,479.8 452.1,478.7 452.3,477.3 452.4,476.3 452.5,475.5 452.3,474.6 451.9,473.3 452.1,472.2 452.5,471.2 453.2,470.9 454.0,471.1 454.6,471.3 455.2,470.8 455.8,470.7 456.4,471.2 456.7,472.1 457.1,472.9 457.2,473.8 457.8,474.5" fill="none" stroke="#6e3f9c" stroke-width="0.5" stroke-opacity="0.85" stroke-linejoin="round"/>
<polygon points="456.8,473.8 456.6,474.5 456.7,475.4 456.4,476.0 456.0,476.6 455.4,476.5 455.0,476.6 454.7,476.9 454.2,477.5 453.7,477.5 453.3,477.0 453.0,476.5 452.7,475.9 452.2,475.4 451.8,474.7 451.8,473.8 452.2,473.0 452.6,472.5 452.8,471.8 452.9,470.9 453.1,470.0 453.7,469.8 454.2,470.2 454.6,471.1 454.9,471.5 455.4,471.2 456.0,471.0 456.7,471.1 457.2,471.8 457.0,472.9" fill="none" stroke="#6e3f9c" stroke-width="0.5" stroke-opacity="0.85" stroke-linejoin="round"/>
<polygon points="468.3,500.4 468.9,501.4 469.2,502.5 468.0,503.4 466.2,503.8 464.4,503.7 463.1,504.0 461.8,504.1 460.4,504.7 458.5,505.0 456.7,505.0 455.5,504.2 455.8,502.7 456.1,501.8 455.7,501.1 454.1,500.4 452.9,499.3 452.8,498.2 454.1,497.3 456.3,497.1 458.1,497.2 459.5,497.2 460.5,496.3 462.1,495.4 463.8,495.5 465.4,496.0 466.3,497.0 466.6,498.1 467.0,498.8 467.7,499.6" fill="none" stroke="#6e3f9c" stroke-width="0.5" stroke-opacity="0.85" stroke-linejoin="round"/>
<polygon points="469.1,499.2 468.7,500.1 467.5,500.8 465.6,501.0 464.6,501.3 463.9,501.8 463.1,502.2 462.0,502.3 460.9,502.4 459.7,502.4 458.3,502.5 456.7,502.3 455.8,501.6 456.2,500.6 456.6,499.8 456.6,499.2 456.3,498.6 455.6,497.6 455.9,496.8 457.3,496.4 458.7,496.4 459.8,496.2 460.8,495.8 462.1,495.5 463.4,495.6 464.2,496.3 464.6,497.1 464.8,497.7 466.1,498.0 468.0,498.4" fill="none" stroke="#6e3f9c" stroke-width="0.5" stroke-opacity="0.85" stroke-linejoin="round"/>
<polygon points="465.5,500.8 465.0,501.3 464.6,501.7 463.9,502.0 463.7,502.5 463.3,503.0 462.5,503.2 461.7,503.3 460.8,503.2 460.0,503.1 459.3,502.9 458.4,502.7 457.7,502.4 457.4,501.9 457.1,501.4 456.9,500.8 456.6,500.2 457.0,499.7 457.7,499.3 458.7,499.1 459.6,499.1 460.3,499.0 460.9,498.8 461.6,498.7 462.5,498.5 463.5,498.5 464.4,498.7 465.1,499.1 465.5,499.7 465.8,500.3" fill="none" stroke="#6e3f9c" stroke-width="0.5" stroke-opacity="0.85" stroke-linejoin="round"/>
<rect x="307.70" y="529.40" width="43.80" height="40.50" fill="none" stroke="#c8c8c8" stroke-width="0.5" />
<line x1="307.70" y1="530.40" x2="307.70" y2="569.90" stroke="#222" stroke-width="0.9" />
<line x1="307.70" y1="569.90" x2="351.50" y2="569.90" stroke="#222" stroke-width="0.9" />
<line x1="306.50" y1="534.06" x2="307.70" y2="534.06" stroke="#000" stroke-width="0.8" />
<text x="305.90" y="535.06" font-size="3.0" text-anchor="end" fill="#333" >10⁶</text>
<line x1="306.50" y1="543.78" x2="307.70" y2="543.78" stroke="#000" stroke-width="0.8" />
<text x="305.90" y="544.78" font-size="3.0" text-anchor="end" fill="#333" >10⁵</text>
<line x1="306.50" y1="553.50" x2="307.70" y2="553.50" stroke="#000" stroke-width="0.8" />
<text x="305.90" y="554.50" font-size="3.0" text-anchor="end" fill="#333" >10⁴</text>
<line x1="306.50" y1="563.82" x2="307.70" y2="563.82" stroke="#000" stroke-width="0.8" />
<text x="305.90" y="564.82" font-size="3.0" text-anchor="end" fill="#333" >10³</text>
<line x1="316.46" y1="569.90" x2="316.46" y2="570.80" stroke="#000" stroke-width="0.5" />
<text x="316.46" y="575.10" font-size="3.2" text-anchor="middle" fill="#333" >50</text>
<line x1="324.34" y1="569.90" x2="324.34" y2="570.80" stroke="#000" stroke-width="0.5" />
<text x="324.34" y="575.10" font-size="3.2" text-anchor="middle" fill="#333" >100</text>
<line x1="332.23" y1="569.90" x2="332.23" y2="570.80" stroke="#000" stroke-width="0.5" />
<text x="332.23" y="575.10" font-size="3.2" text-anchor="middle" fill="#333" >150</text>
<line x1="340.11" y1="569.90" x2="340.11" y2="570.80" stroke="#000" stroke-width="0.5" />
<text x="340.11" y="575.10" font-size="3.2" text-anchor="middle" fill="#333" >200</text>
<line x1="348.00" y1="569.90" x2="348.00" y2="570.80" stroke="#000" stroke-width="0.5" />
<text x="348.00" y="575.10" font-size="3.2" text-anchor="middle" fill="#333" >250</text>
<line x1="307.70" y1="569.90" x2="307.70" y2="570.50" stroke="#000" stroke-width="0.3" />
<line x1="309.79" y1="569.90" x2="309.79" y2="570.50" stroke="#000" stroke-width="0.3" />
<line x1="311.87" y1="569.90" x2="311.87" y2="570.50" stroke="#000" stroke-width="0.3" />
<line x1="313.96" y1="569.90" x2="313.96" y2="570.50" stroke="#000" stroke-width="0.3" />
<line x1="316.04" y1="569.90" x2="316.04" y2="570.50" stroke="#000" stroke-width="0.3" />
<line x1="318.13" y1="569.90" x2="318.13" y2="570.50" stroke="#000" stroke-width="0.3" />
<line x1="320.21" y1="569.90" x2="320.21" y2="570.50" stroke="#000" stroke-width="0.3" />
<line x1="322.30" y1="569.90" x2="322.30" y2="570.50" stroke="#000" stroke-width="0.3" />
<line x1="324.39" y1="569.90" x2="324.39" y2="570.50" stroke="#000" stroke-width="0.3" />
<line x1="326.47" y1="569.90" x2="326.47" y2="570.50" stroke="#000" stroke-width="0.3" />
<line x1="328.56" y1="569.90" x2="328.56" y2="570.50" stroke="#000" stroke-width="0.3" />
<line x1="330.64" y1="569.90" x2="330.64" y2="570.50" stroke="#000" stroke-width="0.3" />
<line x1="332.73" y1="569.90" x2="332.73" y2="570.50" stroke="#000" stroke-width="0.3" />
<line x1="334.81" y1="569.90" x2="334.81" y2="570.50" stroke="#000" stroke-width="0.3" />
<line x1="336.90" y1="569.90" x2="336.90" y2="570.50" stroke="#000" stroke-width="0.3" />
<line x1="338.99" y1="569.90" x2="338.99" y2="570.50" stroke="#000" stroke-width="0.3" />
<line x1="341.07" y1="569.90" x2="341.07" y2="570.50" stroke="#000" stroke-width="0.3" />
<line x1="343.16" y1="569.90" x2="343.16" y2="570.50" stroke="#000" stroke-width="0.3" />
<line x1="345.24" y1="569.90" x2="345.24" y2="570.50" stroke="#000" stroke-width="0.3" />
<line x1="347.33" y1="569.90" x2="347.33" y2="570.50" stroke="#000" stroke-width="0.3" />
<line x1="349.41" y1="569.90" x2="349.41" y2="570.50" stroke="#000" stroke-width="0.3" />
<line x1="351.50" y1="569.90" x2="351.50" y2="570.50" stroke="#000" stroke-width="0.3" />
<text x="351.00" y="578.40" font-size="2.9" text-anchor="end" fill="#333" >(x 1,000)</text>
<text x="332.60" y="585.70" font-size="4.6" text-anchor="middle" fill="#222" font-weight="bold" textLength="33" lengthAdjust="spacingAndGlyphs" >Hoechst blue (355)-A</text>
<text x="298.30" y="549.65" font-size="4.6" text-anchor="middle" fill="#222" font-weight="bold" textLength="15.5" lengthAdjust="spacingAndGlyphs" transform="rotate(-90 298.30 549.65)" >PI (561)-A</text>
<polygon points="333.7,538.6 333.8,539.7 334.6,541.2 334.4,542.8 332.8,543.9 330.5,544.4 328.0,544.0 326.2,544.2 324.4,544.2 322.4,544.2 320.4,544.0 318.8,543.1 317.2,542.3 316.0,541.2 315.0,540.0 315.1,538.6 316.2,537.3 317.8,536.4 318.3,535.3 319.0,534.1 319.8,532.5 321.8,531.7 324.2,532.0 326.2,533.2 327.8,533.6 329.6,533.8 332.1,533.8 334.7,534.2 334.9,535.8 333.8,537.4" fill="#eee4f6" stroke="none"/>
<polygon points="333.3,557.9 334.0,560.1 333.8,562.5 332.8,564.6 331.6,566.5 329.9,567.6 327.9,567.5 326.2,567.6 324.7,566.5 323.4,565.7 322.1,565.1 320.9,564.2 319.2,563.6 317.8,562.2 316.4,560.3 315.2,557.9 315.3,555.1 316.5,552.8 318.7,551.6 320.4,550.9 322.1,550.6 323.3,549.5 324.7,548.9 326.2,548.3 328.1,547.4 329.6,548.7 330.9,550.2 332.2,551.7 332.5,553.9 333.2,555.8" fill="#eee4f6" stroke="none"/>
<path d="M325.6 538.5h.4M325.3 540.3h.4M318.2 540.1h.4M329.3 539.9h.4M324.2 541.7h.4M322.3 540.2h.4M326.7 541.9h.4M322.4 543.3h.4M318.9 543.6h.4M322.4 543.1h.4M334.6 546.2h.4M325.9 538.0h.4M326.4 534.5h.4M332.5 533.3h.4M327.4 533.5h.4M318.8 540.6h.4M316.8 537.5h.4M311.7 544.9h.4M318.6 539.8h.4M325.3 535.3h.4M319.8 541.3h.4M324.0 536.9h.4M324.7 536.4h.4M326.3 540.7h.4M317.8 543.0h.4M324.9 539.0h.4M330.3 536.9h.4M329.8 541.3h.4M329.9 547.5h.4M322.0 540.6h.4M329.3 540.7h.4M327.6 543.2h.4M316.1 538.5h.4M319.2 541.0h.4M318.0 540.3h.4M327.1 540.6h.4M332.3 542.6h.4M324.0 538.1h.4M327.2 548.0h.4M324.3 539.0h.4M312.6 542.6h.4M323.4 536.3h.4M328.3 534.8h.4M334.5 537.8h.4M330.2 541.7h.4M323.3 532.5h.4M326.3 533.2h.4M325.3 543.4h.4M326.3 547.9h.4M329.9 539.3h.4M321.6 541.8h.4M325.8 540.4h.4M335.9 544.5h.4M323.0 536.7h.4M326.3 539.2h.4M326.0 538.8h.4M323.9 540.3h.4M316.4 541.5h.4M329.2 535.6h.4M330.7 540.3h.4M331.9 537.3h.4M335.4 546.7h.4M338.6 539.8h.4M321.7 537.1h.4M320.9 533.9h.4M330.9 531.8h.4M317.0 533.3h.4M325.3 541.5h.4M316.8 535.3h.4M326.0 536.2h.4M331.6 537.4h.4M333.1 544.5h.4M318.8 537.7h.4M324.4 537.5h.4M320.3 541.3h.4M338.1 536.1h.4M315.4 539.8h.4M320.9 541.6h.4M320.3 537.5h.4M332.3 536.8h.4M329.7 533.5h.4M324.7 539.2h.4M320.9 541.9h.4M331.1 542.7h.4M316.9 534.5h.4M322.7 547.0h.4M313.1 539.0h.4M334.5 538.5h.4M325.5 537.3h.4M318.6 535.6h.4M332.9 539.2h.4M317.0 534.8h.4M315.8 547.1h.4M324.6 539.6h.4M316.0 541.2h.4M326.3 548.2h.4M338.5 540.7h.4M319.8 536.6h.4M318.1 536.3h.4M330.9 540.1h.4M328.9 536.0h.4M326.3 541.3h.4M317.4 538.7h.4M323.1 545.5h.4M323.1 540.0h.4M320.4 542.6h.4M323.6 541.9h.4M324.0 541.3h.4M332.7 536.6h.4M328.3 536.5h.4M328.8 532.2h.4M322.7 538.4h.4M321.7 538.7h.4M325.4 541.0h.4M327.8 546.4h.4M328.9 548.0h.4M331.9 540.4h.4M327.9 551.1h.4M331.2 542.4h.4M322.6 543.0h.4M327.6 534.8h.4M325.2 535.3h.4M315.1 541.3h.4M324.7 538.6h.4M327.7 542.1h.4M324.2 541.2h.4M325.6 541.7h.4M332.3 543.0h.4M327.8 538.7h.4M329.3 532.6h.4M323.2 537.7h.4M331.1 534.9h.4M323.4 540.0h.4M315.8 538.8h.4M315.8 542.7h.4M323.6 538.0h.4M318.3 532.2h.4M321.0 545.3h.4M315.5 540.7h.4M326.7 538.6h.4M333.0 538.8h.4M330.9 540.7h.4M328.7 535.6h.4M326.2 534.6h.4M330.0 545.9h.4M323.1 533.5h.4M327.4 542.2h.4M318.9 535.0h.4M329.0 538.1h.4M329.4 541.0h.4M325.8 546.4h.4M320.3 535.4h.4M322.9 537.2h.4M325.9 535.5h.4M332.2 538.2h.4M323.1 539.2h.4M329.5 539.6h.4M321.7 539.7h.4M322.3 542.4h.4M325.6 544.9h.4M314.1 544.1h.4M324.1 535.9h.4M323.5 543.3h.4M319.7 534.3h.4M330.1 533.0h.4M325.8 536.7h.4M317.1 540.2h.4M321.1 535.8h.4M331.6 541.9h.4M324.3 541.9h.4M331.0 539.9h.4M328.0 541.7h.4M325.0 539.5h.4M328.4 540.0h.4M318.7 537.0h.4M330.1 538.5h.4M320.7 539.4h.4M320.7 534.8h.4M322.8 546.1h.4M318.6 539.6h.4M320.8 558.8h.4M321.8 557.6h.4M324.9 559.5h.4M330.0 563.7h.4M331.6 544.8h.4M324.6 567.6h.4M332.7 554.2h.4M322.1 566.4h.4M328.3 554.6h.4M324.7 555.8h.4M323.2 556.5h.4M328.6 559.1h.4M321.2 558.2h.4M324.6 556.8h.4M330.4 560.4h.4M324.1 560.0h.4M326.7 561.5h.4M330.6 555.5h.4M327.2 565.1h.4M324.5 557.9h.4M327.3 553.9h.4M324.5 561.6h.4M322.7 555.9h.4M325.9 550.5h.4M320.5 553.3h.4M327.5 559.9h.4M328.9 556.4h.4M321.9 560.1h.4M324.4 563.2h.4M329.5 556.2h.4M323.4 559.2h.4M323.1 560.3h.4M320.2 559.2h.4M330.2 565.7h.4M324.3 556.3h.4M322.3 562.4h.4M314.9 560.3h.4M324.5 553.3h.4M323.4 550.9h.4M336.9 554.9h.4M323.8 552.7h.4M330.3 556.6h.4M332.2 561.5h.4M322.5 558.4h.4M339.2 560.1h.4M333.1 560.6h.4M334.2 551.9h.4M324.2 557.3h.4M325.4 564.1h.4M328.2 549.3h.4M320.5 564.9h.4M326.5 555.5h.4M323.5 563.1h.4M326.6 561.0h.4M320.8 563.4h.4M328.6 568.4h.4M328.5 553.3h.4M322.5 565.1h.4M323.3 563.6h.4M326.2 561.1h.4M328.6 554.4h.4M326.0 560.5h.4M331.0 550.8h.4M324.3 557.5h.4M330.4 562.3h.4M330.6 552.1h.4M323.5 562.8h.4M319.7 557.8h.4M330.9 563.7h.4M335.4 564.0h.4M322.0 557.2h.4M320.3 553.6h.4M323.9 555.0h.4M318.2 554.6h.4M326.1 558.8h.4M329.7 557.5h.4M330.4 562.4h.4M327.2 556.8h.4M327.9 566.2h.4M331.0 549.2h.4M330.4 553.0h.4M330.6 566.1h.4M331.0 564.2h.4M326.1 552.6h.4M322.8 565.4h.4M322.7 554.2h.4M320.8 555.5h.4M323.8 567.2h.4M330.9 564.6h.4M332.7 552.2h.4M324.9 556.1h.4M325.5 560.3h.4M321.9 562.1h.4M326.3 558.3h.4M327.4 561.5h.4M326.9 565.8h.4M322.9 548.7h.4M328.0 552.2h.4M323.0 566.1h.4M322.5 560.0h.4M328.2 550.1h.4M336.7 558.7h.4M325.3 550.0h.4M325.8 557.9h.4M328.7 546.1h.4M328.0 552.6h.4M330.5 562.2h.4M330.6 557.9h.4M325.1 556.9h.4M333.7 555.7h.4M316.9 556.4h.4M327.8 554.4h.4M321.0 554.0h.4M325.5 561.5h.4M326.4 562.0h.4M318.8 563.1h.4M324.1 561.1h.4M324.4 548.8h.4M320.2 560.8h.4M319.4 565.9h.4M326.8 561.4h.4M324.9 563.3h.4M323.4 557.4h.4M318.3 552.2h.4M322.2 555.0h.4M328.2 562.7h.4M329.5 553.1h.4M327.1 558.6h.4M327.7 557.8h.4M324.5 557.0h.4M325.6 558.2h.4M320.9 547.6h.4M331.2 566.9h.4M326.5 555.8h.4M322.4 557.2h.4M329.9 560.7h.4M326.7 558.5h.4M327.0 553.1h.4M323.0 566.0h.4M333.1 563.4h.4M319.3 565.8h.4M321.3 563.7h.4M331.7 557.4h.4M329.5 566.5h.4M323.9 564.0h.4M316.7 550.7h.4M321.7 562.2h.4M325.5 558.2h.4M331.8 551.0h.4M323.9 552.4h.4M327.7 550.5h.4M328.5 562.3h.4M326.1 560.6h.4M319.9 556.1h.4M326.2 559.0h.4M323.5 561.7h.4M322.5 560.6h.4M319.3 563.2h.4M322.3 559.4h.4M320.4 545.3h.4M320.6 550.6h.4M319.8 550.1h.4M320.2 547.3h.4M324.0 553.5h.4M331.3 557.6h.4M331.0 558.9h.4M322.2 552.4h.4M317.2 564.8h.4M328.6 560.2h.4M328.2 562.5h.4M323.0 549.3h.4M330.8 560.5h.4M334.0 546.8h.4M329.2 561.3h.4M331.6 557.7h.4M324.3 567.0h.4M316.8 548.5h.4M315.7 561.9h.4M324.5 556.0h.4M321.9 561.9h.4M328.2 552.7h.4M330.5 558.6h.4M321.1 567.3h.4M320.3 555.2h.4M335.0 550.3h.4M321.9 554.9h.4M330.8 553.4h.4M322.7 556.8h.4M325.0 554.6h.4M330.4 551.6h.4M324.7 557.4h.4M330.9 558.9h.4M322.9 547.6h.4M337.3 555.5h.4M326.5 564.3h.4M336.1 558.4h.4M325.4 552.7h.4M324.7 559.4h.4M328.5 551.0h.4M326.0 551.7h.4M324.6 564.4h.4M326.4 544.2h.4M328.1 565.6h.4M328.4 547.6h.4M328.8 559.1h.4M322.1 556.0h.4M327.1 553.7h.4M322.2 554.8h.4M329.1 560.4h.4M319.3 564.8h.4M328.4 562.6h.4M321.8 562.6h.4M329.5 560.3h.4M327.1 550.4h.4M320.9 565.7h.4M323.4 549.8h.4M325.7 552.1h.4M321.2 557.3h.4M329.5 560.2h.4M323.4 554.5h.4M326.5 556.8h.4M326.5 556.1h.4M329.4 555.5h.4M321.8 553.3h.4M330.5 553.1h.4M331.8 563.7h.4M334.2 554.2h.4M324.9 551.9h.4M325.1 554.7h.4M314.8 553.6h.4M322.3 551.6h.4M323.3 552.5h.4M320.3 560.7h.4M326.9 563.6h.4M328.9 557.0h.4M320.3 563.5h.4M319.3 564.7h.4M323.0 565.5h.4M324.7 556.5h.4M323.0 550.5h.4M320.8 558.7h.4M332.3 556.4h.4M321.8 560.8h.4M324.3 557.9h.4M318.4 557.5h.4M325.8 561.7h.4M320.4 555.1h.4M324.0 555.2h.4M330.9 540.4h.4M338.2 544.5h.4M322.7 542.0h.4M325.1 537.9h.4M332.8 549.7h.4M326.0 542.2h.4M318.2 560.2h.4M335.4 533.4h.4M327.6 562.2h.4M330.7 553.9h.4M325.4 538.1h.4M331.8 549.4h.4M334.3 548.0h.4M331.2 565.5h.4M327.5 556.9h.4M316.0 543.6h.4M316.7 543.3h.4M315.6 541.6h.4M330.0 549.0h.4M328.9 557.8h.4M337.5 546.7h.4M332.7 550.2h.4M326.9 554.3h.4M330.2 548.4h.4M326.3 556.0h.4M326.7 561.3h.4M319.1 560.2h.4M322.1 540.3h.4M329.9 558.5h.4M330.3 545.2h.4M328.4 544.8h.4M324.8 542.3h.4M327.8 547.4h.4M323.4 535.9h.4M331.7 553.9h.4M328.9 543.8h.4M335.2 547.9h.4M326.7 555.7h.4M314.3 552.0h.4M323.9 562.6h.4M330.7 552.0h.4M328.9 557.2h.4M319.6 559.5h.4M329.5 556.8h.4M330.9 563.9h.4M313.1 539.0h.4M323.0 554.6h.4M334.7 556.0h.4M326.4 559.8h.4M319.7 547.4h.4M337.6 546.8h.4M333.6 552.7h.4M325.6 558.9h.4M332.0 560.3h.4M324.3 555.5h.4M330.1 550.4h.4M331.9 547.9h.4M337.3 553.3h.4M338.2 545.5h.4M328.7 535.5h.4M318.9 552.9h.4M322.6 562.6h.4M327.0 561.0h.4M320.4 549.5h.4M330.8 533.1h.4M327.8 537.8h.4M323.2 537.4h.4M322.7 533.7h.4M316.7 566.1h.4M331.6 549.6h.4M336.8 550.8h.4M320.5 558.5h.4M328.6 545.7h.4M326.9 545.9h.4M318.8 558.8h.4M324.7 549.5h.4M322.6 546.2h.4M328.8 543.7h.4M323.2 558.3h.4M323.2 540.8h.4M325.4 556.1h.4M327.1 559.2h.4M328.0 548.3h.4M328.9 553.5h.4M324.8 556.8h.4M315.1 561.1h.4M317.0 545.4h.4M331.3 558.6h.4M328.4 565.9h.4M334.3 548.9h.4M327.6 536.9h.4M323.0 550.4h.4M320.5 538.1h.4M324.6 559.1h.4M325.6 536.5h.4M330.8 552.7h.4M332.5 553.1h.4M330.1 560.3h.4M322.4 534.7h.4M327.0 556.5h.4M329.0 543.0h.4M318.9 566.7h.4M328.5 550.7h.4M330.3 555.0h.4" stroke="#b592d4" stroke-width="0.55" stroke-linecap="round" opacity="0.55" fill="none"/>
<polygon points="333.7,538.6 333.8,539.7 334.6,541.2 334.4,542.8 332.8,543.9 330.5,544.4 328.0,544.0 326.2,544.2 324.4,544.2 322.4,544.2 320.4,544.0 318.8,543.1 317.2,542.3 316.0,541.2 315.0,540.0 315.1,538.6 316.2,537.3 317.8,536.4 318.3,535.3 319.0,534.1 319.8,532.5 321.8,531.7 324.2,532.0 326.2,533.2 327.8,533.6 329.6,533.8 332.1,533.8 334.7,534.2 334.9,535.8 333.8,537.4" fill="none" stroke="#6e3f9c" stroke-width="0.5" stroke-opacity="0.85" stroke-linejoin="round"/>
<polygon points="332.5,539.0 333.5,540.1 333.1,541.3 331.3,541.8 329.2,541.8 327.7,541.7 327.1,542.5 326.1,544.0 324.3,545.2 322.2,545.1 321.0,543.7 320.7,542.3 320.3,541.3 319.1,540.8 317.5,540.1 316.5,539.0 317.2,537.9 318.3,537.0 319.6,536.4 320.6,535.7 321.9,535.2 323.2,534.9 324.6,534.7 326.0,534.5 327.7,534.4 329.6,534.3 331.5,534.6 332.0,535.9 332.0,537.1 331.8,538.1" fill="none" stroke="#6e3f9c" stroke-width="0.5" stroke-opacity="0.85" stroke-linejoin="round"/>
<polygon points="328.0,540.3 328.1,540.9 328.5,541.7 328.0,542.4 327.1,542.8 326.4,543.4 325.3,543.7 324.1,543.9 322.9,544.0 321.7,543.9 320.8,543.3 320.0,542.8 319.3,542.2 318.7,541.6 318.3,541.0 318.0,540.3 318.4,539.6 318.9,539.0 319.7,538.5 320.6,538.2 321.2,537.7 321.9,537.0 322.9,536.5 324.2,536.2 325.6,536.3 326.7,536.7 327.3,537.6 327.5,538.4 327.7,539.1 327.6,539.7" fill="none" stroke="#6e3f9c" stroke-width="0.5" stroke-opacity="0.85" stroke-linejoin="round"/>
<polygon points="333.3,557.9 334.0,560.1 333.8,562.5 332.8,564.6 331.6,566.5 329.9,567.6 327.9,567.5 326.2,567.6 324.7,566.5 323.4,565.7 322.1,565.1 320.9,564.2 319.2,563.6 317.8,562.2 316.4,560.3 315.2,557.9 315.3,555.1 316.5,552.8 318.7,551.6 320.4,550.9 322.1,550.6 323.3,549.5 324.7,548.9 326.2,548.3 328.1,547.4 329.6,548.7 330.9,550.2 332.2,551.7 332.5,553.9 333.2,555.8" fill="none" stroke="#6e3f9c" stroke-width="0.5" stroke-opacity="0.85" stroke-linejoin="round"/>
<polygon points="331.3,557.7 331.9,559.7 331.4,561.5 330.4,563.0 328.7,563.5 327.2,563.4 326.1,563.8 325.2,565.1 323.8,566.2 322.2,566.7 321.2,565.0 320.7,563.1 320.5,561.4 320.3,560.0 318.4,559.3 316.6,557.7 316.0,555.4 317.1,553.5 319.1,552.7 321.0,552.7 321.8,551.8 322.7,550.7 323.9,549.5 325.2,549.3 326.5,549.9 327.5,551.2 328.2,552.5 328.9,553.7 329.8,554.7 330.7,556.0" fill="none" stroke="#6e3f9c" stroke-width="0.5" stroke-opacity="0.85" stroke-linejoin="round"/>
<polygon points="328.1,558.1 328.8,559.2 328.8,560.4 328.6,561.7 327.9,562.6 326.9,563.0 326.0,563.2 325.1,563.5 324.2,563.6 323.2,563.7 322.1,563.5 321.2,562.9 320.4,562.0 319.8,560.8 320.4,559.2 320.8,558.1 321.1,557.1 321.2,556.1 321.2,554.9 321.6,553.9 322.4,553.1 323.2,552.6 324.2,552.7 325.1,552.4 326.2,552.0 327.5,551.9 328.4,552.9 328.6,554.4 328.4,555.9 328.2,557.1" fill="none" stroke="#6e3f9c" stroke-width="0.5" stroke-opacity="0.85" stroke-linejoin="round"/>
<polygon points="328.2,557.9 328.3,558.6 328.5,559.5 328.3,560.3 327.7,560.7 326.9,560.6 326.4,560.6 326.0,560.8 325.5,561.3 324.8,561.5 324.2,561.2 323.9,560.5 323.6,559.9 323.5,559.2 323.1,558.7 322.8,557.9 323.0,557.2 323.4,556.6 323.9,556.2 324.1,555.6 324.3,554.8 324.8,554.3 325.4,554.0 326.0,554.6 326.4,555.2 326.9,555.4 327.4,555.6 328.0,555.9 328.3,556.5 328.3,557.3" fill="none" stroke="#6e3f9c" stroke-width="0.5" stroke-opacity="0.85" stroke-linejoin="round"/>
<rect x="375.20" y="529.40" width="43.80" height="40.50" fill="none" stroke="#c8c8c8" stroke-width="0.5" />
<line x1="375.20" y1="530.40" x2="375.20" y2="569.90" stroke="#222" stroke-width="0.9" />
<line x1="375.20" y1="569.90" x2="419.00" y2="569.90" stroke="#222" stroke-width="0.9" />
<line x1="374.00" y1="534.06" x2="375.20" y2="534.06" stroke="#000" stroke-width="0.8" />
<text x="373.40" y="535.06" font-size="3.0" text-anchor="end" fill="#333" >10⁶</text>
<line x1="374.00" y1="543.78" x2="375.20" y2="543.78" stroke="#000" stroke-width="0.8" />
<text x="373.40" y="544.78" font-size="3.0" text-anchor="end" fill="#333" >10⁵</text>
<line x1="374.00" y1="553.50" x2="375.20" y2="553.50" stroke="#000" stroke-width="0.8" />
<text x="373.40" y="554.50" font-size="3.0" text-anchor="end" fill="#333" >10⁴</text>
<line x1="374.00" y1="563.82" x2="375.20" y2="563.82" stroke="#000" stroke-width="0.8" />
<text x="373.40" y="564.82" font-size="3.0" text-anchor="end" fill="#333" >10³</text>
<line x1="383.96" y1="569.90" x2="383.96" y2="570.80" stroke="#000" stroke-width="0.5" />
<text x="383.96" y="575.10" font-size="3.2" text-anchor="middle" fill="#333" >50</text>
<line x1="391.84" y1="569.90" x2="391.84" y2="570.80" stroke="#000" stroke-width="0.5" />
<text x="391.84" y="575.10" font-size="3.2" text-anchor="middle" fill="#333" >100</text>
<line x1="399.73" y1="569.90" x2="399.73" y2="570.80" stroke="#000" stroke-width="0.5" />
<text x="399.73" y="575.10" font-size="3.2" text-anchor="middle" fill="#333" >150</text>
<line x1="407.61" y1="569.90" x2="407.61" y2="570.80" stroke="#000" stroke-width="0.5" />
<text x="407.61" y="575.10" font-size="3.2" text-anchor="middle" fill="#333" >200</text>
<line x1="415.50" y1="569.90" x2="415.50" y2="570.80" stroke="#000" stroke-width="0.5" />
<text x="415.50" y="575.10" font-size="3.2" text-anchor="middle" fill="#333" >250</text>
<line x1="375.20" y1="569.90" x2="375.20" y2="570.50" stroke="#000" stroke-width="0.3" />
<line x1="377.29" y1="569.90" x2="377.29" y2="570.50" stroke="#000" stroke-width="0.3" />
<line x1="379.37" y1="569.90" x2="379.37" y2="570.50" stroke="#000" stroke-width="0.3" />
<line x1="381.46" y1="569.90" x2="381.46" y2="570.50" stroke="#000" stroke-width="0.3" />
<line x1="383.54" y1="569.90" x2="383.54" y2="570.50" stroke="#000" stroke-width="0.3" />
<line x1="385.63" y1="569.90" x2="385.63" y2="570.50" stroke="#000" stroke-width="0.3" />
<line x1="387.71" y1="569.90" x2="387.71" y2="570.50" stroke="#000" stroke-width="0.3" />
<line x1="389.80" y1="569.90" x2="389.80" y2="570.50" stroke="#000" stroke-width="0.3" />
<line x1="391.89" y1="569.90" x2="391.89" y2="570.50" stroke="#000" stroke-width="0.3" />
<line x1="393.97" y1="569.90" x2="393.97" y2="570.50" stroke="#000" stroke-width="0.3" />
<line x1="396.06" y1="569.90" x2="396.06" y2="570.50" stroke="#000" stroke-width="0.3" />
<line x1="398.14" y1="569.90" x2="398.14" y2="570.50" stroke="#000" stroke-width="0.3" />
<line x1="400.23" y1="569.90" x2="400.23" y2="570.50" stroke="#000" stroke-width="0.3" />
<line x1="402.31" y1="569.90" x2="402.31" y2="570.50" stroke="#000" stroke-width="0.3" />
<line x1="404.40" y1="569.90" x2="404.40" y2="570.50" stroke="#000" stroke-width="0.3" />
<line x1="406.49" y1="569.90" x2="406.49" y2="570.50" stroke="#000" stroke-width="0.3" />
<line x1="408.57" y1="569.90" x2="408.57" y2="570.50" stroke="#000" stroke-width="0.3" />
<line x1="410.66" y1="569.90" x2="410.66" y2="570.50" stroke="#000" stroke-width="0.3" />
<line x1="412.74" y1="569.90" x2="412.74" y2="570.50" stroke="#000" stroke-width="0.3" />
<line x1="414.83" y1="569.90" x2="414.83" y2="570.50" stroke="#000" stroke-width="0.3" />
<line x1="416.91" y1="569.90" x2="416.91" y2="570.50" stroke="#000" stroke-width="0.3" />
<line x1="419.00" y1="569.90" x2="419.00" y2="570.50" stroke="#000" stroke-width="0.3" />
<text x="418.50" y="578.40" font-size="2.9" text-anchor="end" fill="#333" >(x 1,000)</text>
<text x="400.10" y="585.70" font-size="4.6" text-anchor="middle" fill="#222" font-weight="bold" textLength="33" lengthAdjust="spacingAndGlyphs" >Hoechst blue (355)-A</text>
<text x="365.80" y="549.65" font-size="4.6" text-anchor="middle" fill="#222" font-weight="bold" textLength="15.5" lengthAdjust="spacingAndGlyphs" transform="rotate(-90 365.80 549.65)" >PI (561)-A</text>
<polygon points="399.8,537.6 398.9,538.7 397.7,539.6 396.7,540.4 394.9,540.6 393.7,541.0 392.8,542.0 391.3,542.5 389.5,543.0 387.3,543.5 385.0,543.4 382.6,543.0 381.4,541.6 380.9,540.2 380.9,538.8 381.9,537.6 382.7,536.6 383.9,535.8 385.1,535.2 385.9,534.5 386.5,533.4 387.8,532.5 389.5,532.2 391.5,531.6 393.6,531.5 395.6,532.0 397.2,532.9 399.0,533.8 399.8,535.0 399.8,536.3" fill="#eee4f6" stroke="none"/>
<polygon points="400.1,550.2 398.8,551.8 397.1,552.8 395.6,553.1 395.4,554.4 394.9,555.7 394.1,557.2 392.8,558.0 391.4,557.8 390.5,556.1 389.6,555.2 388.8,554.4 387.5,554.1 385.7,553.5 384.7,552.0 385.2,550.2 386.1,548.7 387.3,547.7 388.4,547.1 388.6,545.6 389.1,544.1 389.9,542.3 391.4,542.2 392.8,543.3 393.7,544.7 394.2,546.1 395.2,546.3 396.7,546.3 398.5,546.9 400.1,548.2" fill="#eee4f6" stroke="none"/>
<polygon points="399.4,561.4 398.4,563.3 396.8,564.6 395.5,565.5 395.1,567.0 394.4,568.9 393.3,569.1 391.6,569.1 390.3,568.3 389.1,568.1 387.7,568.3 385.7,568.5 384.3,567.3 384.0,565.2 384.8,563.0 385.1,561.4 385.2,559.9 384.5,557.9 385.2,556.3 386.6,555.4 387.8,554.7 388.9,553.7 390.1,552.0 391.8,551.1 393.4,551.9 394.1,554.6 394.3,556.8 395.0,557.7 396.6,558.3 398.3,559.4" fill="#eee4f6" stroke="none"/>
<path d="M382.3 534.8h.4M391.0 538.6h.4M404.1 541.2h.4M386.6 537.3h.4M386.4 540.7h.4M376.7 537.5h.4M388.2 539.2h.4M392.7 539.4h.4M388.0 542.8h.4M386.4 541.7h.4M386.7 539.9h.4M391.0 533.1h.4M393.3 539.8h.4M398.4 531.6h.4M381.1 539.3h.4M384.6 537.8h.4M397.7 538.1h.4M398.3 537.6h.4M387.5 536.5h.4M390.3 538.9h.4M389.2 534.0h.4M384.7 532.2h.4M389.4 540.4h.4M390.9 541.8h.4M388.2 543.2h.4M394.0 537.3h.4M381.9 544.7h.4M389.0 545.0h.4M385.9 542.2h.4M391.8 541.5h.4M381.9 537.0h.4M396.5 538.7h.4M383.2 537.5h.4M392.7 535.3h.4M381.9 538.0h.4M399.9 536.3h.4M390.7 534.6h.4M383.5 537.7h.4M396.3 538.3h.4M395.1 539.3h.4M395.8 534.2h.4M388.3 539.1h.4M390.3 541.8h.4M390.2 540.4h.4M386.3 538.4h.4M383.0 535.2h.4M385.4 537.6h.4M389.8 540.9h.4M400.5 537.8h.4M395.3 538.8h.4M397.7 539.6h.4M392.3 539.2h.4M382.6 538.1h.4M386.8 540.1h.4M390.7 537.1h.4M387.9 539.7h.4M389.1 540.8h.4M392.2 539.6h.4M388.3 537.8h.4M390.4 539.3h.4M386.6 537.6h.4M391.5 538.9h.4M384.3 536.7h.4M391.4 538.6h.4M391.4 540.7h.4M388.1 538.7h.4M399.3 540.7h.4M386.1 543.4h.4M394.7 538.1h.4M392.3 535.5h.4M381.4 533.4h.4M397.4 533.4h.4M396.1 532.7h.4M396.3 538.3h.4M384.8 533.7h.4M395.3 535.6h.4M389.4 537.8h.4M396.5 539.8h.4M383.0 544.3h.4M382.8 537.8h.4M393.5 541.2h.4M394.3 541.6h.4M391.9 537.2h.4M382.9 537.2h.4M383.9 542.2h.4M383.7 538.8h.4M388.4 542.3h.4M395.5 536.4h.4M395.6 540.7h.4M390.3 538.5h.4M395.2 542.7h.4M392.2 539.5h.4M391.4 533.5h.4M395.2 533.4h.4M388.7 535.5h.4M391.9 536.0h.4M389.2 541.4h.4M392.4 534.7h.4M382.5 543.2h.4M392.7 543.0h.4M387.3 534.4h.4M395.0 534.8h.4M378.1 536.2h.4M385.1 533.6h.4M390.5 541.9h.4M397.7 540.3h.4M379.9 537.5h.4M388.1 534.6h.4M386.8 536.9h.4M386.3 541.4h.4M389.5 538.1h.4M382.5 534.7h.4M407.3 536.2h.4M394.2 537.0h.4M382.5 537.7h.4M393.6 536.4h.4M389.5 538.6h.4M390.9 537.6h.4M379.6 531.5h.4M382.9 535.3h.4M391.2 541.7h.4M394.8 536.5h.4M386.4 543.1h.4M393.2 542.3h.4M390.9 537.4h.4M381.9 533.6h.4M385.9 540.6h.4M381.9 537.8h.4M387.2 534.7h.4M389.1 537.0h.4M386.8 535.6h.4M385.1 542.1h.4M394.0 539.3h.4M396.0 532.8h.4M388.9 531.8h.4M388.0 537.6h.4M386.5 541.8h.4M391.8 536.8h.4M384.5 535.4h.4M390.1 533.7h.4M386.7 535.6h.4M392.0 536.8h.4M387.4 537.2h.4M394.5 535.5h.4M402.9 535.9h.4M388.7 541.8h.4M388.7 538.5h.4M385.4 539.0h.4M386.5 544.1h.4M390.0 541.6h.4M394.4 537.2h.4M393.3 533.9h.4M390.5 538.2h.4M389.2 538.9h.4M397.2 535.8h.4M389.5 540.0h.4M400.6 543.1h.4M390.3 541.5h.4M394.8 533.6h.4M390.3 540.9h.4M389.0 535.4h.4M388.0 539.6h.4M388.6 541.0h.4M384.5 542.9h.4M392.2 536.6h.4M387.7 540.5h.4M393.6 534.7h.4M392.4 533.4h.4M382.4 538.2h.4M389.9 546.9h.4M389.5 540.6h.4M387.2 537.0h.4M391.4 534.6h.4M395.6 537.4h.4M399.9 540.5h.4M394.2 547.6h.4M395.7 537.9h.4M396.7 535.7h.4M394.0 536.3h.4M382.9 539.1h.4M391.0 534.0h.4M384.4 542.7h.4M393.9 533.9h.4M386.7 545.5h.4M398.0 538.0h.4M390.5 541.9h.4M385.0 540.9h.4M394.7 535.5h.4M388.0 537.7h.4M386.9 531.6h.4M382.5 538.6h.4M403.4 542.5h.4M389.6 531.0h.4M384.0 534.6h.4M387.4 538.8h.4M390.6 548.0h.4M389.7 538.7h.4M393.9 534.7h.4M388.1 544.1h.4M395.1 537.4h.4M396.0 551.2h.4M383.4 548.4h.4M394.0 548.6h.4M395.5 549.2h.4M392.9 552.4h.4M392.9 556.7h.4M392.0 551.5h.4M394.7 543.8h.4M392.5 551.3h.4M388.9 552.7h.4M386.5 550.4h.4M386.9 546.5h.4M394.6 550.1h.4M392.8 553.5h.4M391.1 543.9h.4M395.6 550.5h.4M390.4 543.1h.4M392.8 545.8h.4M386.9 550.0h.4M391.5 547.3h.4M393.7 549.3h.4M387.6 548.6h.4M392.3 550.8h.4M386.6 552.0h.4M395.8 555.4h.4M390.8 550.8h.4M395.7 546.0h.4M392.5 551.4h.4M395.1 549.9h.4M390.8 548.6h.4M395.4 552.4h.4M393.7 548.5h.4M384.2 549.7h.4M386.0 549.0h.4M388.4 553.2h.4M387.6 540.2h.4M385.9 549.6h.4M393.4 547.2h.4M391.7 548.6h.4M395.6 550.8h.4M390.0 552.7h.4M397.7 545.7h.4M398.0 552.1h.4M397.6 553.3h.4M392.3 549.6h.4M392.5 544.3h.4M393.4 547.0h.4M391.1 549.4h.4M394.8 551.0h.4M391.4 551.8h.4M394.0 547.6h.4M396.8 549.9h.4M388.6 543.1h.4M389.9 556.9h.4M388.0 551.1h.4M396.8 548.0h.4M393.8 551.6h.4M387.6 545.6h.4M395.0 553.2h.4M387.0 542.1h.4M397.8 554.0h.4M389.9 550.2h.4M393.0 545.3h.4M398.0 547.1h.4M391.4 553.5h.4M386.1 553.2h.4M396.9 550.4h.4M391.2 549.9h.4M391.5 549.0h.4M395.8 552.9h.4M390.0 550.4h.4M396.9 548.8h.4M392.3 559.5h.4M392.9 548.6h.4M390.5 544.9h.4M395.1 550.3h.4M393.0 543.2h.4M392.7 552.5h.4M388.3 550.9h.4M390.4 543.7h.4M389.3 558.7h.4M391.3 561.0h.4M389.9 558.8h.4M389.1 563.5h.4M384.4 563.3h.4M385.9 565.5h.4M391.1 555.2h.4M394.8 563.6h.4M390.2 561.7h.4M392.3 567.4h.4M395.5 560.9h.4M390.9 563.6h.4M390.5 561.8h.4M389.4 565.3h.4M394.2 558.3h.4M394.0 561.3h.4M387.5 561.5h.4M390.7 561.6h.4M385.1 560.0h.4M390.2 558.5h.4M393.6 559.7h.4M392.7 565.7h.4M393.0 563.6h.4M393.0 552.7h.4M384.7 557.7h.4M390.4 562.4h.4M392.4 560.8h.4M395.6 562.0h.4M390.3 563.5h.4M389.2 553.5h.4M397.1 561.9h.4M392.3 557.8h.4M386.8 561.5h.4M395.8 568.1h.4M386.9 561.8h.4M392.0 552.7h.4M390.3 562.1h.4M396.8 562.0h.4M387.9 565.0h.4M398.0 553.9h.4M385.9 557.9h.4M395.6 563.7h.4M397.8 561.3h.4M390.8 567.4h.4M390.1 559.8h.4M388.5 551.6h.4M389.8 558.8h.4M385.6 564.3h.4M394.5 550.5h.4M393.2 555.4h.4M389.8 556.1h.4M388.8 566.9h.4M386.8 561.1h.4M384.7 562.7h.4M390.2 558.1h.4M385.5 558.5h.4M387.8 563.5h.4M386.4 554.6h.4M394.8 556.5h.4M397.0 563.2h.4M386.7 558.0h.4M390.9 553.4h.4M389.1 561.4h.4M389.2 556.7h.4M388.1 554.9h.4M392.5 565.5h.4M387.6 558.8h.4M400.1 566.0h.4M387.5 561.1h.4M393.2 566.4h.4M392.4 565.8h.4M395.3 565.4h.4M395.8 557.8h.4M391.8 559.8h.4M386.7 562.6h.4M387.7 553.6h.4M386.3 561.1h.4M394.9 556.5h.4M387.1 556.1h.4M388.9 561.0h.4M390.8 561.3h.4M396.8 558.4h.4M389.8 558.4h.4M378.8 563.0h.4M395.0 555.3h.4M393.3 565.5h.4M385.0 555.1h.4M389.6 561.3h.4M394.1 561.7h.4M394.3 559.4h.4M388.5 562.2h.4M399.0 559.6h.4M396.1 568.2h.4M385.3 560.3h.4M387.8 559.8h.4M391.2 564.3h.4M388.5 556.1h.4M386.6 556.1h.4M393.0 556.5h.4M393.5 562.8h.4M394.0 561.3h.4M398.1 557.1h.4M388.4 563.9h.4M387.7 563.0h.4M398.9 561.3h.4M390.3 568.8h.4M393.2 567.2h.4M389.6 557.9h.4M386.7 566.0h.4M392.5 567.7h.4M388.8 561.5h.4M390.0 556.0h.4M390.8 556.5h.4M394.0 558.5h.4M389.3 555.2h.4M391.1 559.8h.4M394.2 564.8h.4M393.1 558.1h.4M388.1 555.9h.4M390.0 565.5h.4M392.7 549.3h.4M388.1 558.7h.4M386.2 554.4h.4M393.3 568.0h.4M390.7 557.1h.4M394.9 554.5h.4M397.6 568.4h.4M389.1 568.5h.4M392.6 554.7h.4M388.5 562.2h.4M388.5 564.5h.4M386.0 556.8h.4M390.2 561.4h.4M386.4 560.0h.4M389.5 560.3h.4M391.0 551.3h.4M387.0 562.2h.4M394.0 562.1h.4M391.9 558.7h.4M384.5 562.1h.4M389.5 568.6h.4M392.1 561.1h.4M393.3 560.0h.4M391.0 551.1h.4M391.9 567.8h.4M394.7 562.3h.4M393.9 561.8h.4M390.3 558.0h.4M396.2 563.5h.4M393.2 558.9h.4M391.6 551.1h.4M387.9 566.3h.4M386.8 562.8h.4M388.2 562.4h.4M390.9 565.5h.4M389.8 563.6h.4M391.6 565.1h.4M387.8 559.3h.4M388.7 560.8h.4M387.7 560.8h.4M389.6 560.9h.4M388.9 566.6h.4M391.1 563.1h.4M383.2 563.4h.4M398.6 561.6h.4M390.3 567.6h.4M391.7 560.2h.4M390.0 555.9h.4M395.4 559.5h.4M388.2 556.3h.4M392.6 558.8h.4M380.4 545.0h.4M394.5 560.7h.4M393.6 549.2h.4M391.5 551.1h.4M392.9 552.6h.4M402.0 550.3h.4M395.2 548.8h.4M390.5 548.7h.4M390.0 532.9h.4M389.5 541.6h.4M392.1 565.0h.4M399.9 543.3h.4M387.2 557.8h.4M393.9 552.9h.4M392.8 562.8h.4M392.3 551.8h.4M393.6 556.4h.4M392.8 551.1h.4M398.9 544.7h.4M391.8 545.4h.4M401.3 553.1h.4M404.5 563.6h.4M392.0 555.1h.4M390.1 549.6h.4M389.3 550.8h.4M388.4 541.7h.4M398.2 542.0h.4M387.3 551.4h.4M390.5 556.7h.4M401.1 542.5h.4M385.9 549.1h.4M403.7 544.0h.4M392.9 553.3h.4M391.0 537.1h.4M382.9 544.2h.4M392.2 535.8h.4M386.8 549.3h.4M389.0 556.6h.4M402.0 558.8h.4M395.7 551.2h.4M393.1 554.6h.4M397.1 558.1h.4M383.8 558.3h.4M395.9 550.1h.4M388.4 560.8h.4M398.5 546.3h.4M386.1 546.5h.4M391.8 533.9h.4M403.6 549.5h.4M382.8 553.7h.4M393.2 551.7h.4M403.6 547.6h.4M393.9 552.2h.4M388.9 541.8h.4M390.5 557.4h.4M403.1 555.4h.4M393.6 547.7h.4M389.6 539.5h.4M390.7 548.5h.4M387.0 545.1h.4M389.2 542.8h.4M384.9 541.2h.4M394.7 550.6h.4M387.5 560.7h.4M394.5 539.0h.4M391.4 547.7h.4M401.6 559.6h.4M388.3 560.0h.4M401.8 555.0h.4M395.7 559.6h.4M399.7 546.6h.4M391.6 550.3h.4M395.1 557.3h.4M397.5 537.9h.4M403.4 548.8h.4M411.0 544.2h.4M388.2 558.7h.4M393.4 542.7h.4M398.1 547.4h.4M405.2 556.6h.4M403.6 556.3h.4M402.1 545.7h.4M402.7 547.8h.4M396.2 549.8h.4M396.7 535.1h.4M394.2 538.6h.4M400.3 545.9h.4M382.8 551.7h.4M395.8 554.6h.4M389.9 555.8h.4M412.2 549.1h.4M388.0 545.8h.4M399.9 553.6h.4M403.8 557.6h.4M390.2 545.5h.4M391.5 550.9h.4M384.6 559.3h.4M396.6 545.1h.4M406.1 543.4h.4M398.7 539.3h.4M397.9 541.0h.4M406.1 543.1h.4M397.8 531.8h.4M396.6 547.8h.4M399.3 555.9h.4M395.4 552.7h.4" stroke="#b592d4" stroke-width="0.55" stroke-linecap="round" opacity="0.55" fill="none"/>
<polygon points="399.8,537.6 398.9,538.7 397.7,539.6 396.7,540.4 394.9,540.6 393.7,541.0 392.8,542.0 391.3,542.5 389.5,543.0 387.3,543.5 385.0,543.4 382.6,543.0 381.4,541.6 380.9,540.2 380.9,538.8 381.9,537.6 382.7,536.6 383.9,535.8 385.1,535.2 385.9,534.5 386.5,533.4 387.8,532.5 389.5,532.2 391.5,531.6 393.6,531.5 395.6,532.0 397.2,532.9 399.0,533.8 399.8,535.0 399.8,536.3" fill="none" stroke="#6e3f9c" stroke-width="0.5" stroke-opacity="0.85" stroke-linejoin="round"/>
<polygon points="396.2,538.6 396.3,539.5 395.5,540.2 394.6,540.9 393.8,541.6 392.7,542.1 391.6,542.8 390.2,543.2 388.5,543.6 386.8,543.5 385.6,542.6 384.8,541.7 384.9,540.6 384.5,539.9 383.5,539.3 382.8,538.6 382.0,537.6 382.3,536.6 383.5,535.9 384.8,535.4 385.9,534.9 387.4,534.8 388.7,534.4 390.1,534.1 391.8,534.0 393.2,534.5 394.1,535.4 394.7,536.2 395.3,536.9 395.6,537.7" fill="none" stroke="#6e3f9c" stroke-width="0.5" stroke-opacity="0.85" stroke-linejoin="round"/>
<polygon points="394.3,537.8 395.0,538.4 394.9,539.1 394.3,539.7 393.2,539.9 392.5,540.4 391.7,541.0 390.7,541.5 389.4,541.4 388.4,540.8 387.8,540.2 387.1,539.7 386.3,539.5 385.3,539.1 385.0,538.4 385.3,537.8 385.9,537.2 386.2,536.7 386.1,536.0 386.3,535.2 387.0,534.5 388.3,534.5 389.5,534.7 390.5,535.0 391.5,535.0 392.6,535.0 393.5,535.4 393.8,536.1 393.8,536.7 394.0,537.3" fill="none" stroke="#6e3f9c" stroke-width="0.5" stroke-opacity="0.85" stroke-linejoin="round"/>
<polygon points="394.3,538.8 394.0,539.2 393.6,539.6 393.0,539.8 392.4,540.0 392.1,540.3 391.7,540.6 391.0,540.7 390.4,540.5 389.9,540.4 389.4,540.2 388.8,540.1 388.1,539.9 387.6,539.6 387.5,539.2 387.7,538.8 388.0,538.4 388.4,538.2 388.7,537.9 388.9,537.5 389.3,537.2 389.7,536.9 390.3,536.6 391.1,536.7 391.7,536.9 392.0,537.4 392.3,537.7 392.5,538.0 393.1,538.1 393.7,538.4" fill="none" stroke="#6e3f9c" stroke-width="0.5" stroke-opacity="0.85" stroke-linejoin="round"/>
<polygon points="400.1,550.2 398.8,551.8 397.1,552.8 395.6,553.1 395.4,554.4 394.9,555.7 394.1,557.2 392.8,558.0 391.4,557.8 390.5,556.1 389.6,555.2 388.8,554.4 387.5,554.1 385.7,553.5 384.7,552.0 385.2,550.2 386.1,548.7 387.3,547.7 388.4,547.1 388.6,545.6 389.1,544.1 389.9,542.3 391.4,542.2 392.8,543.3 393.7,544.7 394.2,546.1 395.2,546.3 396.7,546.3 398.5,546.9 400.1,548.2" fill="none" stroke="#6e3f9c" stroke-width="0.5" stroke-opacity="0.85" stroke-linejoin="round"/>
<polygon points="399.4,561.4 398.4,563.3 396.8,564.6 395.5,565.5 395.1,567.0 394.4,568.9 393.3,569.1 391.6,569.1 390.3,568.3 389.1,568.1 387.7,568.3 385.7,568.5 384.3,567.3 384.0,565.2 384.8,563.0 385.1,561.4 385.2,559.9 384.5,557.9 385.2,556.3 386.6,555.4 387.8,554.7 388.9,553.7 390.1,552.0 391.8,551.1 393.4,551.9 394.1,554.6 394.3,556.8 395.0,557.7 396.6,558.3 398.3,559.4" fill="none" stroke="#6e3f9c" stroke-width="0.5" stroke-opacity="0.85" stroke-linejoin="round"/>
<polygon points="395.5,561.6 395.6,562.8 396.1,564.3 395.9,565.8 394.9,566.7 393.8,567.2 392.7,567.3 391.8,568.5 390.6,569.0 389.4,568.4 388.6,567.1 388.4,565.5 388.0,564.5 386.9,564.0 385.6,563.1 384.7,561.6 385.1,560.1 386.4,559.0 387.5,558.4 388.0,557.3 388.7,556.3 389.6,555.5 390.7,555.4 391.7,555.6 392.6,556.1 393.8,556.1 395.1,556.2 396.2,557.2 396.3,558.8 395.9,560.4" fill="none" stroke="#6e3f9c" stroke-width="0.5" stroke-opacity="0.85" stroke-linejoin="round"/>
<polygon points="393.5,561.4 393.4,562.2 393.3,563.1 393.4,564.2 393.0,565.1 392.1,565.4 391.3,565.6 390.6,565.3 389.9,565.8 388.9,566.3 388.0,566.2 387.4,565.3 387.4,563.9 387.6,562.8 387.4,562.1 387.1,561.4 386.5,560.4 386.3,559.2 386.7,558.2 387.5,557.6 388.3,557.2 389.1,557.1 389.9,557.3 390.6,557.6 391.2,557.9 392.0,557.7 392.8,557.8 394.0,558.0 394.4,559.1 394.3,560.3" fill="none" stroke="#6e3f9c" stroke-width="0.5" stroke-opacity="0.85" stroke-linejoin="round"/>
<rect x="442.80" y="529.40" width="43.80" height="40.50" fill="none" stroke="#c8c8c8" stroke-width="0.5" />
<line x1="442.80" y1="530.40" x2="442.80" y2="569.90" stroke="#222" stroke-width="0.9" />
<line x1="442.80" y1="569.90" x2="486.60" y2="569.90" stroke="#222" stroke-width="0.9" />
<line x1="441.60" y1="534.06" x2="442.80" y2="534.06" stroke="#000" stroke-width="0.8" />
<text x="441.00" y="535.06" font-size="3.0" text-anchor="end" fill="#333" >10⁶</text>
<line x1="441.60" y1="543.78" x2="442.80" y2="543.78" stroke="#000" stroke-width="0.8" />
<text x="441.00" y="544.78" font-size="3.0" text-anchor="end" fill="#333" >10⁵</text>
<line x1="441.60" y1="553.50" x2="442.80" y2="553.50" stroke="#000" stroke-width="0.8" />
<text x="441.00" y="554.50" font-size="3.0" text-anchor="end" fill="#333" >10⁴</text>
<line x1="441.60" y1="563.82" x2="442.80" y2="563.82" stroke="#000" stroke-width="0.8" />
<text x="441.00" y="564.82" font-size="3.0" text-anchor="end" fill="#333" >10³</text>
<line x1="451.56" y1="569.90" x2="451.56" y2="570.80" stroke="#000" stroke-width="0.5" />
<text x="451.56" y="575.10" font-size="3.2" text-anchor="middle" fill="#333" >50</text>
<line x1="459.44" y1="569.90" x2="459.44" y2="570.80" stroke="#000" stroke-width="0.5" />
<text x="459.44" y="575.10" font-size="3.2" text-anchor="middle" fill="#333" >100</text>
<line x1="467.33" y1="569.90" x2="467.33" y2="570.80" stroke="#000" stroke-width="0.5" />
<text x="467.33" y="575.10" font-size="3.2" text-anchor="middle" fill="#333" >150</text>
<line x1="475.21" y1="569.90" x2="475.21" y2="570.80" stroke="#000" stroke-width="0.5" />
<text x="475.21" y="575.10" font-size="3.2" text-anchor="middle" fill="#333" >200</text>
<line x1="483.10" y1="569.90" x2="483.10" y2="570.80" stroke="#000" stroke-width="0.5" />
<text x="483.10" y="575.10" font-size="3.2" text-anchor="middle" fill="#333" >250</text>
<line x1="442.80" y1="569.90" x2="442.80" y2="570.50" stroke="#000" stroke-width="0.3" />
<line x1="444.89" y1="569.90" x2="444.89" y2="570.50" stroke="#000" stroke-width="0.3" />
<line x1="446.97" y1="569.90" x2="446.97" y2="570.50" stroke="#000" stroke-width="0.3" />
<line x1="449.06" y1="569.90" x2="449.06" y2="570.50" stroke="#000" stroke-width="0.3" />
<line x1="451.14" y1="569.90" x2="451.14" y2="570.50" stroke="#000" stroke-width="0.3" />
<line x1="453.23" y1="569.90" x2="453.23" y2="570.50" stroke="#000" stroke-width="0.3" />
<line x1="455.31" y1="569.90" x2="455.31" y2="570.50" stroke="#000" stroke-width="0.3" />
<line x1="457.40" y1="569.90" x2="457.40" y2="570.50" stroke="#000" stroke-width="0.3" />
<line x1="459.49" y1="569.90" x2="459.49" y2="570.50" stroke="#000" stroke-width="0.3" />
<line x1="461.57" y1="569.90" x2="461.57" y2="570.50" stroke="#000" stroke-width="0.3" />
<line x1="463.66" y1="569.90" x2="463.66" y2="570.50" stroke="#000" stroke-width="0.3" />
<line x1="465.74" y1="569.90" x2="465.74" y2="570.50" stroke="#000" stroke-width="0.3" />
<line x1="467.83" y1="569.90" x2="467.83" y2="570.50" stroke="#000" stroke-width="0.3" />
<line x1="469.91" y1="569.90" x2="469.91" y2="570.50" stroke="#000" stroke-width="0.3" />
<line x1="472.00" y1="569.90" x2="472.00" y2="570.50" stroke="#000" stroke-width="0.3" />
<line x1="474.09" y1="569.90" x2="474.09" y2="570.50" stroke="#000" stroke-width="0.3" />
<line x1="476.17" y1="569.90" x2="476.17" y2="570.50" stroke="#000" stroke-width="0.3" />
<line x1="478.26" y1="569.90" x2="478.26" y2="570.50" stroke="#000" stroke-width="0.3" />
<line x1="480.34" y1="569.90" x2="480.34" y2="570.50" stroke="#000" stroke-width="0.3" />
<line x1="482.43" y1="569.90" x2="482.43" y2="570.50" stroke="#000" stroke-width="0.3" />
<line x1="484.51" y1="569.90" x2="484.51" y2="570.50" stroke="#000" stroke-width="0.3" />
<line x1="486.60" y1="569.90" x2="486.60" y2="570.50" stroke="#000" stroke-width="0.3" />
<text x="486.10" y="578.40" font-size="2.9" text-anchor="end" fill="#333" >(x 1,000)</text>
<text x="467.70" y="585.70" font-size="4.6" text-anchor="middle" fill="#222" font-weight="bold" textLength="33" lengthAdjust="spacingAndGlyphs" >Hoechst blue (355)-A</text>
<text x="433.40" y="549.65" font-size="4.6" text-anchor="middle" fill="#222" font-weight="bold" textLength="15.5" lengthAdjust="spacingAndGlyphs" transform="rotate(-90 433.40 549.65)" >PI (561)-A</text>
<polygon points="467.9,537.2 467.3,538.1 465.8,538.7 464.8,539.2 464.4,540.0 463.6,540.8 462.4,541.5 460.8,542.1 458.9,542.1 457.1,541.9 455.5,541.4 453.9,540.9 453.3,539.8 452.6,539.0 452.1,538.1 451.8,537.2 451.8,536.3 452.2,535.4 453.4,534.7 454.7,534.1 456.1,533.7 457.8,533.7 459.1,533.3 460.6,533.2 462.3,533.0 464.3,533.0 466.4,533.2 468.0,534.0 468.7,535.1 468.8,536.2" fill="#eee4f6" stroke="none"/>
<polygon points="461.7,548.7 461.6,550.5 461.6,552.5 460.9,554.1 460.0,555.3 458.6,555.3 457.6,555.5 456.6,554.8 455.8,555.3 454.8,555.3 453.5,556.1 452.4,555.3 451.2,554.4 450.6,552.6 450.7,550.5 450.8,548.7 451.4,547.1 451.6,545.4 452.1,543.9 452.9,542.8 453.7,541.7 454.6,540.9 455.7,540.9 456.7,540.6 457.8,540.7 458.9,541.2 459.6,542.7 460.4,543.8 460.9,545.3 461.4,546.9" fill="#eee4f6" stroke="none"/>
<polygon points="465.0,563.0 465.7,564.3 465.8,565.9 465.6,567.5 464.7,568.9 463.1,569.1 461.6,569.1 460.2,568.7 458.9,569.1 457.6,569.1 456.1,569.1 454.8,568.5 453.8,567.3 453.3,565.9 453.0,564.4 453.3,563.0 453.2,561.6 453.3,560.1 453.7,558.6 454.7,557.5 456.3,557.3 457.6,556.9 458.9,556.6 460.2,556.7 461.7,556.2 463.3,556.3 464.8,557.0 465.3,558.8 465.2,560.4 465.2,561.8" fill="#eee4f6" stroke="none"/>
<path d="M466.8 536.2h.4M466.7 535.9h.4M457.8 538.8h.4M451.5 537.8h.4M458.5 540.0h.4M460.2 537.9h.4M458.5 542.6h.4M461.6 538.1h.4M448.8 541.6h.4M459.3 538.3h.4M463.2 538.2h.4M466.2 537.6h.4M461.9 538.2h.4M462.4 538.5h.4M461.5 538.3h.4M460.2 539.3h.4M455.9 535.6h.4M459.2 537.9h.4M465.3 533.6h.4M466.2 536.2h.4M455.1 538.5h.4M460.8 540.2h.4M449.1 540.5h.4M461.3 541.4h.4M458.2 533.7h.4M457.9 537.0h.4M462.5 540.0h.4M449.2 533.4h.4M459.8 535.7h.4M464.0 541.1h.4M469.6 537.9h.4M464.6 539.3h.4M460.1 536.6h.4M464.5 539.7h.4M458.9 537.1h.4M450.6 538.4h.4M459.8 534.9h.4M465.7 537.7h.4M454.1 536.9h.4M453.8 535.5h.4M453.0 537.9h.4M451.3 535.8h.4M459.3 537.0h.4M459.8 535.6h.4M456.0 538.4h.4M457.3 540.0h.4M456.8 537.9h.4M457.5 540.3h.4M454.5 539.6h.4M464.6 538.9h.4M465.5 535.1h.4M450.8 535.8h.4M456.8 538.6h.4M456.3 536.2h.4M457.8 542.0h.4M456.0 537.4h.4M460.6 541.7h.4M453.0 532.9h.4M458.7 535.3h.4M456.1 532.3h.4M466.9 533.6h.4M461.2 539.1h.4M463.1 541.8h.4M456.9 534.3h.4M460.6 540.1h.4M458.6 536.9h.4M464.8 534.9h.4M468.3 533.5h.4M454.9 537.3h.4M455.0 539.6h.4M456.0 536.2h.4M457.6 540.6h.4M459.0 537.1h.4M464.7 535.3h.4M452.9 537.5h.4M461.2 535.0h.4M458.1 538.5h.4M458.1 538.3h.4M458.8 541.3h.4M452.4 542.0h.4M450.0 538.5h.4M462.5 544.5h.4M465.3 532.9h.4M461.0 534.5h.4M464.2 541.7h.4M464.1 536.7h.4M459.7 533.8h.4M460.3 531.8h.4M457.4 536.3h.4M453.4 538.7h.4M460.2 541.6h.4M458.0 538.5h.4M454.1 540.8h.4M456.2 535.7h.4M452.6 539.5h.4M460.4 536.5h.4M460.6 540.1h.4M459.6 539.1h.4M458.1 538.9h.4M464.0 538.1h.4M452.8 538.9h.4M469.4 534.9h.4M455.1 537.8h.4M455.2 535.6h.4M449.7 534.2h.4M462.1 533.3h.4M466.9 537.4h.4M458.9 533.6h.4M464.8 536.9h.4M453.9 539.8h.4M462.1 541.8h.4M454.5 537.2h.4M455.6 533.8h.4M455.8 536.0h.4M458.3 537.5h.4M458.1 537.8h.4M457.4 536.9h.4M459.9 542.1h.4M458.1 535.7h.4M470.9 538.7h.4M457.5 537.9h.4M450.2 536.8h.4M455.7 536.3h.4M454.4 537.3h.4M467.1 535.9h.4M460.7 541.0h.4M460.1 535.8h.4M462.9 540.2h.4M455.8 535.4h.4M452.7 536.6h.4M458.3 536.4h.4M457.6 538.8h.4M460.9 543.2h.4M452.4 534.0h.4M456.2 538.5h.4M466.2 539.8h.4M464.0 534.2h.4M460.5 541.9h.4M462.2 536.1h.4M445.2 537.7h.4M461.1 541.1h.4M460.0 534.1h.4M463.9 535.9h.4M461.4 539.6h.4M456.7 540.4h.4M452.6 541.0h.4M452.9 534.2h.4M457.5 536.9h.4M460.1 538.7h.4M456.6 545.2h.4M460.1 540.5h.4M460.0 543.9h.4M457.4 551.6h.4M451.8 550.1h.4M458.2 548.3h.4M460.3 551.3h.4M455.1 547.0h.4M455.4 542.0h.4M460.7 539.9h.4M460.7 559.9h.4M461.1 552.4h.4M457.5 547.3h.4M456.8 557.0h.4M455.9 550.7h.4M461.2 551.7h.4M458.4 551.8h.4M456.9 555.6h.4M459.7 551.8h.4M456.8 553.3h.4M457.2 544.2h.4M458.8 538.7h.4M459.4 548.5h.4M456.5 547.3h.4M461.5 551.2h.4M455.5 549.1h.4M455.9 557.1h.4M456.1 548.2h.4M457.6 548.9h.4M453.8 553.4h.4M457.4 552.5h.4M450.6 548.2h.4M458.0 551.6h.4M454.5 561.4h.4M461.2 551.4h.4M452.8 540.2h.4M460.7 555.7h.4M451.4 554.2h.4M461.1 546.9h.4M456.2 547.9h.4M454.8 559.5h.4M455.8 546.7h.4M459.2 558.0h.4M458.4 542.9h.4M458.1 546.6h.4M451.1 550.5h.4M456.8 544.9h.4M452.6 555.9h.4M456.5 546.8h.4M456.0 552.7h.4M455.2 553.9h.4M457.7 549.8h.4M456.9 544.5h.4M460.6 550.1h.4M455.5 546.2h.4M459.0 559.1h.4M458.5 544.3h.4M455.1 543.3h.4M454.8 547.7h.4M455.6 552.1h.4M457.6 563.9h.4M459.5 559.3h.4M461.2 563.0h.4M460.6 557.6h.4M459.0 563.9h.4M454.5 565.7h.4M456.9 561.3h.4M459.4 555.0h.4M448.5 559.9h.4M458.9 565.6h.4M460.3 560.4h.4M458.0 558.9h.4M459.7 559.4h.4M454.6 558.8h.4M452.3 557.9h.4M456.3 560.7h.4M456.5 565.0h.4M454.4 562.2h.4M455.1 562.7h.4M460.0 558.4h.4M454.4 563.5h.4M454.9 562.6h.4M457.8 562.8h.4M455.8 562.5h.4M457.1 563.8h.4M461.8 564.5h.4M458.4 562.4h.4M460.9 561.3h.4M457.4 565.5h.4M466.0 560.0h.4M464.9 561.2h.4M458.9 560.8h.4M456.4 563.4h.4M455.1 565.4h.4M455.9 557.2h.4M455.7 562.7h.4M453.5 559.6h.4M456.9 563.1h.4M455.0 566.0h.4M454.9 568.5h.4M457.6 558.4h.4M457.5 555.5h.4M468.4 562.9h.4M458.9 555.2h.4M466.1 562.7h.4M459.1 565.7h.4M462.0 559.5h.4M464.5 561.3h.4M462.6 558.8h.4M464.0 561.2h.4M456.2 564.9h.4M455.8 561.6h.4M467.8 562.4h.4M464.2 558.7h.4M462.0 558.2h.4M460.5 562.5h.4M459.7 567.1h.4M459.4 563.5h.4M455.1 556.7h.4M464.4 560.2h.4M461.3 560.8h.4M458.6 567.2h.4M460.2 562.7h.4M456.1 567.4h.4M462.0 559.7h.4M456.5 561.1h.4M464.3 559.7h.4M458.0 563.0h.4M458.4 558.6h.4M459.0 559.8h.4M462.4 558.7h.4M454.5 562.2h.4M457.6 566.2h.4M456.1 567.1h.4M460.4 563.8h.4M459.3 560.5h.4M467.5 562.7h.4M460.7 564.8h.4M457.3 560.5h.4M456.1 566.0h.4M460.9 557.2h.4M455.5 563.1h.4M468.5 567.6h.4M457.4 564.2h.4M456.8 563.6h.4M456.4 564.3h.4M455.2 559.2h.4M467.8 560.4h.4M456.6 567.7h.4M461.1 559.2h.4M458.3 559.8h.4M459.4 562.7h.4M456.7 567.0h.4M458.6 565.6h.4M457.9 559.8h.4M457.5 566.1h.4M467.7 564.3h.4M457.8 561.6h.4M461.4 563.3h.4M460.5 565.0h.4M458.5 554.6h.4M458.6 561.8h.4M457.4 556.5h.4M456.5 561.1h.4M457.0 561.3h.4M451.4 561.6h.4M458.1 554.9h.4M461.5 561.0h.4M459.1 566.3h.4M457.7 559.6h.4M462.6 566.5h.4M458.8 561.7h.4M455.3 561.1h.4M454.4 567.0h.4M460.1 559.2h.4M459.6 565.3h.4M460.9 562.1h.4M454.9 561.4h.4M459.4 558.6h.4M460.1 551.0h.4M462.3 566.2h.4M464.6 558.4h.4M462.5 558.1h.4M455.4 561.9h.4M456.9 562.1h.4M454.7 560.4h.4M466.5 557.6h.4M455.0 564.0h.4M461.3 559.5h.4M456.4 561.3h.4M461.3 557.5h.4M458.4 562.7h.4M452.6 567.6h.4M462.5 552.2h.4M457.8 567.1h.4M457.6 563.3h.4M456.0 562.7h.4M461.6 556.6h.4M463.3 564.0h.4M454.6 561.4h.4M461.8 564.2h.4M468.0 568.9h.4M459.5 563.6h.4M457.0 567.4h.4M456.0 568.6h.4M461.3 560.1h.4M458.4 564.4h.4M455.2 563.6h.4M463.2 565.4h.4M464.7 560.5h.4M452.6 558.0h.4M467.7 551.1h.4M457.7 546.7h.4M463.3 555.4h.4M449.3 548.0h.4M456.4 542.3h.4M457.3 544.0h.4M458.3 561.4h.4M458.3 548.8h.4M465.8 546.5h.4M461.0 556.8h.4M470.9 536.7h.4M460.5 548.4h.4M461.0 552.4h.4M457.1 548.6h.4M462.6 564.6h.4M472.1 557.0h.4M455.7 534.7h.4M458.6 560.8h.4M458.3 530.7h.4M458.3 549.7h.4M464.5 549.3h.4M455.8 544.9h.4M459.2 545.6h.4M465.4 554.3h.4M462.8 554.5h.4M455.9 557.3h.4M469.5 546.5h.4M473.9 559.0h.4M463.6 549.5h.4M459.9 537.6h.4M457.1 537.5h.4M457.0 562.3h.4M463.6 542.3h.4M468.0 562.4h.4M445.9 542.6h.4M462.2 550.8h.4M457.4 541.3h.4M460.3 560.8h.4M465.7 545.7h.4M461.6 541.6h.4M461.3 539.3h.4M466.8 560.6h.4M449.4 551.6h.4M464.6 549.0h.4M451.4 556.8h.4M462.7 553.1h.4M463.9 549.3h.4M452.3 548.4h.4M456.9 541.8h.4M458.2 544.9h.4M459.6 541.5h.4M461.5 552.6h.4M464.6 566.9h.4M447.1 549.6h.4M455.9 556.5h.4M467.8 545.6h.4M460.6 554.9h.4M463.2 549.4h.4M463.1 542.6h.4M464.7 540.0h.4M458.7 533.1h.4M470.2 560.5h.4M463.2 557.1h.4M468.5 553.2h.4M457.0 536.1h.4M464.4 549.7h.4M451.8 558.6h.4M461.2 568.9h.4M460.9 558.9h.4M459.4 544.1h.4M464.1 549.9h.4M470.5 537.5h.4M461.3 550.6h.4M446.7 549.2h.4M462.3 549.0h.4M465.3 562.9h.4M454.5 539.5h.4M461.0 544.0h.4M455.1 538.8h.4M469.2 533.7h.4M465.5 561.8h.4M458.4 552.7h.4M463.6 542.9h.4M459.5 562.5h.4M468.3 565.0h.4M458.6 556.7h.4M459.2 545.2h.4M471.3 547.0h.4M464.8 551.3h.4M465.1 534.7h.4M471.1 549.7h.4M452.6 553.6h.4M457.6 549.9h.4M467.6 541.1h.4M466.3 550.7h.4M470.4 536.0h.4M466.7 538.1h.4M451.9 558.3h.4M445.7 535.3h.4M457.8 568.0h.4M458.2 546.0h.4M458.3 561.4h.4M464.5 562.2h.4M458.8 553.5h.4M463.9 537.8h.4M454.7 554.2h.4" stroke="#b592d4" stroke-width="0.55" stroke-linecap="round" opacity="0.55" fill="none"/>
<polygon points="467.9,537.2 467.3,538.1 465.8,538.7 464.8,539.2 464.4,540.0 463.6,540.8 462.4,541.5 460.8,542.1 458.9,542.1 457.1,541.9 455.5,541.4 453.9,540.9 453.3,539.8 452.6,539.0 452.1,538.1 451.8,537.2 451.8,536.3 452.2,535.4 453.4,534.7 454.7,534.1 456.1,533.7 457.8,533.7 459.1,533.3 460.6,533.2 462.3,533.0 464.3,533.0 466.4,533.2 468.0,534.0 468.7,535.1 468.8,536.2" fill="none" stroke="#6e3f9c" stroke-width="0.5" stroke-opacity="0.85" stroke-linejoin="round"/>
<polygon points="463.4,537.8 463.3,538.4 463.1,539.1 462.7,539.7 462.2,540.3 461.5,541.1 460.5,542.0 458.9,542.1 457.3,541.7 456.3,540.8 455.6,540.2 454.7,539.8 453.4,539.7 451.9,539.3 450.8,538.7 450.7,537.8 451.3,537.0 452.0,536.3 453.1,535.9 453.8,535.3 455.1,535.1 456.3,534.9 457.5,534.8 458.7,534.6 460.0,534.5 461.7,534.4 462.9,534.9 463.7,535.6 464.2,536.3 463.8,537.2" fill="none" stroke="#6e3f9c" stroke-width="0.5" stroke-opacity="0.85" stroke-linejoin="round"/>
<polygon points="463.4,538.1 463.8,538.6 463.4,539.1 462.8,539.6 462.0,539.9 461.3,540.2 460.6,540.8 459.6,541.1 458.5,541.0 457.7,540.3 457.5,539.5 457.0,539.3 456.2,539.2 454.7,539.1 453.7,538.7 453.6,538.1 454.3,537.5 455.3,537.2 455.8,536.8 456.2,536.4 456.6,535.8 457.5,535.5 458.5,535.3 459.5,535.6 460.4,535.8 461.2,536.0 461.7,536.4 462.2,536.8 462.6,537.2 463.2,537.6" fill="none" stroke="#6e3f9c" stroke-width="0.5" stroke-opacity="0.85" stroke-linejoin="round"/>
<polygon points="461.7,548.7 461.6,550.5 461.6,552.5 460.9,554.1 460.0,555.3 458.6,555.3 457.6,555.5 456.6,554.8 455.8,555.3 454.8,555.3 453.5,556.1 452.4,555.3 451.2,554.4 450.6,552.6 450.7,550.5 450.8,548.7 451.4,547.1 451.6,545.4 452.1,543.9 452.9,542.8 453.7,541.7 454.6,540.9 455.7,540.9 456.7,540.6 457.8,540.7 458.9,541.2 459.6,542.7 460.4,543.8 460.9,545.3 461.4,546.9" fill="none" stroke="#6e3f9c" stroke-width="0.5" stroke-opacity="0.85" stroke-linejoin="round"/>
<polygon points="465.0,563.0 465.7,564.3 465.8,565.9 465.6,567.5 464.7,568.9 463.1,569.1 461.6,569.1 460.2,568.7 458.9,569.1 457.6,569.1 456.1,569.1 454.8,568.5 453.8,567.3 453.3,565.9 453.0,564.4 453.3,563.0 453.2,561.6 453.3,560.1 453.7,558.6 454.7,557.5 456.3,557.3 457.6,556.9 458.9,556.6 460.2,556.7 461.7,556.2 463.3,556.3 464.8,557.0 465.3,558.8 465.2,560.4 465.2,561.8" fill="none" stroke="#6e3f9c" stroke-width="0.5" stroke-opacity="0.85" stroke-linejoin="round"/>
<polygon points="464.6,563.0 463.7,564.0 462.4,564.6 462.0,565.3 461.8,566.4 461.6,567.9 460.8,569.1 459.5,569.0 458.3,568.5 457.2,568.0 456.3,567.4 454.9,567.4 454.0,566.6 453.7,565.3 453.9,564.1 454.5,563.0 454.6,562.0 454.3,560.9 454.8,560.0 455.7,559.3 456.5,558.8 457.3,558.1 458.3,557.2 459.5,556.5 460.7,557.2 461.6,558.0 462.1,559.2 462.8,560.0 463.8,560.7 464.3,561.8" fill="none" stroke="#6e3f9c" stroke-width="0.5" stroke-opacity="0.85" stroke-linejoin="round"/>
<polygon points="461.6,561.8 461.3,562.4 461.3,563.2 461.0,563.8 460.6,564.4 460.1,564.8 459.4,565.0 458.7,565.4 457.9,566.0 457.1,565.9 456.2,565.7 455.8,564.8 455.3,564.1 455.0,563.4 454.6,562.6 454.5,561.8 454.8,561.0 455.3,560.4 455.9,560.0 456.4,559.6 456.8,558.9 457.3,558.3 458.0,558.1 458.8,557.9 459.6,558.0 460.4,558.2 461.3,558.5 462.1,559.0 462.5,559.9 462.3,561.0" fill="none" stroke="#6e3f9c" stroke-width="0.5" stroke-opacity="0.85" stroke-linejoin="round"/>
<rect x="0.5" y="0.5" width="519" height="604" fill="none" stroke="#484848" stroke-width="1"/>
<line x1="0" y1="603.4" x2="520" y2="603.4" stroke="#484848" stroke-width="0.3" opacity="0.5"/>
</svg></body></html>
